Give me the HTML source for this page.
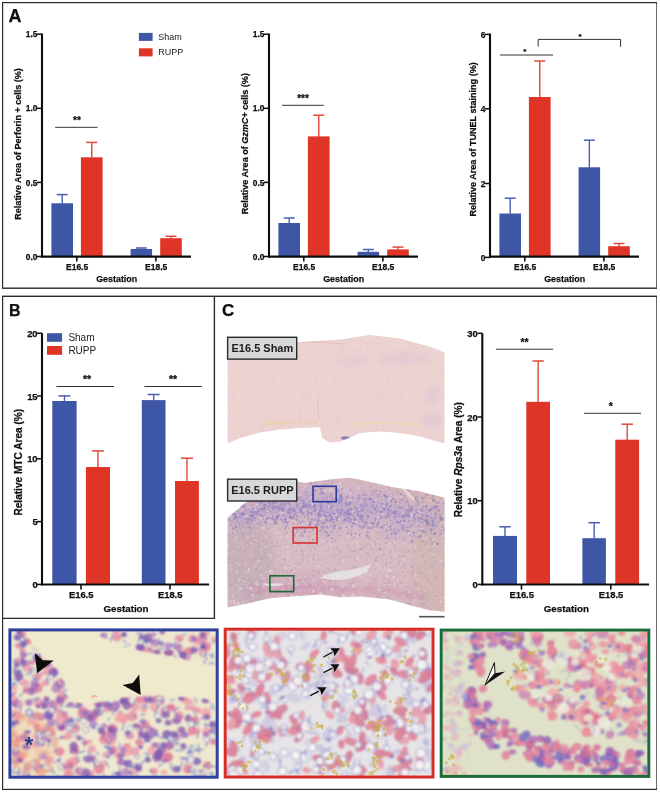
<!DOCTYPE html>
<html><head><meta charset="utf-8"><title>Figure</title>
<style>html,body{margin:0;padding:0;background:#fff;width:660px;height:793px;overflow:hidden}
svg{display:block;font-family:"Liberation Sans", sans-serif}</style></head>
<body>
<svg width="660" height="793" viewBox="0 0 660 793" font-family='"Liberation Sans", sans-serif'>
<rect x="0.00" y="0.00" width="660.00" height="793.00" fill="#fff" />
<defs><filter id="soft" x="0" y="0" width="100%" height="100%"><feGaussianBlur stdDeviation="0.45"/></filter></defs><g filter="url(#soft)">
<rect x="2.5" y="2.5" width="654.5" height="285.7" fill="none" stroke="#2b2b2b" stroke-width="1.4"/>
<rect x="2.5" y="296.3" width="654.5" height="493.2" fill="none" stroke="#2b2b2b" stroke-width="1.4"/>
<polyline points="2.5,618.4 214.4,618.4 214.4,296.3" fill="none" stroke="#2b2b2b" stroke-width="1.4"/>
<text x="8.60" y="21.90" font-size="18" text-anchor="start" font-weight="bold" fill="#111" stroke="#111" stroke-width="0.25" >A</text>
<text x="9.00" y="316.10" font-size="16" text-anchor="start" font-weight="bold" fill="#111" stroke="#111" stroke-width="0.25" >B</text>
<text x="221.90" y="316.40" font-size="17" text-anchor="start" font-weight="bold" fill="#111" stroke="#111" stroke-width="0.25" >C</text>
<rect x="51.40" y="203.30" width="21.60" height="53.20" fill="#3d56a6" />
<line x1="62.20" y1="194.60" x2="62.20" y2="203.80" stroke="#4a5fae" stroke-width="1.4" />
<line x1="56.70" y1="194.60" x2="67.70" y2="194.60" stroke="#4a5fae" stroke-width="1.5" />
<rect x="80.90" y="157.30" width="21.70" height="99.20" fill="#df3626" />
<line x1="91.75" y1="142.40" x2="91.75" y2="157.80" stroke="#e0483a" stroke-width="1.4" />
<line x1="86.25" y1="142.40" x2="97.25" y2="142.40" stroke="#e0483a" stroke-width="1.5" />
<rect x="130.60" y="249.00" width="21.50" height="7.50" fill="#3d56a6" />
<line x1="141.35" y1="248.00" x2="141.35" y2="249.50" stroke="#4a5fae" stroke-width="1.4" />
<line x1="135.85" y1="248.00" x2="146.85" y2="248.00" stroke="#4a5fae" stroke-width="1.5" />
<rect x="160.20" y="238.20" width="21.60" height="18.30" fill="#df3626" />
<line x1="171.00" y1="236.30" x2="171.00" y2="238.70" stroke="#e0483a" stroke-width="1.4" />
<line x1="165.50" y1="236.30" x2="176.50" y2="236.30" stroke="#e0483a" stroke-width="1.5" />
<line x1="42.00" y1="33.50" x2="42.00" y2="257.60" stroke="#111" stroke-width="2.1" />
<line x1="41.00" y1="256.60" x2="191.00" y2="256.60" stroke="#111" stroke-width="2.1" />
<line x1="37.00" y1="34.20" x2="42.00" y2="34.20" stroke="#111" stroke-width="1.5" />
<text x="37.40" y="37.30" font-size="8.4" text-anchor="end" font-weight="bold" fill="#111" stroke="#111" stroke-width="0.25" >1.5</text>
<line x1="37.00" y1="108.30" x2="42.00" y2="108.30" stroke="#111" stroke-width="1.5" />
<text x="37.40" y="111.40" font-size="8.4" text-anchor="end" font-weight="bold" fill="#111" stroke="#111" stroke-width="0.25" >1.0</text>
<line x1="37.00" y1="182.40" x2="42.00" y2="182.40" stroke="#111" stroke-width="1.5" />
<text x="37.40" y="185.50" font-size="8.4" text-anchor="end" font-weight="bold" fill="#111" stroke="#111" stroke-width="0.25" >0.5</text>
<line x1="37.00" y1="256.50" x2="42.00" y2="256.50" stroke="#111" stroke-width="1.5" />
<text x="37.40" y="259.60" font-size="8.4" text-anchor="end" font-weight="bold" fill="#111" stroke="#111" stroke-width="0.25" >0.0</text>
<line x1="76.80" y1="256.50" x2="76.80" y2="261.40" stroke="#111" stroke-width="1.6" />
<text x="77.10" y="269.70" font-size="8.5" text-anchor="middle" font-weight="bold" fill="#111" stroke="#111" stroke-width="0.25" >E16.5</text>
<line x1="155.90" y1="256.50" x2="155.90" y2="261.40" stroke="#111" stroke-width="1.6" />
<text x="156.20" y="269.70" font-size="8.5" text-anchor="middle" font-weight="bold" fill="#111" stroke="#111" stroke-width="0.25" >E18.5</text>
<text x="116.70" y="281.80" font-size="8.9" text-anchor="middle" font-weight="bold" fill="#111" stroke="#111" stroke-width="0.25" >Gestation</text>
<text transform="translate(21.0,143.9) rotate(-90)" font-size="9.0" text-anchor="middle" font-weight="bold" fill="#111" stroke="#111" stroke-width="0.25">Relative Area of Perforin + cells (%)</text>
<line x1="55.20" y1="127.30" x2="97.60" y2="127.30" stroke="#333" stroke-width="1" />
<text x="77.00" y="124.30" font-size="10" text-anchor="middle" font-weight="bold" fill="#111" stroke="#111" stroke-width="0.25" >**</text>
<rect x="138.90" y="32.90" width="13.70" height="8.00" fill="#3d56a6" />
<rect x="138.90" y="48.30" width="13.70" height="8.10" fill="#df3626" />
<text x="158.20" y="40.20" font-size="9" text-anchor="start" font-weight="normal" fill="#222"  >Sham</text>
<text x="158.20" y="55.00" font-size="9" text-anchor="start" font-weight="normal" fill="#222"  >RUPP</text>
<rect x="278.40" y="223.00" width="21.60" height="33.50" fill="#3d56a6" />
<line x1="289.20" y1="218.00" x2="289.20" y2="223.50" stroke="#4a5fae" stroke-width="1.4" />
<line x1="283.70" y1="218.00" x2="294.70" y2="218.00" stroke="#4a5fae" stroke-width="1.5" />
<rect x="307.90" y="136.40" width="21.70" height="120.10" fill="#df3626" />
<line x1="318.75" y1="115.20" x2="318.75" y2="136.90" stroke="#e0483a" stroke-width="1.4" />
<line x1="313.25" y1="115.20" x2="324.25" y2="115.20" stroke="#e0483a" stroke-width="1.5" />
<rect x="357.60" y="251.80" width="21.50" height="4.70" fill="#3d56a6" />
<line x1="368.35" y1="249.50" x2="368.35" y2="252.30" stroke="#4a5fae" stroke-width="1.4" />
<line x1="362.85" y1="249.50" x2="373.85" y2="249.50" stroke="#4a5fae" stroke-width="1.5" />
<rect x="387.20" y="249.40" width="21.60" height="7.10" fill="#df3626" />
<line x1="398.00" y1="247.10" x2="398.00" y2="249.90" stroke="#e0483a" stroke-width="1.4" />
<line x1="392.50" y1="247.10" x2="403.50" y2="247.10" stroke="#e0483a" stroke-width="1.5" />
<line x1="269.00" y1="33.50" x2="269.00" y2="257.60" stroke="#111" stroke-width="2.1" />
<line x1="268.00" y1="256.60" x2="418.00" y2="256.60" stroke="#111" stroke-width="2.1" />
<line x1="264.00" y1="34.20" x2="269.00" y2="34.20" stroke="#111" stroke-width="1.5" />
<text x="264.40" y="37.30" font-size="8.4" text-anchor="end" font-weight="bold" fill="#111" stroke="#111" stroke-width="0.25" >1.5</text>
<line x1="264.00" y1="108.30" x2="269.00" y2="108.30" stroke="#111" stroke-width="1.5" />
<text x="264.40" y="111.40" font-size="8.4" text-anchor="end" font-weight="bold" fill="#111" stroke="#111" stroke-width="0.25" >1.0</text>
<line x1="264.00" y1="182.40" x2="269.00" y2="182.40" stroke="#111" stroke-width="1.5" />
<text x="264.40" y="185.50" font-size="8.4" text-anchor="end" font-weight="bold" fill="#111" stroke="#111" stroke-width="0.25" >0.5</text>
<line x1="264.00" y1="256.50" x2="269.00" y2="256.50" stroke="#111" stroke-width="1.5" />
<text x="264.40" y="259.60" font-size="8.4" text-anchor="end" font-weight="bold" fill="#111" stroke="#111" stroke-width="0.25" >0.0</text>
<line x1="303.80" y1="256.50" x2="303.80" y2="261.40" stroke="#111" stroke-width="1.6" />
<text x="304.10" y="269.70" font-size="8.5" text-anchor="middle" font-weight="bold" fill="#111" stroke="#111" stroke-width="0.25" >E16.5</text>
<line x1="382.90" y1="256.50" x2="382.90" y2="261.40" stroke="#111" stroke-width="1.6" />
<text x="383.20" y="269.70" font-size="8.5" text-anchor="middle" font-weight="bold" fill="#111" stroke="#111" stroke-width="0.25" >E18.5</text>
<text x="343.70" y="281.80" font-size="8.9" text-anchor="middle" font-weight="bold" fill="#111" stroke="#111" stroke-width="0.25" >Gestation</text>
<text transform="translate(248.0,143.7) rotate(-90)" font-size="9.05" text-anchor="middle" font-weight="bold" fill="#111" stroke="#111" stroke-width="0.25">Relative Area of <tspan font-style="italic">GzmC</tspan>+ cells (%)</text>
<line x1="282.00" y1="105.30" x2="323.80" y2="105.30" stroke="#333" stroke-width="1" />
<text x="303.00" y="102.30" font-size="10" text-anchor="middle" font-weight="bold" fill="#111" stroke="#111" stroke-width="0.25" >***</text>
<rect x="499.40" y="213.50" width="21.60" height="43.00" fill="#3d56a6" />
<line x1="510.20" y1="198.20" x2="510.20" y2="214.00" stroke="#4a5fae" stroke-width="1.4" />
<line x1="504.70" y1="198.20" x2="515.70" y2="198.20" stroke="#4a5fae" stroke-width="1.5" />
<rect x="528.90" y="97.00" width="21.70" height="159.50" fill="#df3626" />
<line x1="539.75" y1="61.00" x2="539.75" y2="97.50" stroke="#e0483a" stroke-width="1.4" />
<line x1="534.25" y1="61.00" x2="545.25" y2="61.00" stroke="#e0483a" stroke-width="1.5" />
<rect x="578.60" y="167.30" width="21.50" height="89.20" fill="#3d56a6" />
<line x1="589.35" y1="140.20" x2="589.35" y2="167.80" stroke="#4a5fae" stroke-width="1.4" />
<line x1="583.85" y1="140.20" x2="594.85" y2="140.20" stroke="#4a5fae" stroke-width="1.5" />
<rect x="608.20" y="246.20" width="21.60" height="10.30" fill="#df3626" />
<line x1="619.00" y1="243.50" x2="619.00" y2="246.70" stroke="#e0483a" stroke-width="1.4" />
<line x1="613.50" y1="243.50" x2="624.50" y2="243.50" stroke="#e0483a" stroke-width="1.5" />
<line x1="490.00" y1="33.50" x2="490.00" y2="257.60" stroke="#111" stroke-width="2.1" />
<line x1="489.00" y1="256.60" x2="639.00" y2="256.60" stroke="#111" stroke-width="2.1" />
<line x1="485.00" y1="34.40" x2="490.00" y2="34.40" stroke="#111" stroke-width="1.5" />
<text x="485.40" y="37.50" font-size="8.4" text-anchor="end" font-weight="bold" fill="#111" stroke="#111" stroke-width="0.25" >6</text>
<line x1="485.00" y1="108.80" x2="490.00" y2="108.80" stroke="#111" stroke-width="1.5" />
<text x="485.40" y="111.90" font-size="8.4" text-anchor="end" font-weight="bold" fill="#111" stroke="#111" stroke-width="0.25" >4</text>
<line x1="485.00" y1="183.50" x2="490.00" y2="183.50" stroke="#111" stroke-width="1.5" />
<text x="485.40" y="186.60" font-size="8.4" text-anchor="end" font-weight="bold" fill="#111" stroke="#111" stroke-width="0.25" >2</text>
<line x1="485.00" y1="257.40" x2="490.00" y2="257.40" stroke="#111" stroke-width="1.5" />
<text x="485.40" y="260.50" font-size="8.4" text-anchor="end" font-weight="bold" fill="#111" stroke="#111" stroke-width="0.25" >0</text>
<line x1="524.80" y1="256.50" x2="524.80" y2="261.40" stroke="#111" stroke-width="1.6" />
<text x="525.10" y="269.70" font-size="8.5" text-anchor="middle" font-weight="bold" fill="#111" stroke="#111" stroke-width="0.25" >E16.5</text>
<line x1="603.90" y1="256.50" x2="603.90" y2="261.40" stroke="#111" stroke-width="1.6" />
<text x="604.20" y="269.70" font-size="8.5" text-anchor="middle" font-weight="bold" fill="#111" stroke="#111" stroke-width="0.25" >E18.5</text>
<text x="564.70" y="281.80" font-size="8.9" text-anchor="middle" font-weight="bold" fill="#111" stroke="#111" stroke-width="0.25" >Gestation</text>
<text transform="translate(475.5,139.45) rotate(-90)" font-size="9.05" text-anchor="middle" font-weight="bold" fill="#111" stroke="#111" stroke-width="0.25">Relative Area of TUNEL staining (%)</text>
<line x1="500.00" y1="55.00" x2="553.00" y2="55.00" stroke="#777" stroke-width="1.3" />
<text x="524.80" y="53.50" font-size="8" text-anchor="middle" font-weight="bold" fill="#111" stroke="#111" stroke-width="0.25" >*</text>
<polyline points="538.2,46.5 538.2,39.4 620.6,39.4 620.6,46.8" fill="none" stroke="#333" stroke-width="1"/>
<text x="580.00" y="39.20" font-size="8" text-anchor="middle" font-weight="bold" fill="#111" stroke="#111" stroke-width="0.25" >*</text>
<rect x="52.30" y="401.00" width="24.30" height="183.40" fill="#3d56a6" />
<line x1="64.45" y1="395.90" x2="64.45" y2="401.50" stroke="#4a5fae" stroke-width="1.4" />
<line x1="58.45" y1="395.90" x2="70.45" y2="395.90" stroke="#4a5fae" stroke-width="1.5" />
<rect x="85.90" y="467.00" width="24.10" height="117.40" fill="#df3626" />
<line x1="97.95" y1="450.90" x2="97.95" y2="467.50" stroke="#e0483a" stroke-width="1.4" />
<line x1="91.95" y1="450.90" x2="103.95" y2="450.90" stroke="#e0483a" stroke-width="1.5" />
<rect x="141.80" y="400.10" width="23.70" height="184.30" fill="#3d56a6" />
<line x1="153.65" y1="394.50" x2="153.65" y2="400.60" stroke="#4a5fae" stroke-width="1.4" />
<line x1="147.65" y1="394.50" x2="159.65" y2="394.50" stroke="#4a5fae" stroke-width="1.5" />
<rect x="175.00" y="481.00" width="23.90" height="103.40" fill="#df3626" />
<line x1="186.95" y1="458.20" x2="186.95" y2="481.50" stroke="#e0483a" stroke-width="1.4" />
<line x1="180.95" y1="458.20" x2="192.95" y2="458.20" stroke="#e0483a" stroke-width="1.5" />
<line x1="42.00" y1="333.20" x2="42.00" y2="585.50" stroke="#111" stroke-width="2.1" />
<line x1="41.00" y1="584.50" x2="209.10" y2="584.50" stroke="#111" stroke-width="2.1" />
<line x1="37.00" y1="333.20" x2="42.00" y2="333.20" stroke="#111" stroke-width="1.5" />
<text x="37.60" y="336.70" font-size="9.4" text-anchor="end" font-weight="bold" fill="#111" stroke="#111" stroke-width="0.25" >20</text>
<line x1="37.00" y1="396.00" x2="42.00" y2="396.00" stroke="#111" stroke-width="1.5" />
<text x="37.60" y="399.50" font-size="9.4" text-anchor="end" font-weight="bold" fill="#111" stroke="#111" stroke-width="0.25" >15</text>
<line x1="37.00" y1="458.80" x2="42.00" y2="458.80" stroke="#111" stroke-width="1.5" />
<text x="37.60" y="462.30" font-size="9.4" text-anchor="end" font-weight="bold" fill="#111" stroke="#111" stroke-width="0.25" >10</text>
<line x1="37.00" y1="521.60" x2="42.00" y2="521.60" stroke="#111" stroke-width="1.5" />
<text x="37.60" y="525.10" font-size="9.4" text-anchor="end" font-weight="bold" fill="#111" stroke="#111" stroke-width="0.25" >5</text>
<line x1="37.00" y1="584.40" x2="42.00" y2="584.40" stroke="#111" stroke-width="1.5" />
<text x="37.60" y="587.90" font-size="9.4" text-anchor="end" font-weight="bold" fill="#111" stroke="#111" stroke-width="0.25" >0</text>
<line x1="81.00" y1="584.40" x2="81.00" y2="589.60" stroke="#111" stroke-width="1.6" />
<text x="81.20" y="598.40" font-size="9.4" text-anchor="middle" font-weight="bold" fill="#111" stroke="#111" stroke-width="0.25" >E16.5</text>
<line x1="170.00" y1="584.40" x2="170.00" y2="589.60" stroke="#111" stroke-width="1.6" />
<text x="170.20" y="598.40" font-size="9.4" text-anchor="middle" font-weight="bold" fill="#111" stroke="#111" stroke-width="0.25" >E18.5</text>
<text x="126.00" y="612.20" font-size="9.8" text-anchor="middle" font-weight="bold" fill="#111" stroke="#111" stroke-width="0.25" >Gestation</text>
<line x1="56.40" y1="386.50" x2="114.00" y2="386.50" stroke="#333" stroke-width="1" />
<text x="87.00" y="383.00" font-size="10.5" text-anchor="middle" font-weight="bold" fill="#111" stroke="#111" stroke-width="0.25" >**</text>
<line x1="144.40" y1="386.50" x2="201.90" y2="386.50" stroke="#333" stroke-width="1" />
<text x="173.10" y="383.00" font-size="10.5" text-anchor="middle" font-weight="bold" fill="#111" stroke="#111" stroke-width="0.25" >**</text>
<rect x="47.00" y="333.20" width="15.10" height="8.60" fill="#3d56a6" />
<rect x="47.00" y="346.00" width="15.10" height="8.80" fill="#df3626" />
<text x="68.40" y="341.00" font-size="10" text-anchor="start" font-weight="normal" fill="#222"  >Sham</text>
<text x="68.40" y="353.60" font-size="10" text-anchor="start" font-weight="normal" fill="#222"  >RUPP</text>
<text transform="translate(21.8,462.2) rotate(-90)" font-size="10.1" text-anchor="middle" font-weight="bold" fill="#111" stroke="#111" stroke-width="0.25">Relative MTC Area (%)</text>
<rect x="493.00" y="535.90" width="24.00" height="48.50" fill="#3d56a6" />
<line x1="505.00" y1="526.80" x2="505.00" y2="536.40" stroke="#4a5fae" stroke-width="1.4" />
<line x1="499.25" y1="526.80" x2="510.75" y2="526.80" stroke="#4a5fae" stroke-width="1.5" />
<rect x="526.30" y="401.80" width="23.70" height="182.60" fill="#df3626" />
<line x1="538.15" y1="361.00" x2="538.15" y2="402.30" stroke="#e0483a" stroke-width="1.4" />
<line x1="532.40" y1="361.00" x2="543.90" y2="361.00" stroke="#e0483a" stroke-width="1.5" />
<rect x="582.40" y="538.20" width="23.50" height="46.20" fill="#3d56a6" />
<line x1="594.15" y1="522.70" x2="594.15" y2="538.70" stroke="#4a5fae" stroke-width="1.4" />
<line x1="588.40" y1="522.70" x2="599.90" y2="522.70" stroke="#4a5fae" stroke-width="1.5" />
<rect x="615.30" y="439.70" width="23.80" height="144.70" fill="#df3626" />
<line x1="627.20" y1="424.20" x2="627.20" y2="440.20" stroke="#e0483a" stroke-width="1.4" />
<line x1="621.45" y1="424.20" x2="632.95" y2="424.20" stroke="#e0483a" stroke-width="1.5" />
<line x1="482.30" y1="333.30" x2="482.30" y2="585.50" stroke="#111" stroke-width="2.1" />
<line x1="481.30" y1="584.50" x2="649.10" y2="584.50" stroke="#111" stroke-width="2.1" />
<line x1="477.50" y1="333.30" x2="482.30" y2="333.30" stroke="#111" stroke-width="1.5" />
<text x="477.80" y="336.80" font-size="9.4" text-anchor="end" font-weight="bold" fill="#111" stroke="#111" stroke-width="0.25" >30</text>
<line x1="477.50" y1="417.00" x2="482.30" y2="417.00" stroke="#111" stroke-width="1.5" />
<text x="477.80" y="420.50" font-size="9.4" text-anchor="end" font-weight="bold" fill="#111" stroke="#111" stroke-width="0.25" >20</text>
<line x1="477.50" y1="500.70" x2="482.30" y2="500.70" stroke="#111" stroke-width="1.5" />
<text x="477.80" y="504.20" font-size="9.4" text-anchor="end" font-weight="bold" fill="#111" stroke="#111" stroke-width="0.25" >10</text>
<line x1="477.50" y1="584.40" x2="482.30" y2="584.40" stroke="#111" stroke-width="1.5" />
<text x="477.80" y="587.90" font-size="9.4" text-anchor="end" font-weight="bold" fill="#111" stroke="#111" stroke-width="0.25" >0</text>
<line x1="521.50" y1="584.40" x2="521.50" y2="589.60" stroke="#111" stroke-width="1.6" />
<text x="521.70" y="598.40" font-size="9.4" text-anchor="middle" font-weight="bold" fill="#111" stroke="#111" stroke-width="0.25" >E16.5</text>
<line x1="610.80" y1="584.40" x2="610.80" y2="589.60" stroke="#111" stroke-width="1.6" />
<text x="611.00" y="598.40" font-size="9.4" text-anchor="middle" font-weight="bold" fill="#111" stroke="#111" stroke-width="0.25" >E18.5</text>
<text x="566.30" y="612.40" font-size="9.8" text-anchor="middle" font-weight="bold" fill="#111" stroke="#111" stroke-width="0.25" >Gestation</text>
<line x1="495.90" y1="349.20" x2="553.10" y2="349.20" stroke="#333" stroke-width="1" />
<text x="524.50" y="345.70" font-size="10.5" text-anchor="middle" font-weight="bold" fill="#111" stroke="#111" stroke-width="0.25" >**</text>
<line x1="584.10" y1="413.30" x2="641.00" y2="413.30" stroke="#333" stroke-width="1" />
<text x="610.80" y="409.80" font-size="10.5" text-anchor="middle" font-weight="bold" fill="#111" stroke="#111" stroke-width="0.25" >*</text>
<text transform="translate(461.8,459.75) rotate(-90)" font-size="10.1" text-anchor="middle" font-weight="bold" fill="#111" stroke="#111" stroke-width="0.25">Relative <tspan font-style="italic">Rps3a</tspan> Area (%)</text>
<defs>
<filter id="bl" x="-5%" y="-5%" width="110%" height="110%"><feGaussianBlur stdDeviation="0.6"/></filter>
<filter id="bl1" x="-5%" y="-5%" width="110%" height="110%"><feGaussianBlur stdDeviation="1"/></filter>
<filter id="bl2" x="-10%" y="-10%" width="120%" height="120%"><feGaussianBlur stdDeviation="2.5"/></filter>
<filter id="bl4" x="-20%" y="-20%" width="140%" height="140%"><feGaussianBlur stdDeviation="4"/></filter>
<clipPath id="cb"><rect x="11" y="631" width="205" height="145"/></clipPath>
<clipPath id="cr"><rect x="226.5" y="630.7" width="205" height="145"/></clipPath>
<clipPath id="cg"><rect x="442.7" y="631.5" width="204.7" height="143.5"/></clipPath>
<clipPath id="csham"><polygon points="227.6,345.0 260.0,343.5 300.0,342.0 340.0,339.5 370.0,335.0 400.0,338.6 430.0,346.8 444.5,352.3 444.5,443.6 420.0,436.6 400.0,433.1 380.0,431.4 360.0,433.1 350.0,437.6 340.0,441.8 330.0,442.5 322.0,438.0 320.0,427.2 300.0,427.9 280.0,429.6 260.0,432.4 240.0,438.3 227.6,443.6"/></clipPath>
<clipPath id="crupp"><polygon points="227.6,517.7 237.0,510.0 245.0,503.0 260.0,492.0 280.0,484.0 297.0,481.4 305.0,483.0 330.0,479.5 350.0,477.7 375.0,483.0 390.0,486.8 420.0,491.4 444.5,497.7 444.5,611.6 430.0,610.2 410.0,605.3 390.0,599.4 360.0,596.4 340.0,597.3 320.0,594.5 290.0,596.4 270.0,598.2 250.0,602.7 227.6,607.6"/></clipPath>
<linearGradient id="rg" x1="0" y1="0" x2="0" y2="1"><stop offset="0" stop-color="#d2b6c8"/><stop offset="0.5" stop-color="#d8bcc4"/><stop offset="1" stop-color="#d6b8bf"/></linearGradient>
</defs>
<polygon points="227.6,345.0 260.0,343.5 300.0,342.0 340.0,339.5 370.0,335.0 400.0,338.6 430.0,346.8 444.5,352.3 444.5,443.6 420.0,436.6 400.0,433.1 380.0,431.4 360.0,433.1 350.0,437.6 340.0,441.8 330.0,442.5 322.0,438.0 320.0,427.2 300.0,427.9 280.0,429.6 260.0,432.4 240.0,438.3 227.6,443.6" fill="#ecd2d1"/>
<g clip-path="url(#csham)">
<g filter="url(#bl)"><g fill="#e6c8c8" opacity="0.6" ><circle cx="236.1" cy="443" r="1.4"/><circle cx="369.6" cy="402.3" r="0.6"/><circle cx="268.5" cy="360.9" r="0.5"/><circle cx="381.3" cy="369" r="0.7"/><circle cx="435.9" cy="428.1" r="0.5"/><circle cx="392.3" cy="347.1" r="0.7"/><circle cx="367.3" cy="346.9" r="0.9"/><circle cx="273.5" cy="362.7" r="1.2"/><circle cx="298.7" cy="366.9" r="0.6"/><circle cx="358.6" cy="380.8" r="0.6"/><circle cx="380.6" cy="362.5" r="1.2"/><circle cx="311.7" cy="415.6" r="1"/><circle cx="335.4" cy="402.2" r="1.3"/><circle cx="282.8" cy="335.3" r="0.8"/><circle cx="334.7" cy="369" r="1.3"/><circle cx="364.2" cy="383.6" r="1.1"/><circle cx="369.8" cy="423.6" r="1.4"/><circle cx="309.1" cy="397.1" r="1.3"/><circle cx="273.5" cy="433.9" r="1.4"/><circle cx="296.8" cy="435" r="1.3"/><circle cx="303" cy="343.2" r="0.9"/><circle cx="401.4" cy="353.2" r="0.8"/><circle cx="349.1" cy="368.6" r="0.8"/><circle cx="351.9" cy="356.3" r="1"/><circle cx="396.9" cy="336.5" r="0.7"/><circle cx="276.5" cy="410.3" r="0.8"/><circle cx="322.2" cy="375.7" r="0.9"/><circle cx="420.5" cy="348.9" r="0.7"/><circle cx="337.2" cy="418.2" r="1"/><circle cx="250.1" cy="338.2" r="1"/><circle cx="442.9" cy="436.9" r="0.6"/><circle cx="338.7" cy="335.7" r="1.3"/><circle cx="364.2" cy="378.9" r="1"/><circle cx="336.9" cy="443.1" r="1.2"/><circle cx="370.8" cy="397.2" r="1"/><circle cx="281.7" cy="434.5" r="1"/><circle cx="337.7" cy="441.4" r="1"/><circle cx="318.7" cy="392.5" r="1"/><circle cx="236.3" cy="351.4" r="1.2"/><circle cx="312" cy="433.6" r="1.2"/><circle cx="329.1" cy="442.6" r="1.2"/><circle cx="342.1" cy="347.8" r="0.9"/><circle cx="372.6" cy="384.6" r="0.7"/><circle cx="353.9" cy="380.6" r="1.2"/><circle cx="301.9" cy="416.7" r="1.3"/><circle cx="248.1" cy="431.1" r="0.6"/><circle cx="245.1" cy="396.6" r="0.9"/><circle cx="243.6" cy="357.7" r="1.1"/><circle cx="400.8" cy="394" r="1.3"/><circle cx="419" cy="365.2" r="0.5"/><circle cx="423" cy="343.4" r="1.1"/><circle cx="258.4" cy="416.8" r="1.1"/><circle cx="334.6" cy="393.6" r="1.1"/><circle cx="381.4" cy="435.6" r="0.9"/><circle cx="381.8" cy="423.1" r="0.9"/><circle cx="443" cy="375.7" r="0.7"/><circle cx="250.7" cy="354.5" r="0.7"/><circle cx="264.6" cy="418.1" r="0.8"/><circle cx="301.6" cy="394.8" r="1.4"/><circle cx="365.9" cy="444.2" r="0.7"/><circle cx="227.3" cy="425.2" r="1.3"/><circle cx="329.2" cy="440.1" r="1"/><circle cx="317.9" cy="435.8" r="0.6"/><circle cx="294.9" cy="368.5" r="0.6"/><circle cx="270.6" cy="415.2" r="0.8"/><circle cx="433" cy="396.5" r="1.2"/><circle cx="315.7" cy="342.1" r="1.3"/><circle cx="399.1" cy="407.3" r="1"/><circle cx="368.9" cy="345.8" r="0.8"/><circle cx="346.4" cy="342.5" r="0.5"/><circle cx="370.5" cy="368.1" r="1.1"/><circle cx="413.4" cy="379.4" r="0.9"/><circle cx="399.7" cy="347.7" r="1"/><circle cx="434.3" cy="334.1" r="0.7"/><circle cx="292.2" cy="370" r="0.6"/><circle cx="422.1" cy="424.5" r="0.9"/><circle cx="428.1" cy="433.5" r="0.7"/><circle cx="409.7" cy="373.3" r="0.9"/><circle cx="370.5" cy="420.9" r="1"/><circle cx="382.8" cy="397.6" r="1.3"/><circle cx="335.2" cy="382.2" r="0.9"/><circle cx="284.3" cy="422.6" r="0.6"/><circle cx="240.3" cy="379.6" r="0.8"/><circle cx="274.2" cy="441.7" r="0.5"/><circle cx="333.7" cy="418.5" r="1.4"/><circle cx="257.9" cy="377.6" r="0.8"/><circle cx="319.5" cy="342.5" r="0.5"/><circle cx="279.7" cy="385.2" r="1.3"/><circle cx="420.2" cy="385.3" r="0.9"/><circle cx="346.8" cy="352.2" r="0.7"/><circle cx="382.9" cy="363.8" r="0.8"/><circle cx="256.6" cy="412.4" r="0.7"/><circle cx="278.1" cy="404.2" r="0.6"/><circle cx="319.1" cy="350.7" r="1"/><circle cx="232" cy="377.4" r="0.8"/><circle cx="425.3" cy="338.2" r="0.6"/><circle cx="337.5" cy="368.3" r="0.8"/><circle cx="440" cy="350.6" r="0.7"/><circle cx="279.2" cy="388.8" r="1.1"/><circle cx="362.5" cy="388.5" r="1"/><circle cx="281.9" cy="413.4" r="0.8"/><circle cx="299.8" cy="418.3" r="1.3"/><circle cx="318.4" cy="404.1" r="0.9"/><circle cx="430.5" cy="443.8" r="0.5"/><circle cx="378.3" cy="394.6" r="1.2"/><circle cx="430.5" cy="361.9" r="0.9"/><circle cx="306.8" cy="362.8" r="0.5"/><circle cx="241" cy="433.1" r="0.8"/><circle cx="444.4" cy="356.4" r="1.3"/><circle cx="323.6" cy="426.5" r="1.2"/><circle cx="314.7" cy="412.3" r="0.7"/><circle cx="389" cy="394.6" r="1.1"/><circle cx="303.4" cy="381.8" r="0.5"/><circle cx="416.1" cy="348.1" r="1.4"/><circle cx="334.1" cy="360" r="1.3"/><circle cx="400.9" cy="390.8" r="1.4"/><circle cx="415.5" cy="426.6" r="0.6"/><circle cx="287.7" cy="400.9" r="1.1"/><circle cx="326.2" cy="437.6" r="0.8"/><circle cx="384.6" cy="408.3" r="0.8"/><circle cx="443.4" cy="377.9" r="1.2"/><circle cx="313" cy="416.3" r="0.6"/><circle cx="386.3" cy="420.1" r="0.6"/><circle cx="337.6" cy="347.8" r="1"/><circle cx="255.3" cy="343.8" r="1"/><circle cx="382.3" cy="351.4" r="1"/><circle cx="420.3" cy="439.1" r="1"/><circle cx="336.2" cy="434.3" r="0.9"/><circle cx="307.2" cy="381.6" r="0.9"/><circle cx="305.1" cy="381.8" r="0.9"/><circle cx="275.5" cy="345" r="0.8"/><circle cx="238.6" cy="344.3" r="0.7"/><circle cx="387.6" cy="380.4" r="1.1"/><circle cx="309.4" cy="383.7" r="0.9"/><circle cx="372.2" cy="394.8" r="0.6"/><circle cx="349.1" cy="436.4" r="0.7"/><circle cx="410.6" cy="373.8" r="1"/><circle cx="379" cy="359.9" r="0.7"/><circle cx="349" cy="442.3" r="1.3"/><circle cx="354" cy="433.8" r="1.3"/><circle cx="383.6" cy="366.3" r="1.3"/><circle cx="290.9" cy="362.1" r="0.6"/><circle cx="350.4" cy="372.7" r="0.7"/><circle cx="249.2" cy="396.8" r="0.6"/><circle cx="376.4" cy="428.9" r="1.2"/><circle cx="267.2" cy="392.5" r="0.8"/><circle cx="233.9" cy="346.4" r="1.3"/><circle cx="407.9" cy="410.4" r="1"/><circle cx="227.1" cy="341.5" r="1.2"/><circle cx="267.2" cy="359.8" r="0.8"/><circle cx="230" cy="389.4" r="0.8"/><circle cx="269" cy="349.1" r="1.1"/><circle cx="419.4" cy="414.6" r="1.4"/><circle cx="293.9" cy="354.3" r="0.6"/><circle cx="439" cy="385" r="1"/><circle cx="361.9" cy="375" r="0.9"/><circle cx="412.9" cy="431.9" r="0.6"/><circle cx="264.3" cy="414.3" r="0.7"/><circle cx="428.1" cy="391.1" r="0.8"/><circle cx="227.4" cy="389.1" r="0.7"/><circle cx="323.5" cy="343.4" r="1.2"/><circle cx="319.9" cy="395.6" r="1.4"/><circle cx="404.6" cy="367.7" r="0.7"/><circle cx="301.8" cy="421.9" r="1"/><circle cx="267.5" cy="411.1" r="1.2"/><circle cx="232" cy="351.9" r="1.2"/><circle cx="378.4" cy="391.3" r="0.8"/><circle cx="434.5" cy="402.8" r="1.4"/><circle cx="340.9" cy="388.2" r="0.5"/><circle cx="389.3" cy="361.7" r="0.7"/><circle cx="330.3" cy="440.5" r="0.6"/><circle cx="394" cy="340.3" r="0.6"/><circle cx="321.3" cy="345.8" r="0.9"/><circle cx="352" cy="416.6" r="0.9"/><circle cx="238.9" cy="386.6" r="0.5"/><circle cx="242.9" cy="377.4" r="0.9"/><circle cx="283.1" cy="421.8" r="1.1"/><circle cx="316.6" cy="367.7" r="1.2"/><circle cx="230.6" cy="380.2" r="1.2"/><circle cx="283.6" cy="402.1" r="0.7"/><circle cx="421.8" cy="407.6" r="0.8"/><circle cx="359.1" cy="385.1" r="1"/><circle cx="305.1" cy="393.6" r="0.5"/><circle cx="281.4" cy="353.7" r="0.6"/><circle cx="245.7" cy="422.1" r="1.2"/><circle cx="300.5" cy="431.5" r="0.7"/><circle cx="404.1" cy="397.3" r="1"/><circle cx="301.4" cy="382.8" r="0.9"/><circle cx="407.4" cy="435.6" r="1.1"/><circle cx="274.1" cy="432" r="1.3"/></g><g fill="#f0d8d6" opacity="0.6" ><circle cx="340.2" cy="405.1" r="0.9"/><circle cx="290" cy="341.8" r="1.2"/><circle cx="364.2" cy="420.4" r="0.7"/><circle cx="265.7" cy="396.1" r="0.9"/><circle cx="273.4" cy="363.9" r="1.4"/><circle cx="425" cy="424.8" r="0.7"/><circle cx="269.9" cy="439.5" r="1.3"/><circle cx="235.4" cy="440.9" r="0.7"/><circle cx="348.9" cy="428.6" r="1.1"/><circle cx="377.7" cy="398.9" r="0.6"/><circle cx="359.7" cy="342.9" r="1.1"/><circle cx="426.3" cy="431.7" r="0.8"/><circle cx="399.5" cy="336.1" r="0.6"/><circle cx="278.8" cy="349.6" r="0.5"/><circle cx="376.2" cy="356.1" r="0.9"/><circle cx="347" cy="419.3" r="0.9"/><circle cx="412.5" cy="441.5" r="1"/><circle cx="438.3" cy="391.3" r="0.9"/><circle cx="377.6" cy="341.3" r="1"/><circle cx="304.5" cy="402.8" r="0.6"/><circle cx="386.3" cy="347.6" r="1"/><circle cx="342.4" cy="351.7" r="0.7"/><circle cx="277.7" cy="416.2" r="1.2"/><circle cx="385.4" cy="362.8" r="0.6"/><circle cx="254.5" cy="378.7" r="1.1"/><circle cx="230.9" cy="356.3" r="1.1"/><circle cx="425.7" cy="441.5" r="0.6"/><circle cx="339.2" cy="397.1" r="0.6"/><circle cx="267.2" cy="356.6" r="1.3"/><circle cx="240.5" cy="439.6" r="0.9"/><circle cx="266.5" cy="384.4" r="1.2"/><circle cx="329.2" cy="335.2" r="0.8"/><circle cx="311.9" cy="445" r="1.1"/><circle cx="269.6" cy="375.7" r="0.6"/><circle cx="243.6" cy="400.3" r="1.2"/><circle cx="236.8" cy="437.2" r="0.6"/><circle cx="440.6" cy="435.6" r="1.3"/><circle cx="345.1" cy="342" r="0.6"/><circle cx="374.4" cy="395.1" r="1.1"/><circle cx="319.5" cy="362.6" r="1.2"/><circle cx="297.9" cy="394.9" r="1.2"/><circle cx="244.8" cy="367.7" r="1.2"/><circle cx="378.3" cy="365.4" r="0.6"/><circle cx="427.2" cy="438.3" r="1.3"/><circle cx="306.7" cy="374.3" r="0.9"/><circle cx="339.4" cy="394.4" r="1"/><circle cx="241" cy="394.7" r="1.2"/><circle cx="280.5" cy="358.5" r="1.2"/><circle cx="300.6" cy="441.5" r="1.1"/><circle cx="407.1" cy="408" r="1.3"/><circle cx="271.6" cy="381.2" r="0.8"/><circle cx="252" cy="405.9" r="1.2"/><circle cx="266.1" cy="340.9" r="0.9"/><circle cx="275.8" cy="354.5" r="0.8"/><circle cx="283.8" cy="432.5" r="1.3"/><circle cx="332.2" cy="358.5" r="0.5"/><circle cx="229.4" cy="386.5" r="0.8"/><circle cx="407.1" cy="357.1" r="1"/><circle cx="443.2" cy="422.7" r="0.7"/><circle cx="361.3" cy="366.2" r="0.8"/><circle cx="276.4" cy="351.4" r="0.6"/><circle cx="320.1" cy="390.8" r="1.1"/><circle cx="280.3" cy="398" r="1.1"/><circle cx="349.2" cy="396.2" r="0.7"/><circle cx="266.3" cy="443.6" r="1.3"/><circle cx="351.2" cy="353.3" r="1"/><circle cx="329.4" cy="379.7" r="1.1"/><circle cx="341.5" cy="382" r="1.3"/><circle cx="242.2" cy="347.8" r="0.9"/><circle cx="293.8" cy="377.9" r="0.7"/><circle cx="271" cy="404.2" r="0.7"/><circle cx="385.2" cy="368.7" r="1.3"/><circle cx="429" cy="408" r="0.7"/><circle cx="289.2" cy="417.9" r="0.7"/><circle cx="287.8" cy="394.8" r="0.7"/><circle cx="422.6" cy="443.6" r="0.5"/><circle cx="348.2" cy="405.6" r="0.8"/><circle cx="397" cy="352.3" r="1"/><circle cx="398.5" cy="421.8" r="0.7"/><circle cx="424.8" cy="397.1" r="1"/><circle cx="235.6" cy="360.7" r="1.3"/><circle cx="277.1" cy="362.1" r="1"/><circle cx="306.4" cy="371.4" r="1.4"/><circle cx="378.4" cy="430" r="1"/><circle cx="284.2" cy="377.6" r="1.3"/><circle cx="295.1" cy="381.1" r="1"/><circle cx="439.7" cy="367.1" r="1.1"/><circle cx="310.6" cy="370.4" r="0.9"/><circle cx="346.5" cy="403.3" r="1"/><circle cx="302.6" cy="432.4" r="0.8"/><circle cx="343.4" cy="360.3" r="0.7"/><circle cx="297.8" cy="353.7" r="1"/><circle cx="400.6" cy="377.5" r="1.1"/><circle cx="407.6" cy="397" r="0.9"/><circle cx="401.7" cy="347.9" r="0.8"/><circle cx="372.9" cy="359.6" r="0.7"/><circle cx="230" cy="399" r="1.3"/><circle cx="438.6" cy="348.8" r="1.1"/><circle cx="289.4" cy="415.2" r="1.4"/><circle cx="253.2" cy="370.6" r="0.5"/><circle cx="288.9" cy="377.5" r="1.1"/><circle cx="350.4" cy="349.9" r="1.1"/><circle cx="431.7" cy="430" r="1.4"/><circle cx="252.9" cy="342.3" r="0.8"/><circle cx="441.9" cy="345.2" r="1.4"/><circle cx="276.5" cy="377.1" r="0.8"/><circle cx="424.3" cy="369.7" r="0.6"/><circle cx="344.1" cy="439.7" r="0.7"/><circle cx="418.9" cy="369.6" r="1.2"/><circle cx="267" cy="373.6" r="1.4"/><circle cx="259.3" cy="404.5" r="0.8"/><circle cx="409.6" cy="410.6" r="0.9"/><circle cx="339.3" cy="337.6" r="1.1"/><circle cx="443.4" cy="415.9" r="0.8"/><circle cx="241.1" cy="430.6" r="1.1"/><circle cx="281.7" cy="423.6" r="0.9"/><circle cx="343.9" cy="430.1" r="0.7"/><circle cx="400.7" cy="350.8" r="0.8"/><circle cx="266.6" cy="377.1" r="1.3"/><circle cx="361.5" cy="434.1" r="0.6"/><circle cx="372.7" cy="381.8" r="0.5"/><circle cx="301" cy="369" r="1.1"/><circle cx="326.6" cy="390.2" r="1.3"/><circle cx="405.9" cy="428.4" r="1"/><circle cx="368.7" cy="411.8" r="1.4"/><circle cx="263.4" cy="406" r="1.1"/><circle cx="251.2" cy="421.6" r="0.8"/><circle cx="325.5" cy="396" r="0.9"/><circle cx="233.2" cy="346.2" r="0.8"/><circle cx="298.7" cy="388.3" r="1.1"/><circle cx="295.5" cy="387.7" r="0.7"/><circle cx="239.4" cy="418.8" r="0.5"/><circle cx="441.4" cy="435.8" r="0.6"/><circle cx="252.7" cy="369.5" r="1.2"/><circle cx="317.4" cy="393.5" r="1.3"/><circle cx="374" cy="437" r="0.9"/><circle cx="241" cy="425.6" r="0.8"/><circle cx="326.4" cy="388" r="0.7"/><circle cx="377.3" cy="374.4" r="1.4"/><circle cx="385.5" cy="363.4" r="0.7"/><circle cx="287.5" cy="390.5" r="1.3"/><circle cx="359.8" cy="394.4" r="1.2"/><circle cx="340.6" cy="342.6" r="1"/><circle cx="349.4" cy="349" r="0.8"/><circle cx="333.8" cy="399.6" r="1.1"/><circle cx="300.1" cy="372.5" r="0.5"/><circle cx="341.7" cy="371.2" r="1.1"/><circle cx="298.8" cy="414.6" r="1.1"/><circle cx="393.4" cy="361.1" r="0.7"/><circle cx="311.4" cy="349" r="1.2"/><circle cx="388.6" cy="386.8" r="1.2"/><circle cx="271.8" cy="431.5" r="1.4"/><circle cx="257.9" cy="413.3" r="1.4"/><circle cx="286.5" cy="438.2" r="0.6"/><circle cx="341.9" cy="394" r="1"/><circle cx="328.4" cy="354.3" r="0.5"/><circle cx="293.3" cy="338.6" r="0.7"/><circle cx="288.9" cy="344.8" r="1.1"/><circle cx="246.6" cy="389.2" r="0.9"/><circle cx="282.5" cy="434.2" r="1"/><circle cx="376.4" cy="422.5" r="1.1"/><circle cx="403.5" cy="422.9" r="0.7"/><circle cx="241.1" cy="408.1" r="0.6"/><circle cx="441.1" cy="430.7" r="0.8"/><circle cx="441.7" cy="403.1" r="0.6"/><circle cx="385.4" cy="340.5" r="1.3"/><circle cx="321.4" cy="410.1" r="1.2"/><circle cx="423.8" cy="361.9" r="1"/><circle cx="444.4" cy="392.6" r="0.7"/><circle cx="322.4" cy="348.2" r="0.9"/><circle cx="326.1" cy="375.7" r="1.3"/><circle cx="276.3" cy="419.5" r="1"/><circle cx="273.1" cy="412.1" r="1.1"/><circle cx="330.3" cy="368.8" r="0.9"/><circle cx="354.1" cy="344.6" r="0.5"/></g><g fill="#e8cccc" opacity="0.6" ><circle cx="325.6" cy="396.1" r="1.3"/><circle cx="444.5" cy="444.5" r="1.3"/><circle cx="314.3" cy="428" r="0.8"/><circle cx="440.7" cy="378.1" r="0.6"/><circle cx="249" cy="340.6" r="1.2"/><circle cx="268.6" cy="415.2" r="0.6"/><circle cx="402.1" cy="367.8" r="1.3"/><circle cx="272.9" cy="377.8" r="1.3"/><circle cx="366.9" cy="345.1" r="1.4"/><circle cx="246.6" cy="398.7" r="0.7"/><circle cx="358.1" cy="375.3" r="0.9"/><circle cx="268.4" cy="416.1" r="1.3"/><circle cx="288.1" cy="435.8" r="0.7"/><circle cx="365.7" cy="387.5" r="1.2"/><circle cx="346" cy="415.8" r="1.3"/><circle cx="443.5" cy="431.7" r="1.2"/><circle cx="323" cy="427.1" r="0.6"/><circle cx="390.5" cy="337.3" r="1"/><circle cx="421.4" cy="370.3" r="1.1"/><circle cx="354.1" cy="369.1" r="0.6"/><circle cx="263.9" cy="384" r="0.7"/><circle cx="382.7" cy="353.9" r="0.7"/><circle cx="325.9" cy="403.4" r="1.3"/><circle cx="400.7" cy="438.8" r="0.9"/><circle cx="405.4" cy="405.2" r="1.1"/><circle cx="321.5" cy="424.5" r="1.3"/><circle cx="364.6" cy="404.9" r="1"/><circle cx="412.6" cy="401.9" r="1.3"/><circle cx="408.4" cy="380.8" r="1.2"/><circle cx="376.5" cy="355" r="0.6"/><circle cx="339.3" cy="381.7" r="1"/><circle cx="229.9" cy="411.8" r="1.3"/><circle cx="315.4" cy="355.7" r="0.6"/><circle cx="396.6" cy="424.4" r="0.9"/><circle cx="394.3" cy="418.9" r="0.9"/><circle cx="232" cy="402.3" r="1.2"/><circle cx="282.9" cy="378.6" r="0.5"/><circle cx="443.9" cy="404.8" r="1.2"/><circle cx="360.2" cy="340.5" r="1.4"/><circle cx="349.2" cy="365.5" r="1.1"/><circle cx="326.3" cy="356.6" r="0.5"/><circle cx="342.7" cy="444.7" r="1.4"/><circle cx="421.6" cy="421.1" r="1.1"/><circle cx="350.1" cy="399.7" r="1.1"/><circle cx="311.5" cy="355.6" r="1"/><circle cx="349.7" cy="353.6" r="1.2"/><circle cx="437.7" cy="406.3" r="1.2"/><circle cx="402.7" cy="426.6" r="1.3"/><circle cx="438.4" cy="340.6" r="0.8"/><circle cx="383.2" cy="344.8" r="0.9"/><circle cx="341.6" cy="351.5" r="1.2"/><circle cx="407.9" cy="406.6" r="0.5"/><circle cx="350" cy="384.8" r="0.5"/><circle cx="312.5" cy="408" r="0.7"/><circle cx="299.3" cy="425.8" r="0.6"/><circle cx="257.7" cy="344.5" r="1.1"/><circle cx="381.4" cy="354" r="0.9"/><circle cx="409.4" cy="399.8" r="0.6"/><circle cx="299.2" cy="379.7" r="0.5"/><circle cx="314.4" cy="411.7" r="1.4"/><circle cx="360.3" cy="351.6" r="1.2"/><circle cx="363.7" cy="356" r="0.6"/><circle cx="327.9" cy="347.8" r="1.4"/><circle cx="425.2" cy="444.1" r="1.2"/><circle cx="329" cy="349.9" r="0.8"/><circle cx="284.5" cy="397.1" r="0.8"/><circle cx="377.3" cy="418.1" r="1.2"/><circle cx="350.4" cy="434.5" r="1"/><circle cx="296.9" cy="340.1" r="1.2"/><circle cx="378.5" cy="392.4" r="0.7"/><circle cx="350.6" cy="434.3" r="0.6"/><circle cx="304.7" cy="399" r="0.5"/><circle cx="233.8" cy="433.7" r="0.8"/><circle cx="381.9" cy="355.8" r="0.7"/><circle cx="278.3" cy="407.8" r="1.2"/><circle cx="366.5" cy="344" r="1.4"/><circle cx="335.8" cy="337.9" r="1"/><circle cx="266.2" cy="350.9" r="0.5"/><circle cx="294.8" cy="338.7" r="0.8"/><circle cx="362.4" cy="392.3" r="0.7"/><circle cx="377.6" cy="426.2" r="1.2"/><circle cx="368.7" cy="340.5" r="0.8"/><circle cx="274" cy="372.6" r="0.7"/><circle cx="273.8" cy="385.9" r="0.8"/><circle cx="324.5" cy="444.3" r="1.1"/><circle cx="393.9" cy="414.3" r="1.3"/><circle cx="231.4" cy="369.8" r="0.8"/><circle cx="395" cy="391.6" r="0.5"/><circle cx="315.4" cy="376.9" r="1.3"/><circle cx="372.3" cy="440" r="1.3"/><circle cx="288" cy="351.6" r="0.9"/><circle cx="279.3" cy="344.3" r="0.8"/><circle cx="379.9" cy="395.4" r="1.1"/><circle cx="284.1" cy="408.2" r="0.7"/><circle cx="407.9" cy="431.6" r="0.8"/><circle cx="249.3" cy="412.2" r="0.6"/><circle cx="325.4" cy="419.7" r="0.9"/><circle cx="262.4" cy="430.2" r="1.3"/><circle cx="345.3" cy="387.6" r="0.8"/><circle cx="259" cy="353.4" r="0.6"/><circle cx="253.2" cy="369.9" r="0.5"/><circle cx="332.6" cy="380" r="1.2"/><circle cx="229.4" cy="392.5" r="1.2"/><circle cx="399.7" cy="415.6" r="0.9"/><circle cx="300" cy="416.3" r="0.7"/><circle cx="374.6" cy="439.2" r="0.8"/><circle cx="337.1" cy="397" r="0.6"/><circle cx="277.1" cy="400.7" r="1"/><circle cx="324.4" cy="399.9" r="1"/><circle cx="395" cy="395" r="1.3"/><circle cx="248.9" cy="338.1" r="0.8"/><circle cx="302.5" cy="412.1" r="0.7"/><circle cx="289.5" cy="428.8" r="1.1"/><circle cx="389" cy="400.7" r="0.9"/><circle cx="241" cy="380.5" r="0.8"/><circle cx="378.5" cy="408.6" r="0.7"/><circle cx="281.9" cy="380.7" r="0.8"/><circle cx="346" cy="345" r="1.3"/><circle cx="422.7" cy="439.4" r="0.5"/><circle cx="328.3" cy="369.1" r="1.1"/><circle cx="241.5" cy="385.3" r="0.9"/><circle cx="432.9" cy="433.4" r="0.5"/><circle cx="291.1" cy="420.3" r="0.7"/><circle cx="412.5" cy="345.6" r="1.3"/><circle cx="315.6" cy="402" r="1.3"/><circle cx="437.1" cy="379.9" r="0.5"/><circle cx="237" cy="380.2" r="0.6"/><circle cx="359.8" cy="399.4" r="0.8"/><circle cx="335.5" cy="391.3" r="1.2"/><circle cx="408.3" cy="370.4" r="0.8"/><circle cx="405.6" cy="421.5" r="1.1"/><circle cx="363.2" cy="395.3" r="1.3"/><circle cx="397.3" cy="382.9" r="1.2"/><circle cx="377.3" cy="377.1" r="1.2"/><circle cx="249.9" cy="416.4" r="0.6"/><circle cx="262.7" cy="372.8" r="1"/><circle cx="340.4" cy="377.1" r="1"/><circle cx="383.2" cy="382" r="1.1"/><circle cx="231.4" cy="393.6" r="0.7"/><circle cx="431.2" cy="374.3" r="1.2"/><circle cx="386" cy="438.7" r="1"/><circle cx="434.1" cy="346.2" r="1.3"/><circle cx="335.8" cy="355.9" r="1.1"/><circle cx="318" cy="387.9" r="0.6"/><circle cx="439.8" cy="439.4" r="1.3"/><circle cx="435.7" cy="336.7" r="0.5"/><circle cx="241.2" cy="435.5" r="0.6"/><circle cx="267.3" cy="372.6" r="0.5"/><circle cx="393.2" cy="392.5" r="1.4"/><circle cx="294.5" cy="418.4" r="1.3"/><circle cx="432.8" cy="442.5" r="0.5"/><circle cx="273.1" cy="336.2" r="0.7"/><circle cx="426.2" cy="359.9" r="1.3"/><circle cx="302.7" cy="396.1" r="0.9"/><circle cx="352.2" cy="404.1" r="0.9"/><circle cx="366.8" cy="441.7" r="0.8"/><circle cx="278.1" cy="426" r="1.2"/><circle cx="402.2" cy="442.6" r="1.3"/><circle cx="427.5" cy="336.5" r="1"/><circle cx="351.1" cy="438.7" r="1.1"/><circle cx="276.9" cy="406.6" r="1.2"/><circle cx="429.1" cy="435.2" r="0.8"/><circle cx="415" cy="393.4" r="0.9"/><circle cx="353.6" cy="360.8" r="0.8"/><circle cx="341.9" cy="439.3" r="1.1"/><circle cx="348" cy="405.2" r="1.3"/><circle cx="385.4" cy="369.4" r="1.2"/><circle cx="242.5" cy="363.9" r="1.1"/><circle cx="250" cy="439.9" r="1.3"/><circle cx="333.1" cy="399.2" r="0.8"/><circle cx="441.4" cy="347.3" r="0.8"/><circle cx="384.8" cy="439.4" r="1.1"/><circle cx="313.8" cy="444.3" r="0.7"/><circle cx="406" cy="426.9" r="0.9"/><circle cx="389.8" cy="398.3" r="0.7"/><circle cx="286.8" cy="397" r="1"/><circle cx="335" cy="352.5" r="1.1"/><circle cx="443.1" cy="397.2" r="1.4"/><circle cx="308.6" cy="407" r="0.6"/><circle cx="284.6" cy="388.3" r="1.1"/><circle cx="233.1" cy="424.9" r="1.3"/><circle cx="264.4" cy="373.4" r="1.1"/></g><g fill="#e0c6d0" opacity="0.6" ><circle cx="328.5" cy="390.4" r="1"/><circle cx="246.8" cy="423.9" r="1.1"/><circle cx="230.3" cy="392.7" r="0.6"/><circle cx="272.7" cy="435" r="0.9"/><circle cx="436.1" cy="387.7" r="1"/><circle cx="357" cy="366.6" r="0.7"/><circle cx="351.7" cy="348.6" r="0.8"/><circle cx="234.6" cy="336" r="1.3"/><circle cx="379.8" cy="440.9" r="0.5"/><circle cx="387.7" cy="412.1" r="1.2"/><circle cx="426.5" cy="373.1" r="1.1"/><circle cx="331.8" cy="359.6" r="1.1"/><circle cx="424.4" cy="407.3" r="0.9"/><circle cx="382" cy="439.5" r="0.7"/><circle cx="273.7" cy="380" r="1.1"/><circle cx="441.1" cy="384.2" r="0.6"/><circle cx="360.9" cy="417.9" r="0.9"/><circle cx="233.2" cy="423.8" r="0.6"/><circle cx="398.8" cy="349.6" r="0.6"/><circle cx="377.3" cy="439" r="0.9"/><circle cx="336.7" cy="401.2" r="0.5"/><circle cx="401.6" cy="396.5" r="0.9"/><circle cx="317.2" cy="440.2" r="1.3"/><circle cx="393.7" cy="370.3" r="0.9"/><circle cx="422.4" cy="431.7" r="1.1"/><circle cx="384.5" cy="341.8" r="0.8"/><circle cx="366.2" cy="403.3" r="0.7"/><circle cx="432.9" cy="407.9" r="0.8"/><circle cx="329.8" cy="352.8" r="0.9"/><circle cx="306.7" cy="365.7" r="1.1"/><circle cx="291.5" cy="335.6" r="0.7"/><circle cx="237.9" cy="443.8" r="1.4"/><circle cx="243" cy="434.5" r="0.9"/><circle cx="341.1" cy="438" r="1.2"/><circle cx="391.2" cy="355.1" r="0.7"/><circle cx="243.2" cy="347.3" r="1.2"/><circle cx="307.4" cy="406.6" r="1.4"/><circle cx="427.7" cy="381.5" r="0.8"/><circle cx="305" cy="414.6" r="0.8"/><circle cx="252.6" cy="412.7" r="1"/><circle cx="322.5" cy="423.1" r="0.8"/><circle cx="422.1" cy="361.6" r="0.8"/><circle cx="340.7" cy="418.9" r="0.9"/><circle cx="354.3" cy="434.9" r="0.5"/><circle cx="278.3" cy="413.6" r="1"/><circle cx="342" cy="391.3" r="0.7"/><circle cx="442.9" cy="407" r="0.7"/><circle cx="400.7" cy="413.2" r="1"/><circle cx="343.5" cy="350.7" r="1.2"/><circle cx="406.2" cy="343.1" r="0.7"/><circle cx="293.6" cy="385.9" r="1.1"/><circle cx="312.9" cy="385.3" r="1.4"/><circle cx="344.7" cy="367.1" r="0.8"/><circle cx="394.2" cy="425.1" r="0.8"/><circle cx="338" cy="421.5" r="1.2"/><circle cx="298.8" cy="437.1" r="0.8"/><circle cx="358.1" cy="347.6" r="1.2"/><circle cx="289.9" cy="433.6" r="0.7"/><circle cx="387.8" cy="376.4" r="1"/><circle cx="258.6" cy="440.5" r="1"/><circle cx="332.9" cy="444.4" r="1.3"/><circle cx="241.9" cy="435.2" r="1.4"/><circle cx="335.7" cy="437.7" r="1.4"/><circle cx="264.5" cy="431.6" r="1.4"/><circle cx="418.9" cy="339.6" r="0.6"/><circle cx="416.6" cy="413.2" r="0.6"/><circle cx="378.7" cy="438.1" r="0.9"/><circle cx="244.2" cy="358.8" r="0.8"/><circle cx="355.6" cy="359.4" r="0.8"/><circle cx="323" cy="392.6" r="1"/><circle cx="337.2" cy="427.8" r="1.1"/><circle cx="340.5" cy="439.6" r="0.7"/><circle cx="399.6" cy="360.4" r="0.6"/><circle cx="264.4" cy="362.3" r="0.6"/><circle cx="258.5" cy="384.5" r="1.2"/><circle cx="415.1" cy="356.7" r="0.8"/><circle cx="245.1" cy="431.9" r="0.8"/><circle cx="312.9" cy="360.5" r="0.5"/><circle cx="259.9" cy="400.1" r="0.5"/><circle cx="385.2" cy="407.9" r="0.6"/><circle cx="271.6" cy="365.1" r="1.1"/><circle cx="276.3" cy="366.4" r="0.8"/><circle cx="240.7" cy="378.9" r="0.5"/><circle cx="302.7" cy="433" r="1"/><circle cx="329.3" cy="402.3" r="1.4"/><circle cx="306.1" cy="398" r="1.3"/><circle cx="395.2" cy="403.6" r="1.1"/><circle cx="316.6" cy="380.1" r="0.7"/><circle cx="276.8" cy="409.5" r="0.7"/><circle cx="408.2" cy="441.5" r="0.8"/><circle cx="437.1" cy="425.5" r="0.6"/><circle cx="254.5" cy="341" r="0.6"/><circle cx="238.7" cy="362.2" r="1"/><circle cx="381.1" cy="403.2" r="1.2"/><circle cx="294.4" cy="422.9" r="1.3"/><circle cx="286.7" cy="359.3" r="0.9"/><circle cx="313.3" cy="340.4" r="1"/><circle cx="370.2" cy="403.2" r="0.7"/><circle cx="391.3" cy="368.4" r="1"/><circle cx="229.3" cy="357.3" r="1.4"/><circle cx="402.1" cy="425.9" r="1.2"/><circle cx="425.3" cy="336.6" r="1"/><circle cx="370.2" cy="424" r="0.8"/><circle cx="265.7" cy="345.7" r="0.6"/><circle cx="430.1" cy="350.9" r="0.9"/><circle cx="387.6" cy="443.8" r="0.9"/><circle cx="288" cy="405.5" r="0.6"/><circle cx="348" cy="421.4" r="0.9"/><circle cx="279.7" cy="422.8" r="1.3"/><circle cx="316" cy="350.2" r="1.1"/><circle cx="319.6" cy="425" r="0.9"/><circle cx="353.3" cy="365.6" r="1.3"/><circle cx="323.1" cy="440" r="0.8"/><circle cx="246.3" cy="374.4" r="0.8"/><circle cx="365" cy="386.1" r="0.8"/><circle cx="272.7" cy="375.1" r="0.6"/><circle cx="303.5" cy="393.5" r="1"/><circle cx="317.2" cy="340" r="0.7"/><circle cx="260.8" cy="441.7" r="1"/><circle cx="260.5" cy="424.8" r="1.2"/><circle cx="283.9" cy="346.4" r="1.3"/><circle cx="292.3" cy="416.1" r="0.7"/><circle cx="390.4" cy="388.1" r="0.5"/><circle cx="315.6" cy="441.3" r="0.5"/><circle cx="357.4" cy="374.9" r="0.8"/><circle cx="414.5" cy="378.7" r="0.8"/><circle cx="375.2" cy="343.5" r="1.4"/><circle cx="253.9" cy="431" r="0.9"/><circle cx="331.7" cy="442.8" r="0.8"/><circle cx="386.2" cy="397.8" r="0.7"/><circle cx="350.8" cy="395.2" r="0.8"/><circle cx="359.9" cy="347.4" r="1.2"/><circle cx="332.7" cy="364.3" r="0.8"/><circle cx="261.9" cy="429.4" r="1.3"/><circle cx="370.3" cy="342" r="1.3"/><circle cx="442.6" cy="368.3" r="1.3"/><circle cx="233.5" cy="397.4" r="1.4"/><circle cx="300.2" cy="411.9" r="1.3"/><circle cx="360.6" cy="402.1" r="1.3"/><circle cx="245.8" cy="391.6" r="1.4"/><circle cx="353.5" cy="418.1" r="1.2"/><circle cx="341" cy="362.3" r="1.3"/><circle cx="399.3" cy="393.9" r="0.6"/><circle cx="317.3" cy="443.9" r="0.8"/><circle cx="304.7" cy="435.1" r="1.4"/><circle cx="397.5" cy="371.5" r="1.2"/><circle cx="430.1" cy="372" r="1.3"/><circle cx="325.9" cy="375.3" r="0.6"/><circle cx="336.8" cy="351.8" r="0.8"/><circle cx="350.9" cy="366.7" r="1.2"/><circle cx="411.4" cy="385.6" r="0.7"/><circle cx="393.3" cy="378.5" r="0.5"/><circle cx="419.7" cy="398.5" r="0.9"/><circle cx="354.2" cy="351.5" r="1.4"/><circle cx="269.8" cy="357.9" r="1.3"/><circle cx="425.6" cy="437.5" r="1.1"/><circle cx="394.6" cy="421.2" r="1.3"/><circle cx="334.2" cy="376.7" r="0.8"/><circle cx="286.5" cy="354.8" r="1.1"/><circle cx="376.6" cy="438.6" r="0.8"/><circle cx="395.8" cy="371" r="0.8"/><circle cx="347.2" cy="364.3" r="1.1"/><circle cx="368.2" cy="412.4" r="0.9"/><circle cx="368.6" cy="409.6" r="1.1"/><circle cx="275.2" cy="430.1" r="1"/><circle cx="316.5" cy="378.3" r="1.3"/><circle cx="325.8" cy="369" r="1.1"/><circle cx="326.2" cy="386.6" r="1.3"/><circle cx="439.9" cy="421.2" r="0.9"/><circle cx="372.8" cy="382.3" r="1.1"/><circle cx="440.6" cy="371.9" r="1.1"/><circle cx="426" cy="340.6" r="1"/><circle cx="380.7" cy="396.3" r="1"/><circle cx="402.7" cy="380.6" r="0.6"/><circle cx="292.5" cy="410.8" r="1.1"/><circle cx="407.6" cy="376.2" r="0.7"/><circle cx="442.2" cy="358.8" r="0.7"/><circle cx="276.4" cy="374.4" r="0.7"/></g><g fill="#f0dad4" opacity="0.6" ><circle cx="267.3" cy="390.8" r="1.1"/><circle cx="399.9" cy="344.4" r="0.8"/><circle cx="328.1" cy="382.9" r="1.3"/><circle cx="371.4" cy="384.8" r="0.8"/><circle cx="246" cy="370.9" r="1.4"/><circle cx="415.9" cy="354.3" r="0.6"/><circle cx="384" cy="341.6" r="0.7"/><circle cx="230.6" cy="363.9" r="0.9"/><circle cx="240.2" cy="353.6" r="0.8"/><circle cx="421.2" cy="442.8" r="1.1"/><circle cx="296.5" cy="444.9" r="0.6"/><circle cx="423.4" cy="430.7" r="0.9"/><circle cx="399.3" cy="429.8" r="1"/><circle cx="363.2" cy="376.4" r="1"/><circle cx="374.8" cy="356.5" r="0.7"/><circle cx="270.3" cy="381.8" r="1.2"/><circle cx="335.2" cy="426.9" r="1.3"/><circle cx="233.9" cy="430.9" r="0.5"/><circle cx="381.5" cy="397.3" r="0.8"/><circle cx="326.2" cy="336.7" r="1.2"/><circle cx="266" cy="335.2" r="0.9"/><circle cx="302.4" cy="411.4" r="1"/><circle cx="399.6" cy="434.6" r="0.6"/><circle cx="430.3" cy="414.2" r="0.6"/><circle cx="369" cy="356.7" r="1.1"/><circle cx="440.1" cy="393.6" r="1.2"/><circle cx="339.6" cy="414.3" r="1.3"/><circle cx="433.9" cy="343.5" r="0.7"/><circle cx="341.8" cy="366.2" r="1.2"/><circle cx="366.3" cy="392" r="1.3"/><circle cx="411.3" cy="434" r="0.7"/><circle cx="285.7" cy="386.5" r="0.6"/><circle cx="330.9" cy="369.2" r="0.7"/><circle cx="361.7" cy="436.7" r="0.6"/><circle cx="281.6" cy="355.9" r="1"/><circle cx="423.8" cy="369.1" r="0.8"/><circle cx="428.2" cy="358.2" r="1.4"/><circle cx="401.8" cy="412.2" r="1.3"/><circle cx="283.3" cy="435.2" r="1.2"/><circle cx="379.9" cy="418.6" r="1.4"/><circle cx="331.1" cy="442" r="0.7"/><circle cx="358.6" cy="346.8" r="1.1"/><circle cx="387.1" cy="360.5" r="0.6"/><circle cx="305.3" cy="364.1" r="1.1"/><circle cx="235.6" cy="340.7" r="0.7"/><circle cx="319.7" cy="403.2" r="0.6"/><circle cx="308.4" cy="387.1" r="0.7"/><circle cx="363" cy="419.3" r="0.7"/><circle cx="376.4" cy="367.2" r="1.2"/><circle cx="296.2" cy="378.4" r="1.3"/><circle cx="245.3" cy="343.1" r="1.2"/><circle cx="435.8" cy="405.1" r="1"/><circle cx="318.7" cy="350.2" r="1.2"/><circle cx="346.5" cy="424.7" r="0.9"/><circle cx="433.6" cy="423" r="0.8"/><circle cx="261.3" cy="351.4" r="0.8"/><circle cx="283.6" cy="430.5" r="1"/><circle cx="413.9" cy="367.7" r="1.2"/><circle cx="305.4" cy="410.3" r="0.6"/><circle cx="309.2" cy="412.8" r="0.7"/><circle cx="231" cy="370.7" r="0.8"/><circle cx="423.9" cy="394.9" r="0.8"/><circle cx="336.1" cy="349.7" r="1.1"/><circle cx="442.1" cy="391.3" r="1.1"/><circle cx="409.1" cy="355.9" r="1.4"/><circle cx="256.6" cy="434.4" r="1"/><circle cx="352" cy="426.2" r="0.7"/><circle cx="402.2" cy="335.8" r="0.7"/><circle cx="366.9" cy="338.2" r="1.1"/><circle cx="423.2" cy="415.3" r="1"/><circle cx="390.9" cy="367.8" r="1"/><circle cx="336.6" cy="378" r="0.5"/><circle cx="372.1" cy="430.2" r="0.9"/><circle cx="402.5" cy="358.6" r="1.2"/><circle cx="330" cy="356.9" r="0.8"/><circle cx="308.2" cy="407.5" r="1.3"/><circle cx="236.9" cy="400.6" r="0.8"/><circle cx="281.7" cy="423.2" r="0.6"/><circle cx="327.6" cy="417.3" r="0.8"/><circle cx="429.6" cy="389.5" r="0.7"/><circle cx="278.3" cy="382.9" r="1.2"/><circle cx="333.6" cy="358.6" r="1"/><circle cx="355.3" cy="343.8" r="1.2"/><circle cx="444.2" cy="418.7" r="1.2"/><circle cx="360.2" cy="338.4" r="0.9"/><circle cx="410.8" cy="376.3" r="1.2"/><circle cx="242.9" cy="410.7" r="0.8"/><circle cx="286.8" cy="336.1" r="0.7"/><circle cx="260.5" cy="438" r="0.8"/><circle cx="274" cy="338.5" r="0.5"/><circle cx="364.4" cy="396.8" r="1.2"/><circle cx="427.4" cy="358" r="1.1"/><circle cx="320.2" cy="377.6" r="0.6"/><circle cx="330.6" cy="352.5" r="1.1"/><circle cx="335" cy="399" r="0.9"/><circle cx="298" cy="362.1" r="0.5"/><circle cx="227.2" cy="394.4" r="0.9"/><circle cx="383.1" cy="411.2" r="1.1"/><circle cx="307.6" cy="365.7" r="1.2"/><circle cx="382.5" cy="347.1" r="0.5"/><circle cx="393.9" cy="442.9" r="0.9"/><circle cx="244.1" cy="354.3" r="0.9"/><circle cx="265.3" cy="337" r="0.7"/><circle cx="366.1" cy="373.3" r="0.8"/><circle cx="336.6" cy="378.8" r="0.8"/><circle cx="250.6" cy="443.6" r="0.9"/><circle cx="436.9" cy="358.4" r="0.9"/><circle cx="380.9" cy="353.7" r="0.7"/><circle cx="367.4" cy="357.6" r="1.1"/><circle cx="420.5" cy="429.1" r="1.1"/><circle cx="372.1" cy="380.5" r="0.8"/><circle cx="368.5" cy="438.1" r="1.2"/><circle cx="442.4" cy="356.9" r="1.1"/><circle cx="418.1" cy="414.8" r="0.7"/><circle cx="266.4" cy="348.2" r="1.1"/><circle cx="328.7" cy="348.3" r="0.6"/><circle cx="432.1" cy="401.7" r="0.8"/><circle cx="269.8" cy="444.4" r="1.1"/><circle cx="387.5" cy="374" r="0.8"/><circle cx="316.7" cy="348.7" r="1.3"/><circle cx="359" cy="441.7" r="1.4"/><circle cx="370" cy="358.2" r="1.4"/><circle cx="388.8" cy="362.1" r="1.2"/><circle cx="329.2" cy="335.8" r="1.3"/><circle cx="437.6" cy="405.4" r="1.3"/><circle cx="237.8" cy="426.8" r="0.6"/><circle cx="342.1" cy="394.8" r="0.9"/><circle cx="356.4" cy="440.6" r="0.8"/><circle cx="285.9" cy="422.3" r="0.9"/><circle cx="366.2" cy="336.5" r="1.3"/><circle cx="391.1" cy="398.4" r="0.5"/><circle cx="242.6" cy="346.9" r="1.3"/><circle cx="252.8" cy="368.4" r="1.4"/><circle cx="233.8" cy="381.9" r="0.8"/><circle cx="354.7" cy="356.4" r="0.8"/><circle cx="391.2" cy="345.4" r="0.8"/><circle cx="411.7" cy="337.9" r="1.1"/><circle cx="260" cy="439.5" r="1.2"/><circle cx="402.7" cy="344.8" r="1.2"/><circle cx="274.6" cy="356.1" r="1"/><circle cx="343.5" cy="407.3" r="1.3"/><circle cx="396" cy="362.8" r="0.5"/><circle cx="277.9" cy="384.3" r="0.8"/><circle cx="240.4" cy="408" r="0.6"/><circle cx="333.2" cy="395.9" r="1.4"/><circle cx="414.2" cy="437.8" r="0.5"/><circle cx="439.6" cy="426.5" r="0.9"/><circle cx="394.9" cy="363.1" r="1"/><circle cx="326.2" cy="360" r="1.3"/><circle cx="265.3" cy="350.6" r="0.7"/><circle cx="331.4" cy="421" r="0.8"/><circle cx="278.9" cy="406.6" r="0.7"/><circle cx="309.7" cy="365.9" r="1"/><circle cx="244.8" cy="358.7" r="0.6"/><circle cx="262.5" cy="353.2" r="1.2"/><circle cx="401.2" cy="389.4" r="1.1"/><circle cx="363" cy="369.2" r="0.8"/><circle cx="344.7" cy="385.1" r="0.8"/><circle cx="337.9" cy="443.3" r="0.8"/><circle cx="333.8" cy="387.5" r="0.8"/><circle cx="410.4" cy="389.8" r="0.8"/><circle cx="242.3" cy="339.8" r="0.8"/><circle cx="317.3" cy="379.2" r="0.7"/><circle cx="435.1" cy="432.6" r="0.6"/><circle cx="237.1" cy="412.9" r="0.6"/><circle cx="324.7" cy="374.6" r="0.9"/><circle cx="373.3" cy="416.2" r="0.8"/><circle cx="355.7" cy="413" r="1.2"/><circle cx="442.2" cy="349.1" r="1.2"/><circle cx="297.8" cy="414.7" r="1.4"/><circle cx="303.9" cy="418.2" r="0.6"/><circle cx="294.8" cy="430.9" r="1.3"/><circle cx="362.1" cy="350.7" r="1.4"/><circle cx="383.6" cy="339.2" r="1.1"/><circle cx="240.7" cy="427.4" r="1"/></g></g>
<ellipse cx="405" cy="358" rx="25" ry="6" fill="#c4acd8" opacity="0.18" filter="url(#bl2)"/>
<ellipse cx="355" cy="360" rx="16" ry="5" fill="#c4acd8" opacity="0.14" filter="url(#bl2)"/>
<ellipse cx="432" cy="395" rx="8" ry="9" fill="#c4acd8" opacity="0.18" filter="url(#bl2)"/>
<ellipse cx="432" cy="420" rx="9" ry="7" fill="#c4acd8" opacity="0.22" filter="url(#bl2)"/>
<path d="M262,425 Q290,420.5 319,421.5" stroke="#ecd0b0" stroke-width="3" fill="none" filter="url(#bl1)"/>
<path d="M356,424 Q385,420 420,425" stroke="#eed6b2" stroke-width="3" fill="none" filter="url(#bl1)"/>
<path d="M250,345.5 Q300,338.5 345,344" stroke="#d49ab8" stroke-width="0.7" fill="none" opacity=".6"/>
<path d="M318,398 Q317,408 319,418" stroke="#d8a8c4" stroke-width="1" fill="none" opacity=".6" filter="url(#bl)"/>
<ellipse cx="345.5" cy="438" rx="4.5" ry="1.8" fill="#6a5aa8" opacity=".7" filter="url(#bl)"/>
</g>
<polygon points="227.6,517.7 237.0,510.0 245.0,503.0 260.0,492.0 280.0,484.0 297.0,481.4 305.0,483.0 330.0,479.5 350.0,477.7 375.0,483.0 390.0,486.8 420.0,491.4 444.5,497.7 444.5,611.6 430.0,610.2 410.0,605.3 390.0,599.4 360.0,596.4 340.0,597.3 320.0,594.5 290.0,596.4 270.0,598.2 250.0,602.7 227.6,607.6" fill="url(#rg)"/>
<g clip-path="url(#crupp)">
<ellipse cx="440" cy="565" rx="28" ry="55" fill="#ceb4ac" opacity=".6" filter="url(#bl4)"/>
<ellipse cx="420" cy="500" rx="28" ry="8" fill="#d8b8b0" opacity=".6" filter="url(#bl4)"/>
<ellipse cx="248" cy="565" rx="28" ry="45" fill="#c2adb6" opacity=".75" filter="url(#bl4)"/>
<ellipse cx="300" cy="585" rx="40" ry="12" fill="#cfa6c0" opacity=".5" filter="url(#bl4)"/>
<ellipse cx="300" cy="503" rx="40" ry="12" fill="#a898cc" opacity="0.32" filter="url(#bl4)"/>
<ellipse cx="360" cy="508" rx="42" ry="13" fill="#a898cc" opacity="0.36" filter="url(#bl4)"/>
<ellipse cx="412" cy="515" rx="22" ry="12" fill="#a898cc" opacity="0.3" filter="url(#bl4)"/>
<ellipse cx="252" cy="515" rx="20" ry="9" fill="#a898cc" opacity="0.26" filter="url(#bl4)"/>
<ellipse cx="330" cy="528" rx="16" ry="8" fill="#a898cc" opacity="0.22" filter="url(#bl4)"/>
<ellipse cx="392" cy="532" rx="14" ry="8" fill="#a898cc" opacity="0.22" filter="url(#bl4)"/>
<ellipse cx="430" cy="530" rx="10" ry="9" fill="#a898cc" opacity="0.22" filter="url(#bl4)"/>
<ellipse cx="238" cy="522" rx="10" ry="9" fill="#a898cc" opacity="0.22" filter="url(#bl4)"/>
<g filter="url(#bl)"><g fill="#8c80c0" opacity="0.55" ><circle cx="327.6" cy="520.8" r="1.1"/><circle cx="286.6" cy="532.5" r="0.9"/><circle cx="386.3" cy="517" r="1.6"/><circle cx="304.2" cy="504.5" r="1.3"/><circle cx="229.4" cy="503.4" r="1.6"/><circle cx="357.4" cy="511.5" r="0.9"/><circle cx="415.9" cy="538.2" r="0.7"/><circle cx="378.4" cy="494.8" r="1.1"/><circle cx="286.2" cy="527.8" r="1.3"/><circle cx="434.6" cy="518.5" r="1.2"/><circle cx="351.2" cy="510.3" r="1.1"/><circle cx="240.7" cy="486.1" r="1"/><circle cx="432.7" cy="525.7" r="0.6"/><circle cx="348.8" cy="510.4" r="0.8"/><circle cx="230.3" cy="524.4" r="1.2"/><circle cx="346.3" cy="519.5" r="1.2"/><circle cx="366" cy="514.6" r="1"/><circle cx="344.5" cy="515.6" r="1.4"/><circle cx="322.4" cy="511.4" r="0.9"/><circle cx="425.5" cy="532.6" r="1"/><circle cx="247" cy="496.3" r="1.1"/><circle cx="443.9" cy="528.3" r="1.1"/><circle cx="282.3" cy="509.9" r="1.2"/><circle cx="397.8" cy="522.3" r="1.1"/><circle cx="401.5" cy="526.7" r="0.8"/><circle cx="382.4" cy="511.3" r="1.3"/><circle cx="282.7" cy="515.5" r="1"/><circle cx="290.3" cy="509" r="0.7"/><circle cx="266.7" cy="518.7" r="0.8"/><circle cx="285.2" cy="491.7" r="0.6"/><circle cx="319.3" cy="514.3" r="1.2"/><circle cx="393.2" cy="498.5" r="1.5"/><circle cx="341" cy="501.6" r="0.8"/><circle cx="332.3" cy="506.8" r="1.3"/><circle cx="301.2" cy="502.9" r="0.7"/><circle cx="417.1" cy="501" r="1.6"/><circle cx="350.4" cy="490.4" r="0.7"/><circle cx="358.7" cy="496.1" r="1.3"/><circle cx="363.5" cy="522.5" r="0.8"/><circle cx="420.1" cy="518" r="1"/><circle cx="360.6" cy="518.5" r="1.6"/><circle cx="391.2" cy="500.7" r="1.5"/><circle cx="387.5" cy="504.8" r="1.5"/><circle cx="354.7" cy="536.9" r="0.7"/><circle cx="361.3" cy="506.6" r="1.2"/><circle cx="387.8" cy="506.9" r="0.8"/><circle cx="404.4" cy="515.6" r="0.9"/><circle cx="272.9" cy="502.8" r="1.4"/><circle cx="365.6" cy="495.1" r="1.1"/><circle cx="350.6" cy="508.5" r="1.4"/><circle cx="382.4" cy="503.9" r="1.4"/><circle cx="415.6" cy="498.8" r="1.2"/><circle cx="277.6" cy="484.6" r="1.2"/><circle cx="426.2" cy="515.3" r="0.8"/><circle cx="378.8" cy="516.6" r="1"/><circle cx="286.9" cy="500.5" r="1.3"/><circle cx="230.8" cy="519.7" r="0.7"/><circle cx="380" cy="511.5" r="1.5"/><circle cx="355.9" cy="510.8" r="1.4"/><circle cx="440.3" cy="520.7" r="0.8"/><circle cx="375.2" cy="519.3" r="1.1"/><circle cx="237.6" cy="517.6" r="1.2"/><circle cx="309.8" cy="525.1" r="1.5"/><circle cx="331.7" cy="508.5" r="1.3"/><circle cx="247.8" cy="518.8" r="1.2"/><circle cx="263.4" cy="501" r="0.9"/><circle cx="344" cy="521.1" r="1.2"/><circle cx="323.4" cy="524.6" r="1.5"/><circle cx="266.9" cy="519.5" r="1.2"/><circle cx="252.7" cy="501.5" r="1"/><circle cx="370.4" cy="499.3" r="0.8"/><circle cx="298.2" cy="511.7" r="1.4"/><circle cx="377.3" cy="524.2" r="1.2"/><circle cx="320.2" cy="526.3" r="1.5"/><circle cx="432.4" cy="523.3" r="1"/><circle cx="243.8" cy="506.7" r="1.3"/><circle cx="301.5" cy="527.4" r="1.6"/><circle cx="404.2" cy="520.9" r="1.3"/><circle cx="394.9" cy="516.7" r="1.1"/><circle cx="231.3" cy="519.9" r="1.5"/><circle cx="363.2" cy="494.9" r="1.1"/><circle cx="347.3" cy="515.3" r="0.7"/><circle cx="308.8" cy="506.8" r="0.7"/><circle cx="336.4" cy="517.8" r="1.3"/><circle cx="400.1" cy="508" r="1.3"/><circle cx="242.3" cy="502.9" r="1.6"/><circle cx="262.3" cy="502.5" r="1"/><circle cx="324.1" cy="493.6" r="0.8"/><circle cx="306" cy="505.3" r="1.5"/><circle cx="440.1" cy="517.6" r="1.5"/><circle cx="348.9" cy="514.2" r="1.4"/><circle cx="255" cy="481.1" r="1.2"/><circle cx="284.3" cy="501.7" r="0.8"/><circle cx="284.9" cy="505.8" r="0.9"/><circle cx="344.4" cy="512.1" r="1.5"/><circle cx="377.1" cy="506.2" r="1.1"/><circle cx="415.5" cy="520.9" r="0.8"/><circle cx="347.2" cy="496.7" r="1.4"/><circle cx="251.4" cy="538.2" r="0.7"/><circle cx="269.9" cy="503.1" r="1.3"/><circle cx="293.6" cy="509.2" r="1.5"/><circle cx="426.7" cy="508.8" r="0.6"/><circle cx="261" cy="515.5" r="0.7"/><circle cx="401.1" cy="521.9" r="1.1"/><circle cx="277.6" cy="515.8" r="1.4"/><circle cx="433.5" cy="524.2" r="1.6"/><circle cx="278.6" cy="508.3" r="1.3"/><circle cx="243.3" cy="500.3" r="1.3"/><circle cx="334" cy="516.8" r="0.8"/><circle cx="335.7" cy="478.5" r="0.9"/><circle cx="394.9" cy="513.3" r="1.3"/><circle cx="363.9" cy="505.1" r="0.8"/><circle cx="341.7" cy="510.5" r="1.1"/><circle cx="311" cy="508.3" r="1.3"/><circle cx="423.4" cy="506.7" r="1.1"/><circle cx="445" cy="538" r="1.2"/><circle cx="260.5" cy="521.7" r="0.6"/><circle cx="354.2" cy="515.3" r="0.9"/><circle cx="301" cy="512.9" r="0.9"/><circle cx="319" cy="520.1" r="0.7"/><circle cx="422.6" cy="519.4" r="1"/><circle cx="236.6" cy="515.6" r="1"/><circle cx="431.3" cy="517.5" r="1.2"/><circle cx="285" cy="519.2" r="1.1"/><circle cx="411.1" cy="508.1" r="1.4"/><circle cx="338.2" cy="500.6" r="0.9"/><circle cx="358.1" cy="498" r="1.2"/><circle cx="263" cy="505.5" r="0.8"/><circle cx="409.6" cy="490.2" r="1.4"/><circle cx="292.9" cy="518.2" r="1.2"/><circle cx="302.3" cy="508.2" r="0.6"/><circle cx="440.4" cy="520.1" r="1"/><circle cx="368.3" cy="516.8" r="1.3"/><circle cx="259.2" cy="505.4" r="0.8"/><circle cx="319.8" cy="511.1" r="1.3"/><circle cx="410.7" cy="526.3" r="1"/><circle cx="429.7" cy="525.8" r="1"/><circle cx="355.7" cy="512.3" r="1.5"/><circle cx="327.5" cy="506.8" r="1.2"/><circle cx="357.2" cy="508.2" r="1.6"/><circle cx="434.1" cy="507" r="1.2"/><circle cx="395.7" cy="517.6" r="0.8"/><circle cx="283.6" cy="510" r="1.3"/><circle cx="428" cy="522.9" r="1.2"/><circle cx="250" cy="519.1" r="1.5"/><circle cx="255.1" cy="512.2" r="1.3"/><circle cx="444.5" cy="510.3" r="1"/><circle cx="279.2" cy="508.7" r="1.5"/><circle cx="307.2" cy="513.9" r="1.1"/><circle cx="272" cy="518.7" r="1.5"/><circle cx="304.5" cy="516.4" r="1.1"/><circle cx="366.5" cy="505.9" r="1.1"/><circle cx="418.3" cy="517.8" r="1"/><circle cx="306.5" cy="505.9" r="0.9"/><circle cx="409.1" cy="505.5" r="1.1"/><circle cx="272.6" cy="508.7" r="0.9"/><circle cx="351.6" cy="526.1" r="1.5"/><circle cx="283.1" cy="515.1" r="1.3"/><circle cx="286.1" cy="523.6" r="1.6"/><circle cx="351.7" cy="530.1" r="0.9"/><circle cx="381.3" cy="506.6" r="0.7"/><circle cx="366.9" cy="535.9" r="1.5"/><circle cx="404.4" cy="495.7" r="1"/><circle cx="431.2" cy="509.5" r="1.5"/><circle cx="265.7" cy="504.4" r="0.7"/><circle cx="305.7" cy="503.5" r="1.5"/><circle cx="334" cy="523.6" r="1"/><circle cx="250.6" cy="516.4" r="0.9"/><circle cx="419.3" cy="525.5" r="1.3"/><circle cx="241.7" cy="513.7" r="1.1"/><circle cx="239.2" cy="516.8" r="1.3"/><circle cx="235.3" cy="497.4" r="0.8"/><circle cx="249.2" cy="508.9" r="0.6"/><circle cx="250.7" cy="515.4" r="1.4"/><circle cx="417.1" cy="496.4" r="0.8"/><circle cx="319.7" cy="516.4" r="1.1"/><circle cx="417.8" cy="520.7" r="1.1"/><circle cx="441.1" cy="507" r="0.6"/><circle cx="273.4" cy="512.9" r="0.6"/><circle cx="316.3" cy="505.5" r="1"/><circle cx="304.2" cy="529.9" r="1.6"/><circle cx="355.9" cy="511.6" r="1.6"/><circle cx="334.6" cy="526.5" r="0.7"/><circle cx="350.7" cy="520.1" r="1.2"/><circle cx="336.7" cy="489.3" r="1.2"/><circle cx="386.8" cy="527.5" r="1.1"/><circle cx="426.1" cy="506.3" r="1.2"/><circle cx="436.8" cy="513.2" r="1"/><circle cx="422.6" cy="541" r="0.8"/><circle cx="382.2" cy="527.6" r="1.5"/><circle cx="333.2" cy="519.3" r="1.2"/><circle cx="325" cy="521.8" r="1.3"/><circle cx="320.5" cy="506.5" r="1.2"/><circle cx="256.7" cy="514.6" r="1.4"/><circle cx="362.6" cy="518.1" r="0.9"/><circle cx="398.7" cy="522.5" r="1.3"/><circle cx="234.6" cy="500.4" r="0.6"/><circle cx="353.7" cy="507.5" r="0.8"/><circle cx="369" cy="499.6" r="0.9"/><circle cx="321.2" cy="504.3" r="1.6"/><circle cx="252.7" cy="520.8" r="0.9"/><circle cx="433.3" cy="523.7" r="0.7"/><circle cx="235.9" cy="518.1" r="1.6"/><circle cx="302.5" cy="520.5" r="1"/><circle cx="418.6" cy="503.9" r="1.1"/><circle cx="289.9" cy="504" r="1.2"/><circle cx="338.2" cy="511.9" r="1.1"/><circle cx="273.3" cy="505.8" r="1.2"/><circle cx="384.5" cy="494.9" r="1.3"/><circle cx="230.5" cy="504.4" r="0.7"/><circle cx="302.5" cy="505.7" r="0.7"/><circle cx="275" cy="520.3" r="1.4"/><circle cx="296.1" cy="501.6" r="1"/><circle cx="418.3" cy="536.9" r="1.1"/><circle cx="288.9" cy="503.3" r="1.4"/><circle cx="333.3" cy="512.8" r="1.4"/><circle cx="243.1" cy="504.9" r="0.9"/><circle cx="377.6" cy="510.9" r="1.5"/><circle cx="404.9" cy="515.8" r="0.9"/><circle cx="252.6" cy="515.6" r="0.9"/><circle cx="305.6" cy="528.9" r="0.9"/><circle cx="407.1" cy="512.8" r="0.8"/><circle cx="285.2" cy="505.6" r="0.7"/><circle cx="260.2" cy="509" r="0.9"/><circle cx="345.6" cy="519.2" r="1.5"/><circle cx="340.2" cy="495.8" r="1.3"/><circle cx="227.8" cy="505.8" r="1.3"/><circle cx="389.3" cy="516.2" r="1"/><circle cx="355.9" cy="510.9" r="1.4"/><circle cx="249.7" cy="498.9" r="0.7"/><circle cx="413.7" cy="517.5" r="0.8"/><circle cx="234.4" cy="510.1" r="1.5"/><circle cx="268.8" cy="496.3" r="1.1"/><circle cx="253.8" cy="518.1" r="1.1"/><circle cx="442.7" cy="513.3" r="0.7"/><circle cx="350" cy="522.3" r="1.3"/><circle cx="328" cy="513.9" r="1.2"/><circle cx="390.9" cy="520.5" r="0.8"/><circle cx="247.2" cy="522" r="1.6"/><circle cx="296.3" cy="505" r="0.6"/><circle cx="389.3" cy="506" r="0.9"/><circle cx="402.6" cy="527.9" r="1.5"/><circle cx="435.1" cy="514.2" r="1.2"/><circle cx="295.9" cy="528.8" r="1.2"/><circle cx="251.8" cy="514.6" r="1"/><circle cx="443.9" cy="530.8" r="1.5"/><circle cx="234.4" cy="499.3" r="0.8"/><circle cx="326.7" cy="526.8" r="0.8"/><circle cx="408.5" cy="526.6" r="1.1"/><circle cx="373" cy="495.1" r="1.5"/><circle cx="415.7" cy="496.7" r="0.9"/><circle cx="300.2" cy="507.4" r="1.2"/><circle cx="409" cy="521" r="1.1"/><circle cx="391.7" cy="533.9" r="1.1"/><circle cx="359" cy="500.7" r="0.8"/><circle cx="314.1" cy="505.3" r="1.4"/><circle cx="365.9" cy="523" r="0.9"/><circle cx="296.9" cy="506.5" r="1.1"/><circle cx="432.1" cy="510.1" r="0.9"/><circle cx="439.2" cy="510.2" r="1.3"/><circle cx="229.3" cy="508.3" r="1.1"/><circle cx="378.8" cy="519.9" r="0.7"/><circle cx="403.6" cy="530.4" r="1.4"/><circle cx="391.1" cy="525.8" r="0.8"/><circle cx="336.1" cy="498.6" r="1.4"/><circle cx="359.7" cy="526.5" r="1.3"/><circle cx="378.6" cy="510.6" r="1.3"/><circle cx="360.9" cy="515.8" r="1.5"/><circle cx="275.8" cy="502.5" r="1.6"/><circle cx="316" cy="525.5" r="1.4"/><circle cx="401.6" cy="516.7" r="1.5"/><circle cx="342.5" cy="499.2" r="0.7"/><circle cx="273.7" cy="507.7" r="1.6"/><circle cx="245.4" cy="505.4" r="1.3"/><circle cx="395.9" cy="511.1" r="1.3"/><circle cx="264.4" cy="508.6" r="1"/><circle cx="239" cy="515.4" r="1.2"/><circle cx="340.3" cy="509.5" r="0.6"/><circle cx="290.8" cy="518.1" r="1"/><circle cx="422" cy="511.5" r="0.9"/><circle cx="375.5" cy="517.9" r="0.6"/><circle cx="256.5" cy="514.5" r="0.9"/><circle cx="331.3" cy="531.9" r="1.1"/><circle cx="327" cy="513.5" r="1.1"/><circle cx="234.2" cy="512.5" r="0.9"/><circle cx="360.3" cy="518.4" r="1.2"/><circle cx="261.7" cy="524.6" r="0.8"/><circle cx="294.3" cy="498" r="0.9"/><circle cx="377.4" cy="496.8" r="0.7"/><circle cx="375.2" cy="520.4" r="0.8"/><circle cx="403.3" cy="536.8" r="0.7"/><circle cx="395.3" cy="511.8" r="1.6"/><circle cx="308.2" cy="517.2" r="0.7"/><circle cx="301.5" cy="510.6" r="1.5"/><circle cx="235.2" cy="486.1" r="0.7"/><circle cx="249.5" cy="512.7" r="0.7"/><circle cx="309.8" cy="505.2" r="1.1"/><circle cx="231.6" cy="488.2" r="1"/><circle cx="436.8" cy="503.1" r="1"/><circle cx="277.3" cy="514.4" r="1"/><circle cx="444.9" cy="506.2" r="0.8"/><circle cx="320.1" cy="493.6" r="1.4"/><circle cx="412.8" cy="494.3" r="1.2"/><circle cx="420.9" cy="530" r="0.9"/><circle cx="308.3" cy="503.8" r="0.6"/><circle cx="250" cy="533" r="0.7"/><circle cx="432.7" cy="521.8" r="0.8"/><circle cx="436.6" cy="506.5" r="0.8"/><circle cx="394.4" cy="519.7" r="0.6"/><circle cx="249.4" cy="493.7" r="1.2"/><circle cx="431.3" cy="529.3" r="1.2"/><circle cx="338.3" cy="517" r="0.9"/><circle cx="434.3" cy="520.4" r="0.7"/><circle cx="282.7" cy="496.3" r="1.1"/><circle cx="320.8" cy="516.2" r="1.1"/><circle cx="330.7" cy="503.9" r="0.6"/><circle cx="387" cy="502.9" r="1.2"/><circle cx="314.2" cy="506" r="1"/><circle cx="384.3" cy="510.1" r="1.5"/><circle cx="264.4" cy="504.6" r="0.6"/><circle cx="254.3" cy="517.7" r="1.2"/><circle cx="331.5" cy="518.5" r="1.4"/><circle cx="380.5" cy="491.2" r="1.4"/><circle cx="326.9" cy="533.6" r="1.1"/><circle cx="333.5" cy="521.8" r="1.1"/><circle cx="330.3" cy="520.9" r="0.9"/><circle cx="318.2" cy="501.4" r="1.1"/><circle cx="427.5" cy="521" r="1.6"/><circle cx="303.6" cy="512.4" r="1"/><circle cx="304.4" cy="506.2" r="1.1"/><circle cx="332.1" cy="538.4" r="1.1"/><circle cx="303.7" cy="503.8" r="1.3"/><circle cx="238.5" cy="498.8" r="1.3"/><circle cx="408" cy="514.2" r="1.1"/><circle cx="391" cy="529.6" r="1.2"/><circle cx="314.3" cy="506.3" r="0.7"/><circle cx="264.9" cy="494.1" r="0.6"/><circle cx="315.1" cy="490.2" r="1.5"/><circle cx="348.9" cy="504.2" r="1.5"/><circle cx="444" cy="504" r="1.4"/><circle cx="442" cy="530" r="1"/><circle cx="420.9" cy="509.6" r="1.1"/><circle cx="332.5" cy="517.8" r="1.6"/><circle cx="330.5" cy="497.2" r="0.8"/><circle cx="360.8" cy="521.1" r="0.6"/><circle cx="333" cy="527" r="0.6"/><circle cx="396.7" cy="514.6" r="1"/><circle cx="387.6" cy="515.9" r="1"/><circle cx="288.6" cy="513.2" r="1.5"/><circle cx="362.2" cy="527.9" r="1.4"/><circle cx="404.4" cy="525.7" r="0.7"/><circle cx="427.8" cy="495.5" r="0.8"/><circle cx="426.9" cy="516.9" r="0.7"/><circle cx="375.8" cy="509" r="1"/><circle cx="416.3" cy="504.8" r="0.7"/><circle cx="341.8" cy="489.3" r="1.1"/><circle cx="290.6" cy="516.4" r="0.9"/><circle cx="240.4" cy="500.4" r="0.8"/><circle cx="312.1" cy="518.9" r="1.2"/><circle cx="432.7" cy="520.4" r="1.5"/><circle cx="325.6" cy="516" r="1.1"/><circle cx="395.1" cy="538.5" r="0.9"/><circle cx="268.3" cy="506.8" r="1.4"/><circle cx="361.6" cy="505.6" r="1.2"/><circle cx="411.8" cy="541.6" r="1.5"/><circle cx="412.8" cy="504.8" r="0.7"/><circle cx="284.7" cy="504.6" r="1.2"/></g><g fill="#9a8ac6" opacity="0.55" ><circle cx="316.4" cy="515.7" r="1.2"/><circle cx="297.7" cy="529.7" r="1.6"/><circle cx="378.2" cy="506.9" r="0.7"/><circle cx="375.4" cy="522" r="0.6"/><circle cx="313.7" cy="496.6" r="0.8"/><circle cx="248.2" cy="501.7" r="0.7"/><circle cx="363.1" cy="526.8" r="1.6"/><circle cx="283.6" cy="494.3" r="1.2"/><circle cx="353.2" cy="510.7" r="0.9"/><circle cx="395.1" cy="506.8" r="0.6"/><circle cx="435.3" cy="500.9" r="0.8"/><circle cx="238.2" cy="507" r="0.7"/><circle cx="271.4" cy="512.4" r="1.3"/><circle cx="248" cy="520.9" r="1"/><circle cx="280.2" cy="509" r="0.6"/><circle cx="347.8" cy="521.1" r="1.5"/><circle cx="288.3" cy="522.5" r="1.3"/><circle cx="227.9" cy="486.6" r="1.4"/><circle cx="359.1" cy="516" r="1.2"/><circle cx="416" cy="522.5" r="0.9"/><circle cx="410" cy="525.1" r="1.2"/><circle cx="237.5" cy="492.8" r="1.4"/><circle cx="374.8" cy="522.8" r="0.8"/><circle cx="253.9" cy="512.9" r="1.5"/><circle cx="245.6" cy="495.1" r="0.8"/><circle cx="289.9" cy="507.3" r="1.3"/><circle cx="333.3" cy="500.2" r="0.8"/><circle cx="362.2" cy="515.8" r="1.4"/><circle cx="255" cy="518.6" r="1.2"/><circle cx="367.7" cy="510.5" r="1.1"/><circle cx="359.4" cy="512.1" r="0.9"/><circle cx="295.4" cy="513.6" r="1.2"/><circle cx="407.8" cy="511.1" r="1.1"/><circle cx="306.4" cy="503.6" r="0.6"/><circle cx="361.5" cy="510.7" r="1"/><circle cx="377.7" cy="532.7" r="0.7"/><circle cx="321.2" cy="521.3" r="0.7"/><circle cx="367.7" cy="532" r="1.6"/><circle cx="439.9" cy="514.8" r="1.2"/><circle cx="358.8" cy="521.5" r="1.2"/><circle cx="287.2" cy="527" r="1.3"/><circle cx="285.1" cy="528.6" r="0.8"/><circle cx="356.7" cy="525.1" r="0.9"/><circle cx="230.2" cy="519.2" r="0.7"/><circle cx="337.8" cy="521.2" r="1.2"/><circle cx="294.9" cy="535" r="1.4"/><circle cx="346.2" cy="529.8" r="0.8"/><circle cx="241.6" cy="496.4" r="1"/><circle cx="417.1" cy="512.5" r="1.3"/><circle cx="256.9" cy="512.8" r="1.2"/><circle cx="429.1" cy="504.2" r="0.8"/><circle cx="326" cy="497.2" r="0.9"/><circle cx="270.2" cy="524.4" r="0.8"/><circle cx="267.9" cy="502.3" r="1.4"/><circle cx="233" cy="504.3" r="0.6"/><circle cx="251.5" cy="512.9" r="0.8"/><circle cx="409" cy="509.1" r="0.8"/><circle cx="290.7" cy="517.9" r="1.6"/><circle cx="308.3" cy="496.4" r="1.1"/><circle cx="360.4" cy="517.6" r="1"/><circle cx="400.1" cy="502.5" r="1"/><circle cx="386" cy="505.8" r="0.7"/><circle cx="253.3" cy="505" r="0.8"/><circle cx="379.9" cy="549.1" r="1.5"/><circle cx="296.7" cy="501.5" r="1.3"/><circle cx="251.8" cy="500.1" r="1.4"/><circle cx="370.4" cy="528.3" r="1.5"/><circle cx="426.5" cy="513.3" r="0.8"/><circle cx="394.1" cy="531.4" r="1.1"/><circle cx="375.4" cy="492.2" r="0.9"/><circle cx="272" cy="507.1" r="1.6"/><circle cx="333.9" cy="513.8" r="1.4"/><circle cx="245.3" cy="509.6" r="1.1"/><circle cx="320.3" cy="530.7" r="1.4"/><circle cx="244.8" cy="514" r="0.8"/><circle cx="310.2" cy="501.6" r="1.1"/><circle cx="432.9" cy="517.5" r="0.7"/><circle cx="235.4" cy="518" r="1.1"/><circle cx="337.3" cy="510.2" r="1.5"/><circle cx="420.5" cy="521.9" r="1"/><circle cx="326.7" cy="498.7" r="0.9"/><circle cx="316" cy="510.1" r="1.2"/><circle cx="440.7" cy="533.5" r="1.3"/><circle cx="310.2" cy="482.9" r="0.8"/><circle cx="408" cy="506.1" r="1.2"/><circle cx="281.9" cy="511.6" r="1.1"/><circle cx="381.7" cy="515.8" r="0.6"/><circle cx="308.4" cy="502.9" r="1.4"/><circle cx="228.2" cy="521.1" r="0.9"/><circle cx="341.6" cy="510" r="1.5"/><circle cx="245" cy="503" r="0.7"/><circle cx="277.8" cy="513.7" r="1.1"/><circle cx="419.8" cy="518.5" r="0.6"/><circle cx="245.6" cy="486.8" r="0.9"/><circle cx="429.4" cy="523.6" r="1.2"/><circle cx="290.7" cy="502.4" r="1.1"/><circle cx="230" cy="503.3" r="0.8"/><circle cx="251.4" cy="512.7" r="0.8"/><circle cx="438.3" cy="522.2" r="1.4"/><circle cx="366.2" cy="498.9" r="1.2"/><circle cx="383.9" cy="508.8" r="0.8"/><circle cx="322.6" cy="514" r="1.6"/><circle cx="444.5" cy="518" r="1.5"/><circle cx="430.1" cy="509.5" r="0.6"/><circle cx="330.4" cy="513" r="0.9"/><circle cx="391.8" cy="513" r="1"/><circle cx="332.7" cy="498.3" r="1.2"/><circle cx="274.4" cy="522.6" r="1.2"/><circle cx="246.7" cy="480.4" r="1.3"/><circle cx="336.8" cy="517.7" r="1.5"/><circle cx="441.9" cy="519.4" r="1.6"/><circle cx="335.5" cy="528.9" r="1.2"/><circle cx="344.8" cy="503.1" r="1.5"/><circle cx="244.5" cy="507.3" r="0.9"/><circle cx="272.2" cy="505.6" r="0.9"/><circle cx="293.2" cy="485.5" r="1"/><circle cx="327.2" cy="527" r="1.5"/><circle cx="296.4" cy="519.3" r="1"/><circle cx="442.5" cy="530.9" r="1.5"/><circle cx="327.6" cy="517.6" r="0.7"/><circle cx="365.2" cy="500.3" r="0.9"/><circle cx="279.3" cy="495.8" r="1"/><circle cx="435.4" cy="506.4" r="1.3"/><circle cx="290.5" cy="513.5" r="1.5"/><circle cx="282.5" cy="505.8" r="0.9"/><circle cx="237.6" cy="521.2" r="0.6"/><circle cx="269.3" cy="507.2" r="1.1"/><circle cx="316.9" cy="524.9" r="1.4"/><circle cx="269.3" cy="487.1" r="0.7"/><circle cx="324.5" cy="515.7" r="1.4"/><circle cx="323.1" cy="493.6" r="1.5"/><circle cx="423" cy="502.1" r="0.9"/><circle cx="344.3" cy="519.3" r="0.6"/><circle cx="268.1" cy="528.6" r="0.9"/><circle cx="264.1" cy="516.2" r="0.9"/><circle cx="261.2" cy="493.8" r="1"/><circle cx="439.2" cy="535.2" r="0.8"/><circle cx="314.5" cy="512.1" r="0.7"/><circle cx="344.7" cy="493.7" r="0.8"/><circle cx="385.2" cy="505.3" r="1.2"/><circle cx="297.4" cy="523.9" r="1"/><circle cx="363.7" cy="499.6" r="0.8"/><circle cx="404.3" cy="498" r="1"/><circle cx="252.4" cy="487.8" r="1.3"/><circle cx="341.5" cy="506.6" r="0.7"/><circle cx="367.3" cy="526.6" r="0.7"/><circle cx="252.9" cy="494.2" r="0.6"/><circle cx="407.6" cy="501.5" r="1.5"/><circle cx="238.4" cy="512.4" r="1.3"/><circle cx="305.8" cy="505.9" r="1.1"/><circle cx="251.2" cy="520.3" r="1.3"/><circle cx="234.8" cy="516.7" r="1.4"/><circle cx="276.2" cy="523.8" r="1.3"/><circle cx="319.9" cy="516.3" r="0.9"/><circle cx="278.2" cy="517.7" r="1.2"/><circle cx="327.6" cy="517.5" r="1.2"/><circle cx="397.1" cy="529.4" r="1"/><circle cx="270.8" cy="536.1" r="0.7"/><circle cx="320.4" cy="509.8" r="1.4"/><circle cx="315.8" cy="514.2" r="0.7"/><circle cx="441.1" cy="498.4" r="0.7"/><circle cx="429.1" cy="510.4" r="1.1"/><circle cx="273.3" cy="519" r="1.5"/><circle cx="381.6" cy="517.4" r="1"/><circle cx="318.2" cy="520.4" r="1.3"/><circle cx="306" cy="498.3" r="0.9"/><circle cx="285.6" cy="517.5" r="1.2"/><circle cx="249.3" cy="500.2" r="1.5"/><circle cx="264.4" cy="495" r="1.6"/><circle cx="340.9" cy="514.8" r="1.5"/><circle cx="240.6" cy="517.6" r="0.8"/><circle cx="276.3" cy="519" r="1.3"/><circle cx="356.2" cy="519.9" r="1"/><circle cx="237.7" cy="502.2" r="1.5"/><circle cx="405" cy="514.2" r="1.3"/><circle cx="418.4" cy="490.9" r="1.5"/><circle cx="361.1" cy="504.4" r="1.4"/><circle cx="244.6" cy="511.3" r="1"/><circle cx="298" cy="510.4" r="0.9"/><circle cx="230" cy="502" r="1.3"/><circle cx="426.5" cy="523.9" r="1.4"/><circle cx="365.6" cy="504.3" r="1.6"/><circle cx="280.4" cy="495.5" r="1.5"/><circle cx="302.6" cy="513.3" r="1.5"/><circle cx="436.6" cy="518.1" r="0.8"/><circle cx="376.3" cy="519.1" r="0.7"/><circle cx="281.4" cy="509.1" r="1.5"/><circle cx="243" cy="513" r="0.7"/><circle cx="380.5" cy="516.8" r="0.7"/><circle cx="348.4" cy="511.3" r="1.6"/><circle cx="239.4" cy="504.9" r="0.7"/><circle cx="264.5" cy="494.8" r="1.4"/><circle cx="415.1" cy="519.4" r="0.9"/><circle cx="320.3" cy="524.2" r="0.9"/><circle cx="401.4" cy="515.5" r="0.8"/><circle cx="244.3" cy="490.5" r="0.7"/><circle cx="294.6" cy="516" r="0.6"/><circle cx="290" cy="516.7" r="1.5"/><circle cx="227.6" cy="527.7" r="0.7"/><circle cx="276.6" cy="493" r="0.9"/><circle cx="277.7" cy="508.4" r="0.7"/><circle cx="231.8" cy="494.7" r="0.7"/><circle cx="373.4" cy="526.8" r="1.4"/><circle cx="370.4" cy="498.7" r="1.5"/><circle cx="307.8" cy="515.9" r="1.3"/><circle cx="405.3" cy="513.5" r="0.9"/><circle cx="275.9" cy="499.4" r="1.2"/><circle cx="359.5" cy="498.1" r="1.5"/><circle cx="283.9" cy="521.6" r="1.2"/><circle cx="423.8" cy="490.6" r="1"/><circle cx="303.2" cy="501.4" r="1.1"/><circle cx="431.7" cy="543.9" r="1.2"/><circle cx="410.3" cy="512.6" r="1"/><circle cx="269.8" cy="511" r="0.7"/><circle cx="353.6" cy="523.5" r="1.3"/><circle cx="331" cy="494.6" r="1.6"/><circle cx="389.1" cy="501.7" r="0.8"/><circle cx="293.5" cy="508.3" r="0.9"/><circle cx="318.4" cy="519" r="1.6"/><circle cx="322.7" cy="498.3" r="0.7"/><circle cx="392.4" cy="523.3" r="0.8"/><circle cx="291.8" cy="511.3" r="1.5"/><circle cx="435.4" cy="509.1" r="1.3"/><circle cx="357.7" cy="513.8" r="0.7"/><circle cx="236" cy="506.4" r="1.6"/><circle cx="351.2" cy="510" r="1.3"/><circle cx="355.5" cy="519.6" r="0.7"/><circle cx="257.4" cy="494.3" r="0.7"/><circle cx="257.3" cy="494.9" r="0.9"/><circle cx="426.2" cy="524.5" r="1.4"/><circle cx="306.7" cy="509" r="1.2"/><circle cx="265" cy="512" r="1.6"/><circle cx="231.3" cy="492.8" r="0.8"/><circle cx="418" cy="498.6" r="0.7"/><circle cx="374.7" cy="526.6" r="1"/><circle cx="271.8" cy="543.2" r="0.8"/><circle cx="274.2" cy="487.6" r="1"/><circle cx="278.9" cy="506.5" r="0.7"/><circle cx="270.3" cy="511.2" r="1"/><circle cx="374.5" cy="508.1" r="1.3"/><circle cx="236.6" cy="507.1" r="1.4"/><circle cx="235.1" cy="510.5" r="1.5"/><circle cx="432.5" cy="541.2" r="1.2"/><circle cx="423.5" cy="516.2" r="0.8"/><circle cx="345.5" cy="518" r="0.8"/><circle cx="387.9" cy="502.2" r="1"/><circle cx="354.7" cy="523.5" r="1.1"/><circle cx="230.2" cy="524.3" r="1"/><circle cx="270.1" cy="484.6" r="1.3"/><circle cx="284.1" cy="508.6" r="1.5"/><circle cx="434.1" cy="533.4" r="1"/><circle cx="354.6" cy="506.8" r="0.9"/><circle cx="328.5" cy="512.5" r="0.6"/><circle cx="296.9" cy="515.8" r="1.5"/><circle cx="346.3" cy="513.5" r="1"/><circle cx="295" cy="500.5" r="1.3"/><circle cx="381.5" cy="527.4" r="1.4"/><circle cx="278.5" cy="510.2" r="1.5"/><circle cx="366.8" cy="522.4" r="1.2"/><circle cx="403.7" cy="525.7" r="0.9"/><circle cx="241.3" cy="500" r="1"/><circle cx="375.7" cy="490.1" r="1.4"/><circle cx="421" cy="503.5" r="0.6"/><circle cx="253.9" cy="519" r="1.1"/><circle cx="242.8" cy="506.3" r="1.5"/><circle cx="406.1" cy="513.1" r="1.1"/><circle cx="421.4" cy="501.7" r="0.6"/><circle cx="263.9" cy="504.2" r="1.1"/><circle cx="308.3" cy="511.1" r="1.1"/><circle cx="341.8" cy="501" r="1.3"/><circle cx="377.3" cy="526.7" r="1.4"/><circle cx="309.1" cy="519.2" r="0.7"/><circle cx="329.6" cy="507.4" r="0.8"/><circle cx="371.2" cy="522.7" r="1.1"/><circle cx="312.7" cy="520.8" r="1.3"/><circle cx="315.4" cy="519.5" r="1.6"/><circle cx="264.1" cy="509.4" r="1.4"/><circle cx="416.2" cy="515.5" r="0.6"/><circle cx="276.1" cy="512.5" r="0.9"/><circle cx="300.3" cy="535.9" r="1.1"/><circle cx="406.5" cy="515.8" r="1.3"/><circle cx="302.5" cy="534.8" r="1.3"/><circle cx="435" cy="540.9" r="0.7"/><circle cx="422.8" cy="510.3" r="1.3"/><circle cx="356.8" cy="503.8" r="1"/><circle cx="399.8" cy="513.5" r="0.9"/><circle cx="237.8" cy="496.2" r="1.6"/><circle cx="362.6" cy="511" r="1.2"/><circle cx="397.6" cy="529.5" r="0.6"/><circle cx="411.7" cy="507.1" r="1.6"/><circle cx="416.9" cy="523.5" r="1.2"/><circle cx="433.6" cy="506.4" r="0.7"/><circle cx="303.5" cy="505.9" r="1.2"/><circle cx="247.7" cy="509.5" r="1.1"/><circle cx="348.2" cy="513.1" r="1.4"/><circle cx="431.5" cy="531.1" r="1.3"/><circle cx="402.2" cy="500" r="1.5"/><circle cx="364.8" cy="525.4" r="1.5"/><circle cx="297.2" cy="504.1" r="1.1"/><circle cx="248.7" cy="527" r="1.1"/><circle cx="407.6" cy="511.4" r="1.6"/><circle cx="328.5" cy="501.6" r="1.3"/><circle cx="227.6" cy="497.8" r="1.2"/><circle cx="350" cy="507" r="1"/><circle cx="312" cy="514.6" r="0.9"/><circle cx="432.3" cy="508.3" r="1.3"/><circle cx="241.7" cy="502.2" r="1.3"/><circle cx="383.4" cy="507.9" r="1"/><circle cx="412.6" cy="524.7" r="0.9"/><circle cx="233.3" cy="518.7" r="1.3"/><circle cx="404.7" cy="527.4" r="0.6"/><circle cx="340.4" cy="511" r="0.8"/><circle cx="282.4" cy="520.2" r="1.4"/><circle cx="269.1" cy="516.8" r="0.6"/><circle cx="388.7" cy="486.8" r="1.1"/><circle cx="269.1" cy="502.8" r="1.1"/><circle cx="227.5" cy="509" r="0.9"/><circle cx="282.2" cy="499.7" r="0.8"/><circle cx="399.3" cy="531" r="1.2"/><circle cx="284.5" cy="514.5" r="1.5"/><circle cx="341.7" cy="504.4" r="0.7"/><circle cx="236.7" cy="503.4" r="0.9"/><circle cx="362.6" cy="519.9" r="1.2"/><circle cx="233.7" cy="533.1" r="1.3"/><circle cx="253.5" cy="497.7" r="0.6"/><circle cx="370.8" cy="508.9" r="0.7"/><circle cx="384.1" cy="520.5" r="0.8"/><circle cx="276.2" cy="490.7" r="1.1"/><circle cx="409.7" cy="526.1" r="1.6"/><circle cx="286.9" cy="502.9" r="0.9"/><circle cx="258.3" cy="523.8" r="1.2"/><circle cx="270.2" cy="499.9" r="0.9"/><circle cx="441.8" cy="527" r="1.2"/><circle cx="276.2" cy="506.8" r="1.1"/><circle cx="378.8" cy="538.4" r="1"/><circle cx="312.9" cy="530" r="1.1"/><circle cx="387.3" cy="497.1" r="1.2"/><circle cx="443.1" cy="528.1" r="1"/><circle cx="320.8" cy="511.4" r="1.6"/><circle cx="433.8" cy="526.4" r="1.2"/><circle cx="422.2" cy="518" r="1.1"/><circle cx="313.6" cy="502.2" r="1"/><circle cx="282.5" cy="505.2" r="1.3"/><circle cx="327.7" cy="521.6" r="0.6"/><circle cx="417.8" cy="519.8" r="1.3"/><circle cx="276.1" cy="517.1" r="1.1"/><circle cx="399" cy="515.9" r="1.6"/><circle cx="351.5" cy="505.9" r="1.2"/><circle cx="342" cy="493.2" r="0.6"/><circle cx="257.2" cy="507.3" r="1.2"/><circle cx="348" cy="532.5" r="0.9"/><circle cx="322.8" cy="488.7" r="0.8"/><circle cx="235.7" cy="505.6" r="0.9"/><circle cx="353" cy="497.5" r="1.2"/><circle cx="370.6" cy="499.9" r="0.7"/><circle cx="392.7" cy="531.8" r="0.6"/><circle cx="372.5" cy="528.7" r="0.8"/><circle cx="303.9" cy="522.2" r="0.8"/><circle cx="436.6" cy="516.5" r="1.5"/><circle cx="305.5" cy="494.4" r="1"/><circle cx="432.5" cy="525.2" r="1.6"/></g><g fill="#8478bc" opacity="0.55" ><circle cx="348.3" cy="517.4" r="1.4"/><circle cx="422.7" cy="498.1" r="1.6"/><circle cx="241.3" cy="505.3" r="1.4"/><circle cx="335.2" cy="513.5" r="1.3"/><circle cx="385.5" cy="496.5" r="1.6"/><circle cx="256.9" cy="501.5" r="1.1"/><circle cx="403.2" cy="517" r="1.4"/><circle cx="241.3" cy="514.8" r="1"/><circle cx="326.7" cy="513.1" r="1.4"/><circle cx="294.7" cy="485.5" r="1.2"/><circle cx="430.9" cy="528.3" r="0.9"/><circle cx="309.7" cy="523.9" r="1.2"/><circle cx="233" cy="506.8" r="1.4"/><circle cx="363.2" cy="516.4" r="0.9"/><circle cx="441.1" cy="517.6" r="1.2"/><circle cx="310.8" cy="483.3" r="1.2"/><circle cx="365.3" cy="522.1" r="1.2"/><circle cx="263.3" cy="519" r="0.8"/><circle cx="322.6" cy="509.7" r="1.1"/><circle cx="338.1" cy="490.9" r="1.2"/><circle cx="394.2" cy="513.5" r="1.3"/><circle cx="394.6" cy="517.3" r="0.7"/><circle cx="296.1" cy="520.1" r="1"/><circle cx="437.3" cy="506.9" r="1.3"/><circle cx="356.9" cy="514.7" r="1.2"/><circle cx="265.8" cy="518.4" r="1"/><circle cx="435.3" cy="533" r="1.5"/><circle cx="387.8" cy="509.8" r="1.2"/><circle cx="434.5" cy="533.4" r="1.3"/><circle cx="260.9" cy="508.4" r="0.9"/><circle cx="382.3" cy="511.9" r="1.5"/><circle cx="429.8" cy="510.7" r="0.7"/><circle cx="265.6" cy="501.5" r="0.9"/><circle cx="337.4" cy="520" r="0.6"/><circle cx="405.9" cy="508.7" r="0.7"/><circle cx="323.6" cy="533" r="0.9"/><circle cx="360.2" cy="510.4" r="0.9"/><circle cx="320.3" cy="520.2" r="0.8"/><circle cx="313.3" cy="539.4" r="1.1"/><circle cx="414.7" cy="518.6" r="0.7"/><circle cx="333.9" cy="518.9" r="0.8"/><circle cx="390.1" cy="526.4" r="1.3"/><circle cx="410.7" cy="534.9" r="1.4"/><circle cx="229.1" cy="490.5" r="1.6"/><circle cx="372.4" cy="512.8" r="0.9"/><circle cx="240.8" cy="499.6" r="0.9"/><circle cx="406.6" cy="493.2" r="1.1"/><circle cx="300.8" cy="532.9" r="0.7"/><circle cx="426.7" cy="520.6" r="1.4"/><circle cx="275.2" cy="510.5" r="1.1"/><circle cx="273.4" cy="502" r="1.2"/><circle cx="228.2" cy="508.2" r="0.9"/><circle cx="388.4" cy="505.5" r="1"/><circle cx="268.4" cy="518.1" r="1.3"/><circle cx="362" cy="509.3" r="1.1"/><circle cx="385.2" cy="499.5" r="0.8"/><circle cx="283.5" cy="523.9" r="0.7"/><circle cx="295.5" cy="510.8" r="0.8"/><circle cx="285.5" cy="519.7" r="1.4"/><circle cx="255" cy="520.6" r="0.9"/><circle cx="303.1" cy="503" r="1"/><circle cx="395.4" cy="500.7" r="1"/><circle cx="386.9" cy="537.9" r="1"/><circle cx="320.7" cy="489.2" r="1.3"/><circle cx="366.7" cy="528.9" r="0.7"/><circle cx="227.1" cy="493.3" r="1"/><circle cx="233.3" cy="506.3" r="1"/><circle cx="408.3" cy="489.2" r="1.3"/><circle cx="319.3" cy="514.6" r="1.3"/><circle cx="414.3" cy="518.3" r="1"/><circle cx="328.2" cy="503.1" r="1.2"/><circle cx="338.4" cy="500.4" r="1"/><circle cx="401.4" cy="521.7" r="1"/><circle cx="389.4" cy="511.4" r="1.1"/><circle cx="426.6" cy="494.8" r="1.2"/><circle cx="407.4" cy="515.5" r="0.7"/><circle cx="235.3" cy="497.8" r="1.1"/><circle cx="388.3" cy="514.1" r="1.5"/><circle cx="346.3" cy="527.2" r="1"/><circle cx="310.5" cy="522.2" r="1.4"/><circle cx="286.2" cy="522.2" r="1.3"/><circle cx="386.5" cy="530.9" r="1.1"/><circle cx="229.9" cy="509.2" r="1.5"/><circle cx="420.4" cy="536.3" r="1.5"/><circle cx="430.2" cy="510.4" r="1.3"/><circle cx="346.2" cy="513.4" r="1.5"/><circle cx="329.2" cy="515.8" r="0.8"/><circle cx="388.1" cy="509.7" r="0.9"/><circle cx="369.8" cy="512.2" r="0.9"/><circle cx="230.7" cy="511.6" r="1.5"/><circle cx="339.4" cy="499.4" r="1.5"/><circle cx="303.5" cy="506.5" r="1.2"/><circle cx="416.5" cy="510" r="1"/><circle cx="413.7" cy="533.1" r="1.5"/><circle cx="427.1" cy="515.4" r="1"/><circle cx="344.1" cy="519.9" r="1"/><circle cx="243.6" cy="514" r="1.3"/><circle cx="260.3" cy="510.8" r="1.2"/><circle cx="265.2" cy="506.3" r="1"/><circle cx="250.1" cy="528.1" r="0.8"/><circle cx="265.3" cy="484.2" r="1.5"/><circle cx="427" cy="523.1" r="1.4"/><circle cx="349.5" cy="513.9" r="1.4"/><circle cx="414.6" cy="514.6" r="1.3"/><circle cx="262.7" cy="497.7" r="1.3"/><circle cx="286.1" cy="499.4" r="1.3"/><circle cx="370.1" cy="499.1" r="1.6"/><circle cx="317.7" cy="520.7" r="1.2"/><circle cx="322.5" cy="501.1" r="0.9"/><circle cx="409" cy="516" r="1.6"/><circle cx="442.1" cy="535.4" r="0.6"/><circle cx="256.7" cy="493.2" r="1.3"/><circle cx="248.6" cy="493.7" r="1.6"/><circle cx="327.1" cy="515.5" r="0.8"/><circle cx="267.6" cy="499.6" r="0.9"/><circle cx="285.7" cy="485.3" r="1.5"/><circle cx="289.9" cy="516.8" r="1.3"/><circle cx="351.3" cy="534.9" r="0.9"/><circle cx="286.8" cy="516.4" r="0.7"/><circle cx="437.1" cy="525.9" r="1.2"/><circle cx="428.1" cy="516.3" r="1.1"/><circle cx="252.2" cy="516.2" r="1.5"/><circle cx="314.3" cy="506.9" r="1.3"/><circle cx="259.1" cy="496" r="1.1"/><circle cx="432.4" cy="498.8" r="1.3"/><circle cx="372.9" cy="523.4" r="1.6"/><circle cx="381.6" cy="496.5" r="0.7"/><circle cx="245.4" cy="518.6" r="1.1"/><circle cx="340.5" cy="513" r="1.6"/><circle cx="378.4" cy="522.8" r="1.4"/><circle cx="422.6" cy="514.5" r="1.2"/><circle cx="373.3" cy="501.9" r="1.3"/><circle cx="264.7" cy="505.2" r="1.4"/><circle cx="314.1" cy="510.7" r="1.6"/><circle cx="334.3" cy="528.4" r="1.2"/><circle cx="233.7" cy="528.5" r="1.4"/><circle cx="334.8" cy="526" r="1"/><circle cx="377.8" cy="505.2" r="1"/><circle cx="261.9" cy="516.6" r="1.2"/><circle cx="281.7" cy="521.7" r="0.6"/><circle cx="268" cy="510.3" r="1.3"/><circle cx="392.7" cy="528.4" r="1.1"/><circle cx="388.5" cy="494.6" r="1.1"/><circle cx="444" cy="508.2" r="0.7"/><circle cx="275.2" cy="494.9" r="0.7"/><circle cx="411.5" cy="510.6" r="1.4"/><circle cx="309.1" cy="506.9" r="0.8"/><circle cx="395.9" cy="533.5" r="1.6"/><circle cx="355.9" cy="534" r="1.2"/><circle cx="406.5" cy="510.5" r="0.9"/><circle cx="258.3" cy="508.6" r="1.2"/><circle cx="266.4" cy="509.3" r="0.8"/><circle cx="239.6" cy="492" r="0.6"/><circle cx="396.1" cy="502.7" r="1.2"/><circle cx="258.2" cy="493.8" r="1.1"/><circle cx="293.1" cy="517.5" r="0.9"/><circle cx="306" cy="506.7" r="0.7"/><circle cx="265.8" cy="522.2" r="1.6"/><circle cx="346.7" cy="503.7" r="1.2"/><circle cx="281.3" cy="504" r="1.5"/><circle cx="431.7" cy="523.3" r="0.8"/><circle cx="297.2" cy="506.6" r="0.9"/><circle cx="407.6" cy="530.9" r="1.3"/><circle cx="253.3" cy="508.1" r="1.3"/><circle cx="278.5" cy="497.7" r="1.3"/><circle cx="281.1" cy="518.9" r="1.1"/><circle cx="305.7" cy="492.2" r="1.4"/><circle cx="416.9" cy="512.9" r="1.2"/><circle cx="392.1" cy="496.6" r="0.7"/><circle cx="325.3" cy="515" r="0.7"/><circle cx="331.8" cy="519" r="0.6"/><circle cx="401.1" cy="494.3" r="1.2"/><circle cx="359.1" cy="535.2" r="1"/><circle cx="279.9" cy="494.7" r="1.3"/><circle cx="403.1" cy="538.7" r="0.9"/><circle cx="253.4" cy="515.1" r="1"/><circle cx="258" cy="511.8" r="1.6"/><circle cx="237.7" cy="521.2" r="0.6"/><circle cx="328.6" cy="535.2" r="1.2"/><circle cx="339.5" cy="502.7" r="1.5"/><circle cx="382.2" cy="527.9" r="1.3"/><circle cx="300.1" cy="510.3" r="1.4"/><circle cx="362.5" cy="520.7" r="1"/><circle cx="394.4" cy="529.7" r="0.7"/><circle cx="398.7" cy="507.3" r="0.7"/><circle cx="235.9" cy="508.9" r="0.8"/><circle cx="390.2" cy="506.9" r="0.8"/><circle cx="309.5" cy="531.7" r="0.9"/><circle cx="270" cy="490.8" r="0.6"/><circle cx="281.9" cy="502.5" r="0.6"/><circle cx="294.3" cy="516.6" r="0.8"/><circle cx="240.7" cy="491.5" r="0.7"/><circle cx="409.6" cy="511.7" r="1.5"/><circle cx="433.5" cy="500.5" r="1.6"/><circle cx="270.3" cy="505" r="1"/><circle cx="337.7" cy="509.1" r="0.9"/><circle cx="247.8" cy="501.9" r="0.8"/><circle cx="336.6" cy="519.4" r="0.8"/><circle cx="242.5" cy="513.9" r="1.4"/><circle cx="391" cy="505.7" r="1.1"/><circle cx="338.1" cy="515.5" r="0.8"/><circle cx="383.5" cy="517.5" r="0.7"/><circle cx="324.5" cy="511.9" r="0.9"/><circle cx="318.2" cy="523" r="1.2"/><circle cx="320.2" cy="506.8" r="0.9"/><circle cx="438.3" cy="510.7" r="0.9"/><circle cx="426.3" cy="515.1" r="0.6"/><circle cx="439" cy="525.9" r="1.2"/><circle cx="294.6" cy="511.1" r="1.4"/><circle cx="244.9" cy="513.6" r="0.8"/><circle cx="314.2" cy="505.2" r="1.3"/><circle cx="275.7" cy="522" r="1.5"/><circle cx="237.3" cy="501.9" r="1"/><circle cx="416.5" cy="510.6" r="1.3"/><circle cx="228.5" cy="502.2" r="1.3"/><circle cx="270.7" cy="481.9" r="0.6"/><circle cx="307.9" cy="506.5" r="1.3"/><circle cx="321.1" cy="507.2" r="1.4"/><circle cx="276.5" cy="507.7" r="1.6"/><circle cx="391.3" cy="510.1" r="1.3"/><circle cx="273.2" cy="516.2" r="1.1"/><circle cx="404.8" cy="515.8" r="0.6"/><circle cx="441.6" cy="518.8" r="1.2"/><circle cx="277.2" cy="516.9" r="1.5"/><circle cx="279.4" cy="506.7" r="1.2"/><circle cx="294.3" cy="515" r="0.8"/><circle cx="234.7" cy="514.2" r="1.4"/><circle cx="439.4" cy="502.1" r="1.5"/><circle cx="330.8" cy="515.5" r="1.6"/><circle cx="421.1" cy="519.3" r="0.8"/><circle cx="262.8" cy="508.7" r="1.3"/><circle cx="239.9" cy="486.8" r="1.1"/><circle cx="258.5" cy="511.2" r="1.1"/><circle cx="354.2" cy="513.8" r="0.7"/><circle cx="332.9" cy="517.9" r="0.8"/><circle cx="347.7" cy="533.4" r="0.9"/><circle cx="251.4" cy="511.4" r="1.3"/><circle cx="384.1" cy="525.3" r="1"/><circle cx="289.3" cy="509.8" r="1.4"/><circle cx="393.2" cy="512.7" r="1.4"/><circle cx="332.7" cy="507.6" r="1"/><circle cx="318.7" cy="517.1" r="0.6"/><circle cx="233.6" cy="519.5" r="0.6"/><circle cx="282.2" cy="496.2" r="0.8"/><circle cx="340.9" cy="496.2" r="1.6"/><circle cx="325.7" cy="532" r="1.4"/><circle cx="290.5" cy="509.5" r="1.6"/><circle cx="282.6" cy="508" r="1.2"/><circle cx="257.3" cy="496.8" r="1.2"/><circle cx="401" cy="520.9" r="0.9"/><circle cx="407.5" cy="531.2" r="1.5"/><circle cx="339.8" cy="528.2" r="1.5"/><circle cx="231.3" cy="505.5" r="1"/><circle cx="300.7" cy="522.9" r="1.3"/><circle cx="417.5" cy="531.7" r="0.6"/><circle cx="375.8" cy="544.1" r="0.9"/><circle cx="364.2" cy="507.6" r="0.9"/><circle cx="438.5" cy="526.1" r="1.2"/><circle cx="354.5" cy="519.6" r="1.5"/><circle cx="368.4" cy="528.2" r="1.4"/><circle cx="239.8" cy="523.9" r="0.8"/><circle cx="413.6" cy="536.1" r="1.4"/><circle cx="346.8" cy="505.4" r="1.1"/><circle cx="279.1" cy="516" r="1.2"/><circle cx="318.3" cy="513.4" r="1.4"/><circle cx="430.7" cy="526.8" r="0.8"/><circle cx="422.4" cy="531" r="1.3"/><circle cx="423.5" cy="531.5" r="1.4"/><circle cx="396.8" cy="521.9" r="0.9"/><circle cx="313.8" cy="495.8" r="0.8"/><circle cx="283.2" cy="509.7" r="1.5"/><circle cx="322.5" cy="523" r="1.4"/><circle cx="423.5" cy="521.6" r="0.9"/><circle cx="371.4" cy="487.2" r="0.7"/><circle cx="372.4" cy="505.7" r="1.3"/><circle cx="441.8" cy="525.9" r="0.7"/><circle cx="260.2" cy="514.9" r="1.4"/><circle cx="408.8" cy="515.3" r="1.2"/><circle cx="295.2" cy="500.4" r="1.1"/><circle cx="259.5" cy="503.2" r="0.7"/><circle cx="289" cy="498.1" r="1"/><circle cx="322.5" cy="527.4" r="1.5"/><circle cx="300.8" cy="518.4" r="1"/><circle cx="367.5" cy="516.2" r="1.2"/><circle cx="354.4" cy="509.2" r="0.7"/><circle cx="353.6" cy="523.3" r="1.2"/><circle cx="301.5" cy="500.2" r="1.4"/><circle cx="283.4" cy="503.8" r="0.8"/><circle cx="401.6" cy="507.5" r="0.7"/><circle cx="433.3" cy="495.9" r="1.3"/><circle cx="401.5" cy="524.4" r="1"/><circle cx="429.9" cy="525.4" r="1"/><circle cx="407.1" cy="527.6" r="0.8"/><circle cx="360.3" cy="510.2" r="0.8"/><circle cx="270.6" cy="487.5" r="1.1"/><circle cx="298.3" cy="497.9" r="1.5"/><circle cx="321.1" cy="489.3" r="1"/><circle cx="287.7" cy="511.7" r="1.3"/><circle cx="384.2" cy="509" r="0.9"/><circle cx="297.3" cy="504.6" r="0.8"/><circle cx="351.1" cy="514.2" r="1.6"/><circle cx="240" cy="507.1" r="1.4"/><circle cx="305.2" cy="532.6" r="1.1"/><circle cx="247.3" cy="499.7" r="1.3"/><circle cx="316.3" cy="483.8" r="1.4"/><circle cx="349.8" cy="503.1" r="1.6"/><circle cx="309" cy="513.1" r="1.4"/><circle cx="381.5" cy="528.1" r="0.8"/><circle cx="421.2" cy="518.4" r="0.8"/><circle cx="265.9" cy="498.3" r="1.6"/><circle cx="363.1" cy="509.9" r="0.8"/><circle cx="367.8" cy="536.9" r="1.5"/><circle cx="341.8" cy="498.3" r="1.2"/><circle cx="285" cy="489" r="0.6"/><circle cx="322.3" cy="491.7" r="0.9"/><circle cx="314.8" cy="509" r="1"/><circle cx="303.3" cy="507.5" r="1.5"/><circle cx="317.9" cy="520.9" r="1.1"/><circle cx="432.6" cy="520.8" r="1.1"/><circle cx="354.3" cy="517.4" r="0.8"/><circle cx="366.6" cy="519.3" r="0.8"/><circle cx="249.1" cy="489" r="1.4"/><circle cx="373.5" cy="490.7" r="0.8"/><circle cx="236.4" cy="515.8" r="1.2"/><circle cx="259.9" cy="500.8" r="1.6"/><circle cx="437.4" cy="543.9" r="1.4"/><circle cx="364.7" cy="525.8" r="1.2"/><circle cx="350.9" cy="532.9" r="0.9"/><circle cx="324.3" cy="510.8" r="0.8"/><circle cx="257.3" cy="502.2" r="0.7"/><circle cx="235.9" cy="526.7" r="1.3"/><circle cx="273.4" cy="509.5" r="1.1"/><circle cx="434.4" cy="506.1" r="0.6"/><circle cx="347.2" cy="510.5" r="1.2"/><circle cx="239.8" cy="492.2" r="0.8"/><circle cx="288.5" cy="493.8" r="1.3"/><circle cx="301.5" cy="496.8" r="0.9"/><circle cx="232.9" cy="513.9" r="1.4"/><circle cx="426.6" cy="506" r="1.1"/><circle cx="311.2" cy="513.4" r="1.3"/><circle cx="238.1" cy="502.4" r="1"/><circle cx="330.8" cy="520.2" r="1.5"/><circle cx="380.2" cy="517.5" r="1.5"/><circle cx="242.7" cy="514.2" r="1.5"/><circle cx="255.9" cy="502.4" r="0.8"/><circle cx="425.2" cy="520.2" r="0.9"/><circle cx="356.9" cy="514.5" r="1.6"/><circle cx="326.2" cy="519.7" r="1.4"/><circle cx="244.1" cy="512.9" r="0.8"/><circle cx="241.2" cy="500.6" r="1.5"/><circle cx="249.8" cy="505.4" r="0.7"/><circle cx="293.7" cy="500.7" r="1.2"/><circle cx="414" cy="516.5" r="1"/><circle cx="277.7" cy="518.4" r="0.9"/><circle cx="402.7" cy="506.8" r="0.7"/><circle cx="324.5" cy="502.6" r="0.9"/><circle cx="426" cy="520.4" r="1.5"/><circle cx="350.4" cy="518.8" r="1.1"/><circle cx="263.1" cy="515.9" r="0.8"/><circle cx="260.4" cy="502.5" r="1.4"/><circle cx="331.7" cy="525.9" r="0.8"/><circle cx="264.6" cy="508" r="1"/><circle cx="252.4" cy="511.4" r="1.1"/><circle cx="410.3" cy="510.3" r="1.6"/><circle cx="262.8" cy="496.7" r="0.9"/><circle cx="374.8" cy="509.6" r="0.9"/><circle cx="242.8" cy="534.6" r="0.9"/><circle cx="341.1" cy="512.7" r="0.9"/><circle cx="262" cy="511.6" r="0.8"/><circle cx="304.7" cy="501.1" r="0.8"/><circle cx="296.6" cy="515.6" r="0.9"/><circle cx="325.8" cy="516.3" r="0.7"/></g><g fill="#e2c6cc" opacity="0.65" ><circle cx="282.3" cy="487.8" r="0.7"/><circle cx="269.2" cy="575.2" r="1.1"/><circle cx="345.6" cy="494.1" r="1.2"/><circle cx="332.7" cy="477.1" r="0.7"/><circle cx="238.2" cy="491.9" r="0.8"/><circle cx="402.3" cy="512.1" r="0.7"/><circle cx="359.1" cy="580.8" r="0.8"/><circle cx="431" cy="579.4" r="1.1"/><circle cx="330.1" cy="526.9" r="0.6"/><circle cx="399.2" cy="484" r="0.6"/><circle cx="378.1" cy="513.9" r="0.9"/><circle cx="419.7" cy="532.2" r="0.6"/><circle cx="423.1" cy="584.2" r="0.6"/><circle cx="367.8" cy="537.5" r="1"/><circle cx="237.7" cy="571.9" r="1.1"/><circle cx="350.6" cy="481.8" r="0.6"/><circle cx="428.8" cy="563.1" r="1"/><circle cx="289.3" cy="611.3" r="1.2"/><circle cx="345.7" cy="597" r="1"/><circle cx="227.3" cy="510.8" r="0.9"/><circle cx="419.5" cy="573.7" r="0.7"/><circle cx="440.9" cy="525.6" r="1"/><circle cx="415.6" cy="477.3" r="1"/><circle cx="355.7" cy="574.2" r="0.8"/><circle cx="326.7" cy="566.2" r="0.9"/><circle cx="327.1" cy="585.9" r="1.1"/><circle cx="347.3" cy="536.5" r="0.8"/><circle cx="416.9" cy="580.3" r="1.2"/><circle cx="388.2" cy="564.2" r="0.6"/><circle cx="383.8" cy="605.5" r="0.6"/><circle cx="253.2" cy="543.6" r="0.7"/><circle cx="228.3" cy="493.5" r="0.8"/><circle cx="298.8" cy="564.6" r="0.5"/><circle cx="292.8" cy="502.4" r="1"/><circle cx="356.9" cy="574.8" r="0.6"/><circle cx="307.5" cy="608.8" r="0.8"/><circle cx="289.4" cy="494" r="1.1"/><circle cx="243.5" cy="558.6" r="0.7"/><circle cx="418.3" cy="511.3" r="1.1"/><circle cx="238.5" cy="479.7" r="1.1"/><circle cx="423.3" cy="604.7" r="0.7"/><circle cx="320" cy="552.1" r="1"/><circle cx="266.2" cy="510.8" r="0.6"/><circle cx="314.8" cy="554.6" r="0.7"/><circle cx="254.1" cy="560.9" r="0.5"/><circle cx="430.3" cy="600.6" r="1.1"/><circle cx="262.6" cy="518.5" r="0.7"/><circle cx="242.1" cy="583.7" r="0.7"/><circle cx="420.1" cy="601.9" r="0.8"/><circle cx="287.2" cy="478.3" r="1.1"/><circle cx="308.9" cy="507.2" r="0.5"/><circle cx="258.1" cy="477.9" r="1"/><circle cx="266.7" cy="594" r="1.2"/><circle cx="435" cy="481.3" r="0.9"/><circle cx="250" cy="542.5" r="0.9"/><circle cx="282.4" cy="529.5" r="1.1"/><circle cx="266.9" cy="587.5" r="0.9"/><circle cx="328.2" cy="560.5" r="0.7"/><circle cx="329.9" cy="495.2" r="0.9"/><circle cx="339.1" cy="597" r="1.1"/><circle cx="330.3" cy="542.1" r="0.8"/><circle cx="294.9" cy="493.8" r="0.6"/><circle cx="426.4" cy="539.1" r="0.9"/><circle cx="288.8" cy="610.7" r="0.6"/><circle cx="280.6" cy="529.3" r="0.7"/><circle cx="425.6" cy="574.5" r="1.1"/><circle cx="422.6" cy="506.6" r="0.6"/><circle cx="238.1" cy="586.9" r="0.9"/><circle cx="419.3" cy="523.9" r="0.6"/><circle cx="350.3" cy="571.2" r="1.1"/><circle cx="366.5" cy="579.2" r="0.6"/><circle cx="241.2" cy="542.1" r="0.7"/><circle cx="421.9" cy="579.2" r="0.8"/><circle cx="429.6" cy="565" r="0.6"/><circle cx="433.2" cy="532.8" r="0.8"/><circle cx="294.9" cy="591.4" r="1"/><circle cx="245" cy="562.7" r="0.6"/><circle cx="380.2" cy="504.2" r="0.6"/><circle cx="312.4" cy="521.2" r="0.6"/><circle cx="285.7" cy="610.5" r="1.1"/><circle cx="359" cy="595" r="0.6"/><circle cx="405.7" cy="590.6" r="0.8"/><circle cx="260.3" cy="495" r="1.1"/><circle cx="386.2" cy="605.8" r="0.6"/><circle cx="234.3" cy="530.5" r="0.9"/><circle cx="365.4" cy="558.4" r="0.9"/><circle cx="272.6" cy="547" r="0.6"/><circle cx="406.7" cy="546" r="0.7"/><circle cx="248.5" cy="506.3" r="1.1"/><circle cx="401.5" cy="517.4" r="0.6"/><circle cx="406.9" cy="483.8" r="1"/><circle cx="368.5" cy="587.8" r="1.1"/><circle cx="413.5" cy="537.4" r="0.8"/><circle cx="277.4" cy="572" r="0.7"/><circle cx="416.7" cy="510.5" r="0.6"/><circle cx="414.8" cy="576" r="0.7"/><circle cx="439.5" cy="522.1" r="0.7"/><circle cx="319.1" cy="611.9" r="0.6"/><circle cx="246.2" cy="520.8" r="0.9"/><circle cx="396.4" cy="550.4" r="0.8"/><circle cx="283.7" cy="488.4" r="1"/><circle cx="391.6" cy="580.8" r="0.8"/><circle cx="267.4" cy="547.2" r="0.7"/><circle cx="441.7" cy="528.6" r="1"/><circle cx="439.4" cy="562.6" r="1.2"/><circle cx="349.8" cy="592.9" r="0.7"/><circle cx="346" cy="491.3" r="0.9"/><circle cx="323.6" cy="502.2" r="1"/><circle cx="415.8" cy="502.8" r="0.5"/><circle cx="402.9" cy="607.6" r="0.7"/><circle cx="256.6" cy="545.8" r="0.6"/><circle cx="279.6" cy="519" r="1.1"/><circle cx="399.2" cy="543.9" r="1.1"/><circle cx="349.2" cy="585" r="0.9"/><circle cx="281.8" cy="561.3" r="0.8"/><circle cx="284.2" cy="484.6" r="0.6"/><circle cx="434.6" cy="582.7" r="1"/><circle cx="352.1" cy="505.9" r="1.2"/><circle cx="317.6" cy="511.4" r="0.5"/><circle cx="437.6" cy="516.8" r="1"/><circle cx="425.3" cy="606.3" r="0.7"/><circle cx="229.6" cy="523.9" r="0.9"/><circle cx="279.6" cy="545" r="0.8"/><circle cx="315.4" cy="531.5" r="0.8"/><circle cx="277.3" cy="559.4" r="0.9"/><circle cx="393" cy="497" r="0.9"/><circle cx="238.4" cy="478.9" r="0.7"/><circle cx="378.1" cy="578.6" r="0.6"/><circle cx="372.8" cy="495" r="0.7"/><circle cx="409" cy="494.7" r="0.9"/><circle cx="375.8" cy="487.6" r="1.2"/><circle cx="416.4" cy="607.7" r="0.9"/><circle cx="232.3" cy="507.1" r="1"/><circle cx="245.1" cy="513.4" r="0.6"/><circle cx="245.6" cy="564.7" r="0.5"/><circle cx="332.9" cy="569.8" r="0.7"/><circle cx="291.1" cy="570.2" r="0.6"/><circle cx="291.3" cy="489.5" r="0.6"/><circle cx="355.4" cy="496.4" r="1"/><circle cx="254.1" cy="521.3" r="1.1"/><circle cx="309.3" cy="513.8" r="0.7"/><circle cx="345.5" cy="611.5" r="0.6"/><circle cx="380" cy="579.5" r="1.1"/><circle cx="360" cy="568.9" r="0.6"/><circle cx="270.3" cy="544.8" r="1.1"/><circle cx="241.5" cy="543.8" r="0.6"/><circle cx="266.8" cy="508.4" r="0.5"/><circle cx="322.7" cy="569.4" r="0.7"/><circle cx="237.2" cy="486.6" r="0.6"/><circle cx="352.6" cy="511.2" r="0.5"/><circle cx="291" cy="574.2" r="0.7"/><circle cx="312.3" cy="537.8" r="1.2"/><circle cx="333.1" cy="515.7" r="1.1"/><circle cx="393.7" cy="606.1" r="0.7"/><circle cx="403.2" cy="590.7" r="0.8"/><circle cx="285.4" cy="610.3" r="1.2"/><circle cx="323.2" cy="517.6" r="1.2"/><circle cx="333.2" cy="508.6" r="1.2"/><circle cx="400.6" cy="516.2" r="0.8"/><circle cx="404.9" cy="589.5" r="0.8"/><circle cx="288.1" cy="592.4" r="1"/><circle cx="432.7" cy="595.5" r="0.6"/><circle cx="427.8" cy="545.5" r="1.1"/><circle cx="310.4" cy="508.4" r="0.7"/><circle cx="288.2" cy="506.8" r="1"/><circle cx="392.9" cy="506.4" r="0.6"/><circle cx="399.4" cy="566.3" r="1.2"/><circle cx="414.5" cy="555.9" r="1"/><circle cx="301.7" cy="602.1" r="1"/><circle cx="424.4" cy="590.3" r="0.8"/><circle cx="267.4" cy="539.3" r="0.8"/><circle cx="325" cy="503.6" r="0.8"/><circle cx="315.4" cy="488.9" r="0.5"/><circle cx="263.9" cy="562.2" r="0.6"/><circle cx="356.3" cy="542.6" r="0.8"/><circle cx="354.7" cy="510.8" r="1.2"/><circle cx="339.4" cy="483.7" r="1"/><circle cx="397.7" cy="610" r="1"/><circle cx="229.7" cy="506.6" r="0.8"/><circle cx="306" cy="502.2" r="0.9"/><circle cx="324.9" cy="601.5" r="1.1"/><circle cx="420.6" cy="476.2" r="0.9"/><circle cx="321.2" cy="588.7" r="0.6"/><circle cx="238.2" cy="541.5" r="0.8"/><circle cx="301" cy="478" r="1.2"/><circle cx="333.4" cy="485" r="0.9"/><circle cx="400.3" cy="586.2" r="1.1"/><circle cx="234.4" cy="527.5" r="0.8"/><circle cx="409.5" cy="589.7" r="1.2"/><circle cx="305.2" cy="576.4" r="1.2"/><circle cx="315.2" cy="565.9" r="0.8"/><circle cx="306.7" cy="550.1" r="0.5"/><circle cx="296.4" cy="584.4" r="1.2"/><circle cx="292.8" cy="583.1" r="1"/><circle cx="369.3" cy="565.2" r="0.8"/><circle cx="275.9" cy="531.8" r="0.7"/><circle cx="227" cy="494.8" r="0.6"/><circle cx="430.1" cy="537.3" r="0.8"/><circle cx="260.9" cy="566.8" r="0.9"/><circle cx="347.7" cy="567.3" r="1"/><circle cx="281.1" cy="590.4" r="0.5"/><circle cx="349.1" cy="494" r="0.5"/><circle cx="231.7" cy="553.5" r="0.6"/><circle cx="306" cy="509.2" r="0.8"/><circle cx="379.2" cy="501.1" r="0.7"/><circle cx="352" cy="575" r="1.2"/><circle cx="312.5" cy="505.1" r="0.9"/><circle cx="347.7" cy="484.2" r="0.8"/><circle cx="374" cy="598.1" r="1.1"/><circle cx="247.1" cy="588.1" r="1.2"/><circle cx="429.7" cy="606.3" r="1"/><circle cx="323.2" cy="556.8" r="1.1"/><circle cx="308.4" cy="569.2" r="0.9"/><circle cx="313.3" cy="608.2" r="1"/><circle cx="294.8" cy="521.4" r="1.2"/><circle cx="328.8" cy="611.5" r="1"/><circle cx="252.1" cy="490.7" r="0.8"/><circle cx="313.9" cy="561.8" r="0.9"/><circle cx="232.7" cy="490.6" r="0.7"/><circle cx="398.3" cy="572.7" r="0.7"/><circle cx="391.4" cy="477" r="0.9"/><circle cx="306.2" cy="590.5" r="0.8"/><circle cx="440" cy="502.2" r="0.9"/><circle cx="257" cy="564.2" r="1"/><circle cx="379.6" cy="568.3" r="0.9"/><circle cx="419.4" cy="503.9" r="0.6"/><circle cx="262.6" cy="580.5" r="0.6"/><circle cx="434" cy="600.9" r="0.7"/><circle cx="320.1" cy="580.2" r="0.6"/><circle cx="260.5" cy="511.8" r="1.1"/><circle cx="287.5" cy="535" r="0.9"/><circle cx="319.8" cy="588.5" r="1"/><circle cx="375.1" cy="539.5" r="0.6"/><circle cx="423.5" cy="592.7" r="0.7"/><circle cx="341.9" cy="604.5" r="0.8"/><circle cx="351.9" cy="577.9" r="1.1"/><circle cx="338.6" cy="610.1" r="0.6"/><circle cx="285.3" cy="569.6" r="0.8"/><circle cx="366" cy="507" r="0.6"/><circle cx="237.1" cy="542.8" r="0.7"/><circle cx="352.3" cy="482.2" r="0.6"/><circle cx="443.7" cy="517.3" r="1"/><circle cx="373.2" cy="517" r="0.9"/><circle cx="421.9" cy="593.3" r="0.8"/><circle cx="332.7" cy="502.6" r="0.8"/><circle cx="297.3" cy="557.5" r="0.8"/><circle cx="404.3" cy="554.5" r="0.8"/><circle cx="373.4" cy="607.7" r="1.1"/><circle cx="434.3" cy="538.9" r="1.2"/><circle cx="260.5" cy="551.6" r="0.5"/><circle cx="300.3" cy="560.9" r="0.6"/><circle cx="323" cy="594.5" r="0.9"/><circle cx="340.4" cy="602.1" r="0.7"/><circle cx="356.3" cy="521.8" r="1.1"/><circle cx="228.6" cy="583.8" r="0.7"/><circle cx="369.6" cy="500.4" r="0.7"/><circle cx="296" cy="534.7" r="0.9"/><circle cx="439.9" cy="500.2" r="0.7"/><circle cx="435.3" cy="600.6" r="0.6"/><circle cx="419.9" cy="592.3" r="0.9"/><circle cx="375.4" cy="484.4" r="0.9"/><circle cx="283.9" cy="486.1" r="1.2"/><circle cx="265.1" cy="567.4" r="0.8"/><circle cx="252.6" cy="550.1" r="0.9"/><circle cx="316.1" cy="483.7" r="1"/><circle cx="285.4" cy="575.9" r="1"/><circle cx="432" cy="512.8" r="0.8"/><circle cx="324" cy="533.6" r="1"/><circle cx="289.4" cy="515.1" r="0.7"/><circle cx="423.1" cy="536.1" r="1"/><circle cx="411" cy="560.5" r="0.6"/><circle cx="310.7" cy="610.8" r="1.1"/><circle cx="397.5" cy="569.5" r="1"/><circle cx="362.9" cy="571.4" r="0.9"/><circle cx="363.8" cy="521" r="0.7"/><circle cx="357.2" cy="603.4" r="0.6"/><circle cx="401.1" cy="477.1" r="0.7"/><circle cx="414.3" cy="602.8" r="1"/><circle cx="318.6" cy="476" r="1.1"/><circle cx="289.6" cy="602.8" r="1.1"/><circle cx="402.5" cy="604" r="0.7"/><circle cx="307.4" cy="539" r="0.7"/><circle cx="426.5" cy="484.1" r="0.9"/><circle cx="319.1" cy="544.7" r="1"/><circle cx="370.1" cy="607.5" r="1"/><circle cx="434.8" cy="552.8" r="0.9"/><circle cx="248.6" cy="497.2" r="0.9"/><circle cx="442.7" cy="531.3" r="0.8"/><circle cx="269.4" cy="550.1" r="0.5"/><circle cx="423.2" cy="558" r="0.8"/><circle cx="234.6" cy="486.2" r="0.8"/><circle cx="234.2" cy="512.4" r="0.6"/><circle cx="296.1" cy="595.4" r="1"/><circle cx="324.2" cy="524.4" r="0.7"/><circle cx="421.3" cy="550.8" r="0.6"/><circle cx="264" cy="607.1" r="0.7"/><circle cx="323.3" cy="482.4" r="1"/><circle cx="433.4" cy="581.9" r="0.6"/><circle cx="338" cy="496.5" r="0.8"/><circle cx="334" cy="541.9" r="1"/><circle cx="304" cy="542.8" r="1"/><circle cx="382.2" cy="549.1" r="1.2"/><circle cx="320.7" cy="528" r="0.7"/><circle cx="274.9" cy="530.1" r="0.8"/><circle cx="353" cy="542.2" r="1.1"/><circle cx="305.1" cy="553.9" r="0.6"/><circle cx="266.1" cy="573" r="0.7"/><circle cx="231" cy="507.6" r="0.7"/><circle cx="335.2" cy="563.7" r="0.6"/><circle cx="418.8" cy="582.3" r="0.7"/><circle cx="290.2" cy="577.6" r="0.8"/><circle cx="294.9" cy="522.2" r="0.7"/><circle cx="382.4" cy="607.8" r="0.6"/><circle cx="311.2" cy="486.7" r="1.1"/><circle cx="253" cy="535.6" r="1.1"/><circle cx="267.4" cy="537.4" r="0.7"/><circle cx="319.2" cy="527" r="1"/><circle cx="281.1" cy="512.6" r="1"/><circle cx="294.6" cy="544.9" r="1.1"/><circle cx="432.9" cy="517.1" r="0.6"/><circle cx="295.2" cy="497.9" r="0.7"/><circle cx="409.9" cy="502.1" r="0.8"/><circle cx="338.6" cy="521.9" r="1.1"/><circle cx="362" cy="487.9" r="0.9"/><circle cx="418.2" cy="578" r="0.7"/><circle cx="357" cy="567.5" r="1.1"/><circle cx="283" cy="580.8" r="1.1"/><circle cx="366.1" cy="571.7" r="1.1"/><circle cx="364.4" cy="590.3" r="1"/><circle cx="355" cy="495.5" r="0.8"/><circle cx="354.3" cy="534.8" r="0.9"/><circle cx="321.1" cy="525.1" r="1.1"/><circle cx="314.4" cy="605.2" r="0.6"/><circle cx="424.4" cy="513.4" r="1"/><circle cx="261.2" cy="554.4" r="1"/><circle cx="389.6" cy="525.7" r="0.9"/><circle cx="276.3" cy="550.4" r="0.6"/><circle cx="297" cy="526.9" r="0.8"/><circle cx="301.4" cy="498.5" r="0.9"/><circle cx="409.1" cy="602.6" r="0.5"/><circle cx="385.2" cy="520.3" r="0.8"/><circle cx="416.3" cy="513.3" r="0.7"/><circle cx="336.9" cy="527.2" r="1.2"/><circle cx="394.4" cy="488.1" r="1.1"/><circle cx="298" cy="555.3" r="0.8"/><circle cx="388" cy="568.3" r="0.6"/><circle cx="254.9" cy="565.5" r="1.1"/><circle cx="383.9" cy="514.7" r="0.6"/><circle cx="376" cy="538.8" r="0.8"/><circle cx="439.1" cy="526.6" r="1.1"/><circle cx="238.9" cy="603.5" r="1.1"/><circle cx="254.6" cy="588.2" r="0.7"/><circle cx="369.5" cy="579.9" r="0.5"/><circle cx="346.8" cy="476.3" r="1"/><circle cx="360.1" cy="538" r="0.8"/><circle cx="360.8" cy="564.5" r="0.8"/><circle cx="311.1" cy="497.3" r="0.9"/><circle cx="254.8" cy="545.4" r="0.8"/><circle cx="397.1" cy="535.4" r="1"/><circle cx="396" cy="575.3" r="0.6"/><circle cx="367.6" cy="608.9" r="0.8"/><circle cx="266.3" cy="496.4" r="0.7"/><circle cx="382.5" cy="529.9" r="1"/><circle cx="337.7" cy="569" r="0.8"/><circle cx="391.2" cy="600.8" r="0.7"/><circle cx="227.8" cy="530.9" r="0.8"/><circle cx="368.8" cy="486" r="0.9"/><circle cx="246.4" cy="498" r="0.6"/><circle cx="431" cy="571.4" r="1"/><circle cx="348.8" cy="489.4" r="0.9"/><circle cx="441.8" cy="532.1" r="0.6"/><circle cx="247" cy="529.1" r="0.5"/><circle cx="414.2" cy="601.9" r="0.6"/><circle cx="379.9" cy="575.6" r="0.9"/><circle cx="320.5" cy="566.9" r="0.8"/><circle cx="393.2" cy="527.5" r="0.7"/><circle cx="428.3" cy="500.3" r="0.7"/><circle cx="403.8" cy="497.3" r="0.6"/><circle cx="230.1" cy="515.1" r="0.8"/><circle cx="264.1" cy="597" r="0.8"/><circle cx="350.4" cy="525.5" r="1"/><circle cx="243.5" cy="529.9" r="1.2"/><circle cx="277.5" cy="565" r="1"/><circle cx="382.5" cy="513.2" r="1"/><circle cx="364.8" cy="557.3" r="0.8"/><circle cx="295.3" cy="601.2" r="1.1"/><circle cx="239.9" cy="530.9" r="0.8"/><circle cx="315.5" cy="601.6" r="1.2"/><circle cx="348" cy="530.5" r="0.6"/><circle cx="316.1" cy="566.3" r="0.8"/><circle cx="430.7" cy="500.7" r="1.1"/><circle cx="376" cy="476.4" r="1.1"/><circle cx="427.6" cy="514.5" r="0.8"/><circle cx="331.4" cy="601.8" r="0.8"/><circle cx="381.1" cy="586.2" r="0.6"/><circle cx="362.7" cy="603" r="1.1"/><circle cx="273.5" cy="610.1" r="1.1"/><circle cx="264.8" cy="518.1" r="0.9"/><circle cx="442.8" cy="528.5" r="0.9"/><circle cx="309" cy="480.2" r="0.8"/><circle cx="265.3" cy="546.8" r="0.7"/><circle cx="283.2" cy="588.5" r="1"/><circle cx="253.9" cy="592.2" r="1.1"/><circle cx="247" cy="586.1" r="0.9"/><circle cx="281" cy="489.8" r="1.1"/><circle cx="358.1" cy="542.8" r="0.6"/><circle cx="395.2" cy="505.8" r="0.6"/><circle cx="328.1" cy="609" r="1.1"/><circle cx="315.2" cy="502.1" r="0.8"/><circle cx="341" cy="523" r="0.6"/><circle cx="389.1" cy="611" r="1.1"/><circle cx="397.4" cy="531.7" r="0.6"/><circle cx="300.8" cy="531.3" r="0.5"/><circle cx="314.6" cy="546.9" r="0.8"/><circle cx="433.4" cy="532.4" r="0.9"/><circle cx="262.8" cy="490.2" r="0.9"/><circle cx="391.5" cy="492.2" r="1.1"/><circle cx="250.9" cy="561.8" r="0.5"/><circle cx="413.5" cy="571.8" r="0.7"/><circle cx="284.2" cy="603.1" r="1.2"/><circle cx="284.7" cy="602.5" r="0.5"/><circle cx="344" cy="490.2" r="1"/><circle cx="420.9" cy="553.1" r="1.1"/><circle cx="366.1" cy="536.6" r="0.9"/><circle cx="299.5" cy="567.5" r="0.8"/><circle cx="326.4" cy="582" r="1.2"/><circle cx="384.6" cy="532.2" r="0.5"/><circle cx="390.2" cy="553.8" r="1"/><circle cx="362.5" cy="577.4" r="1"/><circle cx="269.6" cy="497.3" r="0.6"/><circle cx="409.6" cy="512.2" r="0.9"/><circle cx="355.5" cy="492.3" r="0.9"/><circle cx="324.1" cy="575.3" r="1"/><circle cx="335.8" cy="507.7" r="0.7"/><circle cx="260.4" cy="496.5" r="0.9"/><circle cx="375.7" cy="500.7" r="1.1"/><circle cx="319.1" cy="491.5" r="0.9"/><circle cx="289.6" cy="611.9" r="0.8"/><circle cx="304.8" cy="583.5" r="0.8"/><circle cx="298.1" cy="528.3" r="1.1"/><circle cx="373.7" cy="487.5" r="0.8"/><circle cx="328.4" cy="553.2" r="0.9"/><circle cx="321.2" cy="480" r="0.7"/><circle cx="359.2" cy="531.9" r="1.1"/><circle cx="413.6" cy="504.5" r="0.8"/><circle cx="399.3" cy="518.5" r="0.5"/><circle cx="254.3" cy="506.9" r="1.2"/><circle cx="416.8" cy="600.9" r="1.1"/><circle cx="313.4" cy="510.3" r="0.8"/></g><g fill="#c8a4b4" opacity="0.65" ><circle cx="418.2" cy="535.9" r="0.9"/><circle cx="265.1" cy="501.4" r="1.1"/><circle cx="312.8" cy="570.4" r="1"/><circle cx="307.2" cy="531.3" r="0.6"/><circle cx="254.3" cy="545.5" r="0.9"/><circle cx="237.1" cy="535.6" r="0.8"/><circle cx="366.1" cy="480" r="0.5"/><circle cx="438.6" cy="551.2" r="0.8"/><circle cx="335.5" cy="539.5" r="1.1"/><circle cx="233.5" cy="601.6" r="0.9"/><circle cx="432.6" cy="566.8" r="1.2"/><circle cx="389.5" cy="496.2" r="0.6"/><circle cx="399" cy="491.7" r="0.7"/><circle cx="439.4" cy="526.1" r="0.5"/><circle cx="388.3" cy="489.5" r="0.7"/><circle cx="239.3" cy="566.6" r="0.7"/><circle cx="242.3" cy="478.8" r="0.9"/><circle cx="444" cy="514.6" r="1"/><circle cx="372.4" cy="517.8" r="1.1"/><circle cx="424.4" cy="593.9" r="0.6"/><circle cx="384.5" cy="497.7" r="0.6"/><circle cx="270.5" cy="579.2" r="0.7"/><circle cx="332.2" cy="603" r="0.7"/><circle cx="283.7" cy="607.7" r="0.9"/><circle cx="409.3" cy="518" r="1.1"/><circle cx="422.7" cy="508.2" r="1"/><circle cx="406.7" cy="538.6" r="0.9"/><circle cx="249.2" cy="567.7" r="0.7"/><circle cx="423.8" cy="532.1" r="0.7"/><circle cx="429.1" cy="564.7" r="0.9"/><circle cx="421.9" cy="598.7" r="0.9"/><circle cx="438.8" cy="520.4" r="0.6"/><circle cx="313.2" cy="575.2" r="1"/><circle cx="401.7" cy="552.5" r="0.6"/><circle cx="290.8" cy="509.4" r="0.6"/><circle cx="357.2" cy="498.9" r="1.1"/><circle cx="435.6" cy="596.3" r="0.8"/><circle cx="371.9" cy="489.4" r="0.9"/><circle cx="388.8" cy="573.4" r="0.5"/><circle cx="340.5" cy="551.1" r="1"/><circle cx="302.6" cy="537.5" r="0.7"/><circle cx="444.3" cy="580.8" r="0.6"/><circle cx="297.6" cy="498.2" r="0.6"/><circle cx="410.6" cy="585.7" r="0.7"/><circle cx="241.3" cy="549.3" r="1.2"/><circle cx="320.8" cy="570.8" r="0.6"/><circle cx="406.3" cy="550.1" r="1.1"/><circle cx="286.6" cy="554.4" r="0.8"/><circle cx="405.7" cy="555.1" r="0.6"/><circle cx="281.8" cy="491.9" r="1"/><circle cx="296.3" cy="491.5" r="0.9"/><circle cx="323.1" cy="537.8" r="0.8"/><circle cx="433.8" cy="527.8" r="1.1"/><circle cx="348.7" cy="568.4" r="0.8"/><circle cx="284.1" cy="540.6" r="0.6"/><circle cx="409.9" cy="604.1" r="0.7"/><circle cx="240.7" cy="566.7" r="0.8"/><circle cx="301.3" cy="498.2" r="0.9"/><circle cx="275.7" cy="608.1" r="0.6"/><circle cx="379.4" cy="544.9" r="1.2"/><circle cx="248.5" cy="591.2" r="0.6"/><circle cx="423.8" cy="492.5" r="1.1"/><circle cx="373.6" cy="599" r="0.9"/><circle cx="443.4" cy="548.5" r="0.6"/><circle cx="378.1" cy="575.3" r="0.9"/><circle cx="268.5" cy="512.1" r="0.9"/><circle cx="303.1" cy="609.4" r="1.2"/><circle cx="236.1" cy="583.7" r="0.8"/><circle cx="399.9" cy="498.2" r="1.2"/><circle cx="379.2" cy="480.6" r="0.9"/><circle cx="276.2" cy="571.5" r="0.6"/><circle cx="247.4" cy="524.8" r="1.2"/><circle cx="387.2" cy="523.3" r="1.2"/><circle cx="283" cy="571.1" r="1.1"/><circle cx="424.6" cy="537" r="0.7"/><circle cx="249.8" cy="593.4" r="0.5"/><circle cx="326.1" cy="533.6" r="1"/><circle cx="412.8" cy="549.8" r="0.7"/><circle cx="428.4" cy="579.2" r="1.1"/><circle cx="280.3" cy="501.3" r="0.5"/><circle cx="300.6" cy="563.1" r="0.8"/><circle cx="308.8" cy="585.2" r="0.7"/><circle cx="231.6" cy="564.4" r="1"/><circle cx="423.8" cy="501.7" r="0.9"/><circle cx="251.8" cy="582.3" r="0.6"/><circle cx="320.7" cy="591.3" r="0.6"/><circle cx="254.8" cy="594.2" r="1"/><circle cx="286.3" cy="569.6" r="0.7"/><circle cx="239.8" cy="559.9" r="0.6"/><circle cx="299.3" cy="590.7" r="0.9"/><circle cx="443.2" cy="594.9" r="0.7"/><circle cx="236.4" cy="531.8" r="0.8"/><circle cx="312" cy="533.3" r="1.1"/><circle cx="386" cy="593.3" r="0.8"/><circle cx="332.2" cy="570.5" r="0.8"/><circle cx="276.3" cy="608.4" r="1.2"/><circle cx="292.9" cy="512.1" r="0.7"/><circle cx="352.7" cy="504.5" r="1.1"/><circle cx="434.3" cy="561.6" r="1.1"/><circle cx="322.9" cy="524.5" r="1.2"/><circle cx="360.4" cy="494" r="0.5"/><circle cx="364.4" cy="557.2" r="0.5"/><circle cx="422.8" cy="592.7" r="1.1"/><circle cx="370.9" cy="602.6" r="1.2"/><circle cx="338.1" cy="562.5" r="1"/><circle cx="323.1" cy="587.6" r="0.9"/><circle cx="282.3" cy="491.7" r="0.8"/><circle cx="336.9" cy="554.1" r="0.7"/><circle cx="436.6" cy="588.4" r="0.6"/><circle cx="328.3" cy="548.4" r="1"/><circle cx="345.6" cy="601.4" r="0.8"/><circle cx="357" cy="507.7" r="0.8"/><circle cx="345.8" cy="486.1" r="0.7"/><circle cx="316.9" cy="511.8" r="0.6"/><circle cx="319.6" cy="506.6" r="1.1"/><circle cx="287.2" cy="585.3" r="0.6"/><circle cx="247.1" cy="527.3" r="0.7"/><circle cx="379.7" cy="593.2" r="1.2"/><circle cx="405" cy="528.7" r="0.9"/><circle cx="264.6" cy="515" r="1.1"/><circle cx="420.9" cy="573.4" r="0.7"/><circle cx="368.5" cy="538.7" r="0.9"/><circle cx="379.3" cy="487.2" r="0.9"/><circle cx="299.5" cy="487.7" r="0.9"/><circle cx="358.3" cy="581.2" r="0.8"/><circle cx="338.2" cy="524.5" r="1"/><circle cx="274.9" cy="598.4" r="1.1"/><circle cx="414.1" cy="570.7" r="0.5"/><circle cx="295.8" cy="598.1" r="0.7"/><circle cx="261.8" cy="483.8" r="0.9"/><circle cx="428.4" cy="502.7" r="0.5"/><circle cx="229" cy="540.1" r="1.1"/><circle cx="235.8" cy="482.8" r="1"/><circle cx="432.4" cy="531.6" r="0.6"/><circle cx="254.6" cy="551.8" r="1.1"/><circle cx="430.4" cy="583.8" r="0.9"/><circle cx="301.1" cy="584" r="0.8"/><circle cx="275.2" cy="584.8" r="0.9"/><circle cx="386.1" cy="478" r="0.9"/><circle cx="414" cy="564.2" r="0.5"/><circle cx="256" cy="491.1" r="0.8"/><circle cx="291.8" cy="532.9" r="1"/><circle cx="344.7" cy="603.7" r="0.8"/><circle cx="365.8" cy="534.7" r="0.9"/><circle cx="339.6" cy="535.9" r="0.8"/><circle cx="371.3" cy="549.3" r="1"/><circle cx="325.8" cy="600.8" r="1.2"/><circle cx="401" cy="567.9" r="0.9"/><circle cx="381.9" cy="557.4" r="0.6"/><circle cx="392.5" cy="492.7" r="0.9"/><circle cx="245.9" cy="497.8" r="1"/><circle cx="381.4" cy="594.8" r="1"/><circle cx="273.5" cy="580.1" r="1.1"/><circle cx="246.7" cy="497" r="0.6"/><circle cx="422.3" cy="541.1" r="1.2"/><circle cx="436.6" cy="568.8" r="0.8"/><circle cx="376.1" cy="486.8" r="1"/><circle cx="397.4" cy="593.8" r="0.9"/><circle cx="408.3" cy="523.8" r="0.9"/><circle cx="237.3" cy="526.8" r="0.5"/><circle cx="393.6" cy="527.9" r="1.1"/><circle cx="358.2" cy="577.3" r="0.7"/><circle cx="305.7" cy="484.1" r="1"/><circle cx="335" cy="553.1" r="1.1"/><circle cx="365.7" cy="566.6" r="0.7"/><circle cx="299.2" cy="520.1" r="1.1"/><circle cx="367.2" cy="559.3" r="0.7"/><circle cx="298.2" cy="610.6" r="1"/><circle cx="304.9" cy="528.2" r="0.8"/><circle cx="252.5" cy="527.4" r="0.6"/><circle cx="301.7" cy="529.4" r="1"/><circle cx="399.3" cy="537.7" r="1.1"/><circle cx="357.7" cy="595.5" r="1.1"/><circle cx="338.2" cy="580.9" r="0.8"/><circle cx="257.5" cy="497.6" r="0.5"/><circle cx="352.5" cy="579.1" r="0.9"/><circle cx="393.2" cy="575.9" r="0.6"/><circle cx="328.2" cy="481.4" r="1.2"/><circle cx="287.4" cy="586.1" r="0.7"/><circle cx="407.2" cy="572.2" r="1.2"/><circle cx="319.5" cy="550.5" r="0.8"/><circle cx="382.1" cy="579.3" r="0.9"/><circle cx="258" cy="556.6" r="0.6"/><circle cx="275.6" cy="599" r="0.7"/><circle cx="324.6" cy="580.1" r="0.7"/><circle cx="413.7" cy="480" r="1.1"/><circle cx="362.2" cy="520.3" r="0.6"/><circle cx="425.2" cy="586.9" r="0.5"/><circle cx="430.9" cy="606.6" r="0.8"/><circle cx="284.9" cy="529.9" r="1.2"/><circle cx="244.5" cy="487" r="0.6"/><circle cx="407.7" cy="603.8" r="1.1"/><circle cx="292" cy="515.4" r="0.7"/><circle cx="429.9" cy="536.7" r="1.1"/><circle cx="351.7" cy="550.6" r="1"/><circle cx="268.3" cy="565.3" r="0.8"/><circle cx="253.1" cy="562.5" r="0.7"/><circle cx="305.6" cy="600.4" r="0.8"/><circle cx="318.3" cy="554.4" r="0.6"/><circle cx="408" cy="536.1" r="0.8"/><circle cx="252.1" cy="530.1" r="1.2"/><circle cx="231.6" cy="498.5" r="0.6"/><circle cx="275.1" cy="596.7" r="0.7"/><circle cx="350.5" cy="489.1" r="0.8"/><circle cx="436.4" cy="487.9" r="1.1"/><circle cx="276.7" cy="535.2" r="0.7"/><circle cx="242.4" cy="504.5" r="0.7"/><circle cx="413" cy="519.7" r="0.9"/><circle cx="442.7" cy="543.3" r="0.8"/><circle cx="252" cy="499.1" r="1"/><circle cx="442.5" cy="594" r="1.2"/><circle cx="254.3" cy="596.8" r="0.6"/><circle cx="411.7" cy="605.4" r="1.1"/><circle cx="402" cy="534.4" r="0.6"/><circle cx="334.3" cy="576.2" r="0.7"/><circle cx="274.2" cy="522.8" r="1"/><circle cx="284.4" cy="534.5" r="1.1"/><circle cx="376.5" cy="537.8" r="1.1"/><circle cx="268.1" cy="480.2" r="1.1"/><circle cx="436.5" cy="592" r="1.1"/><circle cx="335.1" cy="579.9" r="0.7"/><circle cx="292.3" cy="569.9" r="0.9"/><circle cx="330.5" cy="555.8" r="0.9"/><circle cx="380" cy="534.8" r="1"/><circle cx="404.5" cy="556.7" r="1.1"/><circle cx="296.3" cy="517.7" r="0.5"/><circle cx="386.5" cy="510.2" r="0.5"/><circle cx="440.6" cy="514.3" r="1"/><circle cx="279.5" cy="546.1" r="1.1"/><circle cx="247.9" cy="544" r="1.1"/><circle cx="298.9" cy="511.4" r="1"/><circle cx="378.4" cy="605.4" r="0.9"/><circle cx="267.2" cy="492.1" r="0.9"/><circle cx="355.6" cy="515" r="0.7"/><circle cx="362.2" cy="482" r="1.1"/><circle cx="261.7" cy="478.3" r="0.9"/><circle cx="337.1" cy="555.8" r="1"/><circle cx="375.3" cy="526.2" r="1.2"/><circle cx="434.8" cy="598" r="0.5"/><circle cx="398.8" cy="595.1" r="0.6"/><circle cx="232.5" cy="500.7" r="0.8"/><circle cx="416.2" cy="527.1" r="0.8"/><circle cx="425.9" cy="573.8" r="0.8"/><circle cx="336.9" cy="600.1" r="1.2"/><circle cx="441.7" cy="482.1" r="0.8"/><circle cx="398.2" cy="492.6" r="1.1"/><circle cx="321.4" cy="503.4" r="1.1"/><circle cx="324.5" cy="563.1" r="0.8"/><circle cx="273" cy="481.8" r="1.1"/><circle cx="246.3" cy="505.8" r="0.9"/><circle cx="391.4" cy="536.7" r="1"/><circle cx="378.9" cy="509.7" r="1"/><circle cx="438" cy="602" r="0.6"/><circle cx="354.8" cy="550.7" r="1.2"/><circle cx="388.5" cy="537.6" r="1.2"/><circle cx="300.5" cy="519.1" r="0.9"/><circle cx="288.5" cy="493.6" r="1"/><circle cx="302.7" cy="480" r="0.7"/><circle cx="251.7" cy="552.3" r="1.2"/><circle cx="259.8" cy="546.1" r="1.1"/><circle cx="419" cy="523.6" r="0.7"/><circle cx="387.5" cy="535.9" r="1.1"/><circle cx="396.4" cy="504" r="1.2"/><circle cx="367.5" cy="526.8" r="0.7"/><circle cx="357.9" cy="573.8" r="0.6"/><circle cx="439.1" cy="477.3" r="0.7"/><circle cx="269.8" cy="557.3" r="0.5"/><circle cx="415.8" cy="502.4" r="0.9"/><circle cx="440.8" cy="493.8" r="1"/><circle cx="291.6" cy="607.2" r="1.1"/><circle cx="423.6" cy="555.9" r="0.8"/><circle cx="370.8" cy="539" r="1.1"/><circle cx="337.7" cy="594.1" r="1.1"/><circle cx="269" cy="573.8" r="0.9"/><circle cx="241.9" cy="561.4" r="0.6"/><circle cx="308.3" cy="501.2" r="1.1"/><circle cx="361.5" cy="488.3" r="1"/><circle cx="379.7" cy="511.1" r="1"/><circle cx="361.2" cy="507.2" r="0.5"/><circle cx="228.5" cy="488.7" r="1.1"/><circle cx="430.6" cy="488.7" r="0.9"/><circle cx="376.4" cy="560.1" r="1.1"/><circle cx="230.9" cy="546.4" r="0.8"/><circle cx="379.4" cy="572.2" r="0.8"/><circle cx="383.9" cy="477.5" r="1.1"/><circle cx="360.2" cy="533.2" r="1.1"/><circle cx="236.1" cy="490.7" r="0.9"/><circle cx="345.1" cy="507.4" r="0.9"/><circle cx="413.1" cy="593.1" r="0.7"/><circle cx="322.8" cy="544.6" r="1.1"/><circle cx="374.4" cy="594.4" r="1"/><circle cx="414.4" cy="509.2" r="0.7"/><circle cx="398.7" cy="566" r="0.6"/><circle cx="374.6" cy="568.5" r="0.9"/><circle cx="368.6" cy="490.5" r="0.5"/><circle cx="256.9" cy="608.3" r="1.2"/><circle cx="261.8" cy="512.8" r="0.7"/><circle cx="341.4" cy="561.6" r="0.7"/><circle cx="305.3" cy="496.5" r="0.7"/><circle cx="244.6" cy="490.7" r="0.8"/><circle cx="371.6" cy="527.1" r="1.1"/><circle cx="284.7" cy="582.3" r="0.6"/><circle cx="427" cy="606.7" r="0.7"/><circle cx="397.6" cy="607.4" r="0.7"/><circle cx="289.1" cy="566" r="1.1"/><circle cx="242" cy="536.8" r="1.1"/><circle cx="366.8" cy="597.4" r="0.5"/><circle cx="416" cy="549.2" r="0.7"/><circle cx="238" cy="562.7" r="0.8"/><circle cx="328.7" cy="591.4" r="1"/><circle cx="293" cy="533.6" r="0.6"/><circle cx="391.9" cy="492.2" r="1"/><circle cx="423.2" cy="540.6" r="1.1"/><circle cx="228.7" cy="563.3" r="1.2"/><circle cx="241.7" cy="575" r="0.6"/><circle cx="439.6" cy="525.2" r="0.8"/><circle cx="275.5" cy="593.9" r="1.1"/><circle cx="245.7" cy="517.1" r="1.2"/><circle cx="286.9" cy="490.7" r="1.2"/><circle cx="294.9" cy="567.6" r="0.7"/><circle cx="362.2" cy="549.7" r="0.9"/><circle cx="243.9" cy="525.1" r="1.2"/><circle cx="307.8" cy="544.8" r="0.9"/><circle cx="370.1" cy="497.4" r="1.1"/><circle cx="369.6" cy="586.6" r="0.7"/><circle cx="234.5" cy="510.9" r="0.8"/><circle cx="247.3" cy="511.7" r="1.1"/><circle cx="327.4" cy="590.4" r="0.6"/><circle cx="423.5" cy="487.1" r="1.1"/><circle cx="390.9" cy="509.8" r="1.1"/><circle cx="290.1" cy="520.9" r="0.6"/><circle cx="305" cy="480.4" r="1.1"/><circle cx="363.1" cy="484" r="0.8"/><circle cx="333.3" cy="523.4" r="0.8"/><circle cx="444.8" cy="495" r="0.9"/><circle cx="346.7" cy="598.6" r="0.6"/><circle cx="302.5" cy="559.5" r="1"/><circle cx="323.3" cy="529.1" r="1.2"/><circle cx="385.3" cy="515" r="0.9"/><circle cx="421.5" cy="498.8" r="0.8"/><circle cx="264.2" cy="553.9" r="0.6"/><circle cx="410.4" cy="526" r="1"/><circle cx="317.2" cy="505" r="0.8"/><circle cx="298" cy="605.3" r="1.2"/><circle cx="271.5" cy="513.8" r="1.1"/><circle cx="335.8" cy="577.2" r="1.1"/><circle cx="231.5" cy="592.8" r="0.8"/><circle cx="308.9" cy="603.3" r="0.6"/><circle cx="282" cy="487.1" r="0.5"/><circle cx="394.2" cy="530.8" r="0.7"/><circle cx="247.5" cy="589.3" r="0.9"/><circle cx="243.8" cy="527" r="1.1"/><circle cx="264" cy="605.4" r="0.8"/><circle cx="312.6" cy="571.7" r="0.8"/><circle cx="283.1" cy="526.3" r="1.2"/><circle cx="406.4" cy="517.3" r="1"/><circle cx="395.2" cy="484.9" r="0.7"/><circle cx="377.3" cy="596.9" r="1.1"/><circle cx="390.5" cy="489.3" r="0.7"/><circle cx="406" cy="590.7" r="0.9"/><circle cx="441.7" cy="610.9" r="1"/><circle cx="266.2" cy="513.6" r="0.9"/><circle cx="296.9" cy="500.9" r="0.6"/><circle cx="333.8" cy="500.9" r="1"/><circle cx="426.3" cy="539.7" r="0.5"/><circle cx="340.1" cy="596.6" r="0.7"/><circle cx="281.6" cy="565.1" r="1"/><circle cx="285.2" cy="599.6" r="0.6"/><circle cx="375" cy="600.1" r="1"/><circle cx="239.4" cy="571.8" r="0.6"/><circle cx="302.3" cy="498" r="1.2"/><circle cx="352.7" cy="582.3" r="1"/><circle cx="310.5" cy="485.1" r="1.1"/><circle cx="336.4" cy="492.3" r="0.9"/><circle cx="411.5" cy="488.3" r="0.9"/><circle cx="274.4" cy="604.9" r="1"/><circle cx="414.1" cy="540" r="0.7"/><circle cx="349.7" cy="557.3" r="1.2"/><circle cx="405" cy="572.3" r="0.8"/><circle cx="330.9" cy="502.8" r="0.6"/><circle cx="369.1" cy="523.2" r="0.7"/><circle cx="382.6" cy="493.3" r="0.7"/><circle cx="245.5" cy="491.4" r="0.9"/><circle cx="302.2" cy="587.6" r="1.2"/><circle cx="341.9" cy="592.6" r="1.1"/><circle cx="319.4" cy="586.8" r="0.7"/><circle cx="429.2" cy="611.9" r="0.6"/><circle cx="283.5" cy="504.8" r="1.1"/><circle cx="227.7" cy="510.1" r="1.1"/><circle cx="249" cy="487.6" r="0.8"/><circle cx="365.7" cy="593.1" r="1"/><circle cx="374.2" cy="586.4" r="1.1"/><circle cx="371.9" cy="607.6" r="0.5"/><circle cx="273.2" cy="508.5" r="0.6"/><circle cx="236.3" cy="482" r="0.5"/><circle cx="420.3" cy="575" r="0.5"/><circle cx="278.5" cy="586.3" r="0.6"/><circle cx="253.2" cy="587.5" r="0.8"/><circle cx="284.1" cy="577" r="1.1"/><circle cx="418.4" cy="601.2" r="1"/><circle cx="372.4" cy="604.1" r="1"/><circle cx="355.5" cy="512.4" r="1.1"/><circle cx="413.9" cy="542.8" r="0.7"/><circle cx="274" cy="583.8" r="0.6"/><circle cx="343" cy="488.1" r="1"/><circle cx="334.7" cy="524" r="0.8"/><circle cx="371.1" cy="604.9" r="1"/><circle cx="394.3" cy="545.6" r="0.9"/><circle cx="415.2" cy="603.4" r="0.5"/><circle cx="244.2" cy="523.2" r="0.6"/><circle cx="371.2" cy="594.1" r="1"/><circle cx="341.4" cy="525.4" r="0.6"/><circle cx="368" cy="594.1" r="0.6"/><circle cx="310.6" cy="526.3" r="1.2"/><circle cx="310" cy="610.4" r="0.6"/><circle cx="368.8" cy="513.8" r="0.6"/><circle cx="278.7" cy="520.6" r="0.5"/><circle cx="259.5" cy="551.2" r="0.6"/></g><g fill="#ecdadc" opacity="0.65" ><circle cx="325.6" cy="504.2" r="0.5"/><circle cx="297.5" cy="567.5" r="0.5"/><circle cx="262" cy="548.4" r="1"/><circle cx="302" cy="538.9" r="1.1"/><circle cx="343" cy="541.4" r="0.8"/><circle cx="408.8" cy="525.4" r="1"/><circle cx="251.3" cy="551.6" r="0.9"/><circle cx="343" cy="569.9" r="0.8"/><circle cx="244.1" cy="581.5" r="0.8"/><circle cx="407.9" cy="541.8" r="1.2"/><circle cx="340.3" cy="594.6" r="1"/><circle cx="379.1" cy="567.4" r="0.8"/><circle cx="267.3" cy="520.1" r="0.9"/><circle cx="434.1" cy="598.3" r="0.6"/><circle cx="235.1" cy="494.6" r="0.6"/><circle cx="441.7" cy="561.3" r="1"/><circle cx="377.7" cy="510.5" r="0.7"/><circle cx="439.2" cy="494.5" r="0.6"/><circle cx="383.1" cy="511.3" r="0.7"/><circle cx="262.1" cy="517.1" r="0.6"/><circle cx="444.2" cy="509.6" r="0.9"/><circle cx="231.8" cy="519" r="0.9"/><circle cx="341.1" cy="487.1" r="0.7"/><circle cx="227.2" cy="522.9" r="0.6"/><circle cx="271.1" cy="493.8" r="0.9"/><circle cx="276.5" cy="579.8" r="0.6"/><circle cx="413.6" cy="602.5" r="0.9"/><circle cx="328.3" cy="525.3" r="0.6"/><circle cx="428.8" cy="587.7" r="0.7"/><circle cx="276.1" cy="480.6" r="1.2"/><circle cx="436.6" cy="533.4" r="0.6"/><circle cx="336.3" cy="514.8" r="1"/><circle cx="265.8" cy="501.3" r="0.9"/><circle cx="343.7" cy="608.5" r="0.8"/><circle cx="331.6" cy="609.1" r="1.2"/><circle cx="428.5" cy="557.7" r="0.8"/><circle cx="305.8" cy="574.6" r="0.5"/><circle cx="263.3" cy="586.8" r="0.9"/><circle cx="298" cy="552.3" r="0.7"/><circle cx="231.3" cy="601.4" r="1"/><circle cx="381.5" cy="489.7" r="0.9"/><circle cx="258.5" cy="507.8" r="1"/><circle cx="273.7" cy="520.8" r="0.6"/><circle cx="386.3" cy="526.8" r="1.1"/><circle cx="398.1" cy="592" r="0.6"/><circle cx="377.2" cy="564.5" r="0.9"/><circle cx="352" cy="596" r="1"/><circle cx="352" cy="514.2" r="0.6"/><circle cx="318.4" cy="533.5" r="0.6"/><circle cx="267.9" cy="575.7" r="0.7"/><circle cx="442.5" cy="530.7" r="0.7"/><circle cx="441.1" cy="602.1" r="1.1"/><circle cx="238.8" cy="504.2" r="1.1"/><circle cx="330.6" cy="531.4" r="0.6"/><circle cx="233.8" cy="560.2" r="0.6"/><circle cx="390.4" cy="497.9" r="1.1"/><circle cx="377.6" cy="493.1" r="0.7"/><circle cx="318.3" cy="494.1" r="0.7"/><circle cx="306.1" cy="563.1" r="0.8"/><circle cx="231.3" cy="568.8" r="0.7"/><circle cx="390" cy="498.1" r="0.7"/><circle cx="442.5" cy="609.7" r="0.6"/><circle cx="320.6" cy="603.3" r="0.7"/><circle cx="233" cy="510.6" r="0.5"/><circle cx="430.4" cy="496.5" r="0.5"/><circle cx="313.9" cy="478.7" r="1"/><circle cx="273.2" cy="605.1" r="1.1"/><circle cx="304.4" cy="599" r="1.2"/><circle cx="238.4" cy="565" r="1.1"/><circle cx="426.7" cy="584.3" r="0.8"/><circle cx="300.7" cy="519.6" r="1.1"/><circle cx="307.6" cy="561.8" r="0.6"/><circle cx="404.4" cy="594.8" r="1"/><circle cx="269.5" cy="521.5" r="0.7"/><circle cx="233.2" cy="595.8" r="1"/><circle cx="355.7" cy="476.3" r="1"/><circle cx="257" cy="505" r="0.9"/><circle cx="444" cy="581.2" r="0.7"/><circle cx="288.2" cy="558.3" r="1"/><circle cx="409.2" cy="497.3" r="0.9"/><circle cx="272.6" cy="548.4" r="0.6"/><circle cx="366" cy="588.4" r="0.5"/><circle cx="415.6" cy="546.4" r="1.2"/><circle cx="288.6" cy="566.9" r="1.1"/><circle cx="330.3" cy="546.3" r="0.8"/><circle cx="238.7" cy="488.6" r="1.1"/><circle cx="358.3" cy="536.3" r="1"/><circle cx="320.7" cy="519.4" r="0.9"/><circle cx="286" cy="541.4" r="0.8"/><circle cx="242" cy="588.6" r="0.8"/><circle cx="271.3" cy="583.5" r="0.8"/><circle cx="386.4" cy="568.9" r="0.6"/><circle cx="387.1" cy="576.6" r="1.2"/><circle cx="352.5" cy="511.6" r="1.2"/><circle cx="321.3" cy="594.6" r="0.9"/><circle cx="281.8" cy="556.1" r="0.6"/><circle cx="230.3" cy="582.9" r="0.9"/><circle cx="361.7" cy="501" r="0.7"/><circle cx="406.8" cy="508.6" r="0.6"/><circle cx="287.8" cy="551.9" r="0.6"/><circle cx="409.1" cy="592.5" r="1.2"/><circle cx="282" cy="584.2" r="0.7"/><circle cx="281.4" cy="537.4" r="0.8"/><circle cx="432.1" cy="555.2" r="1"/><circle cx="298.6" cy="476.3" r="0.9"/><circle cx="415.1" cy="595.5" r="1.1"/><circle cx="429.5" cy="605.6" r="0.6"/><circle cx="325.8" cy="533.2" r="0.5"/><circle cx="432.8" cy="540.2" r="0.9"/><circle cx="338.7" cy="567.1" r="0.7"/><circle cx="406.9" cy="506.8" r="0.9"/><circle cx="391.6" cy="552.9" r="1.2"/><circle cx="360.1" cy="502.8" r="1"/><circle cx="295.6" cy="584.2" r="1"/><circle cx="328.7" cy="506.7" r="1.2"/><circle cx="297.7" cy="510.8" r="0.9"/><circle cx="410.6" cy="516.3" r="0.6"/><circle cx="247.9" cy="571.7" r="1.1"/><circle cx="366.4" cy="550.5" r="0.7"/><circle cx="283.2" cy="513.5" r="1"/><circle cx="267.5" cy="511.1" r="1.1"/><circle cx="410.5" cy="514.5" r="0.5"/><circle cx="384.3" cy="497.6" r="0.6"/><circle cx="265.5" cy="536.3" r="1.1"/><circle cx="428.4" cy="548.1" r="1"/><circle cx="272" cy="566.3" r="0.8"/><circle cx="270.7" cy="556.1" r="1.1"/><circle cx="287" cy="553.2" r="0.9"/><circle cx="349.3" cy="602" r="1.1"/><circle cx="348.6" cy="536.1" r="1.2"/><circle cx="250.6" cy="609.9" r="1"/><circle cx="388.8" cy="500.7" r="0.9"/><circle cx="442.8" cy="536" r="1"/><circle cx="256.1" cy="583.1" r="1.2"/><circle cx="324.9" cy="490.6" r="1.2"/><circle cx="257.7" cy="584.8" r="1"/><circle cx="266.5" cy="546.6" r="0.7"/><circle cx="413.9" cy="538.9" r="0.6"/><circle cx="265" cy="483.1" r="0.8"/><circle cx="351" cy="492" r="0.7"/><circle cx="322.5" cy="512.5" r="0.7"/><circle cx="388.5" cy="494.2" r="0.9"/><circle cx="340.8" cy="599.2" r="1"/><circle cx="384" cy="505.2" r="0.5"/><circle cx="346.2" cy="551.8" r="0.9"/><circle cx="232.4" cy="589.6" r="0.6"/><circle cx="245.4" cy="516.5" r="0.9"/><circle cx="434.7" cy="544.6" r="0.9"/><circle cx="262.9" cy="611" r="0.8"/><circle cx="351.9" cy="543.6" r="0.7"/><circle cx="419.9" cy="507.2" r="0.6"/><circle cx="357" cy="534.8" r="1.1"/><circle cx="434.5" cy="593.6" r="0.6"/><circle cx="369.5" cy="589.5" r="0.7"/><circle cx="421.5" cy="512.9" r="0.8"/><circle cx="429.3" cy="504.4" r="0.7"/><circle cx="314.8" cy="542.7" r="0.7"/><circle cx="293.2" cy="586.7" r="0.5"/><circle cx="294.1" cy="484.1" r="0.8"/><circle cx="312.6" cy="503.7" r="1.1"/><circle cx="386.3" cy="551.6" r="0.6"/><circle cx="310.2" cy="588.1" r="1.1"/><circle cx="255.9" cy="540.3" r="0.8"/><circle cx="312.8" cy="580.6" r="1.1"/><circle cx="260.9" cy="518.1" r="1.2"/><circle cx="402.3" cy="591" r="1"/><circle cx="309.8" cy="590.2" r="0.8"/><circle cx="317.3" cy="519.9" r="0.7"/><circle cx="443.2" cy="596.9" r="0.8"/><circle cx="388.9" cy="484" r="0.6"/><circle cx="334.1" cy="517.9" r="1.1"/><circle cx="352.1" cy="479.1" r="0.6"/><circle cx="350.6" cy="493.8" r="0.9"/><circle cx="276.1" cy="532.9" r="1.1"/><circle cx="395.8" cy="497.5" r="0.6"/><circle cx="442.8" cy="477" r="0.7"/><circle cx="411.1" cy="557.3" r="1"/><circle cx="342.2" cy="532.8" r="0.6"/><circle cx="421.4" cy="560.3" r="1"/><circle cx="403.4" cy="558.7" r="1"/><circle cx="441.6" cy="560.3" r="0.8"/><circle cx="310.1" cy="599.4" r="1"/><circle cx="410" cy="485.4" r="1.2"/><circle cx="236.4" cy="538.6" r="1"/><circle cx="416.3" cy="480.7" r="0.7"/><circle cx="366.8" cy="572" r="1"/><circle cx="339.9" cy="542.3" r="0.6"/><circle cx="233.9" cy="600.9" r="1.2"/><circle cx="400.6" cy="496.7" r="1"/><circle cx="377.5" cy="545" r="0.5"/><circle cx="242.4" cy="500.1" r="0.9"/><circle cx="382" cy="566.1" r="0.7"/><circle cx="357.8" cy="488" r="1.1"/><circle cx="382.3" cy="590.1" r="0.7"/><circle cx="287.8" cy="546.8" r="1"/><circle cx="355.7" cy="514.5" r="1.1"/><circle cx="291.4" cy="492.7" r="0.6"/><circle cx="357.8" cy="546.4" r="1"/><circle cx="285.5" cy="495.1" r="1.2"/><circle cx="411.7" cy="534.7" r="1.2"/><circle cx="262.1" cy="544.1" r="0.8"/><circle cx="371.8" cy="489.9" r="0.7"/><circle cx="327.9" cy="603.8" r="0.7"/><circle cx="384" cy="505.6" r="0.9"/><circle cx="364.7" cy="530.6" r="0.7"/><circle cx="237.8" cy="491.3" r="0.6"/><circle cx="350.3" cy="559.6" r="0.8"/><circle cx="417.4" cy="523.7" r="1.2"/><circle cx="258.6" cy="485.1" r="0.6"/><circle cx="263.1" cy="577.7" r="0.6"/><circle cx="292.6" cy="611.8" r="1.1"/><circle cx="236" cy="477.9" r="0.5"/><circle cx="288.3" cy="555.1" r="1.1"/><circle cx="344.2" cy="526.3" r="0.7"/><circle cx="334.4" cy="611.4" r="1.1"/><circle cx="277.7" cy="478.2" r="1.1"/><circle cx="245.2" cy="565.5" r="0.7"/><circle cx="383.6" cy="501.8" r="0.8"/><circle cx="296.2" cy="595.9" r="0.6"/><circle cx="248.8" cy="569.3" r="1.2"/><circle cx="315.1" cy="579.8" r="1"/><circle cx="345.8" cy="530.8" r="0.6"/><circle cx="247.2" cy="490.3" r="0.5"/><circle cx="320.2" cy="548.9" r="1"/><circle cx="378.7" cy="540.9" r="0.9"/><circle cx="324.9" cy="593.9" r="0.6"/><circle cx="296.4" cy="605.9" r="1"/><circle cx="357.9" cy="558.4" r="1.2"/><circle cx="426.4" cy="536.9" r="0.9"/><circle cx="303.1" cy="543.1" r="1.2"/><circle cx="421.6" cy="529.1" r="1.1"/><circle cx="410.9" cy="576.7" r="0.7"/><circle cx="283.9" cy="610.8" r="0.9"/><circle cx="284.2" cy="589.7" r="0.7"/><circle cx="318.1" cy="587.4" r="1"/><circle cx="444.4" cy="499.2" r="1.1"/><circle cx="435.3" cy="489.7" r="0.5"/><circle cx="334.4" cy="544.2" r="0.8"/><circle cx="227.9" cy="546.1" r="1.2"/><circle cx="339.7" cy="484" r="1"/><circle cx="324.3" cy="601" r="0.9"/><circle cx="289.8" cy="541.8" r="0.8"/><circle cx="411.8" cy="514.7" r="1.2"/><circle cx="341.1" cy="606.3" r="1.2"/><circle cx="274.5" cy="588.1" r="1.2"/><circle cx="246.6" cy="516" r="1"/><circle cx="241.8" cy="603.8" r="0.6"/><circle cx="231.9" cy="484.8" r="0.8"/><circle cx="321.7" cy="572.6" r="1"/><circle cx="417.6" cy="589.7" r="0.7"/><circle cx="240.4" cy="588.7" r="1.2"/><circle cx="303.4" cy="528.8" r="1"/><circle cx="315.4" cy="568.3" r="0.6"/><circle cx="258.4" cy="516.3" r="0.8"/><circle cx="377.8" cy="607.7" r="1.1"/><circle cx="265.5" cy="516.9" r="0.8"/><circle cx="292.9" cy="541.9" r="0.6"/><circle cx="282.7" cy="611.4" r="0.9"/><circle cx="378.2" cy="505.5" r="1"/><circle cx="387.8" cy="543.9" r="0.9"/><circle cx="289.6" cy="551.1" r="0.6"/><circle cx="272.8" cy="562" r="1.1"/><circle cx="395.2" cy="586.4" r="1"/><circle cx="365" cy="476.2" r="1"/><circle cx="310.5" cy="559.4" r="1"/><circle cx="342.5" cy="579.7" r="0.6"/><circle cx="323.3" cy="577.3" r="0.8"/><circle cx="305.1" cy="477" r="1.1"/><circle cx="237.9" cy="515.6" r="1.1"/><circle cx="264.4" cy="528" r="1.1"/><circle cx="439" cy="491.4" r="0.9"/><circle cx="230.3" cy="515.8" r="0.9"/><circle cx="251.6" cy="602.6" r="0.7"/><circle cx="256.3" cy="590.1" r="1.2"/><circle cx="280.4" cy="585.1" r="0.5"/><circle cx="286.3" cy="568.3" r="1.1"/><circle cx="322.5" cy="541.1" r="0.6"/><circle cx="305.4" cy="492.8" r="0.7"/><circle cx="349.1" cy="573.8" r="0.6"/><circle cx="273.1" cy="593.3" r="0.7"/><circle cx="243.2" cy="510.5" r="0.7"/><circle cx="287.2" cy="528" r="1"/><circle cx="242.9" cy="602.2" r="0.8"/><circle cx="246.8" cy="544.8" r="0.8"/><circle cx="408.7" cy="499.5" r="0.9"/><circle cx="393.8" cy="476.7" r="1.1"/><circle cx="397.6" cy="503.8" r="1"/><circle cx="282.3" cy="547.4" r="0.6"/><circle cx="365.4" cy="575.1" r="1"/><circle cx="246.8" cy="584.6" r="0.8"/><circle cx="296" cy="603.5" r="1.2"/><circle cx="311.3" cy="603" r="0.9"/><circle cx="235.6" cy="487.8" r="0.8"/><circle cx="333.6" cy="581.2" r="1"/><circle cx="384.3" cy="599" r="1.2"/><circle cx="265.9" cy="572.4" r="0.6"/><circle cx="310.9" cy="556.4" r="0.5"/><circle cx="282.1" cy="513" r="0.7"/><circle cx="330.8" cy="490" r="1.2"/><circle cx="302.1" cy="610.4" r="1.1"/><circle cx="288" cy="554.1" r="0.5"/><circle cx="327" cy="514" r="1"/><circle cx="364.5" cy="571.8" r="0.5"/><circle cx="285.3" cy="567" r="1.1"/><circle cx="289.7" cy="605.2" r="0.5"/><circle cx="295.7" cy="497.2" r="0.7"/><circle cx="336.3" cy="611.8" r="1.2"/><circle cx="338.7" cy="519.5" r="1"/><circle cx="443.9" cy="514.3" r="0.8"/><circle cx="430" cy="536" r="0.7"/><circle cx="370.5" cy="579.6" r="0.5"/><circle cx="231.1" cy="531.6" r="0.6"/><circle cx="330.7" cy="544.4" r="0.7"/><circle cx="436.2" cy="530.9" r="1"/><circle cx="376.5" cy="603.1" r="0.6"/><circle cx="229.8" cy="504.3" r="0.8"/><circle cx="389.5" cy="498.5" r="1.1"/><circle cx="259.3" cy="501" r="0.9"/><circle cx="391.4" cy="574.9" r="0.5"/><circle cx="420.2" cy="608.2" r="1.1"/><circle cx="428" cy="533.8" r="0.7"/><circle cx="299.9" cy="494.9" r="1.1"/><circle cx="300.1" cy="607" r="1.1"/><circle cx="391.6" cy="494.9" r="1"/><circle cx="326" cy="542.8" r="0.5"/><circle cx="424.3" cy="484.1" r="0.8"/><circle cx="316.8" cy="512.9" r="0.6"/><circle cx="276.1" cy="498.3" r="0.8"/><circle cx="396.8" cy="580" r="0.7"/><circle cx="415.7" cy="574.9" r="1.1"/><circle cx="239.1" cy="603" r="0.8"/><circle cx="305.2" cy="486.6" r="1.1"/><circle cx="444.5" cy="606.2" r="1.1"/><circle cx="344.2" cy="583.9" r="0.6"/><circle cx="239.6" cy="580.2" r="1.2"/><circle cx="422.1" cy="484.7" r="0.6"/><circle cx="361" cy="587" r="0.6"/><circle cx="438.2" cy="525.4" r="0.9"/><circle cx="324.8" cy="583.4" r="0.9"/><circle cx="372.8" cy="602.7" r="1.1"/><circle cx="269.1" cy="554.6" r="1.1"/><circle cx="295.9" cy="560.5" r="0.7"/><circle cx="231.2" cy="565.3" r="0.7"/><circle cx="279.4" cy="489.5" r="1.1"/><circle cx="374.6" cy="481.6" r="0.7"/><circle cx="285.5" cy="524" r="1.1"/><circle cx="300" cy="590.2" r="1"/><circle cx="418.8" cy="588.3" r="0.8"/><circle cx="267.4" cy="605" r="0.6"/><circle cx="424.7" cy="590.4" r="0.6"/><circle cx="379.1" cy="485.9" r="1.1"/><circle cx="410.2" cy="476.2" r="0.6"/><circle cx="234.8" cy="532.8" r="1"/><circle cx="371.2" cy="604.2" r="0.5"/><circle cx="258.5" cy="493.6" r="0.8"/><circle cx="264.8" cy="528.6" r="0.8"/><circle cx="401.7" cy="522.3" r="0.7"/><circle cx="279.7" cy="532.8" r="1"/><circle cx="279.9" cy="605.8" r="0.8"/><circle cx="316.7" cy="529.2" r="0.9"/><circle cx="436.3" cy="535.9" r="0.6"/><circle cx="266.2" cy="479.1" r="0.7"/><circle cx="296.1" cy="484.8" r="1"/><circle cx="315.2" cy="529.4" r="0.6"/><circle cx="320.3" cy="587.2" r="1.1"/><circle cx="389.4" cy="504.6" r="0.9"/><circle cx="243.4" cy="548.7" r="1"/><circle cx="342.8" cy="559.9" r="0.9"/><circle cx="277.2" cy="584.7" r="1"/><circle cx="303.4" cy="545.9" r="0.5"/><circle cx="348.8" cy="499.8" r="1.1"/><circle cx="394.1" cy="542.3" r="1.1"/><circle cx="234.2" cy="603.2" r="1.1"/><circle cx="232.2" cy="488.2" r="1"/><circle cx="359.4" cy="509.5" r="0.8"/><circle cx="390.5" cy="543.5" r="0.7"/><circle cx="405.4" cy="571.6" r="0.8"/><circle cx="271" cy="558.6" r="0.6"/><circle cx="396.9" cy="600.9" r="0.8"/><circle cx="414.5" cy="600.2" r="1.1"/><circle cx="393.3" cy="509.2" r="0.8"/><circle cx="285.9" cy="608.4" r="0.8"/><circle cx="342.5" cy="586.4" r="1.1"/><circle cx="378.5" cy="517.3" r="1.2"/><circle cx="289.8" cy="532.9" r="0.5"/><circle cx="303.6" cy="509.9" r="1"/><circle cx="233.9" cy="490.8" r="0.9"/><circle cx="443.9" cy="506.4" r="0.6"/><circle cx="324.1" cy="574.4" r="1"/><circle cx="291.3" cy="603.3" r="1.1"/><circle cx="380.1" cy="592.2" r="1"/><circle cx="298.7" cy="577.4" r="1.1"/><circle cx="392.3" cy="527.8" r="1.1"/><circle cx="310.8" cy="478.9" r="1"/><circle cx="392.5" cy="550.5" r="0.5"/><circle cx="351.3" cy="499.8" r="0.7"/><circle cx="412.2" cy="495.1" r="0.9"/><circle cx="319.1" cy="566.6" r="1.1"/><circle cx="337.4" cy="555.9" r="0.7"/><circle cx="260.4" cy="529.4" r="0.6"/><circle cx="330.5" cy="485.8" r="0.9"/><circle cx="411.2" cy="504.5" r="0.7"/><circle cx="343.4" cy="563.5" r="0.6"/><circle cx="404.1" cy="561.1" r="0.7"/><circle cx="299.5" cy="528.3" r="0.9"/><circle cx="401.8" cy="505.4" r="0.6"/><circle cx="237" cy="573" r="0.8"/><circle cx="300.6" cy="593.5" r="1"/><circle cx="238.5" cy="508.1" r="1.1"/><circle cx="302.2" cy="524.1" r="1"/><circle cx="436.7" cy="587.3" r="0.9"/><circle cx="415.7" cy="501.1" r="0.7"/><circle cx="345.7" cy="476.7" r="0.6"/><circle cx="266.3" cy="551.6" r="0.7"/><circle cx="439.2" cy="484.1" r="0.7"/><circle cx="340.3" cy="482.7" r="0.7"/><circle cx="360" cy="509" r="0.7"/><circle cx="304.9" cy="610.8" r="1.1"/><circle cx="290.3" cy="579.7" r="1"/><circle cx="370.7" cy="482.2" r="1"/><circle cx="404.4" cy="584.5" r="0.7"/><circle cx="343.1" cy="560.6" r="1"/><circle cx="233.5" cy="491.7" r="0.6"/><circle cx="375.6" cy="553.6" r="0.6"/><circle cx="248.6" cy="605.5" r="1.1"/><circle cx="299" cy="565.8" r="0.7"/><circle cx="258.8" cy="560.9" r="1.2"/><circle cx="238.9" cy="591" r="0.7"/><circle cx="424.3" cy="538.7" r="1.1"/><circle cx="237.2" cy="603.7" r="1"/><circle cx="397.4" cy="580.2" r="1"/><circle cx="409.1" cy="533.5" r="1.2"/><circle cx="307.3" cy="482.4" r="0.7"/><circle cx="372.5" cy="595.1" r="0.7"/><circle cx="324.2" cy="545.3" r="0.5"/><circle cx="386.9" cy="575.2" r="0.8"/><circle cx="395.4" cy="555.5" r="1.2"/><circle cx="360.8" cy="587.4" r="0.9"/><circle cx="262.8" cy="527.6" r="1.2"/><circle cx="287.1" cy="537.4" r="0.9"/><circle cx="373.1" cy="544.6" r="0.9"/><circle cx="290.2" cy="494.9" r="0.9"/><circle cx="381.7" cy="486.8" r="0.6"/></g><g fill="#bc9cb0" opacity="0.65" ><circle cx="245.5" cy="578.2" r="0.6"/><circle cx="431.5" cy="516" r="0.7"/><circle cx="437.5" cy="536.9" r="0.6"/><circle cx="370.3" cy="538.8" r="1"/><circle cx="348.8" cy="548.4" r="0.9"/><circle cx="244.3" cy="537.1" r="1"/><circle cx="324.8" cy="510.7" r="0.9"/><circle cx="374.1" cy="611" r="1"/><circle cx="443.7" cy="542" r="0.9"/><circle cx="304" cy="504.2" r="0.8"/><circle cx="365.7" cy="568.5" r="0.7"/><circle cx="316.9" cy="528.6" r="0.6"/><circle cx="311.1" cy="495.2" r="0.9"/><circle cx="431.7" cy="533.5" r="0.8"/><circle cx="410.4" cy="599.8" r="1.1"/><circle cx="353.4" cy="533" r="0.7"/><circle cx="404.9" cy="493.1" r="0.6"/><circle cx="405.9" cy="553" r="0.8"/><circle cx="365.3" cy="525" r="0.8"/><circle cx="314.5" cy="554.5" r="0.8"/><circle cx="339" cy="514.7" r="0.7"/><circle cx="249" cy="496.7" r="0.7"/><circle cx="266.5" cy="564" r="0.9"/><circle cx="327.2" cy="603.8" r="0.7"/><circle cx="440.5" cy="506.4" r="0.9"/><circle cx="300.5" cy="603.2" r="1"/><circle cx="398.5" cy="479.7" r="0.6"/><circle cx="298.3" cy="609" r="1.1"/><circle cx="327.1" cy="588.8" r="1"/><circle cx="385.8" cy="543.1" r="1.1"/><circle cx="412.6" cy="506.6" r="0.9"/><circle cx="437.8" cy="510.4" r="1.1"/><circle cx="305.6" cy="525.9" r="0.5"/><circle cx="292.9" cy="516.2" r="1.1"/><circle cx="242.7" cy="589.4" r="0.7"/><circle cx="295.7" cy="540.1" r="0.8"/><circle cx="442" cy="479.5" r="0.9"/><circle cx="396.9" cy="554.7" r="0.6"/><circle cx="249.5" cy="540.5" r="0.6"/><circle cx="251.7" cy="601.9" r="1.1"/><circle cx="247.6" cy="498.6" r="0.9"/><circle cx="300.3" cy="543.1" r="0.7"/><circle cx="250.1" cy="523" r="1.2"/><circle cx="285.2" cy="586.2" r="0.6"/><circle cx="286.1" cy="480.7" r="1.2"/><circle cx="372.5" cy="492.6" r="1.1"/><circle cx="337.7" cy="531.9" r="0.6"/><circle cx="431.1" cy="567.6" r="0.7"/><circle cx="335.2" cy="570.2" r="0.9"/><circle cx="432.3" cy="509.1" r="1.1"/><circle cx="234" cy="500.2" r="0.9"/><circle cx="313.7" cy="493.6" r="0.8"/><circle cx="354.7" cy="560" r="1.1"/><circle cx="239.8" cy="500" r="1"/><circle cx="280.1" cy="494.9" r="0.9"/><circle cx="266" cy="514.4" r="0.6"/><circle cx="351.8" cy="491" r="0.9"/><circle cx="258.9" cy="555.2" r="0.8"/><circle cx="244.9" cy="579.1" r="0.9"/><circle cx="315.1" cy="548.7" r="0.9"/><circle cx="330.7" cy="604.3" r="0.6"/><circle cx="425.9" cy="512.1" r="1"/><circle cx="272.8" cy="482.4" r="0.5"/><circle cx="288.5" cy="590.9" r="0.6"/><circle cx="249.7" cy="579.7" r="1"/><circle cx="418.6" cy="539.7" r="1"/><circle cx="418.9" cy="571.7" r="0.9"/><circle cx="403.4" cy="540.6" r="0.5"/><circle cx="326.4" cy="496.5" r="0.5"/><circle cx="317.1" cy="544.8" r="1.1"/><circle cx="335.6" cy="581.6" r="1.1"/><circle cx="336.4" cy="599.1" r="1.1"/><circle cx="380.5" cy="572.7" r="0.5"/><circle cx="434.1" cy="480.1" r="0.7"/><circle cx="315.6" cy="572.2" r="0.6"/><circle cx="432.9" cy="602.2" r="0.5"/><circle cx="251.9" cy="559.1" r="0.5"/><circle cx="303.7" cy="507.1" r="0.9"/><circle cx="380.6" cy="597.9" r="0.7"/><circle cx="299.5" cy="564.3" r="0.7"/><circle cx="320.6" cy="492.4" r="0.8"/><circle cx="367.1" cy="524.4" r="1"/><circle cx="364.7" cy="516.6" r="1.1"/><circle cx="249.5" cy="503.1" r="1"/><circle cx="379.6" cy="502.1" r="0.9"/><circle cx="349.2" cy="483" r="0.7"/><circle cx="332" cy="542.1" r="0.9"/><circle cx="318.2" cy="559.7" r="1"/><circle cx="385.5" cy="515.3" r="0.6"/><circle cx="270.7" cy="587.1" r="0.8"/><circle cx="435" cy="596.3" r="0.9"/><circle cx="379.5" cy="484.8" r="0.6"/><circle cx="321.9" cy="565.1" r="0.8"/><circle cx="420.4" cy="482.1" r="1.1"/><circle cx="324.6" cy="484.4" r="1"/><circle cx="334.9" cy="489.6" r="0.5"/><circle cx="240.9" cy="601" r="0.6"/><circle cx="421.3" cy="573.3" r="1"/><circle cx="401.7" cy="507.3" r="0.7"/><circle cx="255.1" cy="559.1" r="1.1"/><circle cx="414.6" cy="599.9" r="0.7"/><circle cx="279.3" cy="573.1" r="0.6"/><circle cx="436" cy="529.7" r="0.6"/><circle cx="382.4" cy="483.9" r="1.2"/><circle cx="245.4" cy="549.5" r="1.1"/><circle cx="318.6" cy="601.6" r="0.9"/><circle cx="260.4" cy="516.2" r="0.7"/><circle cx="324.7" cy="488.1" r="0.6"/><circle cx="258" cy="538.4" r="0.7"/><circle cx="232.7" cy="521" r="0.6"/><circle cx="320.1" cy="545.8" r="0.9"/><circle cx="347.8" cy="597.5" r="1"/><circle cx="359.2" cy="530.1" r="0.9"/><circle cx="438" cy="490.6" r="0.6"/><circle cx="280" cy="566.3" r="0.8"/><circle cx="295.5" cy="574.9" r="0.9"/><circle cx="279.4" cy="590.7" r="0.7"/><circle cx="412.5" cy="574.3" r="1"/><circle cx="284.9" cy="503.7" r="0.7"/><circle cx="340.6" cy="492.8" r="1.1"/><circle cx="404.5" cy="575" r="0.6"/><circle cx="367.1" cy="552.9" r="0.9"/><circle cx="268.6" cy="536.1" r="0.6"/><circle cx="341.6" cy="584.1" r="0.5"/><circle cx="343.8" cy="589.6" r="1.1"/><circle cx="370.9" cy="492.2" r="0.7"/><circle cx="243.3" cy="586.3" r="0.8"/><circle cx="354.8" cy="501.9" r="0.6"/><circle cx="392.8" cy="495.6" r="0.8"/><circle cx="383.7" cy="591.1" r="0.9"/><circle cx="323.5" cy="528.6" r="0.8"/><circle cx="360.6" cy="556.7" r="0.6"/><circle cx="403" cy="555.9" r="1.2"/><circle cx="267.4" cy="501" r="0.6"/><circle cx="421.5" cy="603.8" r="1"/><circle cx="282.2" cy="510.3" r="0.5"/><circle cx="286.3" cy="540.9" r="0.9"/><circle cx="251.6" cy="504.5" r="1"/><circle cx="435.2" cy="509.8" r="0.7"/><circle cx="377.8" cy="480.2" r="1.2"/><circle cx="285.9" cy="585.2" r="1.1"/><circle cx="280.8" cy="504.2" r="0.8"/><circle cx="259.3" cy="529.7" r="0.9"/><circle cx="378.3" cy="496.1" r="1.2"/><circle cx="398.3" cy="564.7" r="1"/><circle cx="240.2" cy="606.9" r="0.7"/><circle cx="325.8" cy="523" r="1.1"/><circle cx="353.2" cy="573.9" r="0.7"/><circle cx="242.7" cy="597.8" r="0.7"/><circle cx="231.4" cy="585" r="0.9"/><circle cx="415.6" cy="492.1" r="1.1"/><circle cx="418.9" cy="482.2" r="0.9"/><circle cx="232.6" cy="498.5" r="0.9"/><circle cx="309.8" cy="539.9" r="0.8"/><circle cx="230.4" cy="585" r="0.9"/><circle cx="391.7" cy="554.8" r="0.8"/><circle cx="318.2" cy="555.6" r="0.8"/><circle cx="430.9" cy="538.8" r="1"/><circle cx="359.1" cy="524.7" r="1"/><circle cx="333.6" cy="548" r="0.8"/><circle cx="272.6" cy="546.9" r="0.9"/><circle cx="433" cy="557.5" r="1"/><circle cx="251.3" cy="561.1" r="1.2"/><circle cx="349.6" cy="583.1" r="0.9"/><circle cx="392.2" cy="573" r="0.7"/><circle cx="440.1" cy="540.8" r="0.5"/><circle cx="294.8" cy="535.7" r="1.1"/><circle cx="272.8" cy="603.7" r="0.6"/><circle cx="292.8" cy="499" r="0.9"/><circle cx="239.4" cy="549" r="1.1"/><circle cx="387.3" cy="515.6" r="0.9"/><circle cx="389.2" cy="597.2" r="1"/><circle cx="269.5" cy="510.8" r="0.7"/><circle cx="364.7" cy="501.1" r="1.2"/><circle cx="299.5" cy="544.5" r="0.8"/><circle cx="400.1" cy="557.5" r="1.1"/><circle cx="388.2" cy="583.3" r="0.8"/><circle cx="404" cy="540.4" r="0.8"/><circle cx="366.4" cy="540.8" r="0.5"/><circle cx="279.9" cy="580.9" r="0.7"/><circle cx="267.4" cy="585.5" r="0.9"/><circle cx="233.9" cy="528.5" r="0.6"/><circle cx="229.3" cy="482.5" r="0.8"/><circle cx="397.2" cy="491.2" r="1.1"/><circle cx="321.6" cy="566.4" r="0.6"/><circle cx="227.3" cy="562.6" r="1"/><circle cx="315.8" cy="500.6" r="0.9"/><circle cx="442.9" cy="585.2" r="0.7"/><circle cx="398.9" cy="505.3" r="0.9"/><circle cx="358.1" cy="481.9" r="0.6"/><circle cx="233.6" cy="537.4" r="1.2"/><circle cx="239.6" cy="526.9" r="0.8"/><circle cx="326.6" cy="502.6" r="1.2"/><circle cx="396.7" cy="574.6" r="1.1"/><circle cx="341.7" cy="589.4" r="0.9"/><circle cx="290.3" cy="596.6" r="1.2"/><circle cx="374.5" cy="541.1" r="0.8"/><circle cx="306" cy="609.3" r="1.1"/><circle cx="324.3" cy="488.6" r="0.9"/><circle cx="374.5" cy="604.2" r="0.7"/><circle cx="274.6" cy="545.6" r="0.8"/><circle cx="395.5" cy="513.6" r="0.7"/><circle cx="248.7" cy="483.2" r="0.5"/><circle cx="268.3" cy="538.3" r="0.5"/><circle cx="354.2" cy="521.2" r="1.1"/><circle cx="293.6" cy="523.7" r="1.2"/><circle cx="406.8" cy="512.3" r="0.7"/><circle cx="318.2" cy="585.1" r="1.1"/><circle cx="314.7" cy="607.2" r="1.1"/><circle cx="331.7" cy="484" r="0.7"/><circle cx="257.2" cy="604.9" r="0.8"/><circle cx="435.5" cy="498.6" r="0.8"/><circle cx="411.4" cy="591" r="0.6"/><circle cx="297.3" cy="517.2" r="0.8"/><circle cx="265.2" cy="478.7" r="1.2"/><circle cx="262.1" cy="593.5" r="0.8"/><circle cx="271.2" cy="526.4" r="0.6"/><circle cx="434.9" cy="578.3" r="1.1"/><circle cx="362.7" cy="492" r="1.1"/><circle cx="342" cy="522.8" r="1.1"/><circle cx="423.8" cy="604.3" r="1.2"/><circle cx="390.8" cy="552.2" r="1.2"/><circle cx="426.2" cy="605.8" r="0.5"/><circle cx="240.8" cy="581.8" r="1"/><circle cx="388.2" cy="598.2" r="0.8"/><circle cx="341.4" cy="506.5" r="0.5"/><circle cx="285.6" cy="544.7" r="0.7"/><circle cx="398.2" cy="492.9" r="1.1"/><circle cx="334.1" cy="609.6" r="0.6"/><circle cx="376.5" cy="557.5" r="1.1"/><circle cx="298.4" cy="516.5" r="0.7"/><circle cx="315" cy="481.5" r="0.9"/><circle cx="436.5" cy="588.2" r="0.9"/><circle cx="262.8" cy="494.5" r="1"/><circle cx="338.2" cy="578.3" r="1.2"/><circle cx="251.2" cy="551.3" r="0.7"/><circle cx="340.7" cy="595.2" r="1.2"/><circle cx="321" cy="534.6" r="0.9"/><circle cx="350.3" cy="556.3" r="0.9"/><circle cx="324.4" cy="592.3" r="1.1"/><circle cx="279.9" cy="515.4" r="0.7"/><circle cx="244.7" cy="560" r="0.9"/><circle cx="317.1" cy="521.4" r="0.7"/><circle cx="411.2" cy="594.4" r="0.9"/><circle cx="406.6" cy="498.2" r="0.7"/><circle cx="324.9" cy="559.4" r="0.7"/><circle cx="366.9" cy="524.2" r="1"/><circle cx="353" cy="539.1" r="0.7"/><circle cx="284.1" cy="488.9" r="1.2"/><circle cx="369.1" cy="487" r="0.8"/><circle cx="288.1" cy="566.5" r="0.9"/><circle cx="396.4" cy="518.3" r="1"/><circle cx="357.8" cy="501.9" r="0.9"/><circle cx="264.5" cy="553.3" r="0.7"/><circle cx="414.5" cy="551.5" r="0.8"/><circle cx="410" cy="603.2" r="1.1"/><circle cx="412.9" cy="521.5" r="1.2"/><circle cx="280.5" cy="529.4" r="0.7"/><circle cx="309.6" cy="536.3" r="1.2"/><circle cx="308" cy="519.3" r="1.1"/><circle cx="346.3" cy="502" r="0.6"/><circle cx="413.5" cy="565.2" r="0.9"/><circle cx="289.3" cy="604.4" r="0.9"/><circle cx="289.1" cy="580.2" r="1"/><circle cx="283.7" cy="563.5" r="0.7"/><circle cx="323.2" cy="592.1" r="0.7"/><circle cx="227.2" cy="518.3" r="0.7"/><circle cx="351.6" cy="482.9" r="0.8"/><circle cx="274.8" cy="520.5" r="1.2"/><circle cx="265.6" cy="528" r="1.1"/><circle cx="348.9" cy="583.7" r="0.7"/><circle cx="408.4" cy="550.7" r="1.2"/><circle cx="292.5" cy="531.2" r="1.2"/><circle cx="356.3" cy="567.9" r="1"/><circle cx="347.1" cy="607.1" r="1.1"/><circle cx="227.8" cy="499.7" r="1"/><circle cx="240.9" cy="601.5" r="0.6"/><circle cx="301.9" cy="555.7" r="1.1"/><circle cx="421" cy="554.7" r="1"/><circle cx="297.2" cy="532.1" r="1"/><circle cx="391.7" cy="599.9" r="1.1"/><circle cx="414.9" cy="494.7" r="0.8"/><circle cx="399.8" cy="537" r="0.7"/><circle cx="290" cy="605.3" r="0.7"/><circle cx="333.1" cy="560.6" r="0.8"/><circle cx="420.2" cy="545.2" r="0.5"/><circle cx="302.5" cy="550.5" r="0.9"/><circle cx="439.6" cy="497" r="0.7"/><circle cx="240.9" cy="590" r="0.6"/><circle cx="238.9" cy="476.3" r="0.9"/><circle cx="389.5" cy="539.4" r="1"/><circle cx="239.6" cy="557.6" r="0.7"/><circle cx="363.6" cy="520.6" r="1"/><circle cx="365.7" cy="544.9" r="0.7"/><circle cx="305.5" cy="579.4" r="1.1"/><circle cx="376.2" cy="492" r="0.5"/><circle cx="302.2" cy="507.3" r="0.7"/><circle cx="392.4" cy="542.8" r="0.9"/><circle cx="262.5" cy="485.5" r="0.6"/><circle cx="320" cy="525.4" r="0.7"/><circle cx="334.3" cy="556.3" r="1"/><circle cx="338.9" cy="477.8" r="1"/><circle cx="263.4" cy="541.2" r="1.1"/><circle cx="265.3" cy="495.2" r="1.1"/><circle cx="371.5" cy="491.7" r="1.2"/><circle cx="297.6" cy="490.8" r="1.1"/><circle cx="287.4" cy="579.2" r="0.5"/><circle cx="397.6" cy="585.9" r="1.1"/><circle cx="305.6" cy="610.7" r="1.2"/><circle cx="272.5" cy="605.1" r="0.6"/><circle cx="298.1" cy="563.6" r="1.1"/><circle cx="412.1" cy="572.1" r="1.2"/><circle cx="242.6" cy="567.3" r="0.9"/><circle cx="437.7" cy="578.1" r="0.6"/><circle cx="339.5" cy="535.7" r="1.1"/><circle cx="320.2" cy="596" r="1.2"/><circle cx="292.6" cy="493" r="0.6"/><circle cx="424.2" cy="482.1" r="0.8"/><circle cx="413.6" cy="478.3" r="1.1"/><circle cx="312.9" cy="558.7" r="0.9"/><circle cx="382.3" cy="605.1" r="0.8"/><circle cx="366.4" cy="476.9" r="0.6"/><circle cx="235.4" cy="503.3" r="0.6"/><circle cx="416.9" cy="488.4" r="1.2"/><circle cx="412" cy="542.8" r="0.5"/><circle cx="299.7" cy="505.6" r="0.7"/><circle cx="236.9" cy="539.9" r="0.6"/><circle cx="360.9" cy="603.5" r="1"/><circle cx="412.5" cy="489" r="1.2"/><circle cx="411.4" cy="566.8" r="0.9"/><circle cx="328.3" cy="536.1" r="0.6"/><circle cx="233.7" cy="487.4" r="1.1"/><circle cx="430.7" cy="550.7" r="0.9"/><circle cx="378.7" cy="557.4" r="0.9"/><circle cx="392" cy="604" r="0.7"/><circle cx="441.2" cy="495" r="0.7"/><circle cx="270" cy="570.4" r="0.6"/><circle cx="329.4" cy="495.9" r="1.1"/><circle cx="361.1" cy="520.8" r="0.8"/><circle cx="405.9" cy="477.8" r="0.8"/><circle cx="273.3" cy="566" r="0.8"/><circle cx="247.8" cy="575" r="1.1"/><circle cx="256.9" cy="599.2" r="0.7"/><circle cx="296.3" cy="551.2" r="0.9"/><circle cx="334.3" cy="529" r="0.9"/><circle cx="346.2" cy="540.3" r="0.6"/><circle cx="366.3" cy="507.2" r="0.9"/><circle cx="309.7" cy="547.2" r="1"/><circle cx="420.6" cy="550.4" r="0.7"/><circle cx="301.4" cy="550.6" r="1"/><circle cx="391.2" cy="558.3" r="1"/><circle cx="300.6" cy="599.4" r="1"/><circle cx="362.2" cy="511.5" r="0.7"/><circle cx="338.1" cy="554.8" r="0.6"/><circle cx="352.2" cy="493.5" r="0.6"/><circle cx="230.1" cy="484.1" r="0.6"/><circle cx="353.7" cy="576.1" r="1.2"/><circle cx="264.8" cy="602.1" r="0.7"/><circle cx="386.5" cy="525" r="1.2"/><circle cx="252.3" cy="516.6" r="0.5"/><circle cx="253.7" cy="502.1" r="1.1"/><circle cx="390.4" cy="562.4" r="1"/><circle cx="411.2" cy="531.7" r="1.1"/><circle cx="259.8" cy="498" r="0.9"/><circle cx="381.1" cy="488.2" r="1"/><circle cx="389.5" cy="507.7" r="1.2"/><circle cx="252.7" cy="601.8" r="0.9"/><circle cx="394.9" cy="510" r="1"/><circle cx="229.6" cy="557.6" r="1"/><circle cx="312.4" cy="493.5" r="0.8"/><circle cx="291.2" cy="588.6" r="1"/><circle cx="352.6" cy="516" r="0.5"/><circle cx="412.6" cy="566.2" r="0.9"/><circle cx="236.9" cy="570.3" r="0.7"/><circle cx="323.7" cy="487" r="0.8"/><circle cx="233.2" cy="480.6" r="0.9"/><circle cx="254.1" cy="541.8" r="1.1"/><circle cx="296.6" cy="604.3" r="1.1"/><circle cx="333.7" cy="522.1" r="0.9"/><circle cx="302.2" cy="536.1" r="1"/><circle cx="386.1" cy="563.9" r="1.1"/><circle cx="339.1" cy="501.6" r="1.2"/><circle cx="428.3" cy="548.9" r="0.9"/><circle cx="402.1" cy="572.1" r="1"/><circle cx="395" cy="521.1" r="0.6"/><circle cx="390.9" cy="574" r="0.9"/><circle cx="430.5" cy="485.6" r="0.9"/><circle cx="339.5" cy="595.1" r="1.2"/><circle cx="347.1" cy="553.3" r="0.6"/><circle cx="230.1" cy="491.1" r="0.7"/><circle cx="256" cy="551.4" r="0.8"/><circle cx="440.6" cy="547.7" r="0.8"/><circle cx="270.3" cy="492.2" r="0.6"/><circle cx="234.6" cy="576.2" r="0.6"/><circle cx="406.4" cy="502.2" r="1.2"/><circle cx="299.6" cy="508.3" r="0.6"/><circle cx="377" cy="577.7" r="1"/><circle cx="333.3" cy="476.4" r="1.1"/><circle cx="303.9" cy="549.5" r="0.5"/><circle cx="267.8" cy="478" r="0.5"/><circle cx="275.1" cy="524.3" r="0.9"/><circle cx="280" cy="600.6" r="1"/><circle cx="328.7" cy="607.6" r="1.1"/><circle cx="360.8" cy="548.9" r="1.1"/><circle cx="412.6" cy="481.8" r="0.7"/><circle cx="359.6" cy="479.9" r="0.9"/><circle cx="299.2" cy="490.4" r="0.7"/><circle cx="412.5" cy="540.3" r="1.1"/><circle cx="327.2" cy="541.7" r="1.1"/><circle cx="350.6" cy="498" r="1.1"/><circle cx="376.2" cy="610.8" r="0.7"/><circle cx="398" cy="502.8" r="0.7"/><circle cx="428.5" cy="477" r="0.9"/><circle cx="321.4" cy="559.4" r="0.6"/><circle cx="349.9" cy="522" r="0.7"/><circle cx="325.3" cy="592.5" r="0.6"/><circle cx="388.9" cy="590.5" r="0.9"/><circle cx="287.5" cy="554" r="0.5"/><circle cx="247.7" cy="543.5" r="0.9"/><circle cx="292.9" cy="569.9" r="0.9"/><circle cx="266.1" cy="531.9" r="0.7"/><circle cx="307.1" cy="495.8" r="0.6"/><circle cx="441.6" cy="552.5" r="0.7"/><circle cx="427.5" cy="607" r="0.6"/><circle cx="314.2" cy="547.7" r="1.1"/><circle cx="236.5" cy="560.4" r="0.9"/><circle cx="326.3" cy="536.7" r="1.2"/><circle cx="268" cy="532.8" r="0.6"/><circle cx="375.2" cy="560.2" r="1.2"/></g><g fill="#dcc4c0" opacity="0.65" ><circle cx="418.2" cy="479.7" r="0.6"/><circle cx="431.2" cy="494.5" r="1.2"/><circle cx="323.3" cy="595.4" r="1.1"/><circle cx="413" cy="501.7" r="0.5"/><circle cx="426.5" cy="604.2" r="1.2"/><circle cx="247.2" cy="573.8" r="0.9"/><circle cx="402.6" cy="498.1" r="0.6"/><circle cx="305.2" cy="533.7" r="0.6"/><circle cx="255.3" cy="529.4" r="0.7"/><circle cx="362.7" cy="477.8" r="0.9"/><circle cx="285.7" cy="515.4" r="0.6"/><circle cx="418.8" cy="559" r="1"/><circle cx="268.7" cy="591.9" r="0.6"/><circle cx="408.8" cy="542.8" r="0.8"/><circle cx="356.3" cy="608.7" r="1"/><circle cx="403.4" cy="537" r="0.7"/><circle cx="236.7" cy="563" r="1.2"/><circle cx="413.3" cy="604.2" r="1.1"/><circle cx="314.6" cy="539.2" r="0.7"/><circle cx="325.3" cy="609.3" r="0.9"/><circle cx="422" cy="495.6" r="1.2"/><circle cx="310.4" cy="538.5" r="1.1"/><circle cx="256.6" cy="585.5" r="0.9"/><circle cx="244.8" cy="571.1" r="1.1"/><circle cx="332.2" cy="595.7" r="0.8"/><circle cx="305.7" cy="557.8" r="0.8"/><circle cx="433.4" cy="588.7" r="0.6"/><circle cx="238.3" cy="493.3" r="0.7"/><circle cx="250.9" cy="536.9" r="0.8"/><circle cx="229" cy="564.4" r="0.5"/><circle cx="407.3" cy="550.2" r="1.1"/><circle cx="365.6" cy="517.1" r="0.8"/><circle cx="392.4" cy="599.8" r="0.8"/><circle cx="274.4" cy="511.1" r="0.8"/><circle cx="323.5" cy="562.9" r="1.1"/><circle cx="430.3" cy="526.7" r="1.1"/><circle cx="407.1" cy="579.9" r="1.1"/><circle cx="254.1" cy="570.7" r="0.9"/><circle cx="244.2" cy="547.3" r="0.5"/><circle cx="289.5" cy="499.7" r="0.8"/><circle cx="350.7" cy="553.8" r="0.7"/><circle cx="262.6" cy="495.2" r="1.1"/><circle cx="418.6" cy="483.1" r="0.9"/><circle cx="361.7" cy="476.1" r="0.9"/><circle cx="304.8" cy="490.7" r="0.8"/><circle cx="243.7" cy="601.7" r="1"/><circle cx="236.4" cy="529.2" r="0.7"/><circle cx="382.9" cy="517.8" r="0.6"/><circle cx="257.4" cy="556.9" r="0.5"/><circle cx="277.6" cy="514.1" r="1"/><circle cx="250" cy="507.4" r="0.8"/><circle cx="374.6" cy="490.6" r="0.6"/><circle cx="302.3" cy="598.4" r="0.5"/><circle cx="311" cy="572" r="1.1"/><circle cx="311.4" cy="497.1" r="1.2"/><circle cx="296.8" cy="515" r="0.8"/><circle cx="431.5" cy="573.4" r="0.8"/><circle cx="432.2" cy="516.4" r="0.6"/><circle cx="323.5" cy="508.6" r="0.9"/><circle cx="244.7" cy="477.1" r="0.9"/><circle cx="265.3" cy="535.7" r="0.7"/><circle cx="412.7" cy="550.5" r="1"/><circle cx="242.8" cy="595.5" r="1.1"/><circle cx="365.5" cy="515.7" r="1.1"/><circle cx="277.6" cy="533.8" r="0.8"/><circle cx="285.3" cy="579.6" r="1"/><circle cx="264.1" cy="588" r="1.1"/><circle cx="262.6" cy="578.9" r="1.1"/><circle cx="246.2" cy="578.4" r="0.9"/><circle cx="234.6" cy="525.3" r="0.7"/><circle cx="346.9" cy="599.4" r="0.9"/><circle cx="278.1" cy="495.3" r="0.6"/><circle cx="369.4" cy="586.4" r="0.6"/><circle cx="359" cy="486.7" r="1"/><circle cx="370" cy="478.7" r="1"/><circle cx="320" cy="593.4" r="1.1"/><circle cx="247" cy="503.8" r="1.1"/><circle cx="357.9" cy="555.9" r="1.1"/><circle cx="410.2" cy="545.5" r="1.2"/><circle cx="233.5" cy="489.5" r="0.8"/><circle cx="271.2" cy="519.8" r="0.7"/><circle cx="316.1" cy="611.8" r="0.8"/><circle cx="329.2" cy="504.7" r="0.7"/><circle cx="417.2" cy="521.4" r="1.1"/><circle cx="316.7" cy="502.3" r="0.8"/><circle cx="342.6" cy="588.7" r="1.2"/><circle cx="413.2" cy="518.2" r="0.8"/><circle cx="242.1" cy="576.4" r="1.1"/><circle cx="229.9" cy="528.5" r="1.1"/><circle cx="348.9" cy="556.7" r="1.1"/><circle cx="393.1" cy="601.7" r="0.8"/><circle cx="360.7" cy="608.6" r="0.8"/><circle cx="257.4" cy="596.8" r="1"/><circle cx="277.9" cy="521.6" r="0.5"/><circle cx="378.9" cy="559" r="1.2"/><circle cx="228" cy="554" r="0.7"/><circle cx="359.8" cy="561.7" r="0.7"/><circle cx="320.4" cy="549.1" r="0.8"/><circle cx="366.5" cy="550.8" r="0.9"/><circle cx="336" cy="529" r="1.2"/><circle cx="355.7" cy="532.3" r="1"/><circle cx="427.5" cy="489.9" r="0.6"/><circle cx="301.3" cy="505" r="0.9"/><circle cx="440.8" cy="574.3" r="0.6"/><circle cx="303.8" cy="600.9" r="1.2"/><circle cx="250.4" cy="481.6" r="0.9"/><circle cx="278.6" cy="517" r="0.5"/><circle cx="429" cy="505.1" r="0.7"/><circle cx="311.3" cy="576.9" r="1.2"/><circle cx="304.3" cy="519.6" r="0.6"/><circle cx="410.4" cy="522.6" r="0.5"/><circle cx="395.7" cy="526.8" r="1"/><circle cx="336.3" cy="589.2" r="0.5"/><circle cx="358" cy="555.4" r="1.1"/><circle cx="389.4" cy="501" r="0.6"/><circle cx="361.3" cy="482.5" r="0.9"/><circle cx="296.8" cy="577.9" r="1.1"/><circle cx="357.3" cy="569.6" r="0.9"/><circle cx="311.9" cy="596.2" r="0.9"/><circle cx="276" cy="567.4" r="0.8"/><circle cx="296.3" cy="578.4" r="0.7"/><circle cx="350.3" cy="588.8" r="1.1"/><circle cx="276.9" cy="539.7" r="1.1"/><circle cx="381" cy="569.4" r="0.9"/><circle cx="375.3" cy="584.9" r="0.9"/><circle cx="375.6" cy="533.9" r="0.6"/><circle cx="442.6" cy="542.2" r="1.2"/><circle cx="424.5" cy="599.6" r="0.6"/><circle cx="348.3" cy="587.4" r="0.9"/><circle cx="315.6" cy="479.6" r="1"/><circle cx="328.5" cy="500.2" r="0.6"/><circle cx="256.9" cy="530.5" r="0.9"/><circle cx="238.5" cy="518.4" r="0.5"/><circle cx="413.6" cy="534.6" r="0.9"/><circle cx="404" cy="532.3" r="1.1"/><circle cx="313.7" cy="585.3" r="0.6"/><circle cx="432.8" cy="579.4" r="1"/><circle cx="444.2" cy="569.7" r="1.2"/><circle cx="257.3" cy="581" r="0.5"/><circle cx="282.1" cy="593.2" r="1"/><circle cx="438.1" cy="557.9" r="1"/><circle cx="305.1" cy="609.7" r="1.1"/><circle cx="328" cy="490.9" r="0.8"/><circle cx="249.9" cy="555.1" r="1.1"/><circle cx="388.2" cy="506.1" r="0.8"/><circle cx="379.8" cy="583" r="1"/><circle cx="360.4" cy="559.7" r="0.9"/><circle cx="276.4" cy="553.3" r="1"/><circle cx="409.9" cy="539.6" r="0.7"/><circle cx="403.7" cy="513" r="1"/><circle cx="365.8" cy="476.6" r="0.8"/><circle cx="410.5" cy="530.9" r="0.8"/><circle cx="259.7" cy="569.7" r="0.9"/><circle cx="230" cy="571.4" r="0.6"/><circle cx="387.3" cy="582.6" r="0.9"/><circle cx="233.8" cy="551.4" r="1.1"/><circle cx="429.4" cy="482" r="0.7"/><circle cx="421.7" cy="589" r="0.5"/><circle cx="266.4" cy="489.8" r="1.2"/><circle cx="274.6" cy="591.7" r="0.6"/><circle cx="345.5" cy="552.6" r="1.1"/><circle cx="251.5" cy="554.9" r="1.2"/><circle cx="436.5" cy="504.5" r="0.6"/><circle cx="295.4" cy="477.7" r="0.5"/><circle cx="376" cy="530.4" r="0.8"/><circle cx="315.4" cy="496" r="0.7"/><circle cx="316.3" cy="591.8" r="0.7"/><circle cx="431.8" cy="481.3" r="0.6"/><circle cx="394.1" cy="590.9" r="1"/><circle cx="429.4" cy="570.4" r="0.8"/><circle cx="235.1" cy="493.7" r="0.7"/><circle cx="362.9" cy="571.4" r="1"/><circle cx="308" cy="502.8" r="1"/><circle cx="361.1" cy="500.5" r="0.7"/><circle cx="276.3" cy="609.7" r="1"/><circle cx="440.7" cy="565.1" r="0.5"/><circle cx="348.4" cy="539.2" r="0.9"/><circle cx="421" cy="482.9" r="1.1"/><circle cx="328" cy="545" r="0.7"/><circle cx="291" cy="564.1" r="0.6"/><circle cx="286.7" cy="600.1" r="0.9"/><circle cx="439.8" cy="488.5" r="0.7"/><circle cx="353.9" cy="521.6" r="1.1"/><circle cx="315.1" cy="606.8" r="0.5"/><circle cx="269.8" cy="493.8" r="0.9"/><circle cx="441" cy="522.3" r="1.1"/><circle cx="420.7" cy="555.4" r="0.8"/><circle cx="337.1" cy="542.5" r="1"/><circle cx="443.4" cy="505.5" r="1.1"/><circle cx="258.8" cy="551.7" r="0.5"/><circle cx="333.1" cy="569.5" r="1.1"/><circle cx="276.6" cy="509.1" r="1"/><circle cx="291.2" cy="583.3" r="1"/><circle cx="368" cy="529.4" r="1.1"/><circle cx="420.2" cy="524.9" r="0.9"/><circle cx="294.9" cy="588.6" r="0.6"/><circle cx="277.5" cy="497.9" r="0.8"/><circle cx="256.7" cy="521.4" r="1.1"/><circle cx="293.6" cy="521" r="1"/><circle cx="335.3" cy="598.8" r="1.1"/><circle cx="436.8" cy="591.2" r="0.8"/><circle cx="357.2" cy="505" r="0.8"/><circle cx="253.4" cy="572.5" r="0.8"/><circle cx="370.7" cy="604.6" r="1"/><circle cx="441.9" cy="600.7" r="0.6"/><circle cx="230.8" cy="503.2" r="0.5"/><circle cx="254.3" cy="576.5" r="0.8"/><circle cx="285" cy="593.7" r="0.6"/><circle cx="232.4" cy="482.3" r="0.8"/><circle cx="378.4" cy="571.5" r="0.9"/><circle cx="236.3" cy="536.2" r="1"/><circle cx="327.2" cy="589" r="1.2"/><circle cx="378.3" cy="545.4" r="0.8"/><circle cx="349.5" cy="541.9" r="1.1"/><circle cx="234.9" cy="537.9" r="0.8"/><circle cx="281.4" cy="525.9" r="0.8"/><circle cx="380" cy="509" r="1"/><circle cx="272.2" cy="584.5" r="0.7"/><circle cx="339.2" cy="529.8" r="1.1"/><circle cx="282.3" cy="518" r="0.6"/><circle cx="365.5" cy="602.7" r="1.2"/><circle cx="338.7" cy="477.9" r="0.7"/><circle cx="282.9" cy="486.6" r="1.1"/><circle cx="386" cy="493.9" r="0.6"/><circle cx="379.8" cy="516.7" r="0.8"/><circle cx="382.9" cy="514.6" r="1"/><circle cx="320.7" cy="499.8" r="0.5"/><circle cx="255.4" cy="567.9" r="0.8"/><circle cx="233.2" cy="575" r="0.7"/><circle cx="245.5" cy="537.2" r="0.6"/><circle cx="422.5" cy="504.4" r="0.8"/><circle cx="287.6" cy="595.9" r="0.5"/><circle cx="235.5" cy="570.1" r="0.9"/><circle cx="428" cy="505.1" r="0.7"/><circle cx="356.4" cy="543.4" r="0.8"/><circle cx="430.2" cy="527.6" r="1.2"/><circle cx="342.2" cy="587.9" r="1"/><circle cx="269.2" cy="529.4" r="0.8"/><circle cx="361.4" cy="477.2" r="0.8"/><circle cx="267.4" cy="571" r="0.8"/><circle cx="354.8" cy="564.6" r="0.6"/><circle cx="351.4" cy="506.7" r="1.2"/><circle cx="291.4" cy="501.5" r="1.2"/><circle cx="318.1" cy="486.4" r="0.6"/><circle cx="364.5" cy="595.6" r="1.1"/><circle cx="301.6" cy="501.7" r="0.7"/><circle cx="364.1" cy="592.8" r="1"/><circle cx="401.6" cy="588.5" r="0.8"/><circle cx="243.2" cy="581.7" r="1"/><circle cx="265.8" cy="487.2" r="0.9"/><circle cx="373.1" cy="590.9" r="0.8"/><circle cx="340.9" cy="548.5" r="0.7"/><circle cx="255.4" cy="519.6" r="0.7"/><circle cx="434.1" cy="546.3" r="1.1"/><circle cx="359.3" cy="550.3" r="0.8"/><circle cx="381.5" cy="528.9" r="1.1"/><circle cx="397.1" cy="551.9" r="1.2"/><circle cx="303.1" cy="488.4" r="0.9"/><circle cx="385.3" cy="523.7" r="1.1"/><circle cx="410.3" cy="502.6" r="0.6"/><circle cx="423.7" cy="588.1" r="0.6"/><circle cx="424.9" cy="503.9" r="1.1"/><circle cx="438.9" cy="487.7" r="0.9"/><circle cx="392.2" cy="513.1" r="0.7"/><circle cx="332.3" cy="507.2" r="0.5"/><circle cx="341.5" cy="481.2" r="0.7"/><circle cx="237.3" cy="537" r="0.7"/><circle cx="348.4" cy="477.2" r="0.9"/><circle cx="278.8" cy="552.7" r="0.6"/><circle cx="291.9" cy="501.2" r="0.9"/><circle cx="400.1" cy="553.6" r="0.5"/><circle cx="292.3" cy="606.5" r="0.6"/><circle cx="264.9" cy="578.2" r="1.1"/><circle cx="284.5" cy="509" r="1"/><circle cx="371.8" cy="538.3" r="0.9"/><circle cx="269.6" cy="571.7" r="0.9"/><circle cx="414.7" cy="561.4" r="0.9"/><circle cx="329.4" cy="591.6" r="0.9"/><circle cx="237.3" cy="547.2" r="0.7"/><circle cx="247.6" cy="537.2" r="1.2"/><circle cx="327.9" cy="521.9" r="0.6"/><circle cx="229.2" cy="503.4" r="0.8"/><circle cx="352.1" cy="484.1" r="1"/><circle cx="441.2" cy="527.9" r="0.6"/><circle cx="239.1" cy="547.9" r="1.1"/><circle cx="383" cy="527.2" r="0.6"/><circle cx="260.8" cy="529.3" r="0.9"/><circle cx="331.2" cy="604.5" r="0.9"/><circle cx="398" cy="481.7" r="0.6"/><circle cx="303" cy="575.3" r="1.1"/><circle cx="315.2" cy="536.6" r="1"/><circle cx="335.1" cy="512.3" r="1.1"/><circle cx="345.9" cy="530" r="1.2"/><circle cx="336.6" cy="606.5" r="0.7"/><circle cx="281.4" cy="607.1" r="1"/><circle cx="290.6" cy="503.5" r="0.7"/><circle cx="417" cy="515.4" r="0.8"/><circle cx="407.3" cy="572.9" r="1"/><circle cx="431.7" cy="511.5" r="1.1"/><circle cx="433.6" cy="586.2" r="0.7"/><circle cx="339.8" cy="553.8" r="0.6"/><circle cx="362.2" cy="576.3" r="1.2"/><circle cx="374.3" cy="588.2" r="0.6"/><circle cx="317.8" cy="484" r="1"/><circle cx="279.7" cy="606.9" r="0.5"/><circle cx="323.8" cy="572.8" r="0.6"/><circle cx="374.9" cy="572.4" r="0.7"/><circle cx="253.8" cy="567" r="0.8"/><circle cx="340.1" cy="525.5" r="0.6"/><circle cx="333.9" cy="537.1" r="0.8"/><circle cx="358.1" cy="540.7" r="0.9"/><circle cx="319" cy="496.7" r="0.7"/><circle cx="296.5" cy="525.1" r="0.5"/><circle cx="278.8" cy="521.6" r="1.1"/><circle cx="409.4" cy="580.1" r="0.5"/><circle cx="257" cy="561.4" r="0.7"/><circle cx="388.3" cy="559.3" r="0.6"/><circle cx="335.7" cy="484.5" r="0.9"/><circle cx="405.4" cy="594.7" r="0.8"/><circle cx="277.1" cy="586.1" r="0.9"/><circle cx="319" cy="553.1" r="1.1"/><circle cx="252.1" cy="608.9" r="0.7"/><circle cx="342.1" cy="480.4" r="1.2"/><circle cx="245.5" cy="591.9" r="0.9"/><circle cx="291.3" cy="533.7" r="0.8"/><circle cx="330.8" cy="586.2" r="0.8"/><circle cx="360.5" cy="592.5" r="1.1"/><circle cx="369.7" cy="567.3" r="1"/><circle cx="284.4" cy="593" r="1.1"/><circle cx="372.8" cy="495.9" r="1.1"/><circle cx="431.3" cy="523.9" r="0.8"/><circle cx="435.7" cy="592.1" r="0.5"/><circle cx="334.8" cy="552.3" r="1"/><circle cx="305.6" cy="562.8" r="1.1"/><circle cx="330" cy="524.4" r="0.5"/><circle cx="380.2" cy="489.6" r="1"/><circle cx="244.4" cy="525.3" r="0.6"/><circle cx="377.7" cy="537.7" r="0.8"/><circle cx="302" cy="602.2" r="0.8"/><circle cx="349.1" cy="485.4" r="0.5"/><circle cx="285" cy="555.4" r="1.1"/><circle cx="295.5" cy="485.2" r="0.9"/><circle cx="236.3" cy="584.7" r="0.9"/><circle cx="293.7" cy="478" r="0.9"/><circle cx="401.9" cy="523.1" r="1.1"/><circle cx="412.7" cy="579.4" r="1.1"/><circle cx="366.7" cy="539.3" r="1.1"/><circle cx="251.6" cy="544.3" r="1"/><circle cx="428.3" cy="588.7" r="0.6"/><circle cx="373.5" cy="567.4" r="0.9"/><circle cx="285.4" cy="515.8" r="0.7"/><circle cx="424.8" cy="524.2" r="1.1"/><circle cx="241.9" cy="546" r="0.6"/><circle cx="407.7" cy="492.8" r="0.7"/><circle cx="394.6" cy="578.1" r="1.1"/><circle cx="334.5" cy="531.6" r="0.6"/><circle cx="353.9" cy="560.8" r="0.7"/><circle cx="391.3" cy="508" r="0.8"/><circle cx="295.2" cy="495.7" r="1"/><circle cx="292.4" cy="566.8" r="0.5"/><circle cx="385.9" cy="588.1" r="0.9"/><circle cx="413.9" cy="578.4" r="1"/><circle cx="423.4" cy="570.1" r="0.6"/><circle cx="263.9" cy="602.1" r="0.7"/><circle cx="276.1" cy="595" r="1"/><circle cx="412.8" cy="581.3" r="1"/><circle cx="341.4" cy="538.6" r="0.9"/><circle cx="444.6" cy="557.9" r="0.7"/><circle cx="407.6" cy="536.5" r="1.1"/><circle cx="412.7" cy="586.3" r="0.7"/><circle cx="228.1" cy="514.9" r="0.6"/><circle cx="358.5" cy="496.9" r="0.8"/><circle cx="372.5" cy="536.2" r="0.9"/><circle cx="227.1" cy="493" r="0.9"/><circle cx="239" cy="486.7" r="0.5"/><circle cx="288.4" cy="543.9" r="1.1"/><circle cx="353.4" cy="596.4" r="0.7"/><circle cx="376" cy="571.6" r="1.1"/><circle cx="357.6" cy="545" r="1.1"/><circle cx="317.8" cy="510.7" r="0.6"/><circle cx="428.5" cy="588.6" r="1.1"/><circle cx="415.3" cy="560.3" r="0.6"/><circle cx="280.2" cy="604" r="0.6"/><circle cx="399.6" cy="508.9" r="0.6"/><circle cx="233.5" cy="539.7" r="1"/><circle cx="351.7" cy="478.7" r="1.1"/><circle cx="237.4" cy="555.6" r="1.1"/><circle cx="364.6" cy="525.6" r="0.7"/><circle cx="435.3" cy="480.1" r="0.8"/><circle cx="403.5" cy="573.4" r="1.1"/><circle cx="378.7" cy="592" r="0.6"/><circle cx="368.4" cy="582.4" r="1"/><circle cx="413.3" cy="566.9" r="0.5"/><circle cx="237" cy="599.8" r="0.8"/><circle cx="270.7" cy="491.1" r="0.7"/><circle cx="387.7" cy="502.4" r="0.7"/><circle cx="269.3" cy="516.2" r="0.5"/><circle cx="332.7" cy="603.7" r="1.2"/><circle cx="422.7" cy="537.9" r="0.7"/><circle cx="439.3" cy="479.6" r="1"/><circle cx="415.7" cy="516.4" r="0.8"/><circle cx="322.4" cy="602.8" r="0.7"/><circle cx="295.2" cy="493.3" r="0.6"/><circle cx="343.8" cy="501.4" r="1"/><circle cx="444.7" cy="482.3" r="1"/><circle cx="277.8" cy="594.7" r="0.9"/><circle cx="285.1" cy="595.6" r="1.1"/><circle cx="332.9" cy="579.4" r="0.6"/><circle cx="383.7" cy="513.4" r="1.1"/><circle cx="302.8" cy="594" r="0.6"/><circle cx="440.5" cy="604.1" r="0.6"/><circle cx="261.9" cy="505.4" r="0.6"/><circle cx="295.7" cy="539.1" r="1"/><circle cx="229.4" cy="553.8" r="1"/><circle cx="277.4" cy="492" r="1.1"/><circle cx="346" cy="597.2" r="0.9"/></g><g fill="#b8a0c0" opacity="0.65" ><circle cx="267.7" cy="540.2" r="0.6"/><circle cx="301.2" cy="610.8" r="0.8"/><circle cx="274.5" cy="551.4" r="0.5"/><circle cx="238.1" cy="548.8" r="1"/><circle cx="241.6" cy="501.7" r="1.1"/><circle cx="334.3" cy="541.2" r="1.2"/><circle cx="240.8" cy="500.4" r="1.1"/><circle cx="308.1" cy="556.2" r="0.7"/><circle cx="421.5" cy="604.5" r="1.2"/><circle cx="285.4" cy="529.8" r="0.7"/><circle cx="369.5" cy="485.8" r="0.7"/><circle cx="361.7" cy="548.9" r="1.1"/><circle cx="421.1" cy="598.5" r="0.5"/><circle cx="405.2" cy="593.8" r="0.9"/><circle cx="245.4" cy="603.2" r="1"/><circle cx="323.9" cy="556.6" r="0.8"/><circle cx="298.5" cy="521.1" r="1.1"/><circle cx="331.7" cy="482.3" r="0.5"/><circle cx="413.7" cy="602.4" r="1"/><circle cx="261.7" cy="558.8" r="1.2"/><circle cx="390" cy="497.7" r="0.7"/><circle cx="243.4" cy="550.8" r="0.8"/><circle cx="400.6" cy="583.8" r="0.8"/><circle cx="377.9" cy="593.9" r="0.6"/><circle cx="240.1" cy="549.1" r="0.8"/><circle cx="425.4" cy="608.1" r="0.7"/><circle cx="396.8" cy="571.1" r="0.6"/><circle cx="334.8" cy="592.9" r="0.6"/><circle cx="292.4" cy="607" r="0.7"/><circle cx="294.8" cy="584.4" r="1.1"/><circle cx="413.2" cy="542.9" r="0.8"/><circle cx="227.4" cy="495.2" r="0.6"/><circle cx="290.9" cy="544.1" r="0.8"/><circle cx="281" cy="593.1" r="0.6"/><circle cx="379.1" cy="595.2" r="1"/><circle cx="318.3" cy="486.8" r="1.1"/><circle cx="313.5" cy="555.4" r="1"/><circle cx="241.6" cy="532.5" r="1.1"/><circle cx="322.8" cy="480.3" r="0.8"/><circle cx="370.9" cy="604.9" r="0.6"/><circle cx="269.2" cy="523.7" r="0.7"/><circle cx="416.4" cy="606.7" r="0.8"/><circle cx="367.8" cy="509.8" r="1"/><circle cx="380" cy="527.7" r="1.1"/><circle cx="249.5" cy="578.7" r="0.9"/><circle cx="288.6" cy="596.9" r="1.1"/><circle cx="347.1" cy="502.8" r="0.8"/><circle cx="227" cy="574.1" r="1"/><circle cx="332.5" cy="576.5" r="0.7"/><circle cx="444.9" cy="555.3" r="0.7"/><circle cx="405.7" cy="536.6" r="0.9"/><circle cx="408.3" cy="498.1" r="0.7"/><circle cx="329.7" cy="585.8" r="1.1"/><circle cx="302" cy="552.7" r="0.6"/><circle cx="266.2" cy="574.6" r="1"/><circle cx="387.4" cy="505.6" r="0.9"/><circle cx="228.3" cy="535.4" r="1.1"/><circle cx="416.2" cy="481.6" r="0.9"/><circle cx="295.4" cy="564.2" r="0.7"/><circle cx="227.8" cy="558.8" r="0.8"/><circle cx="346.1" cy="602.9" r="0.8"/><circle cx="387.1" cy="609.6" r="0.6"/><circle cx="411.3" cy="478.7" r="0.6"/><circle cx="442.6" cy="580.4" r="0.6"/><circle cx="310.4" cy="550.4" r="0.5"/><circle cx="273.5" cy="527" r="0.6"/><circle cx="401.6" cy="509.2" r="0.6"/><circle cx="359.5" cy="549.1" r="1"/><circle cx="267.6" cy="567.1" r="1"/><circle cx="264.4" cy="552.5" r="1.1"/><circle cx="234.3" cy="568.5" r="0.5"/><circle cx="347" cy="545.2" r="0.9"/><circle cx="410.7" cy="498.2" r="0.8"/><circle cx="325.5" cy="561.7" r="0.5"/><circle cx="364.2" cy="538.1" r="0.8"/><circle cx="385.4" cy="518.8" r="0.8"/><circle cx="273.7" cy="524.6" r="0.8"/><circle cx="362.4" cy="489.1" r="0.6"/><circle cx="313.9" cy="499.1" r="1.1"/><circle cx="405.1" cy="482.7" r="0.5"/><circle cx="337.9" cy="522.8" r="0.7"/><circle cx="359.1" cy="595.4" r="0.6"/><circle cx="383.3" cy="566.6" r="0.8"/><circle cx="421.7" cy="597.5" r="1"/><circle cx="427.6" cy="543.6" r="1"/><circle cx="298.4" cy="509.1" r="0.6"/><circle cx="311.3" cy="597.8" r="0.7"/><circle cx="385.3" cy="539.1" r="0.5"/><circle cx="424.4" cy="514" r="0.9"/><circle cx="311.1" cy="504.5" r="0.6"/><circle cx="443.3" cy="506.5" r="1.1"/><circle cx="347.7" cy="520" r="0.7"/><circle cx="414.3" cy="608.3" r="0.8"/><circle cx="263.4" cy="542.1" r="0.7"/><circle cx="438.4" cy="481.8" r="0.8"/><circle cx="424.9" cy="561.3" r="0.9"/><circle cx="347.4" cy="555.9" r="1.1"/><circle cx="390.9" cy="567.9" r="0.9"/><circle cx="410.3" cy="605.7" r="0.9"/><circle cx="394.3" cy="492.4" r="0.9"/><circle cx="279.7" cy="529" r="1"/><circle cx="272.5" cy="539.8" r="0.6"/><circle cx="278.1" cy="519.7" r="1.1"/><circle cx="387.5" cy="586" r="0.8"/><circle cx="274" cy="558.4" r="0.7"/><circle cx="317.1" cy="571.1" r="1"/><circle cx="399.4" cy="595.1" r="0.8"/><circle cx="389.1" cy="489.7" r="0.9"/><circle cx="297.7" cy="500.7" r="0.8"/><circle cx="385.7" cy="565" r="0.7"/><circle cx="399.7" cy="487.8" r="0.6"/><circle cx="227" cy="519.8" r="1.2"/><circle cx="283.6" cy="496.5" r="0.8"/><circle cx="387.9" cy="586.6" r="0.7"/><circle cx="274.2" cy="500.8" r="1"/><circle cx="290.5" cy="488.4" r="0.7"/><circle cx="346.6" cy="573.2" r="0.7"/><circle cx="410.4" cy="508.3" r="1.1"/><circle cx="298.2" cy="579.5" r="0.9"/><circle cx="312.8" cy="479.1" r="0.9"/><circle cx="402.2" cy="526.2" r="0.6"/><circle cx="341.4" cy="552.6" r="0.9"/><circle cx="387.1" cy="512.8" r="0.8"/><circle cx="235.4" cy="580" r="1.2"/><circle cx="395.9" cy="528.1" r="1"/><circle cx="347.9" cy="520.3" r="0.9"/><circle cx="340.8" cy="559.5" r="1.1"/><circle cx="272.8" cy="604.1" r="0.6"/><circle cx="364.6" cy="547.3" r="1.1"/><circle cx="247.4" cy="568.5" r="0.6"/><circle cx="322.6" cy="484.9" r="0.9"/><circle cx="364.4" cy="503.4" r="0.5"/><circle cx="384.8" cy="589.9" r="1.1"/><circle cx="359.7" cy="484.5" r="1.1"/><circle cx="428.7" cy="531.9" r="0.6"/><circle cx="410.3" cy="484.2" r="0.9"/><circle cx="399" cy="543.7" r="0.7"/><circle cx="425.3" cy="497.3" r="1.2"/><circle cx="232.6" cy="490" r="1"/><circle cx="257" cy="496.9" r="0.5"/><circle cx="279.4" cy="601" r="0.7"/><circle cx="433.1" cy="599.8" r="0.7"/><circle cx="296.6" cy="476" r="0.7"/><circle cx="252.9" cy="550.6" r="0.8"/><circle cx="429.5" cy="595.7" r="0.8"/><circle cx="425.2" cy="516.6" r="0.5"/><circle cx="301.2" cy="573" r="0.6"/><circle cx="401" cy="582.7" r="1"/><circle cx="309.6" cy="494.3" r="1"/><circle cx="379.5" cy="476.5" r="1"/><circle cx="317.5" cy="489.4" r="0.6"/><circle cx="367.8" cy="568.8" r="0.6"/><circle cx="263" cy="503.6" r="1.1"/><circle cx="399.5" cy="555.4" r="0.9"/><circle cx="310.8" cy="488.1" r="1.1"/><circle cx="365.8" cy="499.8" r="0.8"/><circle cx="307.9" cy="605.2" r="0.9"/><circle cx="350.6" cy="505.3" r="1.2"/><circle cx="405.8" cy="595.6" r="0.8"/><circle cx="382" cy="531.1" r="0.9"/><circle cx="228.6" cy="597.4" r="1"/><circle cx="252.2" cy="525.6" r="0.7"/><circle cx="256.7" cy="477.7" r="1"/><circle cx="277.3" cy="505.6" r="1.2"/><circle cx="436.8" cy="505.6" r="0.8"/><circle cx="268.1" cy="598.3" r="0.6"/><circle cx="283.8" cy="491.5" r="0.8"/><circle cx="246.3" cy="513.7" r="1.1"/><circle cx="307.5" cy="537.3" r="0.8"/><circle cx="254.5" cy="527.4" r="0.8"/><circle cx="265.2" cy="559" r="0.9"/><circle cx="294.8" cy="573.7" r="0.7"/><circle cx="442.6" cy="497.1" r="1.1"/><circle cx="385.7" cy="604.3" r="0.6"/><circle cx="307.3" cy="599.2" r="1.2"/><circle cx="231.8" cy="490.6" r="0.7"/><circle cx="412.3" cy="561.3" r="0.7"/><circle cx="305.6" cy="488" r="0.5"/><circle cx="383" cy="577.4" r="0.6"/><circle cx="354.6" cy="566.6" r="1.2"/><circle cx="284.5" cy="559.5" r="1.2"/><circle cx="363" cy="527.9" r="0.6"/><circle cx="306.4" cy="510.8" r="0.6"/><circle cx="401.5" cy="484.6" r="1.1"/><circle cx="443.4" cy="508.9" r="1"/><circle cx="326.9" cy="551.9" r="0.8"/><circle cx="422.3" cy="557.5" r="1"/><circle cx="335.2" cy="493.5" r="0.8"/><circle cx="360" cy="537.4" r="1"/><circle cx="344.2" cy="557.9" r="0.9"/><circle cx="261.1" cy="531.7" r="0.6"/><circle cx="358.2" cy="477" r="0.9"/><circle cx="274.2" cy="553.7" r="0.7"/><circle cx="288.6" cy="528.4" r="0.7"/><circle cx="260" cy="606.5" r="1.2"/><circle cx="287.2" cy="496.2" r="0.9"/><circle cx="408" cy="542.1" r="1.2"/><circle cx="254" cy="553.5" r="1"/><circle cx="273.1" cy="568.7" r="0.5"/><circle cx="340.5" cy="563.7" r="0.5"/><circle cx="412.5" cy="567.1" r="0.9"/><circle cx="442.6" cy="533.5" r="0.6"/><circle cx="429.4" cy="557" r="0.5"/><circle cx="271.6" cy="592.2" r="0.6"/><circle cx="367.6" cy="602.6" r="0.7"/><circle cx="303.2" cy="553.5" r="0.9"/><circle cx="294.2" cy="553.7" r="0.6"/><circle cx="348.2" cy="503.2" r="0.6"/><circle cx="397" cy="537.3" r="0.7"/><circle cx="230.4" cy="504.7" r="0.8"/><circle cx="297.7" cy="576.6" r="0.9"/><circle cx="239.8" cy="494.4" r="0.5"/><circle cx="422.7" cy="596.4" r="1"/><circle cx="431.3" cy="513.2" r="1"/><circle cx="343.3" cy="514.3" r="0.8"/><circle cx="229.9" cy="519.1" r="0.9"/><circle cx="418" cy="480.3" r="0.5"/><circle cx="400.3" cy="530.8" r="0.7"/><circle cx="387.1" cy="564" r="0.8"/><circle cx="325.3" cy="573.3" r="1.2"/><circle cx="372.4" cy="495" r="1.1"/><circle cx="312.2" cy="576.2" r="1.1"/><circle cx="417.9" cy="483" r="1.1"/><circle cx="278.6" cy="576.7" r="0.7"/><circle cx="371.4" cy="578.5" r="0.9"/><circle cx="248.6" cy="500.7" r="1.1"/><circle cx="302.8" cy="559.8" r="0.8"/><circle cx="396.7" cy="532.6" r="0.6"/><circle cx="314.1" cy="582" r="0.8"/><circle cx="314.1" cy="560.3" r="0.9"/><circle cx="325.2" cy="527.9" r="0.8"/><circle cx="333.2" cy="608.1" r="1"/><circle cx="345.9" cy="507" r="1.2"/><circle cx="339.2" cy="551.8" r="0.8"/><circle cx="281.4" cy="487.4" r="1"/><circle cx="302.4" cy="502.9" r="0.8"/><circle cx="280.1" cy="477.4" r="0.8"/><circle cx="398.1" cy="551.2" r="0.6"/><circle cx="262.2" cy="556.3" r="0.6"/><circle cx="404.3" cy="533.2" r="0.6"/><circle cx="344" cy="482.5" r="0.5"/><circle cx="431.7" cy="497.2" r="1.1"/><circle cx="411.7" cy="567.2" r="0.7"/><circle cx="275.4" cy="604.9" r="1"/><circle cx="383.7" cy="554.8" r="1.2"/><circle cx="244.4" cy="549.6" r="0.7"/><circle cx="386.4" cy="578.2" r="1.1"/><circle cx="336.5" cy="548" r="1.2"/><circle cx="236.1" cy="522.5" r="1"/><circle cx="237.4" cy="510.8" r="1.1"/><circle cx="299.1" cy="520.5" r="1.1"/><circle cx="299.7" cy="508.6" r="0.7"/><circle cx="406.4" cy="540" r="0.5"/><circle cx="306.4" cy="575.1" r="0.7"/><circle cx="296.6" cy="506" r="1.1"/><circle cx="356.3" cy="568.1" r="0.8"/><circle cx="362.1" cy="545" r="0.8"/><circle cx="433.8" cy="603.2" r="0.9"/><circle cx="360.1" cy="497.4" r="0.8"/><circle cx="435.7" cy="551.6" r="1.2"/><circle cx="433.4" cy="587.3" r="0.6"/><circle cx="235.5" cy="547.3" r="0.6"/><circle cx="438.1" cy="549" r="0.7"/><circle cx="442.2" cy="487.5" r="0.7"/><circle cx="401.6" cy="549.7" r="0.9"/><circle cx="257.7" cy="494.3" r="1"/><circle cx="362.9" cy="502.5" r="0.8"/><circle cx="265.8" cy="523.8" r="0.7"/><circle cx="388.8" cy="603.2" r="1.2"/><circle cx="272.9" cy="561.3" r="0.8"/><circle cx="429.7" cy="493.3" r="0.6"/><circle cx="399.5" cy="561.9" r="1.1"/><circle cx="387.6" cy="585" r="0.6"/><circle cx="395.9" cy="592.1" r="0.9"/><circle cx="409.9" cy="504.6" r="0.6"/><circle cx="423.2" cy="498.3" r="1.1"/><circle cx="443.4" cy="564.7" r="1.1"/><circle cx="253.5" cy="492.8" r="0.6"/><circle cx="367.2" cy="528.4" r="0.7"/><circle cx="285.9" cy="579.2" r="1.1"/><circle cx="339.6" cy="478.9" r="0.5"/><circle cx="425.4" cy="575.9" r="1.1"/><circle cx="381.2" cy="558.5" r="0.7"/><circle cx="228.7" cy="535.2" r="0.9"/><circle cx="280.3" cy="495.7" r="0.7"/><circle cx="242.1" cy="537.7" r="1"/><circle cx="386.1" cy="559.3" r="0.9"/><circle cx="368.5" cy="554.4" r="1"/><circle cx="346.8" cy="589.8" r="1.1"/><circle cx="348.4" cy="529.9" r="0.9"/><circle cx="298.5" cy="603.4" r="1"/><circle cx="322.9" cy="488.5" r="1"/><circle cx="319.1" cy="572.9" r="1"/><circle cx="343.8" cy="577.4" r="0.7"/><circle cx="433.8" cy="518.3" r="0.6"/><circle cx="259.1" cy="505.4" r="0.9"/><circle cx="392.6" cy="542.5" r="0.7"/><circle cx="244.8" cy="488.8" r="1"/><circle cx="272.4" cy="545.8" r="0.6"/><circle cx="273.6" cy="485.2" r="0.9"/><circle cx="236.1" cy="490.6" r="0.8"/><circle cx="376.2" cy="493.5" r="0.8"/><circle cx="406" cy="587.1" r="1"/><circle cx="372.3" cy="548.5" r="0.9"/><circle cx="419.5" cy="547.2" r="1"/><circle cx="272" cy="562.2" r="1"/><circle cx="425.4" cy="544.1" r="1.2"/><circle cx="325.3" cy="507.5" r="0.9"/><circle cx="308.7" cy="538.9" r="0.6"/><circle cx="384.6" cy="583" r="1.1"/><circle cx="315.8" cy="601.1" r="0.8"/><circle cx="353.8" cy="551.4" r="1.1"/><circle cx="278.3" cy="556.3" r="0.8"/><circle cx="249" cy="589.6" r="0.8"/><circle cx="433.5" cy="477.4" r="0.8"/><circle cx="379" cy="503" r="1"/><circle cx="324.1" cy="485" r="0.8"/><circle cx="297.4" cy="484.4" r="1"/><circle cx="366.6" cy="544.4" r="1"/><circle cx="313.6" cy="579.6" r="1"/><circle cx="273.5" cy="520.8" r="0.8"/><circle cx="374.1" cy="552.7" r="0.7"/><circle cx="322.4" cy="572.1" r="1.1"/><circle cx="424.3" cy="494.9" r="1"/><circle cx="228" cy="559.7" r="1"/><circle cx="395.8" cy="549.6" r="0.8"/><circle cx="235.3" cy="560.1" r="1"/><circle cx="367" cy="588.1" r="0.9"/><circle cx="374.8" cy="513.9" r="1"/><circle cx="409.6" cy="588.1" r="0.6"/><circle cx="280.4" cy="506.8" r="0.6"/><circle cx="315.4" cy="590.8" r="1.2"/><circle cx="273.4" cy="546.7" r="0.6"/><circle cx="262.4" cy="506.7" r="0.7"/><circle cx="273.1" cy="584.9" r="1.2"/><circle cx="373.2" cy="508.6" r="0.7"/><circle cx="390.8" cy="528.2" r="1"/><circle cx="235.5" cy="507.1" r="1.2"/><circle cx="397.6" cy="480" r="0.9"/><circle cx="251.9" cy="592.7" r="0.8"/><circle cx="248.3" cy="504.3" r="0.6"/><circle cx="229.7" cy="582.3" r="0.5"/><circle cx="275.7" cy="611.7" r="0.6"/><circle cx="332.2" cy="481.2" r="1.2"/><circle cx="396.8" cy="611.6" r="0.8"/><circle cx="245.8" cy="589.9" r="1"/><circle cx="308.4" cy="561.2" r="1"/><circle cx="376.1" cy="610.4" r="1.1"/><circle cx="382.7" cy="549.2" r="1"/><circle cx="233.7" cy="500.5" r="1.2"/><circle cx="277" cy="542.6" r="1.1"/><circle cx="243.3" cy="519.1" r="0.6"/><circle cx="271.7" cy="582.9" r="0.7"/><circle cx="259.3" cy="496.3" r="1"/><circle cx="283.6" cy="490.3" r="0.8"/><circle cx="328.6" cy="569.2" r="1"/><circle cx="260.5" cy="592.3" r="1"/><circle cx="302.9" cy="542.6" r="0.5"/><circle cx="404.8" cy="563.9" r="1.2"/><circle cx="430.2" cy="558.1" r="1.1"/><circle cx="270.4" cy="602.5" r="0.9"/><circle cx="248.9" cy="595.7" r="1.2"/><circle cx="374.6" cy="541.3" r="0.7"/><circle cx="346.8" cy="498.9" r="1.2"/><circle cx="412.6" cy="536.4" r="0.7"/><circle cx="341" cy="559.6" r="0.7"/><circle cx="352.6" cy="537.9" r="1.1"/><circle cx="426.4" cy="605.4" r="0.6"/><circle cx="228" cy="491.9" r="1.1"/><circle cx="407" cy="498.8" r="0.6"/><circle cx="432.8" cy="518.1" r="0.6"/><circle cx="327.8" cy="577.5" r="0.6"/><circle cx="285.8" cy="592.5" r="0.6"/><circle cx="392.3" cy="521.9" r="0.7"/><circle cx="350.1" cy="591.4" r="0.8"/><circle cx="325.8" cy="484.3" r="1.2"/><circle cx="288.3" cy="500.7" r="0.6"/><circle cx="410.6" cy="597.7" r="0.7"/><circle cx="228.9" cy="551.6" r="0.9"/><circle cx="410.6" cy="607.7" r="0.7"/><circle cx="432.1" cy="519.9" r="1"/><circle cx="433.8" cy="487.3" r="1"/><circle cx="385.9" cy="589.4" r="0.9"/><circle cx="252.4" cy="492.2" r="1.2"/><circle cx="254.4" cy="519" r="1.2"/><circle cx="356.3" cy="562.7" r="0.6"/><circle cx="385.6" cy="492.5" r="1"/><circle cx="444.9" cy="501.1" r="0.9"/><circle cx="233" cy="498" r="0.7"/><circle cx="258.6" cy="528.2" r="0.6"/><circle cx="267.6" cy="543.3" r="0.9"/><circle cx="369.6" cy="544.7" r="1"/><circle cx="287" cy="571.6" r="0.9"/><circle cx="252.9" cy="494.7" r="1"/><circle cx="346" cy="572.3" r="1"/><circle cx="416.7" cy="482.6" r="0.6"/><circle cx="435" cy="512" r="0.8"/><circle cx="229.2" cy="583.3" r="1.2"/><circle cx="255.9" cy="569.2" r="1.1"/><circle cx="344.2" cy="523.2" r="0.7"/><circle cx="395.3" cy="547.7" r="0.9"/><circle cx="350.2" cy="488.7" r="0.8"/><circle cx="324.5" cy="502.4" r="1.1"/><circle cx="291.5" cy="570.5" r="1"/><circle cx="263.7" cy="476.1" r="0.9"/><circle cx="395.6" cy="578.3" r="1.1"/><circle cx="279.4" cy="519.5" r="0.8"/><circle cx="401.5" cy="607.7" r="1"/><circle cx="313.5" cy="590.8" r="0.7"/><circle cx="233.2" cy="561.3" r="1.1"/><circle cx="419.2" cy="573.3" r="0.6"/><circle cx="396.7" cy="501.6" r="0.6"/><circle cx="268.8" cy="499.9" r="1.1"/><circle cx="420.5" cy="496.8" r="1.2"/><circle cx="307.7" cy="520.5" r="0.7"/><circle cx="421.9" cy="507.1" r="0.6"/><circle cx="404.2" cy="566.7" r="1"/><circle cx="338.4" cy="489.7" r="0.9"/><circle cx="266.6" cy="487.4" r="0.8"/><circle cx="391.4" cy="494.6" r="0.5"/><circle cx="397.4" cy="529.1" r="0.9"/><circle cx="247.8" cy="586" r="0.9"/><circle cx="302.9" cy="535.7" r="1"/><circle cx="243.7" cy="528.9" r="0.7"/><circle cx="303.6" cy="592.3" r="0.9"/><circle cx="302.2" cy="532.3" r="1.1"/><circle cx="351.6" cy="501.6" r="1.1"/><circle cx="272.3" cy="501.6" r="0.8"/><circle cx="299.6" cy="529.2" r="0.6"/><circle cx="311.7" cy="585.1" r="0.5"/><circle cx="238.4" cy="566.5" r="1.1"/><circle cx="345" cy="575.4" r="1"/><circle cx="283.7" cy="523.1" r="1.1"/><circle cx="258.2" cy="513.5" r="0.7"/><circle cx="414.6" cy="517.6" r="0.8"/><circle cx="266.4" cy="582.2" r="1"/><circle cx="329.5" cy="521.1" r="0.8"/><circle cx="233.7" cy="522.4" r="1"/><circle cx="279.6" cy="532.7" r="0.5"/><circle cx="406.9" cy="479.5" r="1.2"/><circle cx="242.9" cy="578.5" r="0.8"/><circle cx="298.8" cy="476.4" r="0.7"/><circle cx="283.5" cy="608.4" r="0.8"/><circle cx="334.5" cy="568.7" r="0.9"/><circle cx="352.7" cy="554.3" r="0.5"/></g></g>
<path d="M245,592 Q300,586 350,588 Q390,590 425,598" stroke="#c878a8" stroke-width="7" fill="none" opacity=".25" filter="url(#bl2)"/>
<g filter="url(#bl1)"><g fill="#c45c90" opacity="0.4" ><circle cx="324.8" cy="579.7" r="1.1"/><circle cx="276.8" cy="591" r="1.5"/><circle cx="299.5" cy="580" r="1.3"/><circle cx="251.1" cy="585.1" r="1.4"/><circle cx="300.8" cy="594.2" r="1.5"/><circle cx="354.9" cy="578.6" r="1.1"/><circle cx="309" cy="584.8" r="1"/><circle cx="308.9" cy="594.8" r="1.1"/><circle cx="355.2" cy="591.6" r="1"/><circle cx="296.5" cy="593.7" r="1"/><circle cx="294.7" cy="589.5" r="1.2"/><circle cx="270.9" cy="584.7" r="1.4"/><circle cx="370" cy="584.3" r="1.2"/><circle cx="342.2" cy="591.7" r="1.3"/><circle cx="369.7" cy="589" r="1.4"/><circle cx="292.2" cy="592" r="1.4"/><circle cx="312.8" cy="595.4" r="1.2"/><circle cx="310.5" cy="585.9" r="0.9"/><circle cx="373.6" cy="592.6" r="1"/><circle cx="402.7" cy="592" r="0.9"/><circle cx="289.7" cy="596.1" r="0.8"/><circle cx="334.6" cy="589" r="1.1"/><circle cx="286.9" cy="594.6" r="1.2"/><circle cx="408" cy="595.3" r="1.2"/><circle cx="316.3" cy="591.9" r="1"/><circle cx="259.3" cy="587" r="1.2"/></g><g fill="#b870a8" opacity="0.4" ><circle cx="261.8" cy="581.2" r="1.5"/><circle cx="389.2" cy="588.2" r="1"/><circle cx="412.1" cy="578.7" r="1"/><circle cx="375.6" cy="583.6" r="1.2"/><circle cx="370.4" cy="584.4" r="1.1"/><circle cx="317.3" cy="582.1" r="0.8"/><circle cx="309" cy="583.3" r="1.1"/><circle cx="334" cy="587.2" r="1.5"/><circle cx="278.4" cy="591.7" r="0.9"/><circle cx="415.8" cy="582.7" r="1.4"/><circle cx="321.5" cy="581.1" r="1.2"/><circle cx="366.6" cy="592.2" r="1.1"/><circle cx="353.1" cy="582.2" r="0.8"/><circle cx="309.9" cy="586.4" r="1.3"/><circle cx="357.1" cy="581.3" r="0.9"/><circle cx="330.2" cy="580.2" r="1.4"/></g><g fill="#d07aa0" opacity="0.4" ><circle cx="347.9" cy="591.7" r="1"/><circle cx="285.1" cy="585.3" r="1.2"/><circle cx="320.9" cy="587.9" r="1.5"/><circle cx="351.4" cy="584.9" r="1.6"/><circle cx="334" cy="579.7" r="1.1"/><circle cx="415.7" cy="584.9" r="1.2"/><circle cx="316.1" cy="593.8" r="1.4"/><circle cx="254.2" cy="586.2" r="1.1"/><circle cx="322.2" cy="582.9" r="1.2"/><circle cx="337.8" cy="593.1" r="1.6"/><circle cx="389" cy="581.2" r="1.6"/><circle cx="257.1" cy="590.4" r="1"/><circle cx="257.9" cy="592" r="1.5"/><circle cx="301.8" cy="585.3" r="1.5"/><circle cx="285.8" cy="588.9" r="1.4"/><circle cx="292.6" cy="586.5" r="1.3"/><circle cx="351.5" cy="588.8" r="1"/><circle cx="374.4" cy="580" r="1.3"/></g></g>
<g filter="url(#bl)"><g fill="#e8e0e6" opacity="0.5" ><circle cx="320.5" cy="593.2" r="1.5"/><circle cx="366.4" cy="571.4" r="2.1"/><circle cx="370" cy="575.6" r="1.4"/><circle cx="264.2" cy="583.7" r="1.2"/><circle cx="360.5" cy="576.2" r="1"/><circle cx="295.4" cy="591.4" r="1"/><circle cx="265.4" cy="584" r="1.5"/><circle cx="332.5" cy="589.2" r="2"/><circle cx="353.2" cy="594.9" r="1.2"/><circle cx="385.4" cy="592.8" r="1.2"/><circle cx="294.1" cy="571" r="1.5"/><circle cx="291.6" cy="595.8" r="1.4"/></g><g fill="#ece6ea" opacity="0.5" ><circle cx="332.8" cy="574.1" r="1.2"/><circle cx="313.6" cy="590.8" r="1.6"/><circle cx="252.9" cy="595.3" r="1.3"/><circle cx="271" cy="571.6" r="2.1"/><circle cx="251" cy="588.4" r="2"/><circle cx="353.3" cy="586" r="1.8"/><circle cx="343" cy="595.8" r="1.8"/><circle cx="378.6" cy="589.8" r="1.4"/><circle cx="389.8" cy="570.3" r="1.9"/><circle cx="261.2" cy="574.8" r="1.1"/><circle cx="393.9" cy="577.6" r="1.5"/><circle cx="325.2" cy="576.2" r="2"/><circle cx="323.2" cy="581.1" r="1.4"/></g></g>
<path d="M300,482 Q340,475 375,484 Q410,490 444,498" stroke="#d8b4a8" stroke-width="4" fill="none" opacity=".6" filter="url(#bl2)"/>
<path d="M320,578 Q332,571 350,570 Q364,567 371,564 Q368,574 352,578 Q336,582 320,578 Z" fill="#e4e0e0" filter="url(#bl)"/>
<path d="M262,585 Q272,582 285,584 Q275,588 262,585 Z" fill="#e4dede" filter="url(#bl)"/>
<path d="M398,483 Q406,492 414,500" stroke="#e2dad2" stroke-width="2.5" fill="none" filter="url(#bl)"/>
<ellipse cx="258" cy="604" rx="4" ry="2.5" fill="#d8a860" opacity=".6" filter="url(#bl)"/>
</g>
<rect x="227.6" y="337.3" width="69.1" height="21.8" fill="#d6d8da" stroke="#2a2a2a" stroke-width="1.4"/>
<text x="262.4" y="352.4" font-size="11" font-weight="bold" text-anchor="middle" fill="#1a1a1a">E16.5 Sham</text>
<rect x="227.6" y="479.2" width="69.1" height="21.8" fill="#d6d8da" stroke="#2a2a2a" stroke-width="1.4"/>
<text x="262.4" y="494.3" font-size="11" font-weight="bold" text-anchor="middle" fill="#1a1a1a">E16.5 RUPP</text>
<rect x="313" y="486.3" width="23.2" height="15.4" fill="none" stroke="#2b3b9a" stroke-width="1.6"/>
<rect x="293.2" y="527.6" width="23.8" height="15.4" fill="none" stroke="#d83030" stroke-width="1.6"/>
<rect x="269.9" y="575.8" width="23.8" height="15.8" fill="none" stroke="#1d6b35" stroke-width="1.6"/>
<line x1="419" y1="616.7" x2="444.6" y2="616.7" stroke="#555" stroke-width="1.6"/>
<g clip-path="url(#cb)">
<rect x="11" y="631" width="205" height="145" fill="#eee8cf"/>
<g filter="url(#bl1)"><ellipse cx="34" cy="746" rx="24" ry="32" fill="#f2d4b4" opacity=".7"/><g fill="#ea92a0" opacity="0.8" ><ellipse cx="61.3" cy="727.2" rx="4.2" ry="4"/><ellipse cx="132.4" cy="716" rx="5.2" ry="5.4"/><ellipse cx="67.7" cy="736.4" rx="4" ry="3.3"/><ellipse cx="22.3" cy="650.8" rx="3.3" ry="2.4"/><ellipse cx="143.8" cy="709.8" rx="3.2" ry="2.4"/><ellipse cx="179.1" cy="638.3" rx="4.9" ry="3.5"/><ellipse cx="185.1" cy="700" rx="3.6" ry="3.7"/><ellipse cx="19.2" cy="660" rx="3.9" ry="2.6"/><ellipse cx="16.5" cy="745.3" rx="4.2" ry="2.8"/><ellipse cx="59.7" cy="683.7" rx="5" ry="5.3"/><ellipse cx="196.5" cy="730.4" rx="3.7" ry="2.6"/><ellipse cx="76" cy="727.8" rx="4.3" ry="4.6"/><ellipse cx="74.1" cy="761.3" rx="4.9" ry="4.9"/><ellipse cx="193.4" cy="708.1" rx="3.6" ry="2.8"/><ellipse cx="159.6" cy="757.1" rx="4" ry="3.7"/><ellipse cx="61.7" cy="697.2" rx="5.5" ry="4.3"/><ellipse cx="205.5" cy="633.4" rx="4.1" ry="2.7"/><ellipse cx="127.3" cy="716.3" rx="4.2" ry="2.9"/><ellipse cx="141" cy="733.4" rx="3.6" ry="3.6"/><ellipse cx="15.3" cy="740.8" rx="5.3" ry="5.8"/><ellipse cx="48.8" cy="759.9" rx="4.3" ry="4.5"/><ellipse cx="45.1" cy="682.9" rx="3.7" ry="3.2"/><ellipse cx="22.6" cy="632.6" rx="4.7" ry="4.7"/><ellipse cx="167.3" cy="746.9" rx="4.1" ry="4.4"/><ellipse cx="146.7" cy="650.5" rx="5" ry="3.5"/><ellipse cx="90.8" cy="773.8" rx="3.6" ry="3.8"/><ellipse cx="43.7" cy="664.2" rx="4.8" ry="4.6"/><ellipse cx="198.2" cy="710.5" rx="3" ry="3"/><ellipse cx="179" cy="716.2" rx="4.8" ry="5.1"/><ellipse cx="196.4" cy="730.6" rx="3.6" ry="3.6"/><ellipse cx="123" cy="718.7" rx="4.9" ry="4.9"/><ellipse cx="106.6" cy="736.8" rx="4.5" ry="4.8"/><ellipse cx="92.6" cy="718" rx="5.3" ry="3.9"/><ellipse cx="11.7" cy="695.6" rx="3.7" ry="3.9"/><ellipse cx="145.1" cy="723.7" rx="4" ry="3.2"/></g><g fill="#e4889a" opacity="0.8" ><ellipse cx="207" cy="765.2" rx="4.4" ry="3.8"/><ellipse cx="27.1" cy="690.2" rx="4.6" ry="3.5"/><ellipse cx="17.1" cy="715.2" rx="5.2" ry="4.7"/><ellipse cx="125" cy="698.7" rx="4.6" ry="4.7"/><ellipse cx="15.7" cy="754.1" rx="3.4" ry="3"/><ellipse cx="54.1" cy="671.8" rx="4.4" ry="3.3"/><ellipse cx="170.7" cy="706.6" rx="3.4" ry="2.4"/><ellipse cx="198" cy="639.5" rx="3.8" ry="2.7"/><ellipse cx="66.8" cy="719.1" rx="3.5" ry="2.5"/><ellipse cx="117" cy="636.8" rx="4.6" ry="4.4"/><ellipse cx="74.3" cy="749.4" rx="5" ry="5.3"/><ellipse cx="144.5" cy="726.1" rx="5.3" ry="5.2"/><ellipse cx="158.6" cy="698.9" rx="5.5" ry="4.8"/><ellipse cx="68.6" cy="774.6" rx="5.1" ry="5.5"/><ellipse cx="158.9" cy="701.3" rx="4.5" ry="3"/><ellipse cx="156.2" cy="756.2" rx="4.3" ry="3.6"/><ellipse cx="18.4" cy="645.5" rx="3.5" ry="3.1"/><ellipse cx="153.9" cy="770.9" rx="4.2" ry="3"/><ellipse cx="98.7" cy="702.6" rx="5.3" ry="4.9"/><ellipse cx="40" cy="742.8" rx="3.3" ry="2.7"/><ellipse cx="126.9" cy="747.1" rx="4.3" ry="4.2"/><ellipse cx="51.4" cy="732.9" rx="4.2" ry="3.9"/><ellipse cx="119.7" cy="755.8" rx="4.4" ry="4.3"/><ellipse cx="104" cy="739.4" rx="5.2" ry="4.5"/><ellipse cx="23.8" cy="737.8" rx="5.1" ry="4.4"/><ellipse cx="168.5" cy="756.9" rx="4.8" ry="3.9"/><ellipse cx="86.1" cy="742.4" rx="3.6" ry="2.6"/><ellipse cx="38.1" cy="676.3" rx="3.8" ry="3.8"/><ellipse cx="109.2" cy="740.5" rx="3.6" ry="4"/></g><g fill="#f0a4a8" opacity="0.8" ><ellipse cx="34.5" cy="744.4" rx="4.3" ry="3.6"/><ellipse cx="49" cy="668.5" rx="5.3" ry="5.6"/><ellipse cx="139" cy="768.4" rx="3.2" ry="2.3"/><ellipse cx="151.8" cy="750.2" rx="4.2" ry="3.9"/><ellipse cx="16" cy="713.9" rx="4.9" ry="3.5"/><ellipse cx="164.1" cy="772.4" rx="3.2" ry="2.3"/><ellipse cx="132" cy="772.7" rx="4.4" ry="3.3"/><ellipse cx="37.6" cy="767.8" rx="4.1" ry="3.9"/><ellipse cx="106.7" cy="709" rx="3.2" ry="3.4"/><ellipse cx="59.5" cy="713.2" rx="4.6" ry="3.4"/><ellipse cx="205.9" cy="712.8" rx="5.3" ry="4.7"/><ellipse cx="13.7" cy="688.5" rx="3.7" ry="2.7"/><ellipse cx="207" cy="730.9" rx="4.9" ry="3.9"/><ellipse cx="179.6" cy="648.9" rx="3.3" ry="3.6"/><ellipse cx="20.5" cy="757" rx="5.3" ry="5.1"/><ellipse cx="183.5" cy="654.8" rx="3.4" ry="2.3"/><ellipse cx="119.8" cy="715" rx="4" ry="3.4"/><ellipse cx="53.7" cy="705.3" rx="5.5" ry="5.2"/><ellipse cx="83.7" cy="711.4" rx="4" ry="4.2"/><ellipse cx="78.5" cy="771.9" rx="4.2" ry="3.5"/><ellipse cx="154.3" cy="707" rx="4.8" ry="4.6"/><ellipse cx="118.3" cy="718.4" rx="3.6" ry="3.9"/><ellipse cx="19.1" cy="757.6" rx="3.9" ry="3.5"/><ellipse cx="189.1" cy="702.1" rx="4.6" ry="3.7"/><ellipse cx="11.4" cy="712.2" rx="3.8" ry="3.4"/><ellipse cx="126.8" cy="751.3" rx="5.2" ry="5.1"/><ellipse cx="202.8" cy="652.1" rx="5" ry="5.3"/><ellipse cx="113.5" cy="751.2" rx="4.2" ry="4.3"/><ellipse cx="13.5" cy="699.7" rx="4.2" ry="3.4"/><ellipse cx="89.4" cy="741.7" rx="3.2" ry="2.4"/><ellipse cx="199.7" cy="774" rx="4.4" ry="4.1"/><ellipse cx="69.7" cy="761.9" rx="4.1" ry="3.6"/><ellipse cx="148.4" cy="729.2" rx="4.8" ry="4.1"/><ellipse cx="192.9" cy="638.7" rx="5.4" ry="4.1"/><ellipse cx="102.6" cy="764.5" rx="3.8" ry="3.4"/><ellipse cx="111.3" cy="739.6" rx="5.5" ry="6"/><ellipse cx="59.9" cy="690.6" rx="3.6" ry="3.4"/><ellipse cx="199.2" cy="642.3" rx="5.4" ry="3.8"/><ellipse cx="34.4" cy="685.6" rx="3.8" ry="3.1"/><ellipse cx="64.8" cy="725.5" rx="4.5" ry="4"/><ellipse cx="214.7" cy="639.4" rx="3.8" ry="3.2"/><ellipse cx="85.7" cy="715.2" rx="4.5" ry="4.1"/><ellipse cx="145.2" cy="697.3" rx="3.5" ry="3.1"/></g><g fill="#e89ab0" opacity="0.8" ><ellipse cx="70.6" cy="730.4" rx="3.5" ry="3.4"/><ellipse cx="59.8" cy="718.9" rx="4.3" ry="4.7"/><ellipse cx="144.6" cy="702.8" rx="3.8" ry="2.9"/><ellipse cx="135.1" cy="707.2" rx="4.8" ry="4.1"/><ellipse cx="31.5" cy="721.3" rx="4.5" ry="3.2"/><ellipse cx="106.6" cy="754.7" rx="4.3" ry="3"/><ellipse cx="29.5" cy="641.2" rx="3.1" ry="2.7"/><ellipse cx="14.6" cy="760.2" rx="5" ry="4.4"/><ellipse cx="87.5" cy="712.5" rx="3.9" ry="2.9"/><ellipse cx="134.5" cy="751.3" rx="5.2" ry="4.3"/><ellipse cx="38.8" cy="702.8" rx="5.4" ry="4.2"/><ellipse cx="187.4" cy="707.8" rx="3.1" ry="2.5"/><ellipse cx="54" cy="708.3" rx="4.4" ry="3.4"/><ellipse cx="35.4" cy="714.7" rx="4.4" ry="3.1"/><ellipse cx="24.8" cy="683.2" rx="4.8" ry="3.7"/><ellipse cx="203.1" cy="639" rx="4.4" ry="3.6"/><ellipse cx="169.1" cy="653.6" rx="4.6" ry="3.3"/><ellipse cx="144.1" cy="735.2" rx="3.5" ry="3.8"/><ellipse cx="186.6" cy="659.6" rx="3.5" ry="3.8"/><ellipse cx="153.3" cy="645.2" rx="3.6" ry="2.4"/><ellipse cx="115.9" cy="632.5" rx="3.9" ry="3.7"/><ellipse cx="185.4" cy="653.4" rx="4.6" ry="5"/><ellipse cx="78.1" cy="771.3" rx="3.2" ry="3.3"/><ellipse cx="35.9" cy="737" rx="3.6" ry="2.3"/><ellipse cx="19" cy="704" rx="4.6" ry="4.3"/><ellipse cx="37.8" cy="766.8" rx="4.4" ry="4.7"/><ellipse cx="151.7" cy="652.3" rx="4.7" ry="3.6"/><ellipse cx="130.4" cy="736" rx="4.3" ry="3.8"/><ellipse cx="164.8" cy="711.3" rx="4.7" ry="4.9"/><ellipse cx="128.4" cy="717.7" rx="3.1" ry="2.7"/><ellipse cx="27.4" cy="668.1" rx="4.7" ry="3.7"/><ellipse cx="91.9" cy="748.9" rx="4.1" ry="3.6"/><ellipse cx="44.5" cy="673" rx="3.3" ry="2.5"/></g><g fill="#e07a98" opacity="0.8" ><ellipse cx="82.8" cy="712.6" rx="5.4" ry="5.4"/><ellipse cx="139.1" cy="742.3" rx="3.8" ry="3.3"/><ellipse cx="37.3" cy="687.7" rx="5.4" ry="5.4"/><ellipse cx="112.3" cy="729.4" rx="5.4" ry="5.9"/><ellipse cx="64.6" cy="766.5" rx="3.3" ry="3.3"/><ellipse cx="102.8" cy="732.5" rx="3.6" ry="2.4"/><ellipse cx="64.9" cy="715.1" rx="3" ry="2.9"/><ellipse cx="59.7" cy="751.6" rx="4.8" ry="4.4"/><ellipse cx="206.5" cy="646.7" rx="4.3" ry="4.6"/><ellipse cx="25.2" cy="775" rx="3.2" ry="3.4"/><ellipse cx="213.9" cy="741.8" rx="4.1" ry="3.1"/><ellipse cx="191.9" cy="730.9" rx="4.2" ry="4.3"/><ellipse cx="139" cy="699.6" rx="3.9" ry="3.6"/><ellipse cx="194.2" cy="719.7" rx="4.7" ry="3.4"/><ellipse cx="60.1" cy="700.2" rx="4.2" ry="4.5"/><ellipse cx="27.7" cy="641.2" rx="3.9" ry="3.3"/><ellipse cx="90.3" cy="715.1" rx="4.4" ry="3.5"/><ellipse cx="207.7" cy="644.3" rx="3.1" ry="2.1"/><ellipse cx="188.1" cy="769.1" rx="4.9" ry="4.6"/><ellipse cx="99.1" cy="768.7" rx="5.2" ry="5.2"/><ellipse cx="32.1" cy="662.4" rx="3.1" ry="2.2"/><ellipse cx="69.8" cy="765.1" rx="4.2" ry="3.9"/><ellipse cx="37" cy="726.4" rx="3.8" ry="3.4"/><ellipse cx="171" cy="707.9" rx="4.9" ry="3.9"/><ellipse cx="194.5" cy="639.4" rx="3.1" ry="2.7"/><ellipse cx="160.7" cy="701.8" rx="4.2" ry="3"/><ellipse cx="189.8" cy="650.6" rx="4.3" ry="3.5"/><ellipse cx="92.8" cy="715.5" rx="5.2" ry="4.4"/><ellipse cx="113.4" cy="749.3" rx="3.4" ry="3.2"/><ellipse cx="167.4" cy="757.4" rx="4.8" ry="5.1"/></g><g fill="#a068b8" opacity="0.8" ><ellipse cx="152.8" cy="732.5" rx="4.8" ry="4.5"/><ellipse cx="165.6" cy="760.4" rx="2.8" ry="1.9"/><ellipse cx="14.1" cy="703.5" rx="3.6" ry="3.5"/><ellipse cx="45.8" cy="729.6" rx="3.2" ry="3.1"/><ellipse cx="61.9" cy="737.5" rx="2.6" ry="1.8"/><ellipse cx="60.8" cy="727.6" rx="3.2" ry="2.9"/><ellipse cx="115.4" cy="708.4" rx="3" ry="3"/><ellipse cx="193.9" cy="650" rx="3.5" ry="3.7"/><ellipse cx="31.5" cy="690.9" rx="3.8" ry="4.2"/><ellipse cx="155.2" cy="744.9" rx="3.6" ry="2.7"/><ellipse cx="45.1" cy="704.6" rx="3.7" ry="3.5"/><ellipse cx="92.5" cy="758.1" rx="3.6" ry="2.8"/><ellipse cx="28.9" cy="702.6" rx="3.8" ry="3.3"/><ellipse cx="121.3" cy="762.3" rx="4.5" ry="3.1"/><ellipse cx="111.3" cy="707.2" rx="4" ry="4.3"/><ellipse cx="113.8" cy="729.6" rx="3" ry="2.1"/><ellipse cx="18.9" cy="677.4" rx="4.3" ry="3.3"/><ellipse cx="23.2" cy="654.9" rx="3.3" ry="3.3"/><ellipse cx="24.2" cy="663.7" rx="3.4" ry="2.6"/><ellipse cx="70.6" cy="704.6" rx="3.6" ry="2.7"/><ellipse cx="156.8" cy="759.3" rx="3.7" ry="2.8"/><ellipse cx="60.6" cy="699.7" rx="4.2" ry="3.6"/><ellipse cx="116" cy="705.6" rx="4.4" ry="4.6"/><ellipse cx="170.1" cy="745.4" rx="4.4" ry="3.9"/><ellipse cx="184.3" cy="734.9" rx="4.5" ry="2.9"/><ellipse cx="47.8" cy="663.4" rx="2.8" ry="2.6"/><ellipse cx="118.9" cy="774.2" rx="3.6" ry="2.7"/><ellipse cx="205.8" cy="734.3" rx="2.9" ry="2.8"/></g><g fill="#9058a8" opacity="0.8" ><ellipse cx="126.9" cy="705.1" rx="4.4" ry="4.8"/><ellipse cx="37.5" cy="658.2" rx="4.4" ry="3.3"/><ellipse cx="96.2" cy="764.3" rx="2.9" ry="2.3"/><ellipse cx="49.1" cy="740.2" rx="2.8" ry="2.3"/><ellipse cx="19.9" cy="760.3" rx="3.3" ry="3"/><ellipse cx="187.8" cy="718.6" rx="3.2" ry="3.2"/><ellipse cx="136.2" cy="725.8" rx="3.7" ry="2.5"/><ellipse cx="74.7" cy="750.1" rx="3.3" ry="2.3"/><ellipse cx="62.4" cy="727.6" rx="2.7" ry="2.4"/><ellipse cx="46.4" cy="698.8" rx="3" ry="2.6"/><ellipse cx="38.3" cy="706.3" rx="2.5" ry="2.3"/><ellipse cx="26.2" cy="746.7" rx="4.3" ry="3"/><ellipse cx="176.5" cy="720.8" rx="4.4" ry="3.2"/><ellipse cx="168.6" cy="652.8" rx="4.8" ry="3.3"/><ellipse cx="202.5" cy="635.1" rx="3.3" ry="3.7"/><ellipse cx="141.7" cy="637.3" rx="2.9" ry="2.7"/><ellipse cx="16.8" cy="722.2" rx="2.9" ry="2.3"/><ellipse cx="146.9" cy="699.7" rx="3.4" ry="2.4"/><ellipse cx="157" cy="652.8" rx="3.7" ry="3.2"/><ellipse cx="23.6" cy="661.4" rx="3.2" ry="2.2"/></g><g fill="#b080c4" opacity="0.8" ><ellipse cx="176.4" cy="737.2" rx="3.5" ry="3.8"/><ellipse cx="83.5" cy="713.2" rx="3.1" ry="3.1"/><ellipse cx="161.4" cy="643.8" rx="2.8" ry="2.8"/><ellipse cx="56.1" cy="683.4" rx="2.8" ry="1.9"/><ellipse cx="185.4" cy="759.3" rx="3.4" ry="2.4"/><ellipse cx="47.3" cy="664.5" rx="2.7" ry="2.8"/><ellipse cx="112.2" cy="735.7" rx="4.4" ry="4.8"/><ellipse cx="125.8" cy="772.1" rx="4.2" ry="4.1"/><ellipse cx="110.9" cy="750.9" rx="3.8" ry="2.8"/><ellipse cx="214.2" cy="730.8" rx="4.6" ry="3.1"/><ellipse cx="43.4" cy="716.5" rx="4.7" ry="3.3"/><ellipse cx="153.7" cy="641.5" rx="4.4" ry="3.1"/><ellipse cx="122.9" cy="749.5" rx="3.6" ry="2.9"/><ellipse cx="178.8" cy="717.1" rx="3.6" ry="2.7"/><ellipse cx="44.4" cy="738.3" rx="3.2" ry="2.7"/><ellipse cx="92.8" cy="724.3" rx="3.8" ry="4"/><ellipse cx="140.9" cy="648.2" rx="4" ry="3.8"/><ellipse cx="153.3" cy="634.4" rx="3.2" ry="2.2"/><ellipse cx="47.9" cy="727.2" rx="3.1" ry="3.3"/><ellipse cx="100" cy="704.1" rx="3.3" ry="2.6"/><ellipse cx="202.6" cy="647.5" rx="2.9" ry="1.9"/><ellipse cx="43.1" cy="755.6" rx="4.2" ry="3.3"/><ellipse cx="193.8" cy="639.9" rx="3.7" ry="2.4"/><ellipse cx="168.4" cy="646" rx="4.1" ry="3.4"/><ellipse cx="25.7" cy="769" rx="2.6" ry="2.1"/><ellipse cx="15.7" cy="752.4" rx="4.5" ry="4"/><ellipse cx="178" cy="646.6" rx="4.1" ry="3.4"/><ellipse cx="51.5" cy="722.5" rx="4.6" ry="4.1"/><ellipse cx="71.1" cy="720.1" rx="3.1" ry="2.6"/><ellipse cx="103.8" cy="636.1" rx="3.8" ry="3.6"/><ellipse cx="88" cy="716.6" rx="4.3" ry="3.8"/><ellipse cx="56" cy="688.2" rx="4.7" ry="4.6"/><ellipse cx="52" cy="703.6" rx="4" ry="3.4"/><ellipse cx="35" cy="681.4" rx="3.9" ry="3"/><ellipse cx="49.3" cy="715.1" rx="4.1" ry="3.1"/><ellipse cx="142.9" cy="721.3" rx="3.6" ry="2.4"/><ellipse cx="104.1" cy="726" rx="3" ry="2.7"/><ellipse cx="27.7" cy="766.3" rx="4.1" ry="3.8"/><ellipse cx="157.9" cy="753.6" rx="4.2" ry="2.9"/><ellipse cx="151.3" cy="736.1" rx="3" ry="2.8"/><ellipse cx="54.2" cy="669.8" rx="3.5" ry="2.4"/></g><g fill="#8c60b0" opacity="0.8" ><ellipse cx="90.8" cy="717.5" rx="3.8" ry="3.9"/><ellipse cx="85.6" cy="773" rx="4.5" ry="4.8"/><ellipse cx="52.6" cy="672.9" rx="4.7" ry="4.6"/><ellipse cx="183.5" cy="746.4" rx="3" ry="3.2"/><ellipse cx="44.3" cy="706.6" rx="3" ry="2.7"/><ellipse cx="162.1" cy="631.4" rx="3" ry="2.9"/><ellipse cx="168.1" cy="722.7" rx="3.5" ry="3"/><ellipse cx="98.3" cy="704.7" rx="3.2" ry="3.5"/><ellipse cx="19.2" cy="675.4" rx="3.9" ry="2.5"/><ellipse cx="26.7" cy="775.2" rx="3.6" ry="2.5"/><ellipse cx="106.5" cy="705.1" rx="4.2" ry="2.9"/><ellipse cx="143.3" cy="732.6" rx="4.1" ry="3.4"/><ellipse cx="78.9" cy="737.8" rx="2.6" ry="2.6"/><ellipse cx="151" cy="699.9" rx="3.5" ry="3.4"/><ellipse cx="142.2" cy="735.2" rx="3" ry="2.6"/><ellipse cx="53.8" cy="670.4" rx="2.9" ry="2.5"/><ellipse cx="17.5" cy="673.1" rx="4.3" ry="3.2"/><ellipse cx="41.8" cy="743.6" rx="3.1" ry="2.6"/><ellipse cx="145" cy="735.7" rx="3.4" ry="3.1"/><ellipse cx="79" cy="705.1" rx="3.7" ry="2.5"/><ellipse cx="88.4" cy="759.3" rx="4.5" ry="3.4"/><ellipse cx="165.6" cy="714.6" rx="4.4" ry="3.7"/><ellipse cx="96.6" cy="712.3" rx="4.1" ry="4.1"/><ellipse cx="147.7" cy="637.9" rx="4.6" ry="4.6"/><ellipse cx="23.1" cy="644.4" rx="3.5" ry="3"/><ellipse cx="181.6" cy="729.8" rx="3.8" ry="3.4"/><ellipse cx="163.7" cy="745" rx="3" ry="3.3"/><ellipse cx="39.6" cy="732.4" rx="4.5" ry="3.1"/><ellipse cx="161.3" cy="749.9" rx="4.6" ry="4"/><ellipse cx="73.6" cy="746.1" rx="4.2" ry="4.4"/><ellipse cx="123.1" cy="699.9" rx="3.3" ry="3.7"/></g><g fill="#7c58b0" opacity="0.8" ><ellipse cx="206.9" cy="716.9" rx="3.5" ry="2.9"/><ellipse cx="205.5" cy="700.4" rx="3.6" ry="2.9"/><ellipse cx="123.8" cy="701.3" rx="4.2" ry="3.5"/><ellipse cx="39.8" cy="731.8" rx="2.9" ry="2"/><ellipse cx="196.7" cy="761.4" rx="4.6" ry="3.8"/><ellipse cx="203.4" cy="646.7" rx="3" ry="2.6"/><ellipse cx="127.6" cy="732.5" rx="3" ry="2.1"/><ellipse cx="158.5" cy="754.6" rx="4.7" ry="4.8"/><ellipse cx="101.4" cy="730.8" rx="3.4" ry="3.5"/><ellipse cx="176.6" cy="769.2" rx="4.2" ry="3.2"/><ellipse cx="213.8" cy="724.6" rx="4.6" ry="3.3"/><ellipse cx="110.8" cy="729.4" rx="3.3" ry="3.5"/><ellipse cx="167" cy="734.3" rx="4.8" ry="4.3"/><ellipse cx="138.3" cy="767.9" rx="3.8" ry="3.6"/><ellipse cx="16.8" cy="664.5" rx="3" ry="3.2"/><ellipse cx="49" cy="714.9" rx="4.5" ry="5"/><ellipse cx="181.3" cy="698.6" rx="3.1" ry="2.5"/><ellipse cx="124" cy="634.4" rx="2.8" ry="2.6"/><ellipse cx="174.1" cy="734.3" rx="4.2" ry="3.2"/><ellipse cx="140.5" cy="746.9" rx="2.7" ry="2"/><ellipse cx="17.4" cy="637.5" rx="3.7" ry="2.7"/><ellipse cx="148" cy="759.8" rx="2.9" ry="2.8"/><ellipse cx="140.2" cy="647.1" rx="4.5" ry="3.7"/><ellipse cx="12.5" cy="723.4" rx="3.1" ry="3.2"/><ellipse cx="27" cy="732.3" rx="3.1" ry="2.4"/><ellipse cx="147.4" cy="738.1" rx="3.4" ry="3.5"/><ellipse cx="128.3" cy="763.7" rx="4.1" ry="3.9"/><ellipse cx="19.4" cy="632.6" rx="3.3" ry="2.3"/><ellipse cx="183.1" cy="655.2" rx="3.8" ry="4"/><ellipse cx="158.7" cy="720.7" rx="2.9" ry="2.4"/></g><g fill="#f2eedc" stroke="#6070c8" stroke-width=".8" opacity=".8"><circle cx="202.9" cy="773.1" r="2.6"/><circle cx="190.3" cy="755.1" r="2"/><circle cx="160.5" cy="700.1" r="2.8"/><circle cx="38" cy="670.6" r="2.7"/><circle cx="191.4" cy="724.2" r="3.3"/><circle cx="159.3" cy="698.4" r="3"/><circle cx="13.1" cy="738.1" r="3.3"/><circle cx="197.6" cy="773.5" r="2.9"/><circle cx="203.7" cy="654.1" r="2.5"/><circle cx="140.6" cy="639.8" r="2.1"/><circle cx="130.5" cy="728.4" r="3"/><circle cx="16.5" cy="749.1" r="2.7"/><circle cx="206.5" cy="739.4" r="2.7"/><circle cx="97.4" cy="763.5" r="2.8"/><circle cx="60.9" cy="767.2" r="2.8"/><circle cx="33.6" cy="763.1" r="2.5"/><circle cx="140.9" cy="642" r="2.7"/><circle cx="25.8" cy="774.2" r="2.2"/><circle cx="85.8" cy="730" r="3"/><circle cx="192.3" cy="769.8" r="2.7"/><circle cx="51.8" cy="710.4" r="3.1"/><circle cx="158.6" cy="702.8" r="2.5"/><circle cx="11.6" cy="681.4" r="2.4"/><circle cx="157.8" cy="715.4" r="3.3"/><circle cx="28.9" cy="712.5" r="3.2"/><circle cx="39.5" cy="733.6" r="3.4"/><circle cx="137.4" cy="756.8" r="2.1"/><circle cx="83.9" cy="721.2" r="3"/><circle cx="165.3" cy="709.4" r="2.3"/><circle cx="35.8" cy="648" r="2.3"/><circle cx="76.8" cy="720.4" r="2"/><circle cx="48.4" cy="732.8" r="3"/><circle cx="192" cy="749" r="3.5"/><circle cx="72" cy="724.8" r="2.3"/><circle cx="144.3" cy="730.3" r="2.4"/><circle cx="69.3" cy="728.2" r="2.9"/><circle cx="169.9" cy="738.1" r="2.2"/><circle cx="40.9" cy="742.5" r="3"/><circle cx="191" cy="760" r="3.5"/><circle cx="51.1" cy="677" r="2.9"/><circle cx="213.2" cy="736.3" r="3.1"/><circle cx="184.1" cy="761.5" r="2.8"/><circle cx="74.6" cy="734.8" r="2.2"/><circle cx="46.4" cy="767.6" r="3.4"/><circle cx="97" cy="726.6" r="2.3"/></g><path d="M171.7 643.7Q174.7 648.1 176.2 650M104.9 745.4Q107 747.6 111.2 747.5M210.6 703.3Q212.3 705.9 214.4 706.3M33.8 716.8Q32.5 716.6 27.7 717M84.8 750.5Q84.7 752.4 81.1 751M173.7 710.5Q176 715.2 177.9 716.6M199.2 731.6Q197.4 733.5 196.9 738.2M21.6 658Q24.2 660.3 25.2 662.9M59.1 738Q56.9 738.9 53.2 738.3M191.5 744.9Q191.4 746.8 191.4 751.5M204.8 653.2Q204.7 655.8 207.1 660.5M40.5 757.2Q38.3 759.7 39.6 761.9M215.9 640.2Q215.6 640.8 212.7 643.3M196.3 724.8Q195.7 724.4 192.2 726.9M211.9 654.7Q212 654.3 208.8 655M72 720.3Q69.1 722 65.3 723.1M142.9 720Q143.3 723.4 143.7 725.4M52.9 766.7Q52.9 770.4 49.7 772.3M15.3 678Q16.8 681.2 20 683M158.8 641.6Q156.4 645.4 156.3 647M16.3 713.8Q14.5 714.9 9.5 716.7M31 683.8Q30.1 684 32.7 686.3M11.7 684.3Q15.7 683.1 16.8 685.8M174.9 750Q180.1 750.7 182.8 750.5M23.6 736.6Q22.3 736.4 20.2 737.4M130.1 771Q130.9 771.8 132.4 776.2M31.9 684.3Q35.4 683.1 35.7 685.9M205.3 724Q209.8 725.9 212.8 726.8M15.3 635Q15.8 639.5 18.9 640.3M31.5 674.5Q34.3 678.8 37 679.1M51.2 663.2Q48 665.5 45.3 667.9M75.2 769.5Q77.5 769.5 77.3 772.3M46.6 676.9Q46.4 681.4 49.1 683.2M211.4 656.4Q212.6 658.3 215.1 656.4M67.2 724.4Q70 723.6 72 726.3M21.7 658.9Q20.1 663.3 21.9 665.1M199 641.3Q202.5 642.6 203.9 647.4M131.5 696.5Q129.4 697.1 126.7 698.7M40 765.2Q41.3 765.4 41.4 768.8M64.2 766.3Q64.9 767.1 68.7 767.6M192.2 652.3Q190.1 654.4 188.9 658.8M60 760.2Q54.9 762.1 53.3 762.5M39.7 698.1Q37.8 698.3 36 699.2M78.9 757.8Q76.8 756.2 75.9 758.4M36.7 740.3Q35 744.5 37.4 746.2M34.6 716.4Q34.6 717.3 36.8 719.7M120 753.8Q121.4 755.7 125.2 756.7M193.8 709.7Q193.8 713 197.2 716.7M36.1 714.4Q38.6 714.5 40 716.4M83.7 743.4Q85 746.2 84.7 747.5M183.4 732Q185.8 732.9 186.4 732.3M119.5 743.1Q120.3 747 117.9 748.7M193.5 749.8Q197.9 749.9 200.2 753M53.4 669.7Q56.4 672.6 57.9 673.1M215.7 775.5Q213.9 777.2 215.8 779.8M145.7 635.9Q145.9 638.9 145.3 641.6M170.8 762.7Q171.7 768 171 769.5M105.4 734.2Q103 734.8 102.1 738.7M51.3 770Q54.5 771.2 53.9 774.2M32.2 653.3Q27.2 653.5 25.7 655.8M29.2 714Q29.2 715.1 26.2 714.5M148.1 707.2Q144.7 707.4 144.1 707.9M37.7 684Q38.1 687.9 35.7 689.6M178 649.8Q181.1 652.5 181.9 655M29 707.8Q29.5 708.7 26.7 713M117.4 728.9Q114.3 732.6 114.4 735.9M21.3 669.9Q17.8 672.4 17.9 674.5M149.2 769.4Q152.5 771.4 153.2 773.9M86.4 711.2Q84 712.6 84.9 715.4M36.6 684.2Q36.8 686.7 36.5 690.4M137.5 766.1Q135.5 767.8 131 768.4M145.2 760.6Q140.9 762.2 140.2 766.6M13.2 722.1Q13.8 725.9 13.2 726.8M192.4 635.4Q191.4 638 194.4 638.9M14.3 766.7Q12.7 769.6 12.9 773.7M209.4 707.6Q211.4 708.5 215.1 708.9M62.8 693.2Q66 694.1 67.7 698.2M49.7 739.7Q48.6 745.2 48.4 747.1M150.1 695.5Q149.4 698.8 150.4 701M118.9 772.5Q116.6 773.6 113.3 773.6M67.2 689.2Q65.5 691.5 62.4 690.5M158.2 743.8Q163.4 746 165.3 746.7M133.3 714.7Q134.5 715.6 136.1 717.9M76.1 771Q79.6 773 81.5 777M104.4 709.4Q101.6 714.2 100.7 715.9M16.7 697.2Q16.5 699.2 18.7 701.9M45.1 730.4Q41.6 733.2 39.6 734.1M146.9 705.2Q145 705.7 140.1 706.9M17 667Q14.2 668.3 12.8 670M186.6 715.5Q188.8 713.9 190.7 716.2M203.7 749.3Q199.6 750.7 196.1 749.5M150.6 740.6Q148.5 742.4 145.3 741M15.1 637.5Q16.1 639.5 19.8 640.3M15.2 727.1Q12.9 728.9 11.8 729.5M160.2 704.2Q158 705.1 157.2 709.6M208.4 773.1Q209.9 773.2 211.9 774.6M87.5 751.1Q89.2 754.1 89.6 753.6M174.4 699.2Q172.1 700.3 169.8 701M157.4 701Q160.9 699.8 161.3 701.1M32.6 656.1Q37.1 660 38.4 660.8M194.3 697Q197.1 701.6 196.2 703.2M204.2 717.1Q202.8 719.5 199.8 718.8M29.5 660.3Q29.2 662.5 28.2 664M137.7 726.3Q138.3 726.3 140.9 728.3M124.7 735.7Q127.6 736.5 131.4 735.8M127.1 763.6Q123.9 762.7 123.3 763.7M20.1 705.1Q19.6 708.6 21.1 711.3M22.7 634.7Q24.8 639.5 25.8 641.8M179.2 742.4Q177.6 742.3 175.4 744M103.1 633.8Q100.6 637.9 98.6 640M80.4 759.4Q76.5 761.6 76.5 761.9M63.7 722.8Q64.8 723.9 63.5 728.5M175.7 654.5Q174.3 659.6 174.4 661.1M87.5 773Q90.9 775.8 92.5 778.3M57.5 685.8Q61 685 64.6 687.4M33.4 685.8Q31.2 690.2 32.5 691.9M44.4 756.4Q44.6 756.6 42.7 759.4M161.2 764.5Q160.9 763.5 158.7 766.3M40.9 654.8Q35.4 653.5 33.8 656.1M61 678.2Q60.8 681.6 62.7 683.4M170.6 655.3Q167.9 658 164.1 657.6M139.2 732.3Q138.9 734.7 141.9 736.8M153.9 733.9Q158.4 736 160.5 736.5M154.5 774.5Q156.8 777.1 155.5 782.2M13.6 772.4Q15 774 20.1 772.8M148 752.6Q146.9 753.6 144 753.7M157.6 649Q162.6 647.8 164.1 649.6M71.9 706.5Q73.1 706.4 75.9 707.5M104.4 746.4Q105.4 746.4 108.2 749.2M112.4 638.3Q109.6 640.4 109.4 640.6M35.4 655.7Q36.5 660.8 35.1 663.3M106.7 738.3Q106 742.9 108.2 744.8M72.9 751.2Q72.2 750.4 69.1 752.9M202 644.7Q202.1 648.5 198.7 649.6M28.7 673.8Q26.7 673.3 25.9 675.3M14.9 682.5Q12.8 686.7 9.7 688.3M142.6 641.7Q144.8 642.1 147.3 642.3M119.9 767.2Q119.5 772.3 119.5 774.5M193.8 718.5Q194.4 720.6 195.6 724.7M21.8 640.7Q23.1 644.8 20.8 646.4M125.4 646.7Q122.6 649 121.6 650.5M111.3 641.7Q111.4 643.1 109.7 645M21.9 678.2Q17.3 680.2 16.3 680.1M112.1 634.9Q113.2 635.9 111.1 640M136.2 772.7Q137.3 773.1 137.4 777M212.5 730.3Q209.7 730.5 206.8 733.2M212.2 771.9Q212.9 776.5 212 779.2M181.2 638.8Q179.3 639.3 179.4 641.9M163.1 707.6Q164 712.2 164.1 712.9M46.4 752.2Q45.5 751.6 43.4 752.9M107.5 701.4Q110.7 704.5 112.5 705M34.7 718.2Q36.5 717.6 42.2 720.4M129.8 644.3Q128.2 644.2 126.9 645.8M147.2 647.4Q151.4 648.6 152.5 652.2M147.7 741.6Q143.7 740.7 143.5 743.4M56.3 681.8Q57.4 684.9 60.5 687.8M11 747.4Q10.2 748.7 10.9 750.4M212 661.7Q210.8 664.1 208.8 664.4M206 774.3Q205.1 776.3 200.8 778.9M17.3 770.2Q18.4 773.8 19.5 776.9M28.5 730.1Q30.9 732.7 30.5 732.6M166.9 738Q162 737 160.5 738.5M179.2 707.5Q177.3 708.9 173.6 711.1M122.6 633.2Q125 636.4 124.7 636.6M143 723.8Q145.9 726.3 148.8 727M154.9 709.6Q156.2 713.7 155.8 714.5M148.8 728Q149.1 726.7 152.6 728.2M123 640Q124.6 641.8 126.5 642.7M159.1 638.4Q158.3 639.2 159.2 642.7M211.1 720.9Q211.4 723.6 212.6 724.7M27 736.4Q26 738 23.5 740.4M182.2 764.1Q179.4 767.4 179.1 768.4M110 717.9Q107.6 719.8 108.1 720.7M18.8 639.5Q20.9 642.4 25.4 641.9M138 736.1Q140 739.6 139 739.8M81.3 743.1Q82.9 741.9 87.7 743.2M26.8 641.5Q25.6 645 20.7 645.4M132.5 771.7Q132.2 771.8 128.5 774.6M58.2 709.9Q61 713.6 63.7 714.2M207.8 637.5Q204.6 638.9 204.5 639.9M62.8 722.2Q62.8 724.1 65.2 726.3M61.1 760.7Q59 762 58.1 761.3M91.2 753.4Q87.1 755.6 87 757.2M56.8 698.1Q56.2 700.2 59.2 704.5M198.4 744Q197.4 745.5 200.1 750.8M58.8 672.9Q54.5 673.4 52.3 676.6M98.6 704.8Q100.9 706 100.8 710.9M147.9 639.4Q152.6 642.5 155 642.3M16.9 692.2Q14.4 692.7 11.2 695.5M25.6 737Q29.6 738.1 30.2 738.8M57.1 749.1Q53.6 752 52.9 752.3M116.2 709.9Q113.4 712.1 112.2 715M28.7 660Q29.5 661.4 28.8 665.2M125.1 752.8Q122.2 752.8 121.7 753.2M140.1 715Q143.3 714.3 145.5 715.1M16.5 659Q15.3 658.6 13.4 662.1M30.5 709.5Q31.7 711.1 33.3 716.2M212.7 662Q214.7 664.6 214.3 664.7M39.8 703Q43.1 703.4 43.3 704.2M118.2 754.3Q119.4 758.4 122.6 759.8M193.2 635.7Q192.4 635.9 194 639.8M92.3 761.3Q94.4 761.3 95.7 761.8M81.8 751.8Q78.2 753.9 75.1 753.3M25.5 645.5Q23.4 648.3 20.3 649.2M187.1 633.8Q184.1 634.4 181.5 635.1M103.6 701.8Q104.3 701.5 108 702.9M13.5 670Q16.2 669.1 19.9 671.8M188.3 769.8Q191 770.5 194.3 771M208.6 741.7Q205.7 744.4 205.7 746.4M85.3 774.6Q87 777.2 87 778M71.3 716.7Q70.9 722.3 73.5 724.3M215 733.2Q218.7 734.8 218.7 736M204.4 723.2Q205.3 723.7 206 727.8M89.9 710.8Q86.6 712.6 82.8 711M114.2 772.3Q112.1 774.3 112.9 780.1M26.1 688.8Q25.6 691.8 23 692M30.7 668.6Q29.4 671.7 28.7 674.7M39.4 742.6Q39.7 742.2 40.8 745.7M184 743.7Q180.7 745.3 180.7 746.2M96.9 724Q94.3 724.8 94.9 727.9M150.2 753.3Q146.5 755.3 146.2 760.2M214.4 766.3Q218.6 767.8 219.4 770M146.8 638.9Q147.5 643.3 146.2 644.8M49.4 699.9Q46.5 700.7 45.9 702.6M105 774.5Q105 774 102.4 777.4M11.3 715.4Q12.7 715.7 10.6 720M119.3 754Q119.1 758.4 122.2 759.2M175.7 641.7Q174.1 645.3 174.2 645.8M37.1 696.6Q36.1 696.3 38.1 699.5M60.9 757.4Q57.1 759.6 57.2 760.9M54.8 741Q53.5 744.6 55.1 748.2M172.6 740.3Q176 742.9 178.6 745.2M143.3 727.2Q139.7 727.3 136.7 730.5M53.3 705.5Q56.3 708.8 55.7 710.2M92.3 726.5Q92.4 726.9 94.7 729M143.6 696Q146.1 699.8 144.9 701.7M190.1 748.9Q188.5 752.3 187.5 754.2M183.2 658.2Q185.3 658.5 186.8 662.1M123.7 753.1Q122.7 756.9 119.7 757.9M57 721.7Q58.2 723.1 56.1 727.1M192.4 751.5Q191.7 753 187.2 752.1M198.4 649.8Q198.1 649.8 194.7 649.9M197.3 775.6Q195.6 773.9 191.7 775.7M179.6 758.1Q180.7 757.3 185.1 758.7M136.5 632.5Q138.4 634.1 142 634.4M165.6 736Q166.6 739.9 170.8 742M62.8 692.7Q65.5 695.3 68 698.6M116.5 773.2Q118.5 774.7 120.1 775.8M203 660.7Q205.5 662.6 205.5 664M69.6 720Q68.6 720.5 63.6 721.7M138 763.7Q134.9 763.8 131.1 767.4M13.3 759.2Q14.5 760.5 14.4 763M178.1 648.9Q178.1 651.2 179.9 654.3M11.7 713.4Q8.1 714.7 6.8 719.4M157.9 731.3Q156.4 734.8 158.6 736.7M96.3 751.7Q98.6 753.1 98.5 755.1M51.6 722.6Q51 724.1 50.8 725.4M104.5 760.4Q107.3 764.2 108.7 767.2M75.3 706.6Q78.6 707.7 81.5 709.3M22.3 693.6Q20.3 696.2 19.4 696.9M63.1 704Q60.7 705.2 60.4 709M199.8 769Q201.9 770 202.6 773.2M64.7 705.5Q67.7 707.3 69.9 705.7M135.1 700.1Q134.2 705.1 130.8 706.4M122.1 711Q119.9 711.9 120.1 713.7M69.7 763.2Q70.2 766.7 73.1 769.7M62.1 680.9Q63.4 681.6 65.1 684.8M209.4 762.1Q206.7 765.6 203.8 767.7M62.3 710.6Q64.7 712.2 67.6 713.1M159.7 759.9Q163.5 760.1 163.5 763.7M212.9 652.8Q211.7 656.6 210.8 657.3M84.4 755.8Q83.6 759.1 83.2 759.5M214.1 765.7Q211 766.1 207.5 769.7M199.1 721.7Q198.2 723.2 197.1 725.6M73.9 725.5Q78.1 728.6 79.1 729.2M76.3 767.5Q79.2 769.5 82.3 767.8M108.9 747.8Q111.9 749.7 113.4 753.9M163.1 642Q160.4 643.6 156.8 643.3M123.5 723.3Q124 727.2 121.4 730.8M15.8 704.2Q15.5 704.8 16 709.2M45.3 765Q40 765.5 37.6 766.5M31.3 699.5Q34.9 698.4 36.5 700.7M203.5 640.9Q203.7 641.1 204.7 643.8M147 733Q148.3 735.5 149.6 736.7M105.3 755.3Q108.4 758.7 108.5 758.2M112.3 751.9Q111.5 754.2 108 757.5M22.9 634.1Q22 635.1 21.2 638.7M32.8 666.7Q32.2 672 30.4 673.5M37.7 736.5Q35.3 741 36.1 742.6M142.5 632.2Q141.2 634.1 140.1 639.4M58 774.6Q57.7 775.9 58.4 778M23.8 664.6Q22.2 668 23 667.5M191.3 649.5Q193.9 651 196.4 650.8M111.4 740.7Q108.8 743.2 108.9 747.7M33.2 767.8Q36.4 769 38 772.7M20.1 767.4Q18.5 771.5 20.8 773.1M24.8 732.2Q25.7 734.7 24.1 737.2M79.9 738.8Q81.2 737.5 85.3 740.2M152.8 756.1Q153.2 758.1 157.4 756.4M81.2 717.1Q80.3 719.5 77 721.2" stroke="#4a5cc4" stroke-width="1.1" fill="none" opacity="0.75"/><g fill="#f09478" opacity="0.55" ><ellipse cx="41.4" cy="773.1" rx="4.9" ry="5.1"/><ellipse cx="11.8" cy="732.3" rx="4.3" ry="3.6"/><ellipse cx="14.6" cy="735.1" rx="3.5" ry="3.5"/><ellipse cx="15.4" cy="741.8" rx="4.1" ry="2.8"/><ellipse cx="23.1" cy="754.5" rx="4.9" ry="4"/><ellipse cx="23.5" cy="716.6" rx="3" ry="2.7"/><ellipse cx="36.5" cy="761" rx="3.8" ry="3.3"/><ellipse cx="10" cy="738.9" rx="2.8" ry="2.5"/><ellipse cx="39.2" cy="717.5" rx="3.3" ry="3.3"/><ellipse cx="50.9" cy="729.7" rx="4.8" ry="3.7"/><ellipse cx="38.4" cy="716" rx="4.4" ry="3.6"/><ellipse cx="15.8" cy="765.6" rx="2.8" ry="2.9"/><ellipse cx="39.6" cy="729.8" rx="3.5" ry="3.1"/><ellipse cx="44.3" cy="771.3" rx="3.2" ry="2.1"/></g><g fill="#f4a888" opacity="0.55" ><ellipse cx="36.5" cy="723.6" rx="3.4" ry="2.7"/><ellipse cx="25.3" cy="734.2" rx="2.6" ry="2"/><ellipse cx="21.8" cy="718.6" rx="3.9" ry="2.6"/><ellipse cx="28.2" cy="766.8" rx="4.6" ry="5"/><ellipse cx="16.9" cy="749.1" rx="3.3" ry="2.7"/><ellipse cx="13.3" cy="743.7" rx="4.3" ry="3.5"/></g><g fill="#eeb898" opacity="0.55" ><ellipse cx="49" cy="768.5" rx="3.9" ry="3.7"/><ellipse cx="11.4" cy="758.6" rx="4.3" ry="2.9"/><ellipse cx="43.4" cy="727.7" rx="4.2" ry="4.1"/><ellipse cx="54.4" cy="742.2" rx="4.9" ry="5.1"/><ellipse cx="28.5" cy="763.8" rx="3.4" ry="2.7"/><ellipse cx="39.6" cy="752.3" rx="4.8" ry="5.1"/><ellipse cx="46.4" cy="752.5" rx="4.7" ry="3.6"/><ellipse cx="29.6" cy="723.5" rx="2.7" ry="2.3"/><ellipse cx="26.2" cy="752.3" rx="2.9" ry="2.7"/><ellipse cx="56.4" cy="746.4" rx="3.4" ry="2.3"/></g></g>
<polygon points="25.0,631.0 93.0,631.0 101.0,637.0 112.0,642.5 130.0,649.7 150.0,653.0 170.0,656.3 190.0,661.3 216.0,668.8 216.0,702.0 200.0,697.0 170.0,695.7 150.0,694.3 130.0,696.7 110.0,699.0 95.0,703.0 80.0,702.0 70.0,700.0 66.0,682.0 60.0,670.0 46.0,658.0 33.0,645.0" fill="#efe9cd" filter="url(#bl1)"/>
<path d="M92,698 Q94,694 97,697" stroke="#f0a0a0" stroke-width="1.5" fill="none"/>
</g>
<rect x="9.9" y="629.9" width="207.3" height="147.3" fill="none" stroke="#2f3f9c" stroke-width="3"/>
<polygon points="34.8,652.9 42.8,660.2 53.8,660.5 37.1,673.3" fill="#111"/>
<polygon points="139.2,674.5 132.7,683.0 122.5,685.1 140.7,694.9" fill="#111"/>
<text x="29.1" y="751.5" font-size="22" font-weight="bold" text-anchor="middle" fill="#2a3a8c">*</text>
<g clip-path="url(#cr)">
<rect x="226.5" y="630.7" width="205" height="145" fill="#e6e4e6"/>
<g filter="url(#bl1)"><g fill="#cfc8e0" opacity="0.7"><ellipse transform="rotate(70 422.3 763)" cx="422.3" cy="763" rx="5.9" ry="3.9"/><ellipse transform="rotate(86 424 726.9)" cx="424" cy="726.9" rx="5.1" ry="2.5"/><ellipse transform="rotate(22 344.4 698.8)" cx="344.4" cy="698.8" rx="5.3" ry="4.1"/><ellipse transform="rotate(13 252.1 683.4)" cx="252.1" cy="683.4" rx="6.2" ry="3.2"/><ellipse transform="rotate(6 319.2 676.8)" cx="319.2" cy="676.8" rx="6.2" ry="3.7"/><ellipse transform="rotate(29 320.3 684.3)" cx="320.3" cy="684.3" rx="4.9" ry="3.8"/><ellipse transform="rotate(117 232.4 653)" cx="232.4" cy="653" rx="4.2" ry="3"/><ellipse transform="rotate(93 257.1 771.1)" cx="257.1" cy="771.1" rx="4.2" ry="3.4"/><ellipse transform="rotate(63 354.5 641.6)" cx="354.5" cy="641.6" rx="4.4" ry="2.8"/><ellipse transform="rotate(80 266.8 704.1)" cx="266.8" cy="704.1" rx="7.3" ry="4.1"/><ellipse transform="rotate(155 396.9 751.4)" cx="396.9" cy="751.4" rx="4.5" ry="2.7"/><ellipse transform="rotate(90 389.7 770.9)" cx="389.7" cy="770.9" rx="6" ry="4.4"/><ellipse transform="rotate(177 235 724.6)" cx="235" cy="724.6" rx="6" ry="3.3"/><ellipse transform="rotate(57 333.7 651.1)" cx="333.7" cy="651.1" rx="6.1" ry="4.4"/><ellipse transform="rotate(161 413.6 640.1)" cx="413.6" cy="640.1" rx="4.5" ry="3.5"/><ellipse transform="rotate(79 412.6 718.2)" cx="412.6" cy="718.2" rx="6.4" ry="3.6"/><ellipse transform="rotate(148 375.5 762.1)" cx="375.5" cy="762.1" rx="7.7" ry="4.4"/><ellipse transform="rotate(71 301.7 634.8)" cx="301.7" cy="634.8" rx="6.3" ry="3.6"/><ellipse transform="rotate(76 266 766)" cx="266" cy="766" rx="6.1" ry="3.9"/><ellipse transform="rotate(96 280.6 658.2)" cx="280.6" cy="658.2" rx="4.1" ry="2.5"/><ellipse transform="rotate(96 305.8 670.4)" cx="305.8" cy="670.4" rx="5.9" ry="3.4"/><ellipse transform="rotate(159 232.8 699.7)" cx="232.8" cy="699.7" rx="5.6" ry="3.2"/><ellipse transform="rotate(45 306.2 696.5)" cx="306.2" cy="696.5" rx="3.6" ry="2.9"/><ellipse transform="rotate(167 281.1 636.1)" cx="281.1" cy="636.1" rx="5.5" ry="4.4"/><ellipse transform="rotate(17 293.6 697.8)" cx="293.6" cy="697.8" rx="8.4" ry="4.5"/><ellipse transform="rotate(165 276.9 713.2)" cx="276.9" cy="713.2" rx="6.3" ry="4.2"/></g><g fill="#c8c0de" opacity="0.7"><ellipse transform="rotate(117 298.4 766)" cx="298.4" cy="766" rx="6.4" ry="3.7"/><ellipse transform="rotate(130 413.3 634.7)" cx="413.3" cy="634.7" rx="8.7" ry="4.4"/><ellipse transform="rotate(104 410 688.8)" cx="410" cy="688.8" rx="5.7" ry="3.7"/><ellipse transform="rotate(21 266 724.7)" cx="266" cy="724.7" rx="5.4" ry="4.2"/><ellipse transform="rotate(87 399.3 653.9)" cx="399.3" cy="653.9" rx="4.6" ry="3.4"/><ellipse transform="rotate(139 305.6 646)" cx="305.6" cy="646" rx="5.8" ry="3"/><ellipse transform="rotate(11 413 734.1)" cx="413" cy="734.1" rx="5.6" ry="3.3"/><ellipse transform="rotate(59 359.5 705.3)" cx="359.5" cy="705.3" rx="7.2" ry="3.8"/><ellipse transform="rotate(119 273.4 690.1)" cx="273.4" cy="690.1" rx="6.6" ry="4.5"/><ellipse transform="rotate(139 348.6 735.8)" cx="348.6" cy="735.8" rx="4.3" ry="3.4"/><ellipse transform="rotate(154 231.7 643.7)" cx="231.7" cy="643.7" rx="4.7" ry="2.8"/><ellipse transform="rotate(16 390.5 774.5)" cx="390.5" cy="774.5" rx="4.6" ry="3.4"/><ellipse transform="rotate(12 376.1 713.2)" cx="376.1" cy="713.2" rx="7.8" ry="4.4"/><ellipse transform="rotate(18 319.1 687.4)" cx="319.1" cy="687.4" rx="5.7" ry="3.4"/><ellipse transform="rotate(114 249.6 721.5)" cx="249.6" cy="721.5" rx="4.3" ry="3.2"/><ellipse transform="rotate(21 256.6 659.9)" cx="256.6" cy="659.9" rx="4.7" ry="3.4"/><ellipse transform="rotate(100 428.3 669)" cx="428.3" cy="669" rx="4.8" ry="2.7"/><ellipse transform="rotate(73 233.8 696.7)" cx="233.8" cy="696.7" rx="5.3" ry="3.9"/><ellipse transform="rotate(61 429.9 754.8)" cx="429.9" cy="754.8" rx="7.7" ry="4"/><ellipse transform="rotate(0 375.6 707)" cx="375.6" cy="707" rx="5.5" ry="3.3"/><ellipse transform="rotate(168 365.7 640.6)" cx="365.7" cy="640.6" rx="5.5" ry="3.5"/><ellipse transform="rotate(120 327.5 733.4)" cx="327.5" cy="733.4" rx="7.8" ry="4.3"/><ellipse transform="rotate(70 237.7 657.4)" cx="237.7" cy="657.4" rx="5.8" ry="3.8"/><ellipse transform="rotate(71 396.4 672.9)" cx="396.4" cy="672.9" rx="5.5" ry="4.3"/><ellipse transform="rotate(85 427.7 687.2)" cx="427.7" cy="687.2" rx="7.6" ry="3.9"/><ellipse transform="rotate(131 311.7 658.6)" cx="311.7" cy="658.6" rx="3.7" ry="2.7"/><ellipse transform="rotate(65 249.4 664.6)" cx="249.4" cy="664.6" rx="7.6" ry="4.3"/></g><g fill="#c4bcdc" opacity="0.7"><ellipse transform="rotate(148 280.8 687.6)" cx="280.8" cy="687.6" rx="5.1" ry="3.4"/><ellipse transform="rotate(135 269.1 647.8)" cx="269.1" cy="647.8" rx="3.3" ry="2.6"/><ellipse transform="rotate(67 426.6 741.9)" cx="426.6" cy="741.9" rx="4.9" ry="3.3"/><ellipse transform="rotate(65 320.2 669.7)" cx="320.2" cy="669.7" rx="4.1" ry="2.6"/><ellipse transform="rotate(41 363.1 745.4)" cx="363.1" cy="745.4" rx="7.2" ry="4"/><ellipse transform="rotate(159 283.9 709)" cx="283.9" cy="709" rx="5.4" ry="3.1"/><ellipse transform="rotate(158 263.9 706.1)" cx="263.9" cy="706.1" rx="3.7" ry="2.5"/><ellipse transform="rotate(26 342.2 718.4)" cx="342.2" cy="718.4" rx="5.6" ry="4.4"/><ellipse transform="rotate(153 387 655.4)" cx="387" cy="655.4" rx="5.1" ry="2.7"/><ellipse transform="rotate(22 408.3 702.5)" cx="408.3" cy="702.5" rx="4.7" ry="2.9"/><ellipse transform="rotate(67 255.2 741.9)" cx="255.2" cy="741.9" rx="7.5" ry="4.5"/><ellipse transform="rotate(175 350.6 663.5)" cx="350.6" cy="663.5" rx="4.6" ry="2.6"/><ellipse transform="rotate(81 405.8 680)" cx="405.8" cy="680" rx="4.8" ry="3.6"/><ellipse transform="rotate(22 270.5 719.1)" cx="270.5" cy="719.1" rx="6" ry="3.8"/><ellipse transform="rotate(38 269.6 738.5)" cx="269.6" cy="738.5" rx="6" ry="3.1"/><ellipse transform="rotate(156 425.1 666)" cx="425.1" cy="666" rx="4" ry="2.8"/><ellipse transform="rotate(23 226.5 668.5)" cx="226.5" cy="668.5" rx="6.4" ry="3.8"/><ellipse transform="rotate(174 425.5 682)" cx="425.5" cy="682" rx="5.6" ry="3.9"/><ellipse transform="rotate(160 366.3 740.4)" cx="366.3" cy="740.4" rx="4.8" ry="3.9"/><ellipse transform="rotate(42 321 757)" cx="321" cy="757" rx="4.6" ry="2.9"/><ellipse transform="rotate(125 383.2 651.3)" cx="383.2" cy="651.3" rx="3.6" ry="2.5"/><ellipse transform="rotate(178 374.3 692.8)" cx="374.3" cy="692.8" rx="6.5" ry="4.4"/><ellipse transform="rotate(63 251.2 733.9)" cx="251.2" cy="733.9" rx="7.4" ry="4"/><ellipse transform="rotate(5 242.2 759.2)" cx="242.2" cy="759.2" rx="4.1" ry="3.2"/><ellipse transform="rotate(154 364.7 700.5)" cx="364.7" cy="700.5" rx="4.6" ry="3.1"/><ellipse transform="rotate(30 321.3 748.8)" cx="321.3" cy="748.8" rx="6" ry="3.8"/><ellipse transform="rotate(43 408.4 699)" cx="408.4" cy="699" rx="7.5" ry="4.3"/></g><g fill="#e08090" opacity="0.85"><ellipse transform="rotate(16 381.2 660.5)" cx="381.2" cy="660.5" rx="5.8" ry="3.4"/><ellipse transform="rotate(130 248.7 728.4)" cx="248.7" cy="728.4" rx="8.2" ry="4.2"/><ellipse transform="rotate(124 229.5 768.8)" cx="229.5" cy="768.8" rx="5.5" ry="3.2"/><ellipse transform="rotate(30 412.6 736.4)" cx="412.6" cy="736.4" rx="5" ry="4"/><ellipse transform="rotate(59 339.4 674)" cx="339.4" cy="674" rx="3.8" ry="3.1"/><ellipse transform="rotate(37 263.8 738.8)" cx="263.8" cy="738.8" rx="6" ry="3.1"/><ellipse transform="rotate(45 241.2 687.1)" cx="241.2" cy="687.1" rx="4.6" ry="3"/><ellipse transform="rotate(125 294.1 730)" cx="294.1" cy="730" rx="6.2" ry="4.4"/><ellipse transform="rotate(33 344.7 658.8)" cx="344.7" cy="658.8" rx="6.5" ry="4.2"/><ellipse transform="rotate(151 234.2 773.5)" cx="234.2" cy="773.5" rx="4.1" ry="3.2"/><ellipse transform="rotate(142 423.3 673)" cx="423.3" cy="673" rx="4.1" ry="3.4"/><ellipse transform="rotate(14 389.8 754.6)" cx="389.8" cy="754.6" rx="4.1" ry="3.2"/><ellipse transform="rotate(161 300 666.5)" cx="300" cy="666.5" rx="4.8" ry="4"/><ellipse transform="rotate(101 404.3 753.1)" cx="404.3" cy="753.1" rx="5" ry="3.8"/><ellipse transform="rotate(109 253.2 751.4)" cx="253.2" cy="751.4" rx="5" ry="2.9"/><ellipse transform="rotate(160 256.2 714.5)" cx="256.2" cy="714.5" rx="5.6" ry="3.1"/><ellipse transform="rotate(61 400.3 758.8)" cx="400.3" cy="758.8" rx="4.3" ry="3.4"/><ellipse transform="rotate(28 269.3 665.2)" cx="269.3" cy="665.2" rx="6.3" ry="4.3"/><ellipse transform="rotate(105 352.6 660.9)" cx="352.6" cy="660.9" rx="7.5" ry="3.8"/><ellipse transform="rotate(97 384.5 676.7)" cx="384.5" cy="676.7" rx="7.5" ry="3.7"/><ellipse transform="rotate(110 401.6 774.4)" cx="401.6" cy="774.4" rx="6.3" ry="3.3"/><ellipse transform="rotate(19 351.2 741.8)" cx="351.2" cy="741.8" rx="7.4" ry="3.8"/><ellipse transform="rotate(73 267 697.8)" cx="267" cy="697.8" rx="6.4" ry="3.8"/><ellipse transform="rotate(142 370.5 725.3)" cx="370.5" cy="725.3" rx="6" ry="3.6"/><ellipse transform="rotate(150 401.3 730.9)" cx="401.3" cy="730.9" rx="6.9" ry="4.1"/><ellipse transform="rotate(143 314.4 653.7)" cx="314.4" cy="653.7" rx="6.1" ry="3.1"/><ellipse transform="rotate(108 270.2 708.4)" cx="270.2" cy="708.4" rx="4.3" ry="2.9"/><ellipse transform="rotate(6 403.9 767.8)" cx="403.9" cy="767.8" rx="7.5" ry="4"/><ellipse transform="rotate(72 236 645.8)" cx="236" cy="645.8" rx="5.2" ry="3.1"/><ellipse transform="rotate(142 267.2 677.1)" cx="267.2" cy="677.1" rx="5.2" ry="3.7"/><ellipse transform="rotate(130 229.1 769.9)" cx="229.1" cy="769.9" rx="5" ry="3.2"/><ellipse transform="rotate(173 249 695.4)" cx="249" cy="695.4" rx="4.9" ry="2.9"/><ellipse transform="rotate(61 235.6 661.1)" cx="235.6" cy="661.1" rx="5.5" ry="3.5"/><ellipse transform="rotate(126 401.1 724.1)" cx="401.1" cy="724.1" rx="7.9" ry="4.2"/><ellipse transform="rotate(99 268.6 737.1)" cx="268.6" cy="737.1" rx="5.4" ry="2.8"/></g><g fill="#d87890" opacity="0.85"><ellipse transform="rotate(43 276.1 713.5)" cx="276.1" cy="713.5" rx="7.7" ry="4"/><ellipse transform="rotate(172 355.6 631.3)" cx="355.6" cy="631.3" rx="5.2" ry="3.9"/><ellipse transform="rotate(171 400.5 710.3)" cx="400.5" cy="710.3" rx="7.6" ry="3.8"/><ellipse transform="rotate(112 253.6 662.7)" cx="253.6" cy="662.7" rx="4" ry="3"/><ellipse transform="rotate(154 430 709.6)" cx="430" cy="709.6" rx="8" ry="4.1"/><ellipse transform="rotate(83 411.7 632.3)" cx="411.7" cy="632.3" rx="5.8" ry="4.4"/><ellipse transform="rotate(89 341.4 744.1)" cx="341.4" cy="744.1" rx="4.9" ry="3.2"/><ellipse transform="rotate(96 260.5 732.7)" cx="260.5" cy="732.7" rx="7.4" ry="3.7"/><ellipse transform="rotate(112 299.8 727.8)" cx="299.8" cy="727.8" rx="5.7" ry="3.4"/><ellipse transform="rotate(10 405.8 760.7)" cx="405.8" cy="760.7" rx="7.1" ry="4.3"/><ellipse transform="rotate(106 238 770.7)" cx="238" cy="770.7" rx="5.2" ry="3.2"/><ellipse transform="rotate(4 352.3 670.7)" cx="352.3" cy="670.7" rx="7" ry="4.1"/><ellipse transform="rotate(132 298.3 682.3)" cx="298.3" cy="682.3" rx="6.1" ry="4.2"/><ellipse transform="rotate(141 429.9 673.1)" cx="429.9" cy="673.1" rx="3.7" ry="3"/><ellipse transform="rotate(93 363.5 703.6)" cx="363.5" cy="703.6" rx="5.7" ry="2.9"/><ellipse transform="rotate(74 320.2 768.4)" cx="320.2" cy="768.4" rx="6.8" ry="3.5"/><ellipse transform="rotate(89 233.4 748.7)" cx="233.4" cy="748.7" rx="7.6" ry="4.4"/><ellipse transform="rotate(22 230.6 752.1)" cx="230.6" cy="752.1" rx="7.1" ry="4.2"/><ellipse transform="rotate(0 380.6 753.3)" cx="380.6" cy="753.3" rx="7.2" ry="4.1"/><ellipse transform="rotate(166 236.8 764.2)" cx="236.8" cy="764.2" rx="8" ry="4.2"/><ellipse transform="rotate(80 364.4 714.7)" cx="364.4" cy="714.7" rx="6.2" ry="4.1"/><ellipse transform="rotate(137 430.6 687.9)" cx="430.6" cy="687.9" rx="4.7" ry="3.2"/><ellipse transform="rotate(34 401.6 713.5)" cx="401.6" cy="713.5" rx="4.4" ry="3.6"/><ellipse transform="rotate(107 237.6 722.4)" cx="237.6" cy="722.4" rx="6.5" ry="4"/><ellipse transform="rotate(107 278.2 669.2)" cx="278.2" cy="669.2" rx="5.7" ry="3.2"/><ellipse transform="rotate(57 389.7 719.5)" cx="389.7" cy="719.5" rx="5.2" ry="2.9"/><ellipse transform="rotate(13 233.5 714.9)" cx="233.5" cy="714.9" rx="5.6" ry="3.6"/><ellipse transform="rotate(139 299 737.8)" cx="299" cy="737.8" rx="5.9" ry="3.2"/><ellipse transform="rotate(151 331.4 765.5)" cx="331.4" cy="765.5" rx="7.8" ry="4"/><ellipse transform="rotate(67 233.8 636.5)" cx="233.8" cy="636.5" rx="4.6" ry="3.2"/><ellipse transform="rotate(87 266.3 733.1)" cx="266.3" cy="733.1" rx="5.3" ry="3.9"/><ellipse transform="rotate(4 317.1 757.9)" cx="317.1" cy="757.9" rx="5" ry="3.4"/><ellipse transform="rotate(61 293.7 719.7)" cx="293.7" cy="719.7" rx="5.7" ry="3.8"/><ellipse transform="rotate(138 361.4 746.3)" cx="361.4" cy="746.3" rx="7.2" ry="4.2"/><ellipse transform="rotate(106 236.4 660.7)" cx="236.4" cy="660.7" rx="5.6" ry="3.2"/><ellipse transform="rotate(62 258.4 667.7)" cx="258.4" cy="667.7" rx="6.1" ry="4.1"/><ellipse transform="rotate(116 242 766.8)" cx="242" cy="766.8" rx="4.6" ry="3.5"/><ellipse transform="rotate(113 231 678.7)" cx="231" cy="678.7" rx="4.1" ry="3.1"/><ellipse transform="rotate(33 358.2 721.4)" cx="358.2" cy="721.4" rx="7.7" ry="4.1"/><ellipse transform="rotate(171 357.2 713.2)" cx="357.2" cy="713.2" rx="7.1" ry="4"/><ellipse transform="rotate(126 420 635.2)" cx="420" cy="635.2" rx="5.5" ry="4.2"/><ellipse transform="rotate(101 362 737.4)" cx="362" cy="737.4" rx="6.1" ry="3.2"/><ellipse transform="rotate(152 424.5 678)" cx="424.5" cy="678" rx="7.7" ry="4.2"/><ellipse transform="rotate(177 232.1 692)" cx="232.1" cy="692" rx="4.6" ry="3.2"/><ellipse transform="rotate(109 259.8 690.2)" cx="259.8" cy="690.2" rx="6.9" ry="4.1"/><ellipse transform="rotate(87 306.7 677.4)" cx="306.7" cy="677.4" rx="5.2" ry="3.7"/><ellipse transform="rotate(81 308.2 727.1)" cx="308.2" cy="727.1" rx="4" ry="3.1"/><ellipse transform="rotate(60 360.7 710.1)" cx="360.7" cy="710.1" rx="4.9" ry="3.1"/><ellipse transform="rotate(84 423 655)" cx="423" cy="655" rx="7.5" ry="4.3"/><ellipse transform="rotate(112 348.5 756.7)" cx="348.5" cy="756.7" rx="6.5" ry="3.7"/><ellipse transform="rotate(165 388.8 723.1)" cx="388.8" cy="723.1" rx="6.7" ry="4.3"/><ellipse transform="rotate(55 393.8 670.9)" cx="393.8" cy="670.9" rx="4.9" ry="3.3"/></g><g fill="#e69aa6" opacity="0.85"><ellipse transform="rotate(139 396.9 648)" cx="396.9" cy="648" rx="5.9" ry="3.7"/><ellipse transform="rotate(87 389.6 729.1)" cx="389.6" cy="729.1" rx="6.4" ry="3.9"/><ellipse transform="rotate(39 419.3 759.9)" cx="419.3" cy="759.9" rx="4.3" ry="3.5"/><ellipse transform="rotate(109 352.1 719.5)" cx="352.1" cy="719.5" rx="4.6" ry="3.8"/><ellipse transform="rotate(84 399.7 702.5)" cx="399.7" cy="702.5" rx="5.8" ry="3.2"/><ellipse transform="rotate(142 387.9 633.4)" cx="387.9" cy="633.4" rx="6.4" ry="3.7"/><ellipse transform="rotate(57 258.5 677)" cx="258.5" cy="677" rx="8.4" ry="4.2"/><ellipse transform="rotate(120 416.1 710)" cx="416.1" cy="710" rx="7.5" ry="3.8"/><ellipse transform="rotate(133 272.8 653.7)" cx="272.8" cy="653.7" rx="5.1" ry="2.9"/><ellipse transform="rotate(75 394.9 664.1)" cx="394.9" cy="664.1" rx="5.6" ry="4.3"/><ellipse transform="rotate(15 306.6 770.1)" cx="306.6" cy="770.1" rx="4.4" ry="3"/><ellipse transform="rotate(42 329.8 714.9)" cx="329.8" cy="714.9" rx="5.5" ry="3.6"/><ellipse transform="rotate(95 379.3 722.5)" cx="379.3" cy="722.5" rx="5.5" ry="3.8"/><ellipse transform="rotate(92 287.4 676)" cx="287.4" cy="676" rx="5.9" ry="3.7"/><ellipse transform="rotate(116 421.7 722.3)" cx="421.7" cy="722.3" rx="7.7" ry="3.9"/><ellipse transform="rotate(121 232.3 723.5)" cx="232.3" cy="723.5" rx="7.2" ry="4.3"/><ellipse transform="rotate(136 325.9 696.7)" cx="325.9" cy="696.7" rx="5.6" ry="4.3"/><ellipse transform="rotate(78 380.6 763.4)" cx="380.6" cy="763.4" rx="6.1" ry="3.2"/><ellipse transform="rotate(61 419.9 714.1)" cx="419.9" cy="714.1" rx="6.3" ry="4"/><ellipse transform="rotate(169 395.5 768.2)" cx="395.5" cy="768.2" rx="4.3" ry="2.8"/><ellipse transform="rotate(54 276.6 653)" cx="276.6" cy="653" rx="8.1" ry="4.4"/><ellipse transform="rotate(77 267.2 649)" cx="267.2" cy="649" rx="7.7" ry="4.2"/><ellipse transform="rotate(141 315 739.7)" cx="315" cy="739.7" rx="5.7" ry="3.2"/><ellipse transform="rotate(138 338 658.6)" cx="338" cy="658.6" rx="7.7" ry="3.9"/><ellipse transform="rotate(141 240.5 691.7)" cx="240.5" cy="691.7" rx="4.4" ry="3.6"/><ellipse transform="rotate(44 254.3 675.4)" cx="254.3" cy="675.4" rx="4.8" ry="3.8"/><ellipse transform="rotate(141 326.5 761)" cx="326.5" cy="761" rx="6" ry="3.8"/><ellipse transform="rotate(88 372 699.2)" cx="372" cy="699.2" rx="5.5" ry="3.9"/><ellipse transform="rotate(148 396.1 768.6)" cx="396.1" cy="768.6" rx="4.6" ry="3.2"/><ellipse transform="rotate(55 398.2 735.9)" cx="398.2" cy="735.9" rx="5.3" ry="3.9"/><ellipse transform="rotate(135 371.2 634.7)" cx="371.2" cy="634.7" rx="6.8" ry="4.2"/><ellipse transform="rotate(119 278.6 668.6)" cx="278.6" cy="668.6" rx="5.5" ry="4.1"/><ellipse transform="rotate(96 302 715.3)" cx="302" cy="715.3" rx="5.1" ry="2.9"/><ellipse transform="rotate(70 281.1 731.7)" cx="281.1" cy="731.7" rx="5.5" ry="3.6"/><ellipse transform="rotate(38 244.1 771.1)" cx="244.1" cy="771.1" rx="4.4" ry="2.9"/><ellipse transform="rotate(171 331.8 687.4)" cx="331.8" cy="687.4" rx="6.2" ry="3.5"/><ellipse transform="rotate(7 229.3 680.5)" cx="229.3" cy="680.5" rx="6.6" ry="4.3"/><ellipse transform="rotate(11 297.8 680.7)" cx="297.8" cy="680.7" rx="6.7" ry="4.4"/><ellipse transform="rotate(69 284 679)" cx="284" cy="679" rx="5.9" ry="3"/><ellipse transform="rotate(6 229.9 668.3)" cx="229.9" cy="668.3" rx="4.1" ry="3.1"/><ellipse transform="rotate(172 404 740.6)" cx="404" cy="740.6" rx="5.9" ry="3.8"/><ellipse transform="rotate(72 277 640.4)" cx="277" cy="640.4" rx="4.8" ry="3.6"/><ellipse transform="rotate(107 404.3 751.7)" cx="404.3" cy="751.7" rx="6" ry="3.4"/><ellipse transform="rotate(17 339.3 709.4)" cx="339.3" cy="709.4" rx="6.4" ry="3.4"/><ellipse transform="rotate(49 414.2 669.7)" cx="414.2" cy="669.7" rx="4.7" ry="3"/><ellipse transform="rotate(80 357.4 649.8)" cx="357.4" cy="649.8" rx="5.8" ry="4"/><ellipse transform="rotate(36 286 729.4)" cx="286" cy="729.4" rx="4.3" ry="3"/></g><g fill="#dc8098" opacity="0.85"><ellipse transform="rotate(139 404.4 632.7)" cx="404.4" cy="632.7" rx="5" ry="4"/><ellipse transform="rotate(18 361.1 769.4)" cx="361.1" cy="769.4" rx="6" ry="4.2"/><ellipse transform="rotate(72 361.1 773.2)" cx="361.1" cy="773.2" rx="4.5" ry="2.9"/><ellipse transform="rotate(104 323.7 635.6)" cx="323.7" cy="635.6" rx="4.9" ry="3.1"/><ellipse transform="rotate(88 226.3 651.5)" cx="226.3" cy="651.5" rx="7.3" ry="3.8"/><ellipse transform="rotate(176 247.4 699.9)" cx="247.4" cy="699.9" rx="5.8" ry="4.2"/><ellipse transform="rotate(76 308.6 666.6)" cx="308.6" cy="666.6" rx="6.2" ry="4.3"/><ellipse transform="rotate(115 340.2 730.4)" cx="340.2" cy="730.4" rx="5.3" ry="3.2"/><ellipse transform="rotate(74 341.4 651.1)" cx="341.4" cy="651.1" rx="4" ry="3"/><ellipse transform="rotate(35 428 675.9)" cx="428" cy="675.9" rx="4.5" ry="3.5"/><ellipse transform="rotate(77 428.1 672)" cx="428.1" cy="672" rx="4.2" ry="3.2"/><ellipse transform="rotate(70 237.4 715)" cx="237.4" cy="715" rx="7.8" ry="4.2"/><ellipse transform="rotate(143 281.2 709.8)" cx="281.2" cy="709.8" rx="7" ry="4.3"/><ellipse transform="rotate(84 335.9 672.8)" cx="335.9" cy="672.8" rx="5.2" ry="4.1"/><ellipse transform="rotate(18 403.1 731.4)" cx="403.1" cy="731.4" rx="5" ry="3.3"/><ellipse transform="rotate(77 271.3 711.9)" cx="271.3" cy="711.9" rx="6.9" ry="3.8"/><ellipse transform="rotate(127 409.5 662)" cx="409.5" cy="662" rx="5.9" ry="3.6"/><ellipse transform="rotate(82 251.4 633.4)" cx="251.4" cy="633.4" rx="6.4" ry="3.8"/><ellipse transform="rotate(138 370.9 680.1)" cx="370.9" cy="680.1" rx="7.5" ry="4.3"/><ellipse transform="rotate(103 238.7 664.8)" cx="238.7" cy="664.8" rx="4.8" ry="2.8"/><ellipse transform="rotate(160 269.9 734.2)" cx="269.9" cy="734.2" rx="6.5" ry="3.3"/><ellipse transform="rotate(68 376.1 728.8)" cx="376.1" cy="728.8" rx="6" ry="4.2"/><ellipse transform="rotate(33 381 686.2)" cx="381" cy="686.2" rx="6.9" ry="3.9"/><ellipse transform="rotate(78 244 717.6)" cx="244" cy="717.6" rx="4.2" ry="3.1"/><ellipse transform="rotate(77 283.6 662.8)" cx="283.6" cy="662.8" rx="5.9" ry="3.7"/><ellipse transform="rotate(14 356.4 644.9)" cx="356.4" cy="644.9" rx="6.5" ry="3.3"/><ellipse transform="rotate(51 381.4 694.3)" cx="381.4" cy="694.3" rx="7" ry="3.6"/><ellipse transform="rotate(146 349.1 683.1)" cx="349.1" cy="683.1" rx="6.6" ry="4"/><ellipse transform="rotate(160 251.5 696.3)" cx="251.5" cy="696.3" rx="6.3" ry="4.4"/><ellipse transform="rotate(84 359.7 678.9)" cx="359.7" cy="678.9" rx="5.7" ry="4.3"/><ellipse transform="rotate(82 362.7 701.7)" cx="362.7" cy="701.7" rx="4.3" ry="3"/><ellipse transform="rotate(96 232.9 663.2)" cx="232.9" cy="663.2" rx="6.7" ry="4.3"/><ellipse transform="rotate(97 246.7 664.1)" cx="246.7" cy="664.1" rx="3.7" ry="3"/><ellipse transform="rotate(104 335.5 705.4)" cx="335.5" cy="705.4" rx="5.1" ry="4.2"/><ellipse transform="rotate(134 399.4 735.8)" cx="399.4" cy="735.8" rx="5.7" ry="3.8"/><ellipse transform="rotate(1 404.3 674.1)" cx="404.3" cy="674.1" rx="7.1" ry="4.2"/><ellipse transform="rotate(27 351.1 669.6)" cx="351.1" cy="669.6" rx="5.8" ry="3.2"/><ellipse transform="rotate(106 347 665.9)" cx="347" cy="665.9" rx="5.3" ry="3"/><ellipse transform="rotate(24 241.6 668.4)" cx="241.6" cy="668.4" rx="4.8" ry="2.9"/><ellipse transform="rotate(31 400.5 641.5)" cx="400.5" cy="641.5" rx="6.9" ry="3.7"/><ellipse transform="rotate(64 339.3 761.5)" cx="339.3" cy="761.5" rx="5.6" ry="3.6"/></g><g fill="#8a78c4" opacity="0.75" ><ellipse cx="417" cy="688.9" rx="1.5" ry="1.1"/><ellipse cx="333.6" cy="661.3" rx="2.3" ry="2.3"/><ellipse cx="392.1" cy="756.4" rx="2.2" ry="2"/><ellipse cx="324.1" cy="681.8" rx="1.9" ry="1.6"/><ellipse cx="357.8" cy="774" rx="2.2" ry="1.4"/><ellipse cx="376.6" cy="748.3" rx="1.6" ry="1.3"/><ellipse cx="348.3" cy="677.8" rx="1.7" ry="1.4"/><ellipse cx="263.6" cy="685.6" rx="1.4" ry="1.1"/><ellipse cx="304.6" cy="752.6" rx="1.8" ry="1.4"/><ellipse cx="228.4" cy="741.8" rx="2.2" ry="2.3"/><ellipse cx="400" cy="739.5" rx="1.3" ry="0.9"/><ellipse cx="382.9" cy="656.1" rx="2.3" ry="2.5"/><ellipse cx="386.7" cy="741" rx="1.3" ry="0.9"/><ellipse cx="354.5" cy="697.1" rx="1.3" ry="1.1"/><ellipse cx="325.6" cy="642.2" rx="1.5" ry="1.3"/><ellipse cx="335.8" cy="754.1" rx="1.5" ry="1"/><ellipse cx="402.6" cy="761" rx="2.2" ry="1.9"/><ellipse cx="270.8" cy="729" rx="2.2" ry="2.3"/><ellipse cx="394.5" cy="729.5" rx="1.4" ry="1.5"/><ellipse cx="264.8" cy="752.8" rx="2" ry="1.4"/><ellipse cx="386.3" cy="745.1" rx="1.5" ry="1.6"/><ellipse cx="273.5" cy="733.6" rx="2.3" ry="2.3"/><ellipse cx="328.3" cy="739.6" rx="2.2" ry="2.1"/><ellipse cx="422" cy="700.4" rx="1.9" ry="2"/><ellipse cx="413.7" cy="655.9" rx="1.2" ry="1.3"/><ellipse cx="266.4" cy="632.5" rx="1.6" ry="1.1"/></g><g fill="#9c74b8" opacity="0.75" ><ellipse cx="372.5" cy="743.8" rx="2.3" ry="1.8"/><ellipse cx="334.7" cy="649.5" rx="1.3" ry="1.4"/><ellipse cx="405.8" cy="651" rx="1.7" ry="1.2"/><ellipse cx="384.7" cy="714.1" rx="1.7" ry="1.8"/><ellipse cx="267" cy="712.6" rx="2.1" ry="2"/><ellipse cx="352.1" cy="671.6" rx="2.1" ry="1.7"/><ellipse cx="424.7" cy="634.1" rx="1.9" ry="1.8"/><ellipse cx="228.5" cy="713.3" rx="1.7" ry="1.8"/><ellipse cx="385.5" cy="735.3" rx="1.8" ry="1.7"/><ellipse cx="369.3" cy="657.2" rx="2.3" ry="1.7"/><ellipse cx="318.2" cy="762.8" rx="1.7" ry="1.1"/><ellipse cx="282.3" cy="697.1" rx="2.2" ry="1.6"/><ellipse cx="254.8" cy="775.7" rx="2" ry="1.8"/><ellipse cx="388.8" cy="637.5" rx="2.3" ry="2.4"/><ellipse cx="381.6" cy="717.7" rx="2.1" ry="1.5"/><ellipse cx="339.7" cy="705.1" rx="1.3" ry="1.2"/><ellipse cx="330.3" cy="630.8" rx="2" ry="1.8"/><ellipse cx="388.3" cy="723.6" rx="1.5" ry="1.3"/><ellipse cx="306.4" cy="685.3" rx="2.3" ry="2.4"/></g><g fill="#f7f6f3" stroke="#9496d0" stroke-width="1" opacity=".9"><circle cx="255.8" cy="748.7" r="4.4"/><circle cx="238.1" cy="660.3" r="4.1"/><circle cx="410.5" cy="672.5" r="3.7"/><circle cx="348.9" cy="689.8" r="4.8"/><circle cx="374.5" cy="641.6" r="3.2"/><circle cx="323.4" cy="690.4" r="3.5"/><circle cx="284" cy="727.8" r="3.2"/><circle cx="243" cy="707" r="4.7"/><circle cx="296.1" cy="715.7" r="3"/><circle cx="245.6" cy="680.3" r="3.4"/><circle cx="327" cy="687" r="4.5"/><circle cx="235.9" cy="697.6" r="3"/><circle cx="270.9" cy="643.6" r="3"/><circle cx="305.4" cy="693.7" r="3.6"/><circle cx="242.1" cy="671.7" r="2.9"/><circle cx="386.8" cy="748.3" r="3"/><circle cx="237.4" cy="695.3" r="3.9"/><circle cx="319.9" cy="761.1" r="3.9"/><circle cx="258" cy="775.3" r="4.7"/><circle cx="387.6" cy="650.7" r="3.7"/><circle cx="316.1" cy="769.5" r="3.6"/><circle cx="342.7" cy="638.8" r="3.7"/><circle cx="419.9" cy="728.1" r="4.8"/><circle cx="266.9" cy="638.9" r="2.9"/><circle cx="348.8" cy="683.6" r="4.6"/><circle cx="265.6" cy="665.2" r="5.2"/><circle cx="333.3" cy="734.7" r="3.9"/><circle cx="273.3" cy="756.6" r="3.6"/><circle cx="318.6" cy="642.7" r="2.9"/><circle cx="378.5" cy="734.2" r="4.5"/><circle cx="261.4" cy="751.6" r="3"/><circle cx="277.9" cy="662" r="3.4"/><circle cx="420.7" cy="668.9" r="3.4"/><circle cx="295.8" cy="755.1" r="4.8"/><circle cx="357.4" cy="729.7" r="3.6"/><circle cx="420.2" cy="753.7" r="3.1"/><circle cx="256.3" cy="763.9" r="4.1"/><circle cx="310.6" cy="728.4" r="4.6"/><circle cx="283.9" cy="731.2" r="2.9"/><circle cx="370" cy="746.9" r="4.5"/><circle cx="246.7" cy="717.5" r="4.9"/><circle cx="268.6" cy="663.1" r="4.3"/><circle cx="252.7" cy="646.8" r="3.9"/><circle cx="272.6" cy="707" r="4.5"/><circle cx="232.6" cy="770.9" r="5.1"/><circle cx="404.9" cy="772.6" r="4.3"/><circle cx="405.3" cy="684.5" r="3.8"/><circle cx="324" cy="769.8" r="3.7"/><circle cx="343.2" cy="759.3" r="3.2"/><circle cx="415.7" cy="728.6" r="4.8"/><circle cx="247.3" cy="658.4" r="4.1"/><circle cx="305.5" cy="757" r="4.8"/><circle cx="369.9" cy="651.3" r="5.2"/><circle cx="399.8" cy="723.1" r="4.6"/><circle cx="329.4" cy="759.9" r="5"/><circle cx="387.7" cy="679.8" r="4.6"/><circle cx="306.2" cy="722" r="3.9"/><circle cx="326.9" cy="754.3" r="4.5"/><circle cx="408.6" cy="728.9" r="3.2"/><circle cx="354.7" cy="679.1" r="3.4"/><circle cx="291" cy="648.9" r="3.1"/><circle cx="369.1" cy="694.3" r="5"/><circle cx="305.1" cy="685.4" r="3.7"/><circle cx="416.1" cy="703.9" r="3.6"/><circle cx="273.9" cy="646.6" r="4.1"/><circle cx="426.2" cy="765.6" r="5"/><circle cx="239.8" cy="770.5" r="4.4"/><circle cx="275.8" cy="687.8" r="3.2"/><circle cx="292.3" cy="636.1" r="4"/><circle cx="306" cy="726.3" r="5.2"/><circle cx="330.7" cy="692" r="3.7"/><circle cx="357.9" cy="710.3" r="4.2"/><circle cx="425.5" cy="704" r="3.7"/><circle cx="331.1" cy="686.7" r="4.4"/><circle cx="345.3" cy="774.6" r="3"/><circle cx="354.2" cy="679.3" r="4.4"/><circle cx="362" cy="701.8" r="3"/><circle cx="282.3" cy="770.9" r="4.4"/><circle cx="329.7" cy="650.7" r="2.9"/><circle cx="357.1" cy="769.9" r="4.8"/><circle cx="249.1" cy="673.9" r="4.1"/><circle cx="419.9" cy="765" r="4.9"/><circle cx="280.8" cy="665" r="4.3"/><circle cx="321" cy="690.8" r="4"/><circle cx="377" cy="686.4" r="4.5"/><circle cx="422.1" cy="664.6" r="5.2"/><circle cx="383" cy="647.2" r="4.1"/><circle cx="358" cy="744.8" r="3.1"/><circle cx="250.3" cy="668.2" r="5"/><circle cx="301" cy="667.7" r="3.5"/><circle cx="233.9" cy="774.9" r="5"/><circle cx="359" cy="631.6" r="4.3"/><circle cx="297.6" cy="766.9" r="3.2"/><circle cx="299.5" cy="736" r="3.2"/><circle cx="421.8" cy="653.5" r="3.6"/><circle cx="404.2" cy="635.3" r="3.9"/><circle cx="293" cy="686.1" r="4.7"/><circle cx="251.3" cy="636.3" r="3.8"/><circle cx="384.3" cy="713.2" r="2.8"/><circle cx="226.8" cy="741.7" r="3.2"/><circle cx="259.1" cy="667.3" r="4.9"/><circle cx="297.8" cy="680.9" r="5"/><circle cx="262.3" cy="699.5" r="3.9"/><circle cx="261.9" cy="676.9" r="4.1"/><circle cx="284.2" cy="752.6" r="4"/><circle cx="312.2" cy="747.6" r="4.1"/><circle cx="256.4" cy="728.5" r="4.5"/><circle cx="337.3" cy="710.5" r="3.2"/><circle cx="407.5" cy="758" r="3"/><circle cx="420.8" cy="752.9" r="4.8"/></g><path d="M230.5 652.7Q228.9 651.9 225.2 653.7M241 766.5Q242.6 768.3 246.1 766.8M378.2 691.1Q378.3 693.4 379.3 695.2M277.2 755.1Q280.1 757.4 281.4 763.1M352.4 773.8Q353.2 777.7 357.9 780M349.8 774.2Q351.6 779.7 357.3 782.8M340.1 726.9Q336.6 728.4 336.6 730.6M364.1 711.4Q366.7 717.7 370.4 721.4M343.9 727.4Q347.5 731.1 349.4 731.2M407.5 691.2Q408.2 693.3 409.6 695.7M324.5 696.7Q324.8 702.6 322.3 708.3M356.2 735.9Q354.3 738.1 355 741.5M345.2 773.5Q347 777.4 350.7 782M272.6 702.4Q267.4 703.9 265.1 703M309.7 730.7Q314.3 733.9 319.9 733.9M395.9 751.4Q400.2 753 406.8 753.8M267.2 698.7Q266.9 703.8 266.1 709M331.7 689.5Q337.3 691.7 340.1 695.8M271.6 724.7Q272.4 728.2 270.6 730.5M349.7 630.3Q346.4 634.9 347.1 639.6M406.9 638.8Q407 643.1 408.2 647.4M278.8 674.7Q281.2 676.9 283.2 678.4M366 660.6Q365.6 661.6 369 665.2M329.6 747.7Q329.2 749.2 327.3 752.5M388.2 728.9Q387.5 729 384.6 732.4M229.3 638.2Q234.2 640.3 235.6 640.2M287.2 702.4Q286.3 702.5 282.6 703.3M351.3 707Q348.4 710.6 345.5 715.2M392.4 720.6Q394.2 721.8 398.1 722.3M360.6 643.8Q360.3 643.1 356.7 646.4M312.4 645.1Q317.1 647.3 319 648.8M405.1 670.7Q406.9 673.6 409.8 673.6M377.7 703.6Q378.2 708.2 380.1 711.1M282.3 734.5Q287.8 735.7 289.6 735.5M261.6 694.5Q256 699.9 253.6 701.6M250.7 754.7Q254.8 759.8 257.8 761.9M334.1 689.9Q329.5 692.3 327.2 694.7M361.1 641.7Q367.9 641.5 371.8 643.5M395.9 720.4Q397.3 724.8 396.9 729.6M431.3 632.6Q429 635.1 428 637.2M331.3 746Q326.2 751.6 322.4 753.7M229.6 740.7Q231.5 742.6 234.6 740.9M287.8 670.9Q285.1 676.1 284.6 681.6M424 696.3Q425 701.2 428 704.4M259.4 730.9Q255.7 731.8 251.5 733.6M351.9 651.8Q353.2 652.8 354.2 656.3M369.7 651.4Q366.8 652.3 366 653.7M298.1 727.3Q296.2 728.1 290.9 728M383.9 775.9Q384.4 777.7 381 779M346.4 667.9Q349.3 671.8 348.8 672.5M375.7 635.6Q375 636.8 376.1 640.9M328.2 731.1Q330.5 731.1 335.7 732.7M343.5 702.3Q342.8 707 345 709.5M282.6 686.1Q279.6 690.4 278.9 692.1M408.5 768.6Q412.4 769.6 419.6 771.1M307.6 695.1Q310.8 698.4 310.5 698.4M318.5 640Q315.1 643 312.4 649.1M364.2 667.3Q360.5 674.2 359.7 677.4M319.1 681.6Q315 683 308.8 685.8M422 741.5Q426.3 742.1 426.8 746.3M374.6 642.2Q377.1 646.5 382.3 649.4M411.4 759.1Q404.4 760.3 400.7 760.6M278.8 660.7Q282.9 662.8 289.9 662.2M323.6 701.7Q322.3 704.6 323.8 709M293 770.1Q290.7 771.1 287.9 773.8M246.1 635.1Q246.2 641.1 246.5 646.6M313 737.8Q309.8 739.9 304.8 743.1M376 680.8Q380 680.4 380.4 683.2M297.5 766.9Q296.9 771 299.2 773.2M348.2 675.5Q348.8 680.6 353.1 682.5M429.1 708.5Q425.7 711.4 423.9 712.8M287 730.5Q281.6 731.6 279.1 731.3M246.5 687.1Q251.3 691.9 254.2 696.1M325.9 674Q328.6 676.3 328.6 677.6M331.4 682Q337.2 684.1 339.8 686.6M247.5 720.4Q243 722.3 236.6 721.6M230.3 697.9Q237.3 701.5 240.8 702.4M329.7 673.6Q322.8 674.5 319.5 677.3M265 655.7Q265.3 656.6 264.8 661.2M286.4 697Q280.5 698 277.8 699.1M430.9 669Q427.9 668 424.8 670.3M431.9 666.2Q429.1 672.1 428.7 675M238.8 686.8Q244.7 689.7 248.3 694.1M296.4 769.9Q296.5 773.2 299.1 774.4M393.7 716.2Q386.2 715.6 382.5 716.6M377.8 649.7Q376.6 653 376.7 654.7M422.8 725.5Q423.6 728.4 426.8 727.9M289 673.2Q289.3 676.9 287.9 682M406.3 689Q407.4 692.4 408.5 692.8M245.2 720.1Q246.6 723.3 251.4 725M313.6 684.4Q309.7 688.5 309.3 690.4M430.3 728.8Q427.5 731 421.4 734.5M338.3 638Q338.3 643.3 338 645.3M279 758.5Q280.1 763.9 280.7 769.7M389 768Q393.2 769.1 397.3 772M297.4 770.5Q293.1 772.3 288.6 772.8M252 732.3Q250.8 736.5 251.2 738.1M288 685.3Q282.6 685.3 280.6 687M383.7 666.2Q387.9 666.5 394.5 669.8M238.2 747.5Q237.6 751.4 240.1 751.4M393.1 717.6Q392.7 718.3 391.6 722.2M338.8 762.9Q337.5 766.9 339.4 770.2M329 653.4Q325.8 655.6 322 657.7M318.5 681.9Q316.5 683.8 315.5 688.5M355.4 759.2Q353 766.3 352.5 769.8M335.3 733.5Q331.3 737 328.9 742.4M297.8 751.4Q301.6 752.7 307.8 755.7M249.9 687.8Q250.4 691.4 249 691.8M336.3 700.9Q338.6 702.5 341.3 704.1M336.7 719.7Q340 722 340 723.2M414.3 774.7Q412.3 780.5 411 784.2M305.6 749.6Q304.9 755 307.2 759.6M347.7 763.8Q350.1 765.6 350.4 768.6M328.2 702.7Q325.5 706.5 324 712.1M386.8 705.2Q384.7 706 380.3 710M244.8 735.8Q243.4 740.5 241.5 744.3M331.3 685.2Q329.3 686.1 328.8 689.1M280.2 646.4Q281.5 649.6 279 653.5M413.6 674.7Q410 678.3 410.1 678.2M250.4 657.7Q251.6 663.1 250.7 667.3M354.2 754.3Q350.2 754.9 348.3 757.5M248.6 756.8Q255.6 756.4 259.3 757.9M237.1 667.2Q236.4 667.8 237.2 671.4M258.1 630.7Q253.4 636.1 251.7 640.2M335.7 658.2Q330.8 661.8 326.2 662.6M329.9 662.9Q329.2 665.9 329.9 668.5M239.4 687.6Q245.1 688.7 250.5 689.7M416.1 672.5Q415.2 676.5 415.2 681.5M260.5 743.4Q259.1 745.7 256.2 747.6M382.8 670Q385.3 672.2 384.2 674M378.7 708.9Q380.7 712.2 379.5 712.9M424.2 697Q423.2 700.4 422.9 704.2M226.7 685.5Q225.1 686.2 220.5 688.2M329.5 755.3Q326.6 756.5 325.6 759.8M274 723.7Q276.5 725.7 275.3 730.4M363.1 723.3Q365 726.8 365.7 726.9M249.4 716.4Q253.8 721.4 258 724.1M239.7 632.9Q236.2 634.7 231.3 638.2M416.4 727.8Q413.1 732.2 411.1 734.6M350.4 723.9Q346.1 726.6 344 726.6M331.6 631.9Q338 634.2 340.5 634.7M310.1 715.7Q307.4 721.1 307.8 727.1M308.3 664.9Q307.5 668.4 305.7 674.8M377.6 642.1Q372.9 647.9 371.3 651.8M238.8 693.6Q234.5 697.7 230.9 702.6M289.2 650.2Q289.4 651.9 292.2 656.2M265.2 729.4Q267.3 734.3 269 737.3M359.5 759.4Q358.6 765.1 360.7 768.2M352.9 683.2Q348.6 685.5 347.6 685.4M283.7 696.7Q280.9 700.7 277.7 702.1" stroke="#6a76c8" stroke-width="1" fill="none" opacity="0.6"/></g>
<g filter="url(#bl)"><g fill="none" stroke="#c8ae40" stroke-width=".8"><circle cx="237.7" cy="650.5" r="1.2"/><circle cx="239.4" cy="651.8" r="0.9"/><circle cx="234.3" cy="655.9" r="1.3"/><circle cx="233.5" cy="653.4" r="1.1"/><circle cx="242.1" cy="652.1" r="1.3"/><circle cx="238.4" cy="655.3" r="1.2"/><circle cx="237" cy="649.5" r="1"/><circle cx="239.4" cy="704.5" r="1.2"/><circle cx="246.5" cy="706.4" r="0.9"/><circle cx="237.9" cy="698.9" r="1"/><circle cx="247" cy="708.7" r="1"/><circle cx="242.8" cy="708.8" r="1.2"/><circle cx="243.5" cy="675.7" r="1.2"/><circle cx="239.9" cy="675.7" r="1"/><circle cx="237" cy="677.3" r="1"/><circle cx="241.8" cy="667" r="1"/><circle cx="240.2" cy="678.5" r="1.3"/><circle cx="241.2" cy="671" r="1.2"/><circle cx="227.7" cy="676.8" r="1.2"/><circle cx="354.1" cy="691.7" r="1.1"/><circle cx="353.9" cy="695.7" r="1.3"/><circle cx="356.4" cy="696" r="1.2"/><circle cx="354" cy="691.4" r="1.3"/><circle cx="354.3" cy="698.1" r="0.9"/><circle cx="355.8" cy="693.5" r="1.1"/><circle cx="376.5" cy="725.8" r="0.9"/><circle cx="369.4" cy="722.6" r="1.1"/><circle cx="376.7" cy="724.3" r="1"/><circle cx="379.4" cy="720.9" r="1.1"/><circle cx="377.9" cy="730.1" r="1.2"/><circle cx="374.8" cy="729.4" r="1.2"/><circle cx="372.3" cy="722.6" r="1.2"/><circle cx="376.4" cy="726" r="1.2"/><circle cx="335" cy="771.7" r="1.3"/><circle cx="323.5" cy="769.6" r="0.9"/><circle cx="322.1" cy="776" r="1.1"/><circle cx="330.8" cy="766.9" r="1.1"/><circle cx="324" cy="769.7" r="1.1"/><circle cx="336.7" cy="774" r="0.9"/><circle cx="333.1" cy="771.9" r="0.9"/><circle cx="324" cy="699.1" r="1"/><circle cx="331.5" cy="697.6" r="0.9"/><circle cx="332.5" cy="696.7" r="1.3"/><circle cx="335.5" cy="691.6" r="1.2"/><circle cx="383.9" cy="728.4" r="1.1"/><circle cx="378.1" cy="735.7" r="1.1"/><circle cx="384" cy="729.3" r="0.9"/><circle cx="377.7" cy="730.4" r="0.9"/><circle cx="385.2" cy="734.5" r="0.9"/><circle cx="311.8" cy="728.4" r="1"/><circle cx="316.9" cy="723.1" r="1.1"/><circle cx="319.6" cy="726.2" r="1.1"/><circle cx="321.7" cy="725.9" r="1.1"/><circle cx="322.2" cy="728" r="0.9"/><circle cx="317.9" cy="726.1" r="1.3"/><circle cx="322.1" cy="725.9" r="1.1"/><circle cx="228.5" cy="690.5" r="1"/><circle cx="229.5" cy="686.2" r="1.2"/><circle cx="235.1" cy="696.1" r="1.2"/><circle cx="227.4" cy="692.8" r="1"/><circle cx="229.9" cy="692.5" r="1.2"/><circle cx="229.5" cy="694.1" r="1.2"/><circle cx="228.9" cy="688.3" r="1.1"/><circle cx="284.5" cy="681.4" r="1.1"/><circle cx="286" cy="680.2" r="1.3"/><circle cx="282.2" cy="674.5" r="1.2"/><circle cx="285.9" cy="675.7" r="1.1"/><circle cx="278.6" cy="670" r="1.2"/><circle cx="271.6" cy="674.3" r="1.2"/><circle cx="280.8" cy="671.8" r="1"/><circle cx="282.2" cy="673.5" r="1.2"/><circle cx="283" cy="682.4" r="1.1"/><circle cx="342.9" cy="765.5" r="1"/><circle cx="341.4" cy="762.1" r="1.1"/><circle cx="339.2" cy="760.8" r="1.3"/><circle cx="338.4" cy="756" r="1"/><circle cx="348.3" cy="765.9" r="1.3"/><circle cx="348.9" cy="761" r="0.9"/><circle cx="347.1" cy="763.6" r="1.1"/><circle cx="340.5" cy="765.6" r="1.2"/><circle cx="343.9" cy="765.5" r="1.1"/><circle cx="410.2" cy="713.5" r="1.2"/><circle cx="408" cy="720.3" r="1"/><circle cx="410.6" cy="722.4" r="1"/><circle cx="411.8" cy="721.5" r="1.1"/><circle cx="259.9" cy="741.9" r="1"/><circle cx="260.5" cy="745.3" r="0.9"/><circle cx="255.1" cy="742.2" r="1"/><circle cx="268.8" cy="752.9" r="1.1"/><circle cx="265" cy="740.5" r="1"/><circle cx="257.6" cy="747.4" r="1.3"/><circle cx="258.9" cy="747.6" r="1.1"/><circle cx="257" cy="746.1" r="1.2"/><circle cx="255.4" cy="750.9" r="0.9"/><circle cx="382.5" cy="680.1" r="1.1"/><circle cx="387.2" cy="676.9" r="1.1"/><circle cx="385.9" cy="677.6" r="1.3"/><circle cx="384.3" cy="673.3" r="0.9"/><circle cx="380.6" cy="672" r="1"/><circle cx="391.5" cy="679.1" r="1.1"/><circle cx="379.7" cy="678" r="0.9"/><circle cx="387.9" cy="675.1" r="0.9"/><circle cx="383.3" cy="675.4" r="0.9"/><circle cx="332" cy="753.6" r="0.9"/><circle cx="330.3" cy="754.6" r="1.2"/><circle cx="331.7" cy="758.1" r="1"/><circle cx="327.8" cy="758.9" r="1.2"/><circle cx="331.7" cy="755.7" r="0.9"/><circle cx="373.5" cy="762.6" r="1"/><circle cx="374.3" cy="759.6" r="1"/><circle cx="369.8" cy="773.6" r="1.2"/><circle cx="373.6" cy="765" r="1.2"/><circle cx="372.7" cy="774.4" r="1.2"/><circle cx="377.3" cy="769.4" r="1"/><circle cx="371.6" cy="772.4" r="1.1"/><circle cx="374.3" cy="771.2" r="1.1"/><circle cx="375" cy="766.8" r="1.1"/><circle cx="240.2" cy="741.9" r="0.9"/><circle cx="237.9" cy="743.1" r="0.9"/><circle cx="242.2" cy="746" r="1"/><circle cx="314.6" cy="665.3" r="1.3"/><circle cx="311.5" cy="660.7" r="1.3"/><circle cx="314.2" cy="657.7" r="1.3"/><circle cx="311.3" cy="659" r="1.1"/><circle cx="307.4" cy="662" r="1.1"/><circle cx="312.4" cy="666" r="1.3"/><circle cx="402.8" cy="661.6" r="1.1"/><circle cx="405" cy="657.1" r="1.3"/><circle cx="401.2" cy="661.9" r="1.3"/><circle cx="352.6" cy="651.6" r="1.2"/><circle cx="361.5" cy="650.4" r="1.1"/><circle cx="354.3" cy="649.5" r="1"/><circle cx="321.4" cy="665.3" r="1.2"/><circle cx="335.8" cy="660.2" r="1.1"/><circle cx="328.8" cy="657.8" r="0.9"/><circle cx="244.7" cy="765.4" r="1.3"/><circle cx="241.4" cy="765.3" r="1.3"/><circle cx="247.1" cy="766.4" r="1"/><circle cx="247.6" cy="762.2" r="1"/><circle cx="244.2" cy="770.6" r="1.1"/><circle cx="243.7" cy="769.6" r="1"/><circle cx="244.8" cy="765.9" r="1.2"/><circle cx="249.7" cy="762.1" r="1"/><circle cx="390.2" cy="701.6" r="1.1"/><circle cx="397.4" cy="707" r="0.9"/><circle cx="404.5" cy="698.9" r="1.2"/><circle cx="396" cy="703.2" r="1.1"/><circle cx="400.8" cy="702.2" r="1"/><circle cx="401.2" cy="699.1" r="1.2"/><circle cx="412.9" cy="676.8" r="1"/><circle cx="413.9" cy="673.6" r="1"/><circle cx="416.8" cy="669.2" r="1"/><circle cx="410.7" cy="675.1" r="1"/><circle cx="409.9" cy="680.3" r="1.2"/><circle cx="235.5" cy="643.6" r="1"/><circle cx="234" cy="650.8" r="1.1"/><circle cx="232.9" cy="639.7" r="1.3"/><circle cx="226.2" cy="645" r="1.2"/><circle cx="239" cy="649.3" r="1"/><circle cx="229.6" cy="645.4" r="1.1"/><circle cx="376.5" cy="745.3" r="1.1"/><circle cx="377" cy="743.1" r="1.2"/><circle cx="368.8" cy="749.4" r="1"/><circle cx="377.4" cy="746.5" r="1"/><circle cx="375.8" cy="744.6" r="1.1"/><circle cx="372.8" cy="757.7" r="1.1"/><circle cx="377.4" cy="761.4" r="1.2"/><circle cx="377.9" cy="757.5" r="1.1"/><circle cx="374.1" cy="758.7" r="1.3"/><circle cx="379.3" cy="757" r="1.1"/><circle cx="313.9" cy="671.5" r="1.1"/><circle cx="303.5" cy="676.8" r="1.1"/><circle cx="304.4" cy="677.2" r="1"/><circle cx="302.4" cy="686" r="1"/><circle cx="303.9" cy="674.8" r="1.2"/><circle cx="308" cy="677.8" r="1.1"/><circle cx="380.2" cy="726.3" r="1.2"/><circle cx="375.3" cy="727.7" r="1.3"/><circle cx="377.5" cy="731.1" r="1"/><circle cx="377.8" cy="735.7" r="1.1"/><circle cx="377.7" cy="726.2" r="1.1"/></g></g>
</g>
<rect x="225.2" y="629.2" width="207.8" height="147.8" fill="none" stroke="#d42e28" stroke-width="3"/>
<line x1="323.5" y1="657" x2="332.4" y2="652.3" stroke="#111" stroke-width="1.3"/>
<polygon points="339.8,648.3 330.3,648.3 333.4,651.8 334.5,656.3" fill="#111"/>
<line x1="323.5" y1="672.6" x2="332.4" y2="668.2" stroke="#111" stroke-width="1.3"/>
<polygon points="339.4,664.2 330.3,664.2 333.4,667.7 334.5,672.2" fill="#111"/>
<line x1="310.2" y1="695.7" x2="319.1" y2="691.1" stroke="#111" stroke-width="1.3"/>
<polygon points="326.5,687.3 316.7,687.3 320.1,690.6 321.6,694.9" fill="#111"/>
<g clip-path="url(#cg)">
<rect x="442.7" y="631.5" width="204.7" height="143.5" fill="#dfe2c9"/>
<g filter="url(#bl1)"><g fill="#9a62b8" opacity="0.8" ><ellipse cx="529.8" cy="743.3" rx="4.4" ry="4.4"/><ellipse cx="638.3" cy="753.1" rx="3.3" ry="2.3"/><ellipse cx="478.2" cy="635.4" rx="3.7" ry="3"/><ellipse cx="527.1" cy="744.7" rx="2.9" ry="2.2"/><ellipse cx="585.3" cy="747.8" rx="2.9" ry="2"/><ellipse cx="567.9" cy="755.5" rx="2.6" ry="2.5"/><ellipse cx="548.3" cy="761.4" rx="3.9" ry="3.8"/><ellipse cx="548.9" cy="764" rx="4.4" ry="4.2"/><ellipse cx="476.1" cy="732.8" rx="2.5" ry="2.2"/><ellipse cx="509" cy="745.3" rx="2.8" ry="1.8"/><ellipse cx="609.8" cy="751" rx="4.4" ry="3.7"/><ellipse cx="482.2" cy="724.9" rx="3.8" ry="3.5"/><ellipse cx="477.9" cy="634.7" rx="4.1" ry="3.6"/><ellipse cx="480.9" cy="645.8" rx="3.5" ry="2.6"/><ellipse cx="570.8" cy="764.1" rx="3.8" ry="3.6"/><ellipse cx="615.7" cy="763.7" rx="4" ry="3"/><ellipse cx="510.7" cy="742.8" rx="3.3" ry="2.6"/><ellipse cx="583.7" cy="759.7" rx="4.6" ry="4.8"/><ellipse cx="594.3" cy="770.3" rx="2.7" ry="2.9"/><ellipse cx="633.9" cy="769.9" rx="2.9" ry="3"/><ellipse cx="473" cy="701.4" rx="4.9" ry="4.7"/><ellipse cx="474.4" cy="721.7" rx="3.9" ry="3.3"/><ellipse cx="595.9" cy="759.9" rx="2.7" ry="2.6"/><ellipse cx="474.2" cy="706.9" rx="2.7" ry="2.6"/><ellipse cx="621.9" cy="765.4" rx="2.7" ry="2.7"/><ellipse cx="493.6" cy="723.5" rx="2.8" ry="1.9"/><ellipse cx="555" cy="745.9" rx="4" ry="4.1"/><ellipse cx="628.7" cy="773.7" rx="4.7" ry="3.1"/><ellipse cx="538.8" cy="748.4" rx="2.9" ry="2.6"/><ellipse cx="489.7" cy="734.6" rx="4.5" ry="4.3"/><ellipse cx="578.7" cy="758.1" rx="4.9" ry="3.9"/><ellipse cx="551.9" cy="758.3" rx="3.3" ry="3.3"/></g><g fill="#8a5ab0" opacity="0.8" ><ellipse cx="540.5" cy="738.7" rx="3.7" ry="3.5"/><ellipse cx="625.4" cy="771.1" rx="4.8" ry="3.5"/><ellipse cx="478.3" cy="728.4" rx="2.9" ry="2.1"/><ellipse cx="529.2" cy="749" rx="2.9" ry="2.8"/><ellipse cx="486.2" cy="704.9" rx="2.6" ry="2.2"/><ellipse cx="613.7" cy="766.4" rx="4.4" ry="4.6"/><ellipse cx="637.5" cy="756.3" rx="2.7" ry="2.3"/><ellipse cx="598.5" cy="763.4" rx="2.6" ry="2"/><ellipse cx="490.3" cy="635.8" rx="3.7" ry="3.7"/><ellipse cx="496.1" cy="734.3" rx="3" ry="2.5"/><ellipse cx="482.7" cy="655.1" rx="3" ry="3.3"/><ellipse cx="510.3" cy="737.3" rx="3.2" ry="2.1"/><ellipse cx="636.7" cy="762.5" rx="3.6" ry="3.1"/><ellipse cx="475.4" cy="637.1" rx="3.3" ry="3.5"/><ellipse cx="476" cy="639.2" rx="2.7" ry="2.9"/><ellipse cx="483.7" cy="725.5" rx="3.6" ry="3.8"/><ellipse cx="585" cy="753.1" rx="4.9" ry="5.4"/><ellipse cx="587.2" cy="763.6" rx="3.3" ry="3"/><ellipse cx="471.6" cy="690.8" rx="4.9" ry="4.4"/><ellipse cx="639.7" cy="753" rx="4.6" ry="3.1"/><ellipse cx="547.2" cy="740.9" rx="4.3" ry="4.8"/><ellipse cx="504.3" cy="733.7" rx="3" ry="3.3"/><ellipse cx="587.6" cy="758.3" rx="4.1" ry="4.5"/><ellipse cx="531.8" cy="754.7" rx="4" ry="2.9"/><ellipse cx="648" cy="771" rx="4.7" ry="3.3"/><ellipse cx="565.4" cy="752.7" rx="4.7" ry="3.9"/><ellipse cx="551.6" cy="750.2" rx="3.6" ry="3.4"/><ellipse cx="474.4" cy="656.8" rx="4.3" ry="4.2"/><ellipse cx="541.8" cy="760.6" rx="4.7" ry="3.3"/></g><g fill="#d86c92" opacity="0.8" ><ellipse cx="585.1" cy="754.6" rx="4.3" ry="3.4"/><ellipse cx="544.2" cy="759.8" rx="3.5" ry="2.3"/><ellipse cx="504.3" cy="734.2" rx="3.6" ry="3.9"/><ellipse cx="472.9" cy="691" rx="3" ry="2.8"/><ellipse cx="476.5" cy="634.1" rx="4.3" ry="4.7"/><ellipse cx="630.4" cy="753.9" rx="5" ry="5.3"/><ellipse cx="471.2" cy="696.1" rx="2.7" ry="2.9"/><ellipse cx="505.4" cy="730.9" rx="4.8" ry="4.7"/><ellipse cx="530.7" cy="744.2" rx="4.7" ry="4.3"/><ellipse cx="623.5" cy="769.5" rx="2.7" ry="2.2"/><ellipse cx="558.2" cy="746.8" rx="3.4" ry="3.3"/><ellipse cx="486.2" cy="739.7" rx="3.2" ry="2.5"/><ellipse cx="518" cy="743.2" rx="4" ry="2.9"/><ellipse cx="593.2" cy="752.4" rx="3.4" ry="3"/><ellipse cx="572.4" cy="750.8" rx="3.4" ry="3.5"/><ellipse cx="474.2" cy="665.1" rx="2.9" ry="3"/><ellipse cx="529.7" cy="757.4" rx="4.2" ry="4.1"/><ellipse cx="474.2" cy="641.4" rx="4.7" ry="4.1"/><ellipse cx="541.6" cy="754.3" rx="2.9" ry="2.8"/><ellipse cx="597" cy="747.4" rx="3.8" ry="3.2"/><ellipse cx="481.5" cy="657.8" rx="2.6" ry="2.1"/><ellipse cx="610.7" cy="753.4" rx="4.5" ry="3.3"/><ellipse cx="612" cy="762.2" rx="3.8" ry="3.8"/><ellipse cx="608.8" cy="771.6" rx="3.4" ry="3.1"/><ellipse cx="537" cy="748.7" rx="3.4" ry="2.4"/><ellipse cx="556.9" cy="745.5" rx="2.7" ry="2.3"/></g><g fill="#e07c9a" opacity="0.8" ><ellipse cx="495.3" cy="746.5" rx="3.3" ry="2.5"/><ellipse cx="480.8" cy="673.9" rx="3.6" ry="2.8"/><ellipse cx="476.7" cy="666.8" rx="4.3" ry="3.7"/><ellipse cx="480.7" cy="670.6" rx="4.8" ry="5.1"/><ellipse cx="474.2" cy="696.3" rx="3.1" ry="2.1"/><ellipse cx="632.3" cy="760.6" rx="4.2" ry="3.1"/><ellipse cx="476.3" cy="726.7" rx="4.9" ry="4.4"/><ellipse cx="538.8" cy="739" rx="2.9" ry="2.2"/><ellipse cx="597.6" cy="770.8" rx="3.2" ry="2.4"/><ellipse cx="577.6" cy="746.7" rx="3.8" ry="3.8"/><ellipse cx="478.8" cy="724.2" rx="3.6" ry="3.2"/><ellipse cx="627.5" cy="757.9" rx="3.2" ry="3.5"/><ellipse cx="477.4" cy="662.8" rx="4.8" ry="3.6"/><ellipse cx="475.4" cy="664.5" rx="3.2" ry="3.4"/><ellipse cx="621.7" cy="769.6" rx="3.1" ry="2.1"/><ellipse cx="568.8" cy="756.9" rx="3.2" ry="2.4"/><ellipse cx="491.8" cy="728.1" rx="3.6" ry="2.5"/><ellipse cx="590.5" cy="765.2" rx="3" ry="2.3"/><ellipse cx="467" cy="706.9" rx="2.6" ry="2.1"/><ellipse cx="511" cy="737.9" rx="2.6" ry="2.6"/><ellipse cx="616.1" cy="755.2" rx="4.3" ry="3.9"/><ellipse cx="485.2" cy="719.4" rx="2.8" ry="2.7"/><ellipse cx="482.8" cy="688.8" rx="4.4" ry="3.9"/><ellipse cx="521.7" cy="741.9" rx="4" ry="3.2"/><ellipse cx="543.1" cy="753.1" rx="4.1" ry="3.8"/><ellipse cx="546.2" cy="747.6" rx="4.8" ry="4.6"/><ellipse cx="539.3" cy="754.8" rx="4.7" ry="4.1"/><ellipse cx="570.4" cy="767.4" rx="3.9" ry="3.4"/><ellipse cx="638.4" cy="763.4" rx="3.2" ry="2.6"/><ellipse cx="476.5" cy="663.4" rx="3.6" ry="3.8"/><ellipse cx="467.6" cy="705" rx="3.6" ry="3.5"/><ellipse cx="474.2" cy="643.1" rx="3.3" ry="2.7"/><ellipse cx="479.1" cy="635.1" rx="3.9" ry="3.2"/><ellipse cx="488.9" cy="634" rx="3.9" ry="3.2"/><ellipse cx="586.7" cy="747.8" rx="3.9" ry="3.5"/><ellipse cx="477.3" cy="705.1" rx="4.7" ry="3.6"/><ellipse cx="482.8" cy="738.2" rx="2.7" ry="2.4"/><ellipse cx="604.6" cy="771.7" rx="4.9" ry="4.9"/><ellipse cx="505.9" cy="755.2" rx="4.3" ry="4.6"/></g><g fill="#b06ab2" opacity="0.8" ><ellipse cx="533.4" cy="739.3" rx="4.9" ry="3.9"/><ellipse cx="613.9" cy="760.2" rx="2.9" ry="2.3"/><ellipse cx="630.3" cy="770.4" rx="4.5" ry="3.5"/><ellipse cx="608.7" cy="758.3" rx="2.8" ry="2.1"/><ellipse cx="550.8" cy="762.5" rx="4.3" ry="3"/><ellipse cx="479.5" cy="637.9" rx="3.6" ry="3.1"/><ellipse cx="487.1" cy="730.6" rx="3.3" ry="2.8"/><ellipse cx="487.6" cy="704.5" rx="4.7" ry="4.1"/><ellipse cx="579.6" cy="760.6" rx="3.7" ry="2.8"/><ellipse cx="513.7" cy="730.5" rx="3.6" ry="2.7"/><ellipse cx="613.4" cy="752.6" rx="3.3" ry="2.2"/><ellipse cx="634.4" cy="768.7" rx="3.7" ry="2.7"/><ellipse cx="491.3" cy="746.3" rx="3.6" ry="3.3"/><ellipse cx="485.8" cy="709.3" rx="2.9" ry="3.1"/><ellipse cx="595.7" cy="756.2" rx="3.5" ry="2.9"/><ellipse cx="494.1" cy="728.7" rx="2.7" ry="2.7"/><ellipse cx="512.4" cy="751.9" rx="3.8" ry="2.6"/><ellipse cx="609.9" cy="749.9" rx="3.2" ry="2.9"/><ellipse cx="491.4" cy="723.5" rx="3.6" ry="3.2"/><ellipse cx="612.3" cy="754.1" rx="4.6" ry="3.8"/><ellipse cx="561.7" cy="760.9" rx="4.2" ry="3.4"/><ellipse cx="526.3" cy="753.6" rx="3.3" ry="2.9"/><ellipse cx="489.8" cy="742.7" rx="4.7" ry="4.1"/><ellipse cx="467.8" cy="703.9" rx="4.7" ry="4.6"/><ellipse cx="505.2" cy="722.7" rx="4.4" ry="3.8"/></g><g fill="#6c64c0" opacity="0.8" ><ellipse cx="488.3" cy="720.2" rx="2.6" ry="2.6"/><ellipse cx="598" cy="768.5" rx="3.1" ry="2.6"/><ellipse cx="602.9" cy="758.5" rx="3.6" ry="3.1"/><ellipse cx="471.9" cy="660.5" rx="2.6" ry="2.3"/><ellipse cx="604" cy="771.6" rx="4.3" ry="3.1"/><ellipse cx="536.5" cy="758.7" rx="5" ry="4"/><ellipse cx="523" cy="737.5" rx="4.7" ry="4.4"/><ellipse cx="610.3" cy="769.4" rx="2.6" ry="1.9"/><ellipse cx="494.1" cy="723.2" rx="4.7" ry="3.1"/><ellipse cx="471.1" cy="667.3" rx="3.1" ry="2.4"/><ellipse cx="607.6" cy="755" rx="3.2" ry="2.2"/><ellipse cx="615" cy="759.4" rx="3.4" ry="3.5"/><ellipse cx="496.5" cy="746.4" rx="3.3" ry="2.7"/><ellipse cx="547.6" cy="753.3" rx="3.2" ry="2.8"/><ellipse cx="526.6" cy="734.5" rx="3.9" ry="3.9"/><ellipse cx="559.3" cy="756.5" rx="4.6" ry="4.5"/><ellipse cx="466.3" cy="697.1" rx="3.8" ry="4"/><ellipse cx="475.3" cy="705.4" rx="3.4" ry="2.4"/><ellipse cx="567.3" cy="757.5" rx="3" ry="2.1"/><ellipse cx="474.1" cy="721.1" rx="3.4" ry="2.6"/><ellipse cx="542.4" cy="753.9" rx="4.3" ry="3.9"/><ellipse cx="541.2" cy="764.8" rx="3.5" ry="2.6"/><ellipse cx="476.9" cy="647" rx="4.7" ry="4"/><ellipse cx="607.5" cy="761.4" rx="3.3" ry="3.4"/><ellipse cx="473.9" cy="637" rx="4.3" ry="3"/><ellipse cx="644.9" cy="767.3" rx="2.8" ry="2"/><ellipse cx="476.1" cy="656.8" rx="4.3" ry="3.3"/><ellipse cx="484.1" cy="735.5" rx="4.1" ry="3.7"/><ellipse cx="560.5" cy="752.2" rx="4.6" ry="4.6"/><ellipse cx="539.6" cy="763.2" rx="4.1" ry="2.9"/><ellipse cx="477.9" cy="722.8" rx="4.6" ry="3.8"/><ellipse cx="476.5" cy="721.9" rx="3.2" ry="3.4"/><ellipse cx="609.3" cy="754.3" rx="2.6" ry="2"/></g><g fill="#e48aa0" opacity="0.8" ><ellipse cx="547.7" cy="754.4" rx="4.2" ry="4.3"/><ellipse cx="498.3" cy="738" rx="2.9" ry="2.3"/><ellipse cx="556.7" cy="742.7" rx="3" ry="3.1"/><ellipse cx="503.5" cy="726.5" rx="2.6" ry="2"/><ellipse cx="567.2" cy="763.1" rx="3.3" ry="2.4"/><ellipse cx="622.6" cy="764.7" rx="3.3" ry="2.5"/><ellipse cx="476" cy="640.6" rx="3.5" ry="3.7"/><ellipse cx="515.1" cy="736.5" rx="5" ry="3.9"/><ellipse cx="536.6" cy="753.3" rx="3.6" ry="3.7"/><ellipse cx="635.9" cy="771.3" rx="3.3" ry="3.3"/><ellipse cx="566.7" cy="767.5" rx="4.4" ry="3.4"/><ellipse cx="472.4" cy="719.1" rx="4" ry="4"/><ellipse cx="573.3" cy="752.3" rx="3.4" ry="2.3"/><ellipse cx="576.6" cy="746.4" rx="5" ry="3.5"/><ellipse cx="472.9" cy="711.2" rx="4.3" ry="4.7"/><ellipse cx="528.8" cy="755.9" rx="4.6" ry="4.1"/><ellipse cx="627.5" cy="760.3" rx="3.1" ry="2.5"/><ellipse cx="580.9" cy="769.4" rx="3.4" ry="3.3"/><ellipse cx="498" cy="719.8" rx="2.9" ry="2.7"/><ellipse cx="483.5" cy="639.4" rx="3" ry="2.9"/><ellipse cx="605.8" cy="762.9" rx="4" ry="3.1"/><ellipse cx="577.3" cy="760.7" rx="3.3" ry="2.4"/><ellipse cx="549.4" cy="761.3" rx="4.9" ry="3.3"/><ellipse cx="549.9" cy="758.7" rx="2.7" ry="1.8"/><ellipse cx="466.4" cy="691.4" rx="2.6" ry="2.2"/><ellipse cx="555.2" cy="748.7" rx="3.7" ry="3.7"/><ellipse cx="591" cy="752" rx="2.7" ry="2.4"/><ellipse cx="598.2" cy="767.2" rx="3.1" ry="2.1"/><ellipse cx="480.8" cy="672.4" rx="3" ry="2.6"/><ellipse cx="486.8" cy="732.9" rx="2.8" ry="2.1"/><ellipse cx="479.4" cy="646.2" rx="2.9" ry="2.9"/><ellipse cx="521.9" cy="743.4" rx="4.1" ry="2.8"/><ellipse cx="479.2" cy="711" rx="4.5" ry="4.1"/><ellipse cx="529.6" cy="759.2" rx="3.3" ry="2.3"/><ellipse cx="470.8" cy="656.3" rx="4" ry="2.8"/><ellipse cx="628.1" cy="761.5" rx="3.8" ry="3.1"/><ellipse cx="569.1" cy="764.4" rx="4.6" ry="3.6"/><ellipse cx="499" cy="733.5" rx="4.3" ry="3.7"/><ellipse cx="566" cy="763.3" rx="3.7" ry="2.6"/><ellipse cx="529.5" cy="752.7" rx="4.3" ry="3.5"/><ellipse cx="493.7" cy="726.2" rx="2.6" ry="2.5"/><ellipse cx="564" cy="749" rx="4.9" ry="5.2"/><ellipse cx="480" cy="632.1" rx="4.5" ry="4.8"/><ellipse cx="642.6" cy="774.8" rx="4.3" ry="3.1"/><ellipse cx="480.1" cy="661.4" rx="4.9" ry="4.6"/><ellipse cx="547.8" cy="761.4" rx="3.8" ry="2.9"/></g><g fill="#b070c0" opacity="0.75" ><ellipse cx="491.9" cy="637" rx="3.8" ry="4.1"/><ellipse cx="519.6" cy="641.5" rx="3.1" ry="2.4"/><ellipse cx="507.7" cy="644.8" rx="3.6" ry="3.2"/><ellipse cx="494.2" cy="643.6" rx="3.9" ry="3.6"/><ellipse cx="491.4" cy="644.8" rx="4.3" ry="2.9"/><ellipse cx="509.3" cy="643.6" rx="4.4" ry="3.9"/><ellipse cx="506.4" cy="642.8" rx="3.2" ry="2.9"/><ellipse cx="494.4" cy="638.2" rx="3.2" ry="2.3"/><ellipse cx="520" cy="634.4" rx="4.3" ry="3.9"/></g><g fill="#e08aa0" opacity="0.75" ><ellipse cx="505.3" cy="644.4" rx="2.6" ry="2.2"/><ellipse cx="515" cy="637.1" rx="3.4" ry="2.3"/><ellipse cx="496.6" cy="640.7" rx="3.2" ry="2.8"/><ellipse cx="493.2" cy="633.4" rx="4.4" ry="4.4"/><ellipse cx="519.5" cy="640.8" rx="2.9" ry="2.6"/><ellipse cx="498.9" cy="638.9" rx="2.7" ry="2.2"/><ellipse cx="517" cy="633.7" rx="3" ry="2.5"/><ellipse cx="503" cy="633.4" rx="3.5" ry="2.5"/><ellipse cx="518.4" cy="635.7" rx="4" ry="4.2"/><ellipse cx="502.9" cy="641.1" rx="4.2" ry="3.7"/><ellipse cx="493.1" cy="638.9" rx="3" ry="3.2"/></g><g fill="#9a60b8" opacity="0.75" ><ellipse cx="504.1" cy="632.4" rx="3.8" ry="2.7"/><ellipse cx="521.4" cy="638.8" rx="3.2" ry="2.4"/><ellipse cx="509.7" cy="647.6" rx="4" ry="2.9"/><ellipse cx="514" cy="642.9" rx="2.6" ry="2.2"/><ellipse cx="512.7" cy="634.3" rx="3" ry="3.1"/><ellipse cx="518.8" cy="644.7" rx="3.8" ry="3.9"/><ellipse cx="500.5" cy="635.5" rx="3.3" ry="2.3"/><ellipse cx="509.4" cy="634.2" rx="4" ry="3"/><ellipse cx="497.6" cy="634.2" rx="3.2" ry="2.4"/><ellipse cx="503" cy="642.2" rx="3.3" ry="3.4"/></g><g fill="#e87a92" opacity="0.75" ><ellipse cx="610.6" cy="717" rx="4.2" ry="4.2"/><ellipse cx="595.2" cy="716" rx="4" ry="3.7"/><ellipse cx="576.9" cy="688.8" rx="3.6" ry="3.7"/><ellipse cx="621.7" cy="632.6" rx="3.7" ry="3.2"/><ellipse cx="580.7" cy="680.8" rx="3.3" ry="3"/><ellipse cx="552.7" cy="713.9" rx="3.3" ry="2.7"/><ellipse cx="645.9" cy="644.9" rx="3.5" ry="2.6"/><ellipse cx="600" cy="697.9" rx="4.3" ry="4.2"/><ellipse cx="598.9" cy="664.4" rx="4.8" ry="3.5"/><ellipse cx="636.8" cy="700.7" rx="4.8" ry="4.1"/><ellipse cx="563.8" cy="711.6" rx="3.6" ry="3.6"/><ellipse cx="540" cy="675.2" rx="5.3" ry="4"/><ellipse cx="625.4" cy="675.8" rx="3.8" ry="2.6"/><ellipse cx="582.9" cy="661.6" rx="3.2" ry="2.3"/><ellipse cx="540.2" cy="663.5" rx="5.4" ry="4.8"/><ellipse cx="524.4" cy="677.4" rx="3" ry="2.1"/><ellipse cx="577.4" cy="660.2" rx="3.8" ry="3.7"/><ellipse cx="538" cy="675.7" rx="5.1" ry="5.6"/><ellipse cx="591.1" cy="671.8" rx="4.6" ry="4.8"/><ellipse cx="625.4" cy="709.7" rx="4" ry="3.8"/><ellipse cx="600.7" cy="664.5" rx="3.7" ry="2.7"/><ellipse cx="532.2" cy="685.2" rx="3.7" ry="3.9"/><ellipse cx="585.7" cy="674.2" rx="5.4" ry="5.1"/><ellipse cx="612.3" cy="642.2" rx="3.1" ry="2.2"/><ellipse cx="586.7" cy="732.2" rx="5.4" ry="5.1"/><ellipse cx="633.7" cy="677.3" rx="3.2" ry="2.6"/><ellipse cx="618.7" cy="669.8" rx="6.3" ry="4.4"/><ellipse cx="551.4" cy="718" rx="3.1" ry="2.6"/><ellipse cx="599.2" cy="719.6" rx="6.2" ry="4.6"/><ellipse cx="631.9" cy="689.4" rx="4.2" ry="3.2"/></g><g fill="#f08a9a" opacity="0.75" ><ellipse cx="605.6" cy="651.6" rx="3.8" ry="2.5"/><ellipse cx="614.4" cy="716.5" rx="3.9" ry="3.4"/><ellipse cx="559.5" cy="697.5" rx="4.6" ry="3"/><ellipse cx="589.4" cy="658.2" rx="4.6" ry="4.7"/><ellipse cx="631.3" cy="650.6" rx="4.8" ry="3.6"/><ellipse cx="545.3" cy="665.6" rx="3.9" ry="3.3"/><ellipse cx="586.6" cy="703.5" rx="3.5" ry="2.6"/><ellipse cx="551.9" cy="706" rx="5.2" ry="4.9"/><ellipse cx="589.5" cy="640.1" rx="3.9" ry="3.3"/><ellipse cx="629.2" cy="713.6" rx="4.6" ry="3.5"/><ellipse cx="635.7" cy="687.6" rx="3.4" ry="2.8"/><ellipse cx="642.6" cy="727.4" rx="3.7" ry="2.7"/><ellipse cx="629.3" cy="673.3" rx="4.1" ry="2.8"/><ellipse cx="631.2" cy="664.5" rx="3.4" ry="3.4"/><ellipse cx="541.6" cy="653.3" rx="3" ry="2.4"/><ellipse cx="555.4" cy="703.8" rx="5.7" ry="5.9"/><ellipse cx="584.4" cy="720" rx="5.5" ry="5.6"/><ellipse cx="644.6" cy="634.5" rx="5.1" ry="4.2"/><ellipse cx="633.2" cy="725.8" rx="5.3" ry="5.5"/><ellipse cx="577.4" cy="685.9" rx="5" ry="4.6"/><ellipse cx="532" cy="662" rx="4.6" ry="3.6"/><ellipse cx="533.2" cy="702.8" rx="4.9" ry="4.2"/><ellipse cx="543.5" cy="670.1" rx="3.3" ry="3.2"/><ellipse cx="613.9" cy="666.4" rx="5.3" ry="5.3"/><ellipse cx="610.7" cy="688.4" rx="5.9" ry="5.8"/><ellipse cx="616.8" cy="711" rx="4.5" ry="3.2"/><ellipse cx="519.1" cy="688.4" rx="4.2" ry="3.9"/><ellipse cx="583.9" cy="710.1" rx="5.8" ry="4.9"/><ellipse cx="583.9" cy="664.5" rx="3.3" ry="3.3"/><ellipse cx="540.9" cy="682.5" rx="6" ry="4.7"/><ellipse cx="640.8" cy="647.6" rx="5.1" ry="4.3"/></g><g fill="#e46c8a" opacity="0.75" ><ellipse cx="595.2" cy="719.1" rx="5.3" ry="3.9"/><ellipse cx="549.5" cy="700.7" rx="5.8" ry="4"/><ellipse cx="630.7" cy="694.5" rx="3.8" ry="4"/><ellipse cx="646.1" cy="723" rx="3.6" ry="3"/><ellipse cx="602.9" cy="688.3" rx="6.2" ry="6.6"/><ellipse cx="587.2" cy="651.3" rx="3.7" ry="3.2"/><ellipse cx="571.5" cy="660.2" rx="3.4" ry="2.7"/><ellipse cx="526.4" cy="657.9" rx="4.1" ry="4.3"/><ellipse cx="620.9" cy="647.7" rx="4.7" ry="5.1"/><ellipse cx="628.8" cy="648.1" rx="5" ry="4.4"/><ellipse cx="584.6" cy="671.2" rx="5.4" ry="5.5"/><ellipse cx="524.7" cy="655" rx="6" ry="6.5"/><ellipse cx="550.7" cy="643.7" rx="3.8" ry="3.7"/><ellipse cx="644.7" cy="651.7" rx="6.5" ry="6.5"/><ellipse cx="552" cy="651.7" rx="5.3" ry="5.5"/><ellipse cx="546.1" cy="699.4" rx="4.1" ry="3.1"/><ellipse cx="587.4" cy="713.2" rx="6.2" ry="4.9"/><ellipse cx="580.3" cy="666.5" rx="5.4" ry="3.8"/><ellipse cx="647.6" cy="666" rx="6.5" ry="5.3"/><ellipse cx="632.9" cy="659.6" rx="5.7" ry="6.1"/><ellipse cx="610.8" cy="700.7" rx="6.4" ry="6.8"/><ellipse cx="537.4" cy="637.1" rx="6.4" ry="5.6"/></g><g fill="#f0a2aa" opacity="0.75" ><ellipse cx="596.9" cy="677.9" rx="6.4" ry="4.7"/><ellipse cx="612.7" cy="636.6" rx="3.8" ry="3.3"/><ellipse cx="639.2" cy="677.7" rx="4.9" ry="4"/><ellipse cx="622.8" cy="688.2" rx="4.4" ry="3.9"/><ellipse cx="604.9" cy="686.8" rx="6.1" ry="6.5"/><ellipse cx="606.8" cy="684.9" rx="5.9" ry="5.2"/><ellipse cx="642.5" cy="668.5" rx="6.2" ry="6.6"/><ellipse cx="618.7" cy="706.7" rx="3.5" ry="3.1"/><ellipse cx="553.3" cy="693.5" rx="6.2" ry="5.2"/><ellipse cx="635.1" cy="638.4" rx="4.1" ry="3.8"/><ellipse cx="640.8" cy="644.1" rx="5.7" ry="6.2"/><ellipse cx="582.5" cy="684" rx="5.4" ry="4.9"/><ellipse cx="634.9" cy="710.4" rx="6.2" ry="4.4"/><ellipse cx="603.4" cy="705.6" rx="4.2" ry="4.5"/><ellipse cx="647.9" cy="713.7" rx="3.3" ry="3.3"/><ellipse cx="543.4" cy="667.3" rx="3.1" ry="2.5"/><ellipse cx="566.8" cy="717.7" rx="3.8" ry="3.2"/><ellipse cx="535.3" cy="631.6" rx="5.9" ry="5"/><ellipse cx="635.5" cy="722.1" rx="5" ry="4.2"/><ellipse cx="617.8" cy="646.8" rx="5.6" ry="5.9"/><ellipse cx="524" cy="688.9" rx="3.6" ry="3.4"/><ellipse cx="636.3" cy="672.1" rx="3.6" ry="3.6"/><ellipse cx="556.3" cy="682.2" rx="4.3" ry="3.6"/><ellipse cx="607.9" cy="679.3" rx="3" ry="3"/><ellipse cx="590.6" cy="632.2" rx="5.8" ry="6"/><ellipse cx="632.1" cy="667.3" rx="3.8" ry="3.2"/><ellipse cx="592.9" cy="646.4" rx="3.7" ry="4"/><ellipse cx="569.8" cy="633" rx="6.4" ry="4.2"/><ellipse cx="591.6" cy="660.1" rx="4" ry="3.4"/><ellipse cx="642.6" cy="681.9" rx="5.2" ry="4.6"/><ellipse cx="606.3" cy="705.2" rx="4.7" ry="4.4"/><ellipse cx="612.6" cy="670.5" rx="3.6" ry="3.5"/><ellipse cx="570.5" cy="667.5" rx="4.4" ry="4.7"/><ellipse cx="518.9" cy="675" rx="6" ry="5"/><ellipse cx="637.2" cy="649.5" rx="4.5" ry="3.5"/></g><g fill="#c87ab0" opacity="0.75" ><ellipse cx="640.1" cy="695.6" rx="5" ry="4"/><ellipse cx="537.3" cy="642.2" rx="4.3" ry="4.5"/><ellipse cx="572.2" cy="701.9" rx="6" ry="5.2"/><ellipse cx="590.4" cy="683.5" rx="4.7" ry="5"/><ellipse cx="566.5" cy="685.4" rx="3" ry="2.6"/><ellipse cx="524.8" cy="695.1" rx="6.3" ry="4.2"/><ellipse cx="578.4" cy="664.3" rx="3.7" ry="2.8"/><ellipse cx="626.9" cy="665.2" rx="5" ry="4.3"/><ellipse cx="578.2" cy="645.9" rx="3.6" ry="3.3"/><ellipse cx="584.4" cy="684.2" rx="4.7" ry="5"/><ellipse cx="536" cy="677.7" rx="3.5" ry="2.9"/><ellipse cx="637.4" cy="714.3" rx="4.3" ry="2.9"/><ellipse cx="645.8" cy="669" rx="3.8" ry="3"/><ellipse cx="602.8" cy="633" rx="6.1" ry="5.5"/><ellipse cx="574" cy="665.5" rx="6.2" ry="6.6"/><ellipse cx="551.5" cy="660.6" rx="5.6" ry="3.7"/><ellipse cx="595.4" cy="636.8" rx="4.9" ry="3.6"/><ellipse cx="628.2" cy="731.5" rx="4.2" ry="4.4"/><ellipse cx="572.4" cy="660.5" rx="5.8" ry="4.8"/><ellipse cx="599.6" cy="691.7" rx="4.8" ry="5.3"/><ellipse cx="641.9" cy="653.8" rx="4.7" ry="4.7"/><ellipse cx="560.9" cy="700.5" rx="3.1" ry="2.1"/><ellipse cx="609.2" cy="681.3" rx="5" ry="3.6"/><ellipse cx="527.6" cy="655.6" rx="6.1" ry="4.9"/><ellipse cx="552.9" cy="699.1" rx="5.2" ry="4.4"/><ellipse cx="636.3" cy="639.2" rx="5.2" ry="3.5"/><ellipse cx="609.9" cy="734.8" rx="4.5" ry="4.1"/></g><g fill="#e890a0" opacity="0.75" ><ellipse cx="610.9" cy="638.6" rx="3.8" ry="3.7"/><ellipse cx="643.6" cy="707.4" rx="4.4" ry="3.8"/><ellipse cx="550.4" cy="714" rx="3.4" ry="3.2"/><ellipse cx="645.8" cy="734.7" rx="3.6" ry="2.7"/><ellipse cx="541" cy="705.9" rx="4.2" ry="3.7"/><ellipse cx="623.5" cy="717.1" rx="3.4" ry="2.7"/><ellipse cx="597.7" cy="725.5" rx="6.3" ry="6.5"/><ellipse cx="532.5" cy="658.1" rx="6.4" ry="5.6"/><ellipse cx="603.2" cy="644.2" rx="4.9" ry="3.5"/><ellipse cx="574.2" cy="715" rx="6.3" ry="6.5"/><ellipse cx="547.4" cy="682.1" rx="4.8" ry="3.8"/><ellipse cx="619.1" cy="674.3" rx="5.7" ry="4.2"/><ellipse cx="634.5" cy="710.5" rx="6.1" ry="4.6"/><ellipse cx="550.7" cy="662.3" rx="4.8" ry="3.9"/><ellipse cx="576.9" cy="654.4" rx="6.5" ry="4.6"/><ellipse cx="593.8" cy="657.5" rx="4.4" ry="3.4"/><ellipse cx="531.1" cy="700.7" rx="4.3" ry="3"/><ellipse cx="573.2" cy="644.1" rx="5.3" ry="5.6"/><ellipse cx="633" cy="732.2" rx="6.3" ry="6.4"/><ellipse cx="593.1" cy="682.9" rx="5.2" ry="5.4"/><ellipse cx="585" cy="715.8" rx="4.2" ry="3.6"/><ellipse cx="552.8" cy="716.6" rx="5" ry="3.9"/><ellipse cx="568.9" cy="710.6" rx="5.7" ry="5.7"/><ellipse cx="634.5" cy="735.7" rx="4.3" ry="3.4"/><ellipse cx="626.4" cy="716.7" rx="5.3" ry="5.5"/></g><g fill="#8070c0" opacity="0.75" ><ellipse cx="585.2" cy="641.2" rx="2.4" ry="2.1"/><ellipse cx="587" cy="712.1" rx="2.2" ry="1.6"/><ellipse cx="619.5" cy="656.6" rx="1.9" ry="1.6"/><ellipse cx="626.6" cy="688.8" rx="1.6" ry="1.1"/><ellipse cx="585.5" cy="723.2" rx="1.8" ry="1.4"/><ellipse cx="642.6" cy="712.4" rx="2" ry="1.4"/><ellipse cx="641.2" cy="658.6" rx="2.1" ry="2.2"/><ellipse cx="601.6" cy="731.4" rx="2.8" ry="2.3"/><ellipse cx="570.8" cy="686.3" rx="2.3" ry="1.5"/><ellipse cx="554.8" cy="656" rx="2.3" ry="2"/><ellipse cx="576.4" cy="682" rx="1.5" ry="1.5"/><ellipse cx="596.2" cy="640" rx="1.4" ry="1.3"/><ellipse cx="633.8" cy="669.5" rx="1.6" ry="1.2"/><ellipse cx="610.6" cy="719.5" rx="1.6" ry="1.6"/><ellipse cx="562.3" cy="653.5" rx="1.3" ry="1"/><ellipse cx="633.8" cy="665.3" rx="1.5" ry="1.4"/><ellipse cx="620.7" cy="698.5" rx="1.8" ry="1.2"/><ellipse cx="618.5" cy="734.4" rx="1.3" ry="1.2"/><ellipse cx="558.3" cy="655.5" rx="1.9" ry="1.6"/><ellipse cx="609.7" cy="646.1" rx="2.5" ry="2.2"/><ellipse cx="604.6" cy="703.2" rx="2.3" ry="1.7"/><ellipse cx="559" cy="695.6" rx="1.6" ry="1.6"/></g><g fill="#7068c0" opacity="0.75" ><ellipse cx="560.9" cy="689.4" rx="2" ry="1.5"/><ellipse cx="618.1" cy="646.6" rx="2.6" ry="1.8"/><ellipse cx="582.6" cy="697.3" rx="2.9" ry="2.6"/><ellipse cx="571.4" cy="717" rx="2.9" ry="2.6"/><ellipse cx="582" cy="676.6" rx="1.7" ry="1.8"/><ellipse cx="538.5" cy="687.4" rx="3" ry="2.6"/><ellipse cx="579.4" cy="667.6" rx="2.6" ry="2.1"/><ellipse cx="635.4" cy="680.3" rx="2.2" ry="2"/><ellipse cx="573" cy="697" rx="1.2" ry="1.3"/><ellipse cx="591.3" cy="685.1" rx="1.7" ry="1.8"/><ellipse cx="515.5" cy="671.3" rx="2.2" ry="1.9"/><ellipse cx="630.7" cy="697" rx="1.8" ry="1.8"/><ellipse cx="602.2" cy="702.9" rx="1.6" ry="1.6"/><ellipse cx="648" cy="680" rx="2.4" ry="1.6"/><ellipse cx="639.9" cy="725.6" rx="1.7" ry="1.9"/><ellipse cx="563.6" cy="717.1" rx="2.6" ry="2.7"/><ellipse cx="647.8" cy="740.7" rx="2" ry="1.5"/><ellipse cx="596.8" cy="724.8" rx="2.5" ry="2.2"/><ellipse cx="639.1" cy="654.8" rx="1.6" ry="1.1"/><ellipse cx="624" cy="690.5" rx="1.9" ry="1.8"/><ellipse cx="645.5" cy="734.2" rx="2.2" ry="1.6"/></g><g fill="#9a80c8" opacity="0.75" ><ellipse cx="580.8" cy="637.7" rx="1.2" ry="1.3"/><ellipse cx="533.7" cy="639.9" rx="1.4" ry="1.3"/><ellipse cx="616" cy="705.2" rx="2.2" ry="2.2"/><ellipse cx="622.4" cy="674.6" rx="2.6" ry="1.9"/><ellipse cx="628.1" cy="689.1" rx="1.8" ry="1.8"/><ellipse cx="551.1" cy="681.7" rx="2.4" ry="2.5"/><ellipse cx="585.6" cy="648" rx="2.7" ry="2.9"/><ellipse cx="631.3" cy="661.9" rx="2.5" ry="2.6"/><ellipse cx="635.7" cy="731.7" rx="2.7" ry="2.2"/><ellipse cx="590.4" cy="644.6" rx="1.5" ry="1.4"/><ellipse cx="619.2" cy="725" rx="2.8" ry="2.5"/><ellipse cx="523.5" cy="648.6" rx="2.9" ry="2"/><ellipse cx="545.4" cy="699.8" rx="2.3" ry="2.2"/><ellipse cx="532.6" cy="667.5" rx="2.4" ry="1.8"/><ellipse cx="532.5" cy="675.6" rx="1.7" ry="1.8"/><ellipse cx="638.9" cy="690.3" rx="2.5" ry="2.7"/><ellipse cx="542.3" cy="709.6" rx="2.8" ry="2.3"/><ellipse cx="625.8" cy="709.8" rx="2.3" ry="2.2"/><ellipse cx="517.9" cy="666.9" rx="1.3" ry="1.5"/><ellipse cx="535.2" cy="662.4" rx="1.7" ry="1.8"/><ellipse cx="547.8" cy="674" rx="1.8" ry="1.1"/><ellipse cx="607.7" cy="713.5" rx="2.8" ry="2.7"/><ellipse cx="622.5" cy="733.3" rx="2.6" ry="2.6"/><ellipse cx="542.7" cy="652.8" rx="2.8" ry="2.4"/><ellipse cx="609.1" cy="687.7" rx="2.9" ry="2"/><ellipse cx="574" cy="707.1" rx="1.8" ry="1.7"/><ellipse cx="529.9" cy="684.5" rx="1.4" ry="1"/></g><g fill="#e8ead6" opacity="0.85" ><ellipse cx="622.3" cy="657.8" rx="3.8" ry="2.6"/><ellipse cx="584.5" cy="674.9" rx="6.7" ry="6.9"/><ellipse cx="575.3" cy="661.7" rx="4" ry="3.8"/><ellipse cx="625" cy="702.1" rx="6.8" ry="5.4"/><ellipse cx="637.6" cy="649.5" rx="6.2" ry="4"/><ellipse cx="561.2" cy="659.6" rx="6.6" ry="5.9"/><ellipse cx="617.3" cy="702.7" rx="4" ry="2.6"/><ellipse cx="634.6" cy="655.1" rx="3.7" ry="3.3"/><ellipse cx="538.3" cy="693.4" rx="5.5" ry="4.6"/><ellipse cx="595" cy="638.4" rx="3.5" ry="3"/><ellipse cx="575.3" cy="653.8" rx="6" ry="4"/><ellipse cx="588.6" cy="717.7" rx="4.8" ry="3.4"/></g><g fill="#eeeee0" opacity="0.85" ><ellipse cx="603.7" cy="722.7" rx="6.6" ry="6"/><ellipse cx="531.4" cy="676.4" rx="3.8" ry="3.7"/><ellipse cx="611.5" cy="677.1" rx="3.6" ry="3.6"/><ellipse cx="548.7" cy="697.6" rx="3.8" ry="3.3"/><ellipse cx="606.9" cy="667.9" rx="4.5" ry="3"/><ellipse cx="563.3" cy="708.8" rx="6" ry="5"/><ellipse cx="600.8" cy="659.6" rx="3.9" ry="4.2"/><ellipse cx="572.5" cy="699.7" rx="4.9" ry="3.4"/><ellipse cx="548.4" cy="663.7" rx="6.8" ry="4.7"/><ellipse cx="596" cy="730" rx="5.1" ry="5"/></g><path d="M566.9 669.9Q568.8 671.7 570 676.2M632.9 651.6Q635.5 651.6 638.8 653.4M539.8 697.6Q536.4 699.9 535.4 698.6M542.6 650.2Q541.4 653.1 541 657.9M536.3 648.3Q538.7 648.7 540.9 652.2M628.4 666.9Q632.8 668.8 635.8 667.6M608.2 709Q605.7 713.3 606.5 714.7M558.3 698Q558.9 700.6 558.8 701.4M647.6 730.3Q643.2 729.6 642.4 731.1M537.3 636.8Q540.6 638.9 541 640.6M568.9 697.2Q569.6 700.4 567.5 702.4M566.6 669.2Q562.2 671.8 560.6 672.7M639.9 739Q642.8 742 642 741.4M531.8 640.9Q531.2 645.4 530 645.9M642.8 636.1Q644.6 639.4 643.1 639.2M558.9 652.1Q562.3 656.3 562.3 657.1M646.4 682.3Q646.8 685.3 646.2 687.8M594.8 729.9Q593.8 733.3 591.2 736.6M566.7 678.1Q568 678.7 566.7 681.7M611.3 728.5Q610.7 731.8 613.8 734.7M621 712.5Q621.1 717.5 617.5 719.1M593 695.9Q598 697.7 599.9 696.1M635.3 689.1Q636.5 691.6 640.5 693.9M531 668.2Q528 669.6 524.6 670.7M644.4 637.9Q646.3 641.6 644.6 641.8M583.4 680.4Q586.5 681.7 588 680.5M588 689.5Q584.6 688.2 584.9 689.7M641.4 649.1Q642.3 652.7 641.8 654M590.3 722.4Q587.1 724.4 585.6 727.7M549.9 669.9Q549.1 672.3 547.5 673M633.6 740.4Q638.6 739.9 639.9 742.5M555 703.9Q555.1 705 552.4 709.3M534.6 669.9Q533.4 672.5 529 673.5M647 655.8Q645 657.1 643 660.8M524.5 653.5Q524.3 654.5 523 658.5M628.6 721Q630.2 723.6 633.2 723.2M646 678Q648.3 681.5 649 685M626.1 690.5Q629.1 693 628.6 697.8M616 681.3Q615.8 686.4 615.5 689.1M596 690.8Q599.2 690.7 599.1 693.3M600.1 704.9Q599.2 707.6 597.4 707.2M597.8 714.3Q596.4 715.2 594.9 717.9M554.3 703.9Q554 705.2 549.9 707.1M622.8 707.5Q624.3 711.7 625.1 714.4M611.8 641.1Q615.4 641.7 616.1 645.4M624.3 706.4Q624.6 709.5 628.2 712.1M541 697.2Q536.2 701.3 534.9 701.7M625.9 686Q627.2 686.1 629.4 687.6M603.6 713.8Q603.9 714.2 600.3 715.2M630.2 652.7Q625.7 656.2 624.5 656M554 639.3Q553.4 640.8 548.9 645.4M601.2 704.6Q601.9 707.6 603.2 709.9M534.5 701.4Q533.9 702.2 536.5 704.9M616.9 631.5Q615 632.7 613.3 631.6M555.1 658Q552.7 659.2 552.9 661M623.3 652Q627.7 654 628.3 653.4M574.2 666Q576.1 669.9 575.6 672.2M643.5 740.5Q644.3 743.6 644.7 745.1M623.7 708.5Q623.4 711.5 624.4 712.4M640.1 729.1Q642.1 730 642.2 734.4M565.5 655Q560.5 657.5 558.6 657.7M555.4 700.5Q556.4 701.6 557.8 702.6M603.1 677.2Q600.2 676.7 601.1 679.4M528.7 684.5Q523.3 685.1 521.8 686.1M633.3 677.2Q636.6 678.4 637.3 680.3M579 682.9Q579.2 685.3 580.8 686M636.2 711.9Q636.8 713.4 634.1 718.7M574.8 725.4Q577.4 728 580.8 730.5M589.5 692.5Q588.3 692.4 585.5 695.6M537.2 673.5Q534.6 674.4 534.8 677.8M640.2 691.5Q642.7 694 643.5 693.6M586.1 670.2Q587.7 672 590.4 675.6M591.1 725.2Q593.3 727.2 594.7 730.9M630.7 708.5Q629.4 711.3 627.9 712.6M541.8 652.9Q536.7 656.5 534.9 656.7M563.2 658.6Q564.7 659.9 567.1 658.8M636.7 664.1Q635.9 667.5 636.1 668M581 700.3Q581.8 704.3 578.8 704.4M614.9 647.6Q614.4 649.8 612.5 652.4M628.8 660.9Q628.8 665.6 629.5 667.1" stroke="#6a74c8" stroke-width="1" fill="none" opacity="0.6"/><g fill="#e8a4b4" opacity="0.55" ><ellipse cx="453.8" cy="700" rx="2.6" ry="2.7"/><ellipse cx="459.2" cy="663.9" rx="2.2" ry="2.3"/><ellipse cx="453.8" cy="772" rx="3.7" ry="3.5"/><ellipse cx="463.7" cy="706" rx="2.9" ry="1.9"/><ellipse cx="445.7" cy="728.1" rx="3.1" ry="3.2"/><ellipse cx="457.9" cy="671.3" rx="3.1" ry="2.1"/><ellipse cx="447.9" cy="770.1" rx="3.9" ry="3.9"/><ellipse cx="446.4" cy="677" rx="3.7" ry="3.2"/><ellipse cx="452.3" cy="738.7" rx="2.1" ry="2"/><ellipse cx="458.3" cy="639.1" rx="3.6" ry="3.3"/><ellipse cx="443.8" cy="641.2" rx="2.9" ry="2.3"/><ellipse cx="464.1" cy="773.9" rx="2.6" ry="2.3"/><ellipse cx="442.3" cy="686.5" rx="3.3" ry="2.7"/><ellipse cx="454.6" cy="768.4" rx="3.6" ry="3"/><ellipse cx="460.1" cy="754.2" rx="2.8" ry="2"/></g><g fill="#f0b2ba" opacity="0.55" ><ellipse cx="447.3" cy="728.4" rx="2.8" ry="1.9"/><ellipse cx="450" cy="713.8" rx="4" ry="2.7"/><ellipse cx="466.7" cy="639.5" rx="2.8" ry="2"/><ellipse cx="447.1" cy="668.6" rx="3.9" ry="2.7"/><ellipse cx="453.7" cy="705.7" rx="2.4" ry="1.8"/><ellipse cx="458.9" cy="750.6" rx="2.5" ry="2.1"/><ellipse cx="443.4" cy="631.3" rx="3.4" ry="3.2"/><ellipse cx="459.7" cy="768.4" rx="3.2" ry="3"/><ellipse cx="443.7" cy="635.2" rx="3" ry="2.7"/><ellipse cx="457.3" cy="758.4" rx="3.2" ry="2.3"/><ellipse cx="459.5" cy="714.3" rx="3.8" ry="3.2"/><ellipse cx="455.5" cy="766.3" rx="3" ry="3.2"/><ellipse cx="470.5" cy="735.5" rx="2.8" ry="1.9"/><ellipse cx="451.4" cy="688.1" rx="3.2" ry="2.4"/><ellipse cx="445.2" cy="665.5" rx="2.7" ry="2.5"/><ellipse cx="447.6" cy="713.4" rx="2.9" ry="2.4"/><ellipse cx="461.3" cy="685.7" rx="2.2" ry="1.5"/><ellipse cx="446.2" cy="648.1" rx="3.2" ry="2.9"/><ellipse cx="450.8" cy="677.9" rx="2.6" ry="1.8"/><ellipse cx="449.8" cy="726.4" rx="3.1" ry="3"/></g><g fill="#c8b2d8" opacity="0.55" ><ellipse cx="469.5" cy="743.7" rx="2.3" ry="1.9"/><ellipse cx="442.8" cy="715.1" rx="2.8" ry="2.5"/><ellipse cx="461.1" cy="686.1" rx="3.5" ry="3.8"/><ellipse cx="464.8" cy="746.9" rx="3.9" ry="3.6"/><ellipse cx="458.4" cy="690" rx="3.9" ry="4"/><ellipse cx="453.9" cy="750.2" rx="2.2" ry="1.5"/><ellipse cx="452.7" cy="720.5" rx="2.8" ry="2.5"/><ellipse cx="463.7" cy="696.3" rx="3.8" ry="3.2"/><ellipse cx="452.3" cy="746.4" rx="2.5" ry="2"/><ellipse cx="457.4" cy="688.8" rx="2.1" ry="1.5"/><ellipse cx="456.1" cy="663.7" rx="4" ry="3.8"/><ellipse cx="459.5" cy="748.9" rx="2.9" ry="2.3"/><ellipse cx="445.4" cy="769.7" rx="3.4" ry="2.6"/><ellipse cx="450.3" cy="744.8" rx="3.2" ry="2.3"/><ellipse cx="455.2" cy="637.2" rx="2" ry="1.4"/><ellipse cx="467" cy="637" rx="3.5" ry="2.9"/><ellipse cx="453.8" cy="731.1" rx="3.4" ry="3.3"/><ellipse cx="458.7" cy="712.7" rx="2.3" ry="2.2"/></g><g fill="#d8aac2" opacity="0.55" ><ellipse cx="442.4" cy="739.1" rx="2.8" ry="3"/><ellipse cx="444.8" cy="738.3" rx="2.7" ry="1.9"/><ellipse cx="451.6" cy="672" rx="2.9" ry="3.1"/><ellipse cx="459.9" cy="662.9" rx="3.5" ry="2.7"/><ellipse cx="458.1" cy="752.7" rx="3.5" ry="2.4"/><ellipse cx="455.6" cy="736.5" rx="3.7" ry="3"/><ellipse cx="454.6" cy="725.2" rx="3" ry="2.6"/><ellipse cx="455.7" cy="738.1" rx="2.6" ry="2.8"/><ellipse cx="459.9" cy="652.7" rx="3.3" ry="2.8"/><ellipse cx="456" cy="697.2" rx="3.1" ry="2.8"/><ellipse cx="457.3" cy="673.2" rx="3.9" ry="4.3"/><ellipse cx="448.5" cy="701.7" rx="3.4" ry="3.6"/><ellipse cx="450.1" cy="693.8" rx="2.2" ry="1.6"/><ellipse cx="445" cy="640.3" rx="3.9" ry="2.8"/><ellipse cx="454.6" cy="723.4" rx="2.1" ry="1.9"/><ellipse cx="457.4" cy="702.4" rx="2.7" ry="2.8"/><ellipse cx="443.9" cy="632.3" rx="2.9" ry="2.3"/></g><path d="M454.8 639.8Q456.6 645 458.5 647.3M457.4 635.5Q458.7 642.6 463.4 646.1M448.6 746.8Q449.9 752 453.3 757.6M449.8 652.4Q456.1 654 459.1 655.6M464.3 686Q459.4 688.6 456 692M453.9 647.6Q457.9 651 461.1 653.8M471.9 634.2Q475.9 638.8 476.7 643.5M466.6 729.3Q470.2 734 472.3 735.7M459.8 693.1Q462 695.8 467.3 698.7M444.9 666.6Q449 669.8 456.2 672.9M465.6 745.9Q462.2 747.2 458.4 746.9M455.1 673.9Q452.2 680.3 446.9 683.4M451.3 721.2Q448 720.4 444.9 721.9M456.2 673.7Q461.8 679.7 466.1 683.5M442.3 701.6Q441.3 703.9 440.5 708.6M459.9 640.7Q460.5 643.5 460.4 647.5M469.2 754.7Q469.9 757 467.5 761.6M455.8 691.6Q453.1 691.4 447.8 691.6M446.2 651.9Q446.1 660.1 447.9 664.2M467.6 728.9Q462 730 455 729M462.6 710.9Q457.6 713.6 451.8 713.9M460 686.4Q460 691.4 463.8 692.9M450.9 719.2Q452.3 724 450.9 730.2M450.6 657Q447 658.2 443.8 657.6M445.1 723.8Q441.5 730.1 437.5 733.8" stroke="#b0b4d8" stroke-width="0.8" fill="none" opacity="0.6"/></g>
<g filter="url(#bl)"><g fill="none" stroke="#c8ae40" stroke-width=".8"><circle cx="519.4" cy="638.8" r="1"/><circle cx="516.7" cy="636.2" r="1.1"/><circle cx="517.1" cy="635.1" r="1.3"/><circle cx="511.6" cy="636.8" r="0.9"/><circle cx="518.1" cy="641.1" r="1.3"/><circle cx="512.6" cy="633.5" r="1.1"/><circle cx="515.9" cy="641.6" r="0.9"/><circle cx="513.9" cy="642" r="0.9"/><circle cx="513.9" cy="664.7" r="1.2"/><circle cx="518.9" cy="670.2" r="1.2"/><circle cx="526.6" cy="669.8" r="1"/><circle cx="521.5" cy="664.8" r="1.2"/><circle cx="523.2" cy="670.4" r="1"/><circle cx="523" cy="670.2" r="1"/><circle cx="524.3" cy="667.5" r="1.1"/><circle cx="516.6" cy="668.1" r="1"/><circle cx="524.1" cy="663.1" r="1.2"/><circle cx="517.1" cy="673.1" r="1.1"/><circle cx="524.1" cy="659.4" r="0.9"/><circle cx="516.1" cy="666.5" r="1.3"/><circle cx="508.6" cy="681.3" r="1"/><circle cx="512.5" cy="689.1" r="1.3"/><circle cx="507.8" cy="684.2" r="1"/><circle cx="511" cy="677.9" r="1.1"/><circle cx="512.4" cy="689.3" r="1.2"/><circle cx="507.5" cy="681.6" r="1.2"/><circle cx="513.5" cy="687.8" r="1.3"/><circle cx="517.1" cy="687.7" r="1"/><circle cx="539.1" cy="651.3" r="1.1"/><circle cx="534" cy="651.7" r="1.2"/><circle cx="530.4" cy="653.5" r="1"/><circle cx="529.6" cy="653.8" r="1.1"/><circle cx="529.3" cy="652.8" r="1.3"/><circle cx="614.4" cy="701.5" r="1"/><circle cx="611.6" cy="704.2" r="1.3"/><circle cx="601.4" cy="699.3" r="1.1"/><circle cx="610.2" cy="700.3" r="1.1"/><circle cx="606.5" cy="698.8" r="1.1"/><circle cx="558.7" cy="690.3" r="1.1"/><circle cx="556.2" cy="699.7" r="1.3"/><circle cx="556.4" cy="695" r="1.2"/><circle cx="558.9" cy="682.3" r="1.1"/><circle cx="605.8" cy="659.3" r="1.1"/><circle cx="600.5" cy="658.4" r="1.1"/><circle cx="600.8" cy="665.8" r="1.1"/><circle cx="596.5" cy="661.9" r="0.9"/><circle cx="453.3" cy="764.8" r="1"/><circle cx="452.8" cy="756" r="1.2"/><circle cx="452.7" cy="757.6" r="1.2"/><circle cx="447.4" cy="771.9" r="1"/><circle cx="446.4" cy="762.8" r="1"/><circle cx="450.7" cy="755.5" r="1"/><circle cx="449.5" cy="758.7" r="1.2"/><circle cx="455.7" cy="773.4" r="1"/></g></g>
</g>
<rect x="441.2" y="630.1" width="207.6" height="146.3" fill="none" stroke="#1e6b38" stroke-width="3"/>
<polygon points="494.4,662.6 495.0,673.2 485,685.3" fill="#fff" stroke="#111" stroke-width="1"/>
<polygon points="495.0,673.2 505.3,671.4 485,685.3" fill="#111"/>
</g></svg>
</body></html>
